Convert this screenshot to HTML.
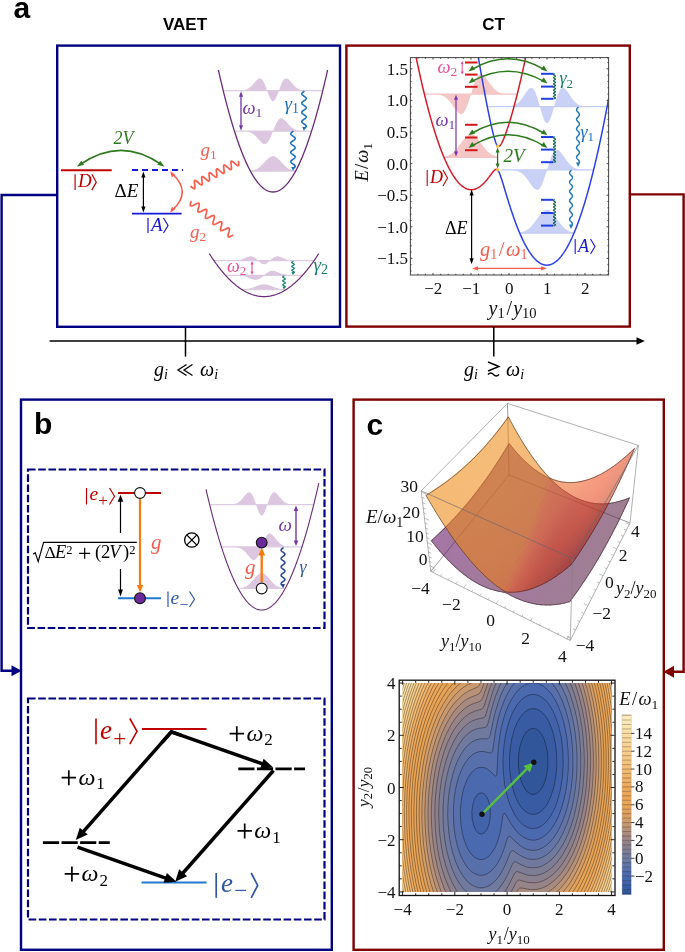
<!DOCTYPE html>
<html><head><meta charset="utf-8"><style>
html,body{margin:0;padding:0;background:#fff;}
svg{display:block;will-change:transform;}
</style></head><body>
<svg width="685" height="952" viewBox="0 0 685 952">
<rect width="685" height="952" fill="#fff"/>
<rect x="57.2" y="45.6" width="282.8" height="281.2" fill="none" stroke="#000080" stroke-width="2.4"/>
<rect x="346.4" y="45.6" width="283.4" height="281" fill="none" stroke="#800000" stroke-width="2.4"/>
<rect x="21" y="399.6" width="310.8" height="550.2" fill="none" stroke="#000080" stroke-width="2.4"/>
<rect x="353.6" y="399.6" width="310.2" height="550.2" fill="none" stroke="#800000" stroke-width="2.4"/>
<path d="M57.2,195 H1.6 V670.7 H14" fill="none" stroke="#000080" stroke-width="2.4"/>
<path d="M21.5,670.7 L11.5,665.2 L11.5,676.2 Z" fill="#000080"/>
<path d="M629.8,194.4 H683.6 V671.8 H671" fill="none" stroke="#800000" stroke-width="2.4"/>
<path d="M663.5,671.8 L674,665.8 L674,677.8 Z" fill="#800000"/>
<line x1="49.6" y1="341" x2="637" y2="341" stroke="#000" stroke-width="1.7"/>
<path d="M644.8,341 L636.5,337.2 L636.5,344.8 Z" fill="#000"/>
<line x1="185.5" y1="327" x2="185.5" y2="356.6" stroke="#000" stroke-width="1.5"/>
<line x1="493.8" y1="327" x2="493.8" y2="356.6" stroke="#000" stroke-width="1.5"/>
<text x="154" y="376" style="font-family:'Liberation Serif',serif;font-size:20px;fill:#000;font-style:italic" text-anchor="start">g<tspan dy="3" font-size="14" font-style="italic">i</tspan></text>
<path d="M186.5,364.5 L178,370 L186.5,375.5" fill="none" stroke="#000" stroke-width="1.3"/>
<path d="M192.5,364.5 L184,370 L192.5,375.5" fill="none" stroke="#000" stroke-width="1.3"/>
<text x="200" y="376" style="font-family:'Liberation Serif',serif;font-size:20px;fill:#000;font-style:italic" text-anchor="start">&#969;<tspan dy="3" font-size="14" font-style="italic">i</tspan></text>
<text x="464" y="376" style="font-family:'Liberation Serif',serif;font-size:20px;fill:#000;font-style:italic" text-anchor="start">g<tspan dy="3" font-size="14" font-style="italic">i</tspan></text>
<path d="M488,362 L499,366.5 L488,371" fill="none" stroke="#000" stroke-width="1.4"/>
<path d="M488,374.5 q2.75,-3 5.5,0 t5.5,0" fill="none" stroke="#000" stroke-width="1.4"/>
<text x="506" y="376" style="font-family:'Liberation Serif',serif;font-size:20px;fill:#000;font-style:italic" text-anchor="start">&#969;<tspan dy="3" font-size="14" font-style="italic">i</tspan></text>
<text x="13.5" y="17.5" style="font-family:'Liberation Sans',sans-serif;font-size:30px;fill:#000;font-weight:bold" text-anchor="start">a</text>
<text x="34" y="434.4" style="font-family:'Liberation Sans',sans-serif;font-size:30px;fill:#000;font-weight:bold" text-anchor="start">b</text>
<text x="366.5" y="434.7" style="font-family:'Liberation Sans',sans-serif;font-size:30px;fill:#000;font-weight:bold" text-anchor="start">c</text>
<text x="185" y="30.2" style="font-family:'Liberation Sans',sans-serif;font-size:17px;fill:#000;font-weight:bold" text-anchor="middle">VAET</text>
<text x="493.5" y="30.2" style="font-family:'Liberation Sans',sans-serif;font-size:17px;fill:#000;font-weight:bold" text-anchor="middle">CT</text>
<line x1="61" y1="170.2" x2="111.7" y2="170.2" stroke="#c00000" stroke-width="1.9"/>
<line x1="75.1" y1="174.2" x2="75.1" y2="190.1" stroke="#c00000" stroke-width="1.2"/>
<text x="78" y="187.3" style="font-family:'Liberation Serif',serif;font-size:19px;fill:#c00000;font-style:italic" text-anchor="start">D</text>
<path d="M91.8,174.2 L96.3,182.15 L91.8,190.1" fill="none" stroke="#c00000" stroke-width="1.2" stroke-linejoin="miter"/>
<path d="M80,164.6 Q121,136 161.5,164.6" fill="none" stroke="#2e7a1e" stroke-width="1.7"/>
<path d="M76.9,166.7 L81.25,160.67 L84.08,164.79 Z" fill="#2e7a1e"/>
<path d="M164.5,166.7 L157.32,164.79 L160.15,160.67 Z" fill="#2e7a1e"/>
<text x="113.5" y="144" style="font-family:'Liberation Serif',serif;font-size:18px;fill:#2e7a1e;font-style:italic" text-anchor="start">2<tspan>V</tspan></text>
<line x1="132" y1="170" x2="183" y2="170" stroke="#1818d8" stroke-width="1.8" stroke-dasharray="6,4"/>
<line x1="132" y1="213.6" x2="181.6" y2="213.6" stroke="#1818d8" stroke-width="1.9"/>
<line x1="148" y1="218" x2="148" y2="233" stroke="#1818d8" stroke-width="1.2"/>
<text x="151" y="230.5" style="font-family:'Liberation Serif',serif;font-size:19px;fill:#1818d8;font-style:italic" text-anchor="start">A</text>
<path d="M163.5,218 L168,225.5 L163.5,233" fill="none" stroke="#1818d8" stroke-width="1.2" stroke-linejoin="miter"/>
<text x="114.5" y="197" style="font-family:'Liberation Serif',serif;font-size:19px;fill:#000" text-anchor="start">&#916;<tspan font-style="italic">E</tspan></text>
<line x1="143.4" y1="175.7" x2="143.4" y2="208.3" stroke="#000" stroke-width="1.2"/>
<path d="M143.4,171.5 L145.5,177.5 L141.3,177.5 Z" fill="#000"/>
<path d="M143.4,212.5 L141.3,206.5 L145.5,206.5 Z" fill="#000"/>
<path d="M172.5,174 Q192,192 172.5,210" fill="none" stroke="#f75c4c" stroke-width="1.6"/>
<path d="M170,171.2 L175.4,174.65 L171.8,177.35 Z" fill="#f75c4c"/>
<path d="M170,212.8 L171.8,206.65 L175.4,209.35 Z" fill="#f75c4c"/>
<path d="M191,186.5 L191.58,187.02 L192.14,187.52 L192.68,187.96 L193.17,188.32 L193.62,188.59 L194,188.75 L194.32,188.78 L194.57,188.68 L194.75,188.45 L194.87,188.09 L194.92,187.61 L194.92,187.03 L194.87,186.37 L194.79,185.64 L194.69,184.87 L194.59,184.1 L194.49,183.34 L194.42,182.63 L194.38,181.98 L194.39,181.42 L194.46,180.97 L194.59,180.64 L194.79,180.44 L195.05,180.37 L195.39,180.43 L195.79,180.62 L196.25,180.91 L196.75,181.29 L197.29,181.75 L197.86,182.25 L198.44,182.78 L199.02,183.29 L199.58,183.78 L200.1,184.2 L200.59,184.55 L201.02,184.79 L201.39,184.92 L201.69,184.92 L201.93,184.79 L202.09,184.53 L202.19,184.14 L202.23,183.64 L202.22,183.04 L202.16,182.36 L202.08,181.62 L201.98,180.85 L201.87,180.08 L201.78,179.33 L201.72,178.63 L201.69,178 L201.71,177.46 L201.79,177.04 L201.94,176.74 L202.15,176.57 L202.43,176.53 L202.78,176.62 L203.2,176.83 L203.67,177.14 L204.18,177.55 L204.73,178.02 L205.3,178.53 L205.88,179.05 L206.46,179.56 L207.01,180.03 L207.53,180.44 L208,180.77 L208.42,180.99 L208.77,181.09 L209.06,181.06 L209.28,180.9 L209.43,180.61 L209.52,180.19 L209.54,179.66 L209.52,179.04 L209.45,178.34 L209.36,177.6 L209.26,176.82 L209.16,176.06 L209.07,175.31 L209.01,174.63 L209,174.02 L209.03,173.51 L209.13,173.11 L209.29,172.84 L209.52,172.7 L209.81,172.69 L210.18,172.81 L210.61,173.05 L211.09,173.38 L211.61,173.8 L212.17,174.28 L212.74,174.8 L213.32,175.32 L213.89,175.83 L214.44,176.29 L214.95,176.68 L215.41,176.98 L215.81,177.17 L216.15,177.24 L216.43,177.19 L216.63,176.99 L216.76,176.67 L216.83,176.23 L216.85,175.68 L216.81,175.04 L216.74,174.33 L216.65,173.57 L216.54,172.8 L216.45,172.03 L216.36,171.3 L216.31,170.63 L216.31,170.05 L216.36,169.56 L216.46,169.19 L216.64,168.95 L216.89,168.84 L217.2,168.86 L217.58,169.01 L218.02,169.27 L218.51,169.63 L219.05,170.06 L219.61,170.56 L220.19,171.07 L220.76,171.6 L221.33,172.09 L221.87,172.54 L222.37,172.91 L222.82,173.19 L223.21,173.36 L223.53,173.4 L223.79,173.31 L223.97,173.09 L224.09,172.74 L224.15,172.27 L224.15,171.69 L224.11,171.03 L224.03,170.31 L223.93,169.55 L223.83,168.78 L223.73,168.02 L223.66,167.3 L223.62,166.64 L223.62,166.08 L223.68,165.62 L223.81,165.28 L224,165.07 L224.26,164.99 L224.59,165.04 L224.99,165.21 L225.44,165.5 L225.94,165.88 L226.48,166.33 L227.05,166.83 L227.63,167.35 L228.2,167.87 L228.76,168.36 L229.29,168.79 L229.78,169.14 L230.22,169.39 L230.59,169.53 L230.9,169.54 L231.14,169.42 L231.32,169.17 L231.42,168.79 L231.46,168.3 L231.45,167.7 L231.4,167.03 L231.32,166.29 L231.22,165.53 L231.11,164.75 L231.02,164 L230.95,163.29 L230.92,162.66 L230.94,162.12 L231.01,161.68 L231.15,161.37 L231.36,161.19 L231.64,161.14 L231.98,161.22 L232.39,161.42 L232.86,161.73 L233.37,162.13 L233.92,162.59 L234.49,163.1 L235.07,163.62 L235.64,164.14 L236.2,164.62 L236.72,165.03 L237.2,165.36 L237.62,165.59 L237.98,165.7 L238.27,165.68 L238.5,165.53 L238.65,165.25 L238.74,164.84 L238.77,164.32 L238.75,163.71 L238.69,163.02 L238.6,162.27 L238.5,161.5" fill="none" stroke="#f75c4c" stroke-width="1.7" stroke-linecap="round" stroke-linejoin="round"/>
<path d="M191,201.5 L190.82,202.15 L190.64,202.78 L190.49,203.39 L190.38,203.96 L190.3,204.47 L190.28,204.92 L190.32,205.29 L190.42,205.6 L190.59,205.81 L190.82,205.95 L191.12,206 L191.49,205.98 L191.92,205.88 L192.4,205.72 L192.92,205.51 L193.48,205.25 L194.06,204.95 L194.66,204.65 L195.26,204.34 L195.86,204.04 L196.43,203.77 L196.96,203.53 L197.46,203.35 L197.91,203.23 L198.3,203.18 L198.62,203.2 L198.88,203.31 L199.07,203.5 L199.2,203.77 L199.26,204.12 L199.26,204.54 L199.2,205.03 L199.1,205.58 L198.96,206.17 L198.8,206.8 L198.61,207.45 L198.43,208.1 L198.25,208.74 L198.09,209.36 L197.96,209.94 L197.87,210.47 L197.83,210.94 L197.84,211.35 L197.92,211.68 L198.06,211.93 L198.27,212.09 L198.55,212.18 L198.9,212.18 L199.3,212.11 L199.76,211.97 L200.27,211.77 L200.82,211.53 L201.4,211.24 L201.99,210.94 L202.59,210.63 L203.19,210.33 L203.77,210.04 L204.32,209.79 L204.83,209.59 L205.3,209.45 L205.71,209.37 L206.06,209.37 L206.34,209.44 L206.56,209.6 L206.71,209.84 L206.79,210.16 L206.81,210.56 L206.77,211.03 L206.69,211.56 L206.56,212.14 L206.4,212.75 L206.23,213.39 L206.04,214.04 L205.86,214.69 L205.69,215.32 L205.55,215.91 L205.44,216.46 L205.38,216.96 L205.38,217.39 L205.43,217.75 L205.55,218.03 L205.73,218.22 L205.99,218.34 L206.31,218.37 L206.69,218.32 L207.13,218.21 L207.63,218.03 L208.16,217.8 L208.73,217.53 L209.32,217.24 L209.92,216.93 L210.52,216.62 L211.1,216.33 L211.67,216.06 L212.19,215.84 L212.68,215.67 L213.11,215.57 L213.48,215.54 L213.79,215.59 L214.03,215.72 L214.21,215.93 L214.31,216.22 L214.35,216.59 L214.34,217.03 L214.27,217.54 L214.16,218.1 L214.01,218.71 L213.84,219.34 L213.65,219.99 L213.47,220.64 L213.29,221.27 L213.14,221.88 L213.02,222.45 L212.94,222.97 L212.92,223.42 L212.95,223.81 L213.04,224.12 L213.2,224.34 L213.43,224.49 L213.73,224.55 L214.09,224.53 L214.51,224.44 L214.99,224.28 L215.51,224.07 L216.06,223.82 L216.65,223.53 L217.25,223.22 L217.85,222.91 L218.44,222.61 L219.01,222.34 L219.55,222.1 L220.05,221.91 L220.5,221.78 L220.9,221.72 L221.23,221.74 L221.5,221.84 L221.7,222.02 L221.83,222.29 L221.89,222.63 L221.9,223.05 L221.85,223.53 L221.75,224.07 L221.61,224.66 L221.45,225.29 L221.27,225.93 L221.08,226.58 L220.9,227.22 L220.74,227.85 L220.61,228.43 L220.51,228.97 L220.47,229.45 L220.48,229.86 L220.55,230.2 L220.68,230.45 L220.89,230.63 L221.16,230.72 L221.5,230.73 L221.9,230.66 L222.35,230.53 L222.86,230.34 L223.4,230.1 L223.98,229.82 L224.57,229.52 L225.17,229.21 L225.77,228.9 L226.35,228.61 L226.91,228.36 L227.42,228.15 L227.89,228 L228.31,227.92 L228.66,227.91 L228.95,227.98 L229.18,228.13 L229.33,228.36 L229.42,228.68 L229.45,229.07 L229.41,229.53 L229.33,230.05 L229.21,230.63 L229.06,231.24 L228.88,231.88 L228.69,232.53 L228.51,233.17 L228.34,233.81 L228.2,234.41 L228.09,234.96 L228.02,235.46 L228.01,235.9 L228.06,236.26 L228.17,236.55 L228.35,236.75 L228.6,236.88 L228.91,236.91 L229.29,236.88 L229.73,236.77 L230.22,236.6 L230.75,236.37 L231.31,236.1 L231.9,235.81 L232.5,235.5" fill="none" stroke="#f75c4c" stroke-width="1.7" stroke-linecap="round" stroke-linejoin="round"/>
<text x="200.5" y="156" style="font-family:'Liberation Serif',serif;font-size:19px;fill:#f75c4c;font-style:italic" text-anchor="start">g<tspan dy="3" font-size="13.5" font-style="normal">1</tspan></text>
<text x="190" y="238" style="font-family:'Liberation Serif',serif;font-size:19px;fill:#f75c4c;font-style:italic" text-anchor="start">g<tspan dy="3" font-size="13" font-style="normal">2</tspan></text>
<path d="M223.81,90.6 L223.81,90.6 L224.64,90.6 L225.47,90.6 L226.29,90.6 L227.12,90.6 L227.95,90.6 L228.77,90.6 L229.6,90.6 L230.43,90.6 L231.25,90.6 L232.08,90.6 L232.91,90.6 L233.73,90.59 L234.56,90.59 L235.39,90.59 L236.21,90.58 L237.04,90.57 L237.87,90.55 L238.69,90.53 L239.52,90.5 L240.35,90.46 L241.17,90.41 L242,90.33 L242.83,90.24 L243.65,90.11 L244.48,89.94 L245.31,89.74 L246.13,89.48 L246.96,89.15 L247.79,88.76 L248.61,88.29 L249.44,87.74 L250.27,87.1 L251.09,86.38 L251.92,85.57 L252.75,84.7 L253.57,83.76 L254.4,82.8 L255.23,81.83 L256.05,80.91 L256.88,80.06 L257.71,79.34 L258.53,78.8 L259.36,78.48 L260.19,78.45 L261.01,78.73 L261.84,79.35 L262.67,80.32 L263.49,81.65 L264.32,83.3 L265.15,85.23 L265.97,87.38 L266.8,89.67 L267.63,91.99 L268.45,94.26 L269.28,96.35 L270.11,98.17 L270.93,99.62 L271.76,100.64 L272.59,101.16 L273.41,101.16 L274.24,100.64 L275.07,99.62 L275.89,98.17 L276.72,96.35 L277.55,94.26 L278.37,91.99 L279.2,89.67 L280.03,87.38 L280.85,85.23 L281.68,83.3 L282.51,81.65 L283.33,80.32 L284.16,79.35 L284.99,78.73 L285.81,78.45 L286.64,78.48 L287.47,78.8 L288.29,79.34 L289.12,80.06 L289.95,80.91 L290.77,81.83 L291.6,82.8 L292.43,83.76 L293.25,84.7 L294.08,85.57 L294.91,86.38 L295.73,87.1 L296.56,87.74 L297.39,88.29 L298.21,88.76 L299.04,89.15 L299.87,89.48 L300.69,89.74 L301.52,89.94 L302.35,90.11 L303.17,90.24 L304,90.33 L304.83,90.41 L305.65,90.46 L306.48,90.5 L307.31,90.53 L308.13,90.55 L308.96,90.57 L309.79,90.58 L310.61,90.59 L311.44,90.59 L312.27,90.59 L313.09,90.6 L313.92,90.6 L314.75,90.6 L315.57,90.6 L316.4,90.6 L317.23,90.6 L318.05,90.6 L318.88,90.6 L319.71,90.6 L320.53,90.6 L321.36,90.6 L322.19,90.6 L322.19,90.6 Z" fill="#dcc6e0" stroke="none"/>
<line x1="223.31" y1="90.6" x2="322.69" y2="90.6" stroke="#dccbe0" stroke-width="1.3"/>
<path d="M235.03,131.2 L235.03,131.2 L235.66,131.2 L236.3,131.21 L236.94,131.21 L237.58,131.21 L238.22,131.21 L238.86,131.22 L239.49,131.22 L240.13,131.23 L240.77,131.24 L241.41,131.26 L242.05,131.28 L242.68,131.3 L243.32,131.33 L243.96,131.36 L244.6,131.41 L245.24,131.46 L245.88,131.53 L246.51,131.62 L247.15,131.72 L247.79,131.84 L248.43,131.99 L249.07,132.16 L249.7,132.36 L250.34,132.6 L250.98,132.87 L251.62,133.18 L252.26,133.54 L252.9,133.94 L253.53,134.38 L254.17,134.88 L254.81,135.42 L255.45,136 L256.09,136.63 L256.73,137.29 L257.36,137.99 L258,138.7 L258.64,139.43 L259.28,140.16 L259.92,140.87 L260.55,141.55 L261.19,142.19 L261.83,142.76 L262.47,143.25 L263.11,143.65 L263.75,143.92 L264.38,144.07 L265.02,144.07 L265.66,143.91 L266.3,143.58 L266.94,143.09 L267.58,142.42 L268.21,141.58 L268.85,140.57 L269.49,139.42 L270.13,138.12 L270.77,136.71 L271.4,135.21 L272.04,133.63 L272.68,132.02 L273.32,130.38 L273.96,128.77 L274.6,127.19 L275.23,125.69 L275.87,124.28 L276.51,122.98 L277.15,121.83 L277.79,120.82 L278.42,119.98 L279.06,119.31 L279.7,118.82 L280.34,118.49 L280.98,118.33 L281.62,118.33 L282.25,118.48 L282.89,118.75 L283.53,119.15 L284.17,119.64 L284.81,120.21 L285.45,120.85 L286.08,121.53 L286.72,122.24 L287.36,122.97 L288,123.7 L288.64,124.41 L289.27,125.11 L289.91,125.77 L290.55,126.4 L291.19,126.98 L291.83,127.52 L292.47,128.02 L293.1,128.46 L293.74,128.86 L294.38,129.22 L295.02,129.53 L295.66,129.8 L296.3,130.04 L296.93,130.24 L297.57,130.41 L298.21,130.56 L298.85,130.68 L299.49,130.78 L300.12,130.87 L300.76,130.94 L301.4,130.99 L302.04,131.04 L302.68,131.07 L303.32,131.1 L303.95,131.12 L304.59,131.14 L305.23,131.16 L305.87,131.17 L306.51,131.18 L307.14,131.18 L307.78,131.19 L308.42,131.19 L309.06,131.19 L309.7,131.19 L310.34,131.2 L310.97,131.2 L310.97,131.2 Z" fill="#dcc6e0" stroke="none"/>
<line x1="234.53" y1="131.2" x2="311.47" y2="131.2" stroke="#dccbe0" stroke-width="1.3"/>
<path d="M251,171.2 L251,170.75 L251.37,170.7 L251.74,170.64 L252.11,170.57 L252.48,170.49 L252.85,170.41 L253.22,170.32 L253.59,170.23 L253.96,170.12 L254.32,170 L254.69,169.88 L255.06,169.75 L255.43,169.6 L255.8,169.44 L256.17,169.28 L256.54,169.1 L256.91,168.9 L257.28,168.7 L257.65,168.48 L258.02,168.25 L258.39,168.01 L258.76,167.75 L259.13,167.48 L259.5,167.2 L259.87,166.9 L260.24,166.59 L260.61,166.27 L260.98,165.93 L261.35,165.59 L261.72,165.23 L262.09,164.87 L262.46,164.49 L262.83,164.11 L263.2,163.72 L263.57,163.32 L263.94,162.92 L264.31,162.52 L264.68,162.11 L265.05,161.71 L265.42,161.3 L265.79,160.9 L266.16,160.5 L266.53,160.12 L266.9,159.73 L267.27,159.36 L267.64,159.01 L268.01,158.66 L268.38,158.34 L268.75,158.03 L269.12,157.73 L269.49,157.46 L269.86,157.22 L270.23,156.99 L270.6,156.79 L270.97,156.62 L271.34,156.48 L271.71,156.36 L272.08,156.27 L272.45,156.21 L272.82,156.18 L273.18,156.18 L273.55,156.21 L273.92,156.27 L274.29,156.36 L274.66,156.48 L275.03,156.62 L275.4,156.79 L275.77,156.99 L276.14,157.22 L276.51,157.46 L276.88,157.73 L277.25,158.03 L277.62,158.34 L277.99,158.66 L278.36,159.01 L278.73,159.36 L279.1,159.73 L279.47,160.12 L279.84,160.5 L280.21,160.9 L280.58,161.3 L280.95,161.71 L281.32,162.11 L281.69,162.52 L282.06,162.92 L282.43,163.32 L282.8,163.72 L283.17,164.11 L283.54,164.49 L283.91,164.87 L284.28,165.23 L284.65,165.59 L285.02,165.93 L285.39,166.27 L285.76,166.59 L286.13,166.9 L286.5,167.2 L286.87,167.48 L287.24,167.75 L287.61,168.01 L287.98,168.25 L288.35,168.48 L288.72,168.7 L289.09,168.9 L289.46,169.1 L289.83,169.28 L290.2,169.44 L290.57,169.6 L290.94,169.75 L291.31,169.88 L291.68,170 L292.04,170.12 L292.41,170.23 L292.78,170.32 L293.15,170.41 L293.52,170.49 L293.89,170.57 L294.26,170.64 L294.63,170.7 L295,170.75 L295,171.2 Z" fill="#dcc6e0" stroke="none"/>
<line x1="250.5" y1="171.2" x2="295.5" y2="171.2" stroke="#dccbe0" stroke-width="1.3"/>
<path d="M218.4,70 L219.09,73.05 L219.77,76.06 L220.46,79.03 L221.15,81.97 L221.83,84.86 L222.52,87.72 L223.21,90.54 L223.89,93.32 L224.58,96.06 L225.27,98.76 L225.95,101.43 L226.64,104.05 L227.33,106.64 L228.02,109.19 L228.7,111.69 L229.39,114.17 L230.08,116.6 L230.76,118.99 L231.45,121.35 L232.14,123.66 L232.82,125.94 L233.51,128.18 L234.2,130.38 L234.88,132.54 L235.57,134.67 L236.26,136.75 L236.94,138.8 L237.63,140.8 L238.32,142.77 L239,144.7 L239.69,146.59 L240.38,148.45 L241.06,150.26 L241.75,152.04 L242.44,153.78 L243.12,155.47 L243.81,157.13 L244.5,158.76 L245.18,160.34 L245.87,161.88 L246.56,163.39 L247.25,164.86 L247.93,166.28 L248.62,167.67 L249.31,169.02 L249.99,170.34 L250.68,171.61 L251.37,172.85 L252.05,174.04 L252.74,175.2 L253.43,176.32 L254.11,177.4 L254.8,178.44 L255.49,179.45 L256.17,180.41 L256.86,181.34 L257.55,182.23 L258.23,183.08 L258.92,183.89 L259.61,184.66 L260.29,185.39 L260.98,186.09 L261.67,186.74 L262.35,187.36 L263.04,187.94 L263.73,188.48 L264.42,188.98 L265.1,189.45 L265.79,189.87 L266.48,190.26 L267.16,190.61 L267.85,190.91 L268.54,191.18 L269.22,191.42 L269.91,191.61 L270.6,191.76 L271.28,191.88 L271.97,191.96 L272.66,192 L273.34,192 L274.03,191.96 L274.72,191.88 L275.4,191.76 L276.09,191.61 L276.78,191.42 L277.46,191.18 L278.15,190.91 L278.84,190.61 L279.52,190.26 L280.21,189.87 L280.9,189.45 L281.58,188.98 L282.27,188.48 L282.96,187.94 L283.65,187.36 L284.33,186.74 L285.02,186.09 L285.71,185.39 L286.39,184.66 L287.08,183.89 L287.77,183.08 L288.45,182.23 L289.14,181.34 L289.83,180.41 L290.51,179.45 L291.2,178.44 L291.89,177.4 L292.57,176.32 L293.26,175.2 L293.95,174.04 L294.63,172.85 L295.32,171.61 L296.01,170.34 L296.69,169.02 L297.38,167.67 L298.07,166.28 L298.75,164.86 L299.44,163.39 L300.13,161.88 L300.82,160.34 L301.5,158.76 L302.19,157.13 L302.88,155.47 L303.56,153.78 L304.25,152.04 L304.94,150.26 L305.62,148.45 L306.31,146.59 L307,144.7 L307.68,142.77 L308.37,140.8 L309.06,138.8 L309.74,136.75 L310.43,134.67 L311.12,132.54 L311.8,130.38 L312.49,128.18 L313.18,125.94 L313.86,123.66 L314.55,121.35 L315.24,118.99 L315.92,116.6 L316.61,114.17 L317.3,111.69 L317.98,109.19 L318.67,106.64 L319.36,104.05 L320.05,101.43 L320.73,98.76 L321.42,96.06 L322.11,93.32 L322.79,90.54 L323.48,87.72 L324.17,84.86 L324.85,81.97 L325.54,79.03 L326.23,76.06 L326.91,73.05 L327.6,70" fill="none" stroke="#6a2a7a" stroke-width="1.3"/>
<line x1="241" y1="95.05" x2="241" y2="126.95" stroke="#7535a8" stroke-width="1.3"/>
<path d="M241,91.2 L243,96.7 L239,96.7 Z" fill="#7535a8"/>
<path d="M241,130.8 L239,125.3 L243,125.3 Z" fill="#7535a8"/>
<text x="242.5" y="114" style="font-family:'Liberation Serif',serif;font-size:18.5px;fill:#7535a8;font-style:italic" text-anchor="start">&#969;<tspan dy="3" font-size="13.5" font-style="normal">1</tspan></text>
<text x="284.5" y="110" style="font-family:'Liberation Serif',serif;font-size:19px;fill:#1a72c4;font-style:italic" text-anchor="start">&#947;<tspan dy="3" font-size="14" font-style="normal">1</tspan></text>
<path d="M304,91.5 L303.72,91.69 L303.45,91.87 L303.19,92.06 L302.94,92.24 L302.71,92.43 L302.49,92.61 L302.3,92.8 L302.14,92.98 L302.01,93.17 L301.91,93.36 L301.84,93.54 L301.8,93.73 L301.8,93.91 L301.84,94.1 L301.91,94.28 L302.01,94.47 L302.14,94.65 L302.3,94.84 L302.49,95.02 L302.71,95.21 L302.94,95.4 L303.19,95.58 L303.45,95.77 L303.72,95.95 L304,96.14 L304.28,96.32 L304.55,96.51 L304.81,96.69 L305.06,96.88 L305.29,97.06 L305.51,97.25 L305.7,97.44 L305.86,97.62 L305.99,97.81 L306.09,97.99 L306.16,98.18 L306.2,98.36 L306.2,98.55 L306.16,98.73 L306.09,98.92 L305.99,99.11 L305.86,99.29 L305.7,99.48 L305.51,99.66 L305.29,99.85 L305.06,100.03 L304.81,100.22 L304.55,100.4 L304.28,100.59 L304,100.78 L303.72,100.96 L303.45,101.15 L303.19,101.33 L302.94,101.52 L302.71,101.7 L302.49,101.89 L302.3,102.07 L302.14,102.26 L302.01,102.44 L301.91,102.63 L301.84,102.82 L301.8,103 L301.8,103.19 L301.84,103.37 L301.91,103.56 L302.01,103.74 L302.14,103.93 L302.3,104.11 L302.49,104.3 L302.71,104.48 L302.94,104.67 L303.19,104.86 L303.45,105.04 L303.72,105.23 L304,105.41 L304.28,105.6 L304.55,105.78 L304.81,105.97 L305.06,106.15 L305.29,106.34 L305.51,106.53 L305.7,106.71 L305.86,106.9 L305.99,107.08 L306.09,107.27 L306.16,107.45 L306.2,107.64 L306.2,107.82 L306.16,108.01 L306.09,108.19 L305.99,108.38 L305.86,108.57 L305.7,108.75 L305.51,108.94 L305.29,109.12 L305.06,109.31 L304.81,109.49 L304.55,109.68 L304.28,109.86 L304,110.05 L303.72,110.24 L303.45,110.42 L303.19,110.61 L302.94,110.79 L302.71,110.98 L302.49,111.16 L302.3,111.35 L302.14,111.53 L302.01,111.72 L301.91,111.91 L301.84,112.09 L301.8,112.28 L301.8,112.46 L301.84,112.65 L301.91,112.83 L302.01,113.02 L302.14,113.2 L302.3,113.39 L302.49,113.57 L302.71,113.76 L302.94,113.95 L303.19,114.13 L303.45,114.32 L303.72,114.5 L304,114.69 L304.28,114.87 L304.55,115.06 L304.81,115.24 L305.06,115.43 L305.29,115.62 L305.51,115.8 L305.7,115.99 L305.86,116.17 L305.99,116.36 L306.09,116.54 L306.16,116.73 L306.2,116.91 L306.2,117.1 L306.16,117.28 L306.09,117.47 L305.99,117.66 L305.86,117.84 L305.7,118.03 L305.51,118.21 L305.29,118.4 L305.06,118.58 L304.81,118.77 L304.55,118.95 L304.28,119.14 L304,119.33 L303.72,119.51 L303.45,119.7 L303.19,119.88 L302.94,120.07 L302.71,120.25 L302.49,120.44 L302.3,120.62 L302.14,120.81 L302.01,120.99 L301.91,121.18 L301.84,121.37 L301.8,121.55 L301.8,121.74 L301.84,121.92 L301.91,122.11 L302.01,122.29 L302.14,122.48 L302.3,122.66 L302.49,122.85 L302.71,123.03 L302.94,123.22 L303.19,123.41 L303.45,123.59 L303.72,123.78 L304,123.96 L304.28,124.15 L304.55,124.33 L304.81,124.52 L305.06,124.7 L305.29,124.89 L305.51,125.08 L305.7,125.26 L305.86,125.45 L305.99,125.63 L306.09,125.82 L306.16,126 L306.2,126.19 L306.2,126.37 L306.16,126.56 L306.09,126.75 L305.99,126.93 L305.86,127.12 L305.7,127.3 L305.51,127.49 L305.29,127.67 L305.06,127.86 L304.81,128.04 L304.55,128.23 L304.28,128.41 L304,128.6" fill="none" stroke="#1a72c4" stroke-width="1.6" stroke-linecap="round" stroke-linejoin="round"/>
<path d="M304,131 L302.25,127 L305.75,127 Z" fill="#1a72c4"/>
<path d="M293,131.5 L292.72,131.69 L292.45,131.87 L292.19,132.06 L291.94,132.24 L291.71,132.43 L291.49,132.61 L291.3,132.8 L291.14,132.98 L291.01,133.17 L290.91,133.35 L290.84,133.54 L290.8,133.73 L290.8,133.91 L290.84,134.1 L290.91,134.28 L291.01,134.47 L291.14,134.65 L291.3,134.84 L291.49,135.02 L291.71,135.21 L291.94,135.4 L292.19,135.58 L292.45,135.77 L292.72,135.95 L293,136.14 L293.28,136.32 L293.55,136.51 L293.81,136.69 L294.06,136.88 L294.29,137.06 L294.51,137.25 L294.7,137.44 L294.86,137.62 L294.99,137.81 L295.09,137.99 L295.16,138.18 L295.2,138.36 L295.2,138.55 L295.16,138.73 L295.09,138.92 L294.99,139.11 L294.86,139.29 L294.7,139.48 L294.51,139.66 L294.29,139.85 L294.06,140.03 L293.81,140.22 L293.55,140.4 L293.28,140.59 L293,140.78 L292.72,140.96 L292.45,141.15 L292.19,141.33 L291.94,141.52 L291.71,141.7 L291.49,141.89 L291.3,142.07 L291.14,142.26 L291.01,142.44 L290.91,142.63 L290.84,142.82 L290.8,143 L290.8,143.19 L290.84,143.37 L290.91,143.56 L291.01,143.74 L291.14,143.93 L291.3,144.11 L291.49,144.3 L291.71,144.49 L291.94,144.67 L292.19,144.86 L292.45,145.04 L292.72,145.23 L293,145.41 L293.28,145.6 L293.55,145.78 L293.81,145.97 L294.06,146.15 L294.29,146.34 L294.51,146.53 L294.7,146.71 L294.86,146.9 L294.99,147.08 L295.09,147.27 L295.16,147.45 L295.2,147.64 L295.2,147.82 L295.16,148.01 L295.09,148.19 L294.99,148.38 L294.86,148.57 L294.7,148.75 L294.51,148.94 L294.29,149.12 L294.06,149.31 L293.81,149.49 L293.55,149.68 L293.28,149.86 L293,150.05 L292.72,150.24 L292.45,150.42 L292.19,150.61 L291.94,150.79 L291.71,150.98 L291.49,151.16 L291.3,151.35 L291.14,151.53 L291.01,151.72 L290.91,151.91 L290.84,152.09 L290.8,152.28 L290.8,152.46 L290.84,152.65 L290.91,152.83 L291.01,153.02 L291.14,153.2 L291.3,153.39 L291.49,153.57 L291.71,153.76 L291.94,153.95 L292.19,154.13 L292.45,154.32 L292.72,154.5 L293,154.69 L293.28,154.87 L293.55,155.06 L293.81,155.24 L294.06,155.43 L294.29,155.62 L294.51,155.8 L294.7,155.99 L294.86,156.17 L294.99,156.36 L295.09,156.54 L295.16,156.73 L295.2,156.91 L295.2,157.1 L295.16,157.28 L295.09,157.47 L294.99,157.66 L294.86,157.84 L294.7,158.03 L294.51,158.21 L294.29,158.4 L294.06,158.58 L293.81,158.77 L293.55,158.95 L293.28,159.14 L293,159.32 L292.72,159.51 L292.45,159.7 L292.19,159.88 L291.94,160.07 L291.71,160.25 L291.49,160.44 L291.3,160.62 L291.14,160.81 L291.01,160.99 L290.91,161.18 L290.84,161.37 L290.8,161.55 L290.8,161.74 L290.84,161.92 L290.91,162.11 L291.01,162.29 L291.14,162.48 L291.3,162.66 L291.49,162.85 L291.71,163.03 L291.94,163.22 L292.19,163.41 L292.45,163.59 L292.72,163.78 L293,163.96 L293.28,164.15 L293.55,164.33 L293.81,164.52 L294.06,164.7 L294.29,164.89 L294.51,165.08 L294.7,165.26 L294.86,165.45 L294.99,165.63 L295.09,165.82 L295.16,166 L295.2,166.19 L295.2,166.37 L295.16,166.56 L295.09,166.75 L294.99,166.93 L294.86,167.12 L294.7,167.3 L294.51,167.49 L294.29,167.67 L294.06,167.86 L293.81,168.04 L293.55,168.23 L293.28,168.41 L293,168.6" fill="none" stroke="#1a72c4" stroke-width="1.6" stroke-linecap="round" stroke-linejoin="round"/>
<path d="M293,171 L291.25,167 L294.75,167 Z" fill="#1a72c4"/>
<path d="M214.45,260.6 L214.45,260.6 L215.28,260.6 L216.12,260.6 L216.95,260.6 L217.78,260.6 L218.61,260.6 L219.45,260.6 L220.28,260.6 L221.11,260.6 L221.94,260.6 L222.78,260.6 L223.61,260.6 L224.44,260.6 L225.28,260.6 L226.11,260.6 L226.94,260.59 L227.77,260.59 L228.61,260.59 L229.44,260.58 L230.27,260.57 L231.11,260.56 L231.94,260.54 L232.77,260.51 L233.6,260.48 L234.44,260.44 L235.27,260.39 L236.1,260.32 L236.93,260.23 L237.77,260.12 L238.6,259.99 L239.43,259.83 L240.27,259.64 L241.1,259.42 L241.93,259.18 L242.76,258.9 L243.6,258.59 L244.43,258.27 L245.26,257.93 L246.1,257.59 L246.93,257.25 L247.76,256.95 L248.59,256.69 L249.43,256.49 L250.26,256.37 L251.09,256.34 L251.92,256.43 L252.76,256.63 L253.59,256.97 L254.42,257.42 L255.26,258 L256.09,258.67 L256.92,259.42 L257.75,260.23 L258.59,261.05 L259.42,261.85 L260.25,262.59 L261.09,263.23 L261.92,263.75 L262.75,264.11 L263.58,264.29 L264.42,264.29 L265.25,264.11 L266.08,263.75 L266.91,263.23 L267.75,262.59 L268.58,261.85 L269.41,261.05 L270.25,260.23 L271.08,259.42 L271.91,258.67 L272.74,258 L273.58,257.42 L274.41,256.97 L275.24,256.63 L276.08,256.43 L276.91,256.34 L277.74,256.37 L278.57,256.49 L279.41,256.69 L280.24,256.95 L281.07,257.25 L281.9,257.59 L282.74,257.93 L283.57,258.27 L284.4,258.59 L285.24,258.9 L286.07,259.18 L286.9,259.42 L287.73,259.64 L288.57,259.83 L289.4,259.99 L290.23,260.12 L291.07,260.23 L291.9,260.32 L292.73,260.39 L293.56,260.44 L294.4,260.48 L295.23,260.51 L296.06,260.54 L296.89,260.56 L297.73,260.57 L298.56,260.58 L299.39,260.59 L300.23,260.59 L301.06,260.59 L301.89,260.6 L302.72,260.6 L303.56,260.6 L304.39,260.6 L305.22,260.6 L306.06,260.6 L306.89,260.6 L307.72,260.6 L308.55,260.6 L309.39,260.6 L310.22,260.6 L311.05,260.6 L311.88,260.6 L312.72,260.6 L313.55,260.6 L313.55,260.6 Z" fill="#dcc6e0" stroke="none"/>
<line x1="213.95" y1="260.6" x2="314.05" y2="260.6" stroke="#dccbe0" stroke-width="1.2"/>
<path d="M226,275.3 L226,275.3 L226.64,275.3 L227.28,275.3 L227.92,275.3 L228.56,275.3 L229.19,275.3 L229.83,275.31 L230.47,275.31 L231.11,275.31 L231.75,275.32 L232.39,275.32 L233.03,275.33 L233.67,275.33 L234.3,275.34 L234.94,275.36 L235.58,275.37 L236.22,275.39 L236.86,275.42 L237.5,275.45 L238.14,275.48 L238.77,275.52 L239.41,275.57 L240.05,275.63 L240.69,275.7 L241.33,275.79 L241.97,275.88 L242.61,275.99 L243.24,276.12 L243.88,276.26 L244.52,276.41 L245.16,276.58 L245.8,276.77 L246.44,276.98 L247.08,277.2 L247.71,277.43 L248.35,277.67 L248.99,277.92 L249.63,278.18 L250.27,278.43 L250.91,278.68 L251.55,278.92 L252.19,279.14 L252.82,279.34 L253.46,279.52 L254.1,279.65 L254.74,279.75 L255.38,279.8 L256.02,279.8 L256.66,279.75 L257.29,279.63 L257.93,279.46 L258.57,279.23 L259.21,278.93 L259.85,278.58 L260.49,278.18 L261.13,277.72 L261.76,277.23 L262.4,276.7 L263.04,276.15 L263.68,275.59 L264.32,275.01 L264.96,274.45 L265.6,273.9 L266.24,273.37 L266.87,272.88 L267.51,272.42 L268.15,272.02 L268.79,271.67 L269.43,271.37 L270.07,271.14 L270.71,270.97 L271.34,270.85 L271.98,270.8 L272.62,270.8 L273.26,270.85 L273.9,270.95 L274.54,271.08 L275.18,271.26 L275.81,271.46 L276.45,271.68 L277.09,271.92 L277.73,272.17 L278.37,272.42 L279.01,272.68 L279.65,272.93 L280.29,273.17 L280.92,273.4 L281.56,273.62 L282.2,273.83 L282.84,274.02 L283.48,274.19 L284.12,274.34 L284.76,274.48 L285.39,274.61 L286.03,274.72 L286.67,274.81 L287.31,274.9 L287.95,274.97 L288.59,275.03 L289.23,275.08 L289.86,275.12 L290.5,275.15 L291.14,275.18 L291.78,275.21 L292.42,275.23 L293.06,275.24 L293.7,275.26 L294.33,275.27 L294.97,275.27 L295.61,275.28 L296.25,275.28 L296.89,275.29 L297.53,275.29 L298.17,275.29 L298.81,275.3 L299.44,275.3 L300.08,275.3 L300.72,275.3 L301.36,275.3 L302,275.3 L302,275.3 Z" fill="#dcc6e0" stroke="none"/>
<line x1="225.5" y1="275.3" x2="302.5" y2="275.3" stroke="#dccbe0" stroke-width="1.2"/>
<path d="M242.43,289.6 L242.43,289.42 L242.79,289.4 L243.16,289.38 L243.52,289.35 L243.88,289.32 L244.24,289.29 L244.61,289.26 L244.97,289.22 L245.33,289.18 L245.69,289.14 L246.06,289.09 L246.42,289.04 L246.78,288.99 L247.14,288.93 L247.51,288.87 L247.87,288.8 L248.23,288.74 L248.59,288.66 L248.96,288.58 L249.32,288.5 L249.68,288.41 L250.04,288.32 L250.41,288.23 L250.77,288.12 L251.13,288.02 L251.49,287.91 L251.86,287.8 L252.22,287.68 L252.58,287.56 L252.94,287.44 L253.31,287.31 L253.67,287.18 L254.03,287.04 L254.39,286.91 L254.76,286.77 L255.12,286.63 L255.48,286.5 L255.84,286.36 L256.21,286.22 L256.57,286.08 L256.93,285.94 L257.29,285.81 L257.66,285.67 L258.02,285.54 L258.38,285.42 L258.74,285.3 L259.11,285.18 L259.47,285.07 L259.83,284.97 L260.19,284.87 L260.56,284.78 L260.92,284.69 L261.28,284.62 L261.64,284.55 L262.01,284.49 L262.37,284.44 L262.73,284.4 L263.09,284.37 L263.46,284.35 L263.82,284.34 L264.18,284.34 L264.54,284.35 L264.91,284.37 L265.27,284.4 L265.63,284.44 L265.99,284.49 L266.36,284.55 L266.72,284.62 L267.08,284.69 L267.44,284.78 L267.81,284.87 L268.17,284.97 L268.53,285.07 L268.89,285.18 L269.26,285.3 L269.62,285.42 L269.98,285.54 L270.34,285.67 L270.71,285.81 L271.07,285.94 L271.43,286.08 L271.79,286.22 L272.16,286.36 L272.52,286.5 L272.88,286.63 L273.24,286.77 L273.61,286.91 L273.97,287.04 L274.33,287.18 L274.69,287.31 L275.06,287.44 L275.42,287.56 L275.78,287.68 L276.14,287.8 L276.51,287.91 L276.87,288.02 L277.23,288.12 L277.59,288.23 L277.96,288.32 L278.32,288.41 L278.68,288.5 L279.04,288.58 L279.41,288.66 L279.77,288.74 L280.13,288.8 L280.49,288.87 L280.86,288.93 L281.22,288.99 L281.58,289.04 L281.94,289.09 L282.31,289.14 L282.67,289.18 L283.03,289.22 L283.39,289.26 L283.76,289.29 L284.12,289.32 L284.48,289.35 L284.84,289.38 L285.21,289.4 L285.57,289.42 L285.57,289.6 Z" fill="#dcc6e0" stroke="none"/>
<line x1="241.93" y1="289.6" x2="286.07" y2="289.6" stroke="#dccbe0" stroke-width="1.2"/>
<path d="M209.3,253.6 L209.99,254.67 L210.68,255.74 L211.36,256.78 L212.05,257.82 L212.74,258.84 L213.43,259.85 L214.12,260.84 L214.8,261.82 L215.49,262.78 L216.18,263.74 L216.87,264.68 L217.56,265.6 L218.24,266.51 L218.93,267.41 L219.62,268.3 L220.31,269.17 L221,270.02 L221.68,270.87 L222.37,271.7 L223.06,272.51 L223.75,273.32 L224.44,274.11 L225.13,274.88 L225.81,275.64 L226.5,276.39 L227.19,277.13 L227.88,277.85 L228.57,278.56 L229.25,279.25 L229.94,279.93 L230.63,280.6 L231.32,281.25 L232.01,281.89 L232.69,282.51 L233.38,283.13 L234.07,283.73 L234.76,284.31 L235.45,284.88 L236.13,285.44 L236.82,285.98 L237.51,286.52 L238.2,287.03 L238.89,287.54 L239.57,288.03 L240.26,288.5 L240.95,288.96 L241.64,289.41 L242.33,289.85 L243.01,290.27 L243.7,290.68 L244.39,291.07 L245.08,291.45 L245.77,291.82 L246.45,292.18 L247.14,292.52 L247.83,292.84 L248.52,293.16 L249.21,293.46 L249.89,293.74 L250.58,294.01 L251.27,294.27 L251.96,294.52 L252.65,294.75 L253.34,294.97 L254.02,295.17 L254.71,295.36 L255.4,295.54 L256.09,295.7 L256.78,295.85 L257.46,295.99 L258.15,296.11 L258.84,296.22 L259.53,296.31 L260.22,296.39 L260.9,296.46 L261.59,296.52 L262.28,296.56 L262.97,296.58 L263.66,296.6 L264.34,296.6 L265.03,296.58 L265.72,296.56 L266.41,296.52 L267.1,296.46 L267.78,296.39 L268.47,296.31 L269.16,296.22 L269.85,296.11 L270.54,295.99 L271.22,295.85 L271.91,295.7 L272.6,295.54 L273.29,295.36 L273.98,295.17 L274.66,294.97 L275.35,294.75 L276.04,294.52 L276.73,294.27 L277.42,294.01 L278.11,293.74 L278.79,293.46 L279.48,293.16 L280.17,292.84 L280.86,292.52 L281.55,292.18 L282.23,291.82 L282.92,291.45 L283.61,291.07 L284.3,290.68 L284.99,290.27 L285.67,289.85 L286.36,289.41 L287.05,288.96 L287.74,288.5 L288.43,288.03 L289.11,287.54 L289.8,287.03 L290.49,286.52 L291.18,285.98 L291.87,285.44 L292.55,284.88 L293.24,284.31 L293.93,283.73 L294.62,283.13 L295.31,282.51 L295.99,281.89 L296.68,281.25 L297.37,280.6 L298.06,279.93 L298.75,279.25 L299.43,278.56 L300.12,277.85 L300.81,277.13 L301.5,276.39 L302.19,275.64 L302.87,274.88 L303.56,274.11 L304.25,273.32 L304.94,272.51 L305.63,271.7 L306.32,270.87 L307,270.02 L307.69,269.17 L308.38,268.3 L309.07,267.41 L309.76,266.51 L310.44,265.6 L311.13,264.68 L311.82,263.74 L312.51,262.78 L313.2,261.82 L313.88,260.84 L314.57,259.85 L315.26,258.84 L315.95,257.82 L316.64,256.78 L317.32,255.74 L318.01,254.67 L318.7,253.6" fill="none" stroke="#6a2a7a" stroke-width="1.2"/>
<line x1="252" y1="263.45" x2="252" y2="272.55" stroke="#e8509a" stroke-width="1.1"/>
<path d="M252,261 L253.5,264.5 L250.5,264.5 Z" fill="#e8509a"/>
<path d="M252,275 L250.5,271.5 L253.5,271.5 Z" fill="#e8509a"/>
<text x="227" y="271.5" style="font-family:'Liberation Serif',serif;font-size:18px;fill:#e8509a;font-style:italic" text-anchor="start">&#969;<tspan dy="3" font-size="13" font-style="normal">2</tspan></text>
<text x="313.5" y="271" style="font-family:'Liberation Serif',serif;font-size:19px;fill:#18806e;font-style:italic" text-anchor="start">&#947;<tspan dy="3" font-size="14" font-style="normal">2</tspan></text>
<path d="M293,261.5 L292.88,261.56 L292.76,261.62 L292.64,261.68 L292.52,261.73 L292.41,261.79 L292.3,261.85 L292.2,261.91 L292.11,261.97 L292.02,262.03 L291.95,262.08 L291.88,262.14 L291.82,262.2 L291.78,262.26 L291.74,262.32 L291.72,262.38 L291.7,262.44 L291.7,262.49 L291.71,262.55 L291.73,262.61 L291.76,262.67 L291.81,262.73 L291.86,262.79 L291.92,262.85 L292,262.9 L292.08,262.96 L292.17,263.02 L292.27,263.08 L292.37,263.14 L292.48,263.2 L292.6,263.25 L292.72,263.31 L292.84,263.37 L292.96,263.43 L293.08,263.49 L293.2,263.55 L293.32,263.61 L293.44,263.66 L293.55,263.72 L293.66,263.78 L293.76,263.84 L293.86,263.9 L293.95,263.96 L294.03,264.02 L294.1,264.07 L294.16,264.13 L294.21,264.19 L294.25,264.25 L294.28,264.31 L294.29,264.37 L294.3,264.43 L294.29,264.48 L294.28,264.54 L294.25,264.6 L294.21,264.66 L294.16,264.72 L294.1,264.78 L294.03,264.83 L293.95,264.89 L293.86,264.95 L293.76,265.01 L293.66,265.07 L293.55,265.13 L293.44,265.19 L293.32,265.24 L293.2,265.3 L293.08,265.36 L292.96,265.42 L292.84,265.48 L292.72,265.54 L292.6,265.6 L292.48,265.65 L292.37,265.71 L292.27,265.77 L292.17,265.83 L292.08,265.89 L292,265.95 L291.92,266 L291.86,266.06 L291.81,266.12 L291.76,266.18 L291.73,266.24 L291.71,266.3 L291.7,266.36 L291.7,266.41 L291.72,266.47 L291.74,266.53 L291.78,266.59 L291.82,266.65 L291.88,266.71 L291.95,266.76 L292.02,266.82 L292.11,266.88 L292.2,266.94 L292.3,267 L292.41,267.06 L292.52,267.12 L292.64,267.17 L292.76,267.23 L292.88,267.29 L293,267.35 L293.12,267.41 L293.24,267.47 L293.36,267.53 L293.48,267.58 L293.59,267.64 L293.7,267.7 L293.8,267.76 L293.89,267.82 L293.98,267.88 L294.05,267.94 L294.12,267.99 L294.18,268.05 L294.22,268.11 L294.26,268.17 L294.28,268.23 L294.3,268.29 L294.3,268.34 L294.29,268.4 L294.27,268.46 L294.24,268.52 L294.19,268.58 L294.14,268.64 L294.08,268.7 L294,268.75 L293.92,268.81 L293.83,268.87 L293.73,268.93 L293.63,268.99 L293.52,269.05 L293.4,269.11 L293.28,269.16 L293.16,269.22 L293.04,269.28 L292.92,269.34 L292.8,269.4 L292.68,269.46 L292.56,269.51 L292.45,269.57 L292.34,269.63 L292.24,269.69 L292.14,269.75 L292.05,269.81 L291.97,269.87 L291.9,269.92 L291.84,269.98 L291.79,270.04 L291.75,270.1 L291.72,270.16 L291.71,270.22 L291.7,270.27 L291.71,270.33 L291.72,270.39 L291.75,270.45 L291.79,270.51 L291.84,270.57 L291.9,270.63 L291.97,270.68 L292.05,270.74 L292.14,270.8 L292.24,270.86 L292.34,270.92 L292.45,270.98 L292.56,271.04 L292.68,271.09 L292.8,271.15 L292.92,271.21 L293.04,271.27 L293.16,271.33 L293.28,271.39 L293.4,271.44 L293.52,271.5 L293.63,271.56 L293.73,271.62 L293.83,271.68 L293.92,271.74 L294,271.8 L294.08,271.85 L294.14,271.91 L294.19,271.97 L294.24,272.03 L294.27,272.09 L294.29,272.15 L294.3,272.21 L294.3,272.26 L294.28,272.32 L294.26,272.38 L294.22,272.44 L294.18,272.5 L294.12,272.56 L294.05,272.62 L293.98,272.67 L293.89,272.73 L293.8,272.79 L293.7,272.85 L293.59,272.91 L293.48,272.97 L293.36,273.02 L293.24,273.08 L293.12,273.14 L293,273.2" fill="none" stroke="#18806e" stroke-width="1.2" stroke-linecap="round" stroke-linejoin="round"/>
<path d="M293,275 L291.5,272 L294.5,272 Z" fill="#18806e"/>
<path d="M284,276 L283.88,276.06 L283.76,276.12 L283.64,276.18 L283.52,276.23 L283.41,276.29 L283.3,276.35 L283.2,276.41 L283.11,276.47 L283.02,276.53 L282.95,276.58 L282.88,276.64 L282.82,276.7 L282.78,276.76 L282.74,276.82 L282.72,276.88 L282.7,276.94 L282.7,276.99 L282.71,277.05 L282.73,277.11 L282.76,277.17 L282.81,277.23 L282.86,277.29 L282.92,277.35 L283,277.4 L283.08,277.46 L283.17,277.52 L283.27,277.58 L283.37,277.64 L283.48,277.7 L283.6,277.75 L283.72,277.81 L283.84,277.87 L283.96,277.93 L284.08,277.99 L284.2,278.05 L284.32,278.11 L284.44,278.16 L284.55,278.22 L284.66,278.28 L284.76,278.34 L284.86,278.4 L284.95,278.46 L285.03,278.52 L285.1,278.57 L285.16,278.63 L285.21,278.69 L285.25,278.75 L285.28,278.81 L285.29,278.87 L285.3,278.93 L285.29,278.98 L285.28,279.04 L285.25,279.1 L285.21,279.16 L285.16,279.22 L285.1,279.28 L285.03,279.33 L284.95,279.39 L284.86,279.45 L284.76,279.51 L284.66,279.57 L284.55,279.63 L284.44,279.69 L284.32,279.74 L284.2,279.8 L284.08,279.86 L283.96,279.92 L283.84,279.98 L283.72,280.04 L283.6,280.1 L283.48,280.15 L283.37,280.21 L283.27,280.27 L283.17,280.33 L283.08,280.39 L283,280.45 L282.92,280.5 L282.86,280.56 L282.81,280.62 L282.76,280.68 L282.73,280.74 L282.71,280.8 L282.7,280.86 L282.7,280.91 L282.72,280.97 L282.74,281.03 L282.78,281.09 L282.82,281.15 L282.88,281.21 L282.95,281.26 L283.02,281.32 L283.11,281.38 L283.2,281.44 L283.3,281.5 L283.41,281.56 L283.52,281.62 L283.64,281.67 L283.76,281.73 L283.88,281.79 L284,281.85 L284.12,281.91 L284.24,281.97 L284.36,282.03 L284.48,282.08 L284.59,282.14 L284.7,282.2 L284.8,282.26 L284.89,282.32 L284.98,282.38 L285.05,282.44 L285.12,282.49 L285.18,282.55 L285.22,282.61 L285.26,282.67 L285.28,282.73 L285.3,282.79 L285.3,282.84 L285.29,282.9 L285.27,282.96 L285.24,283.02 L285.19,283.08 L285.14,283.14 L285.08,283.2 L285,283.25 L284.92,283.31 L284.83,283.37 L284.73,283.43 L284.63,283.49 L284.52,283.55 L284.4,283.61 L284.28,283.66 L284.16,283.72 L284.04,283.78 L283.92,283.84 L283.8,283.9 L283.68,283.96 L283.56,284.01 L283.45,284.07 L283.34,284.13 L283.24,284.19 L283.14,284.25 L283.05,284.31 L282.97,284.37 L282.9,284.42 L282.84,284.48 L282.79,284.54 L282.75,284.6 L282.72,284.66 L282.71,284.72 L282.7,284.77 L282.71,284.83 L282.72,284.89 L282.75,284.95 L282.79,285.01 L282.84,285.07 L282.9,285.13 L282.97,285.18 L283.05,285.24 L283.14,285.3 L283.24,285.36 L283.34,285.42 L283.45,285.48 L283.56,285.54 L283.68,285.59 L283.8,285.65 L283.92,285.71 L284.04,285.77 L284.16,285.83 L284.28,285.89 L284.4,285.94 L284.52,286 L284.63,286.06 L284.73,286.12 L284.83,286.18 L284.92,286.24 L285,286.3 L285.08,286.35 L285.14,286.41 L285.19,286.47 L285.24,286.53 L285.27,286.59 L285.29,286.65 L285.3,286.71 L285.3,286.76 L285.28,286.82 L285.26,286.88 L285.22,286.94 L285.18,287 L285.12,287.06 L285.05,287.12 L284.98,287.17 L284.89,287.23 L284.8,287.29 L284.7,287.35 L284.59,287.41 L284.48,287.47 L284.36,287.52 L284.24,287.58 L284.12,287.64 L284,287.7" fill="none" stroke="#18806e" stroke-width="1.2" stroke-linecap="round" stroke-linejoin="round"/>
<path d="M284,289.5 L282.5,286.5 L285.5,286.5 Z" fill="#18806e"/>
<defs><clipPath id="ctclip"><rect x="410.4" y="57.6" width="198.2" height="217.4"/></clipPath></defs>
<g clip-path="url(#ctclip)">
<path d="M444.13,157.28 L444.13,156.65 L444.58,156.57 L445.03,156.48 L445.48,156.38 L445.94,156.27 L446.39,156.15 L446.84,156.02 L447.29,155.88 L447.74,155.72 L448.19,155.55 L448.65,155.37 L449.1,155.16 L449.55,154.95 L450,154.71 L450.45,154.46 L450.9,154.19 L451.36,153.9 L451.81,153.59 L452.26,153.26 L452.71,152.91 L453.16,152.54 L453.61,152.14 L454.07,151.73 L454.52,151.29 L454.97,150.84 L455.42,150.36 L455.87,149.87 L456.32,149.35 L456.77,148.81 L457.23,148.26 L457.68,147.69 L458.13,147.11 L458.58,146.51 L459.03,145.9 L459.48,145.28 L459.94,144.65 L460.39,144.02 L460.84,143.38 L461.29,142.75 L461.74,142.11 L462.19,141.48 L462.65,140.85 L463.1,140.24 L463.55,139.64 L464,139.05 L464.45,138.49 L464.9,137.94 L465.36,137.42 L465.81,136.93 L466.26,136.47 L466.71,136.04 L467.16,135.65 L467.61,135.29 L468.06,134.98 L468.52,134.7 L468.97,134.47 L469.42,134.28 L469.87,134.14 L470.32,134.05 L470.77,134 L471.23,134 L471.68,134.05 L472.13,134.14 L472.58,134.28 L473.03,134.47 L473.48,134.7 L473.94,134.98 L474.39,135.29 L474.84,135.65 L475.29,136.04 L475.74,136.47 L476.19,136.93 L476.64,137.42 L477.1,137.94 L477.55,138.49 L478,139.05 L478.45,139.64 L478.9,140.24 L479.35,140.85 L479.81,141.48 L480.26,142.11 L480.71,142.75 L481.16,143.38 L481.61,144.02 L482.06,144.65 L482.52,145.28 L482.97,145.9 L483.42,146.51 L483.87,147.11 L484.32,147.69 L484.77,148.26 L485.23,148.81 L485.68,149.35 L486.13,149.87 L486.58,150.36 L487.03,150.84 L487.48,151.29 L487.93,151.73 L488.39,152.14 L488.84,152.54 L489.29,152.91 L489.74,153.26 L490.19,153.59 L490.64,153.9 L491.1,154.19 L491.55,154.46 L492,154.71 L492.45,154.95 L492.9,155.16 L493.35,155.37 L493.81,155.55 L494.26,155.72 L494.71,155.88 L495.16,156.02 L495.61,156.15 L496.06,156.27 L496.52,156.38 L496.97,156.48 L497.42,156.57 L497.87,156.65 L497.87,157.28 Z" fill="#f5c6c6" stroke="none"/>
<path d="M424.46,94.08 L424.46,94.08 L425.24,94.08 L426.02,94.09 L426.81,94.09 L427.59,94.09 L428.37,94.1 L429.15,94.1 L429.94,94.11 L430.72,94.12 L431.5,94.13 L432.28,94.15 L433.06,94.17 L433.85,94.2 L434.63,94.24 L435.41,94.29 L436.19,94.35 L436.97,94.42 L437.76,94.52 L438.54,94.63 L439.32,94.77 L440.1,94.94 L440.89,95.14 L441.67,95.39 L442.45,95.68 L443.23,96.02 L444.01,96.41 L444.8,96.87 L445.58,97.39 L446.36,97.98 L447.14,98.64 L447.93,99.38 L448.71,100.2 L449.49,101.09 L450.27,102.04 L451.05,103.07 L451.84,104.14 L452.62,105.26 L453.4,106.4 L454.18,107.55 L454.97,108.68 L455.75,109.77 L456.53,110.81 L457.31,111.74 L458.09,112.56 L458.88,113.22 L459.66,113.71 L460.44,113.99 L461.22,114.04 L462,113.85 L462.79,113.38 L463.57,112.65 L464.35,111.63 L465.13,110.34 L465.92,108.79 L466.7,106.99 L467.48,104.97 L468.26,102.76 L469.04,100.4 L469.83,97.92 L470.61,95.37 L471.39,92.79 L472.17,90.24 L472.96,87.76 L473.74,85.4 L474.52,83.19 L475.3,81.17 L476.08,79.37 L476.87,77.82 L477.65,76.53 L478.43,75.51 L479.21,74.78 L480,74.31 L480.78,74.12 L481.56,74.17 L482.34,74.45 L483.12,74.94 L483.91,75.6 L484.69,76.42 L485.47,77.35 L486.25,78.39 L487.03,79.48 L487.82,80.61 L488.6,81.76 L489.38,82.9 L490.16,84.02 L490.95,85.09 L491.73,86.12 L492.51,87.07 L493.29,87.96 L494.07,88.78 L494.86,89.52 L495.64,90.18 L496.42,90.77 L497.2,91.29 L497.99,91.75 L498.77,92.14 L499.55,92.48 L500.33,92.77 L501.11,93.02 L501.9,93.22 L502.68,93.39 L503.46,93.53 L504.24,93.64 L505.03,93.74 L505.81,93.81 L506.59,93.87 L507.37,93.92 L508.15,93.96 L508.94,93.99 L509.72,94.01 L510.5,94.03 L511.28,94.04 L512.06,94.05 L512.85,94.06 L513.63,94.06 L514.41,94.07 L515.19,94.07 L515.98,94.07 L516.76,94.08 L517.54,94.08 L517.54,94.08 Z" fill="#f5c6c6" stroke="none"/>
<path d="M520.13,233.12 L520.13,232.49 L520.58,232.41 L521.03,232.32 L521.48,232.22 L521.94,232.11 L522.39,231.99 L522.84,231.86 L523.29,231.72 L523.74,231.56 L524.19,231.39 L524.65,231.21 L525.1,231 L525.55,230.79 L526,230.55 L526.45,230.3 L526.9,230.03 L527.36,229.74 L527.81,229.43 L528.26,229.1 L528.71,228.75 L529.16,228.38 L529.61,227.98 L530.07,227.57 L530.52,227.13 L530.97,226.68 L531.42,226.2 L531.87,225.71 L532.32,225.19 L532.77,224.65 L533.23,224.1 L533.68,223.53 L534.13,222.95 L534.58,222.35 L535.03,221.74 L535.48,221.12 L535.94,220.49 L536.39,219.86 L536.84,219.22 L537.29,218.59 L537.74,217.95 L538.19,217.32 L538.65,216.69 L539.1,216.08 L539.55,215.48 L540,214.89 L540.45,214.33 L540.9,213.78 L541.36,213.26 L541.81,212.77 L542.26,212.31 L542.71,211.88 L543.16,211.49 L543.61,211.13 L544.06,210.82 L544.52,210.54 L544.97,210.31 L545.42,210.12 L545.87,209.98 L546.32,209.89 L546.77,209.84 L547.23,209.84 L547.68,209.89 L548.13,209.98 L548.58,210.12 L549.03,210.31 L549.48,210.54 L549.94,210.82 L550.39,211.13 L550.84,211.49 L551.29,211.88 L551.74,212.31 L552.19,212.77 L552.64,213.26 L553.1,213.78 L553.55,214.33 L554,214.89 L554.45,215.48 L554.9,216.08 L555.35,216.69 L555.81,217.32 L556.26,217.95 L556.71,218.59 L557.16,219.22 L557.61,219.86 L558.06,220.49 L558.52,221.12 L558.97,221.74 L559.42,222.35 L559.87,222.95 L560.32,223.53 L560.77,224.1 L561.23,224.65 L561.68,225.19 L562.13,225.71 L562.58,226.2 L563.03,226.68 L563.48,227.13 L563.93,227.57 L564.39,227.98 L564.84,228.38 L565.29,228.75 L565.74,229.1 L566.19,229.43 L566.64,229.74 L567.1,230.03 L567.55,230.3 L568,230.55 L568.45,230.79 L568.9,231 L569.35,231.21 L569.81,231.39 L570.26,231.56 L570.71,231.72 L571.16,231.86 L571.61,231.99 L572.06,232.11 L572.52,232.22 L572.97,232.32 L573.42,232.41 L573.87,232.49 L573.87,233.12 Z" fill="#c9d1f6" stroke="none"/>
<path d="M500.46,169.92 L500.46,169.92 L501.24,169.92 L502.02,169.93 L502.81,169.93 L503.59,169.93 L504.37,169.94 L505.15,169.94 L505.94,169.95 L506.72,169.96 L507.5,169.97 L508.28,169.99 L509.06,170.01 L509.85,170.04 L510.63,170.08 L511.41,170.13 L512.19,170.19 L512.97,170.26 L513.76,170.36 L514.54,170.47 L515.32,170.61 L516.1,170.78 L516.89,170.98 L517.67,171.23 L518.45,171.52 L519.23,171.86 L520.01,172.25 L520.8,172.71 L521.58,173.23 L522.36,173.82 L523.14,174.48 L523.93,175.22 L524.71,176.04 L525.49,176.93 L526.27,177.88 L527.05,178.91 L527.84,179.98 L528.62,181.1 L529.4,182.24 L530.18,183.39 L530.97,184.52 L531.75,185.61 L532.53,186.65 L533.31,187.58 L534.09,188.4 L534.88,189.06 L535.66,189.55 L536.44,189.83 L537.22,189.88 L538,189.69 L538.79,189.22 L539.57,188.49 L540.35,187.47 L541.13,186.18 L541.92,184.63 L542.7,182.83 L543.48,180.81 L544.26,178.6 L545.04,176.24 L545.83,173.76 L546.61,171.21 L547.39,168.63 L548.17,166.08 L548.96,163.6 L549.74,161.24 L550.52,159.03 L551.3,157.01 L552.08,155.21 L552.87,153.66 L553.65,152.37 L554.43,151.35 L555.21,150.62 L556,150.15 L556.78,149.96 L557.56,150.01 L558.34,150.29 L559.12,150.78 L559.91,151.44 L560.69,152.26 L561.47,153.19 L562.25,154.23 L563.03,155.32 L563.82,156.45 L564.6,157.6 L565.38,158.74 L566.16,159.86 L566.95,160.93 L567.73,161.96 L568.51,162.91 L569.29,163.8 L570.07,164.62 L570.86,165.36 L571.64,166.02 L572.42,166.61 L573.2,167.13 L573.99,167.59 L574.77,167.98 L575.55,168.32 L576.33,168.61 L577.11,168.86 L577.9,169.06 L578.68,169.23 L579.46,169.37 L580.24,169.48 L581.03,169.58 L581.81,169.65 L582.59,169.71 L583.37,169.76 L584.15,169.8 L584.94,169.83 L585.72,169.85 L586.5,169.87 L587.28,169.88 L588.06,169.89 L588.85,169.9 L589.63,169.9 L590.41,169.91 L591.19,169.91 L591.98,169.91 L592.76,169.92 L593.54,169.92 L593.54,169.92 Z" fill="#c9d1f6" stroke="none"/>
<path d="M486.92,106.72 L486.92,106.72 L487.93,106.72 L488.94,106.72 L489.95,106.72 L490.96,106.72 L491.97,106.72 L492.98,106.72 L493.99,106.72 L495,106.72 L496,106.72 L497.01,106.72 L498.02,106.72 L499.03,106.71 L500.04,106.71 L501.05,106.7 L502.06,106.69 L503.07,106.68 L504.08,106.66 L505.09,106.63 L506.1,106.6 L507.11,106.54 L508.12,106.47 L509.13,106.37 L510.14,106.24 L511.15,106.06 L512.16,105.83 L513.17,105.54 L514.18,105.17 L515.19,104.71 L516.2,104.14 L517.21,103.46 L518.22,102.64 L519.23,101.7 L520.24,100.61 L521.25,99.39 L522.26,98.04 L523.27,96.6 L524.28,95.1 L525.29,93.58 L526.3,92.09 L527.31,90.72 L528.32,89.52 L529.33,88.6 L530.34,88.02 L531.35,87.86 L532.36,88.19 L533.37,89.06 L534.38,90.49 L535.39,92.48 L536.4,95 L537.41,97.98 L538.42,101.33 L539.43,104.9 L540.44,108.56 L541.45,112.13 L542.46,115.44 L543.47,118.32 L544.48,120.64 L545.49,122.25 L546.5,123.08 L547.5,123.08 L548.51,122.25 L549.52,120.64 L550.53,118.32 L551.54,115.44 L552.55,112.13 L553.56,108.56 L554.57,104.9 L555.58,101.33 L556.59,97.98 L557.6,95 L558.61,92.48 L559.62,90.49 L560.63,89.06 L561.64,88.19 L562.65,87.86 L563.66,88.02 L564.67,88.6 L565.68,89.52 L566.69,90.72 L567.7,92.09 L568.71,93.58 L569.72,95.1 L570.73,96.6 L571.74,98.04 L572.75,99.39 L573.76,100.61 L574.77,101.7 L575.78,102.64 L576.79,103.46 L577.8,104.14 L578.81,104.71 L579.82,105.17 L580.83,105.54 L581.84,105.83 L582.85,106.06 L583.86,106.24 L584.87,106.37 L585.88,106.47 L586.89,106.54 L587.9,106.6 L588.91,106.63 L589.92,106.66 L590.93,106.68 L591.94,106.69 L592.95,106.7 L593.96,106.71 L594.97,106.71 L595.98,106.72 L596.99,106.72 L598,106.72 L599,106.72 L600.01,106.72 L601.02,106.72 L602.03,106.72 L603.04,106.72 L604.05,106.72 L605.06,106.72 L606.07,106.72 L607.08,106.72 L607.08,106.72 Z" fill="#c9d1f6" stroke="none"/>
<line x1="444.13" y1="157.28" x2="497.87" y2="157.28" stroke="#f3c4c4" stroke-width="1.2"/>
<line x1="424.46" y1="94.08" x2="517.54" y2="94.08" stroke="#f3c4c4" stroke-width="1.2"/>
<line x1="520.13" y1="233.12" x2="573.87" y2="233.12" stroke="#c3ccf4" stroke-width="1.2"/>
<line x1="500.46" y1="169.92" x2="593.54" y2="169.92" stroke="#c3ccf4" stroke-width="1.2"/>
<line x1="486.92" y1="106.72" x2="607.08" y2="106.72" stroke="#c3ccf4" stroke-width="1.2"/>
<path d="M406.4,6.47 L406.74,8.4 L407.09,10.33 L407.43,12.24 L407.77,14.14 L408.11,16.03 L408.46,17.91 L408.8,19.78 L409.14,21.65 L409.48,23.5 L409.83,25.34 L410.17,27.17 L410.51,28.99 L410.85,30.8 L411.2,32.6 L411.54,34.39 L411.88,36.16 L412.22,37.93 L412.57,39.69 L412.91,41.44 L413.25,43.18 L413.59,44.9 L413.94,46.62 L414.28,48.33 L414.62,50.03 L414.96,51.71 L415.31,53.39 L415.65,55.05 L415.99,56.71 L416.33,58.36 L416.68,59.99 L417.02,61.62 L417.36,63.23 L417.7,64.84 L418.05,66.43 L418.39,68.01 L418.73,69.59 L419.08,71.15 L419.42,72.7 L419.76,74.25 L420.1,75.78 L420.45,77.3 L420.79,78.81 L421.13,80.32 L421.47,81.81 L421.82,83.29 L422.16,84.76 L422.5,86.22 L422.84,87.67 L423.19,89.11 L423.53,90.54 L423.87,91.96 L424.21,93.37 L424.56,94.77 L424.9,96.16 L425.24,97.54 L425.58,98.91 L425.93,100.26 L426.27,101.61 L426.61,102.95 L426.95,104.28 L427.3,105.59 L427.64,106.9 L427.98,108.2 L428.32,109.48 L428.67,110.76 L429.01,112.03 L429.35,113.28 L429.69,114.53 L430.04,115.76 L430.38,116.99 L430.72,118.2 L431.07,119.41 L431.41,120.6 L431.75,121.78 L432.09,122.96 L432.44,124.12 L432.78,125.27 L433.12,126.42 L433.46,127.55 L433.81,128.67 L434.15,129.78 L434.49,130.88 L434.83,131.98 L435.18,133.06 L435.52,134.13 L435.86,135.19 L436.2,136.24 L436.55,137.28 L436.89,138.31 L437.23,139.33 L437.57,140.34 L437.92,141.34 L438.26,142.33 L438.6,143.31 L438.94,144.28 L439.29,145.23 L439.63,146.18 L439.97,147.12 L440.31,148.05 L440.66,148.96 L441,149.87 L441.34,150.77 L441.68,151.65 L442.03,152.53 L442.37,153.4 L442.71,154.25 L443.06,155.1 L443.4,155.93 L443.74,156.76 L444.08,157.57 L444.43,158.38 L444.77,159.17 L445.11,159.96 L445.45,160.73 L445.8,161.49 L446.14,162.25 L446.48,162.99 L446.82,163.72 L447.17,164.45 L447.51,165.16 L447.85,165.86 L448.19,166.55 L448.54,167.24 L448.88,167.91 L449.22,168.57 L449.56,169.22 L449.91,169.86 L450.25,170.49 L450.59,171.11 L450.93,171.72 L451.28,172.32 L451.62,172.91 L451.96,173.49 L452.3,174.06 L452.65,174.62 L452.99,175.17 L453.33,175.71 L453.67,176.24 L454.02,176.75 L454.36,177.26 L454.7,177.76 L455.05,178.25 L455.39,178.72 L455.73,179.19 L456.07,179.65 L456.42,180.1 L456.76,180.53 L457.1,180.96 L457.44,181.37 L457.79,181.78 L458.13,182.18 L458.47,182.56 L458.81,182.94 L459.16,183.3 L459.5,183.66 L459.84,184 L460.18,184.34 L460.53,184.66 L460.87,184.98 L461.21,185.28 L461.55,185.57 L461.9,185.86 L462.24,186.13 L462.58,186.4 L462.92,186.65 L463.27,186.89 L463.61,187.13 L463.95,187.35 L464.29,187.56 L464.64,187.76 L464.98,187.96 L465.32,188.14 L465.66,188.31 L466.01,188.47 L466.35,188.62 L466.69,188.77 L467.04,188.9 L467.38,189.02 L467.72,189.13 L468.06,189.23 L468.41,189.32 L468.75,189.41 L469.09,189.48 L469.43,189.54 L469.78,189.59 L470.12,189.63 L470.46,189.66 L470.8,189.68 L471.15,189.69 L471.49,189.7 L471.83,189.69 L472.17,189.67 L472.52,189.64 L472.86,189.6 L473.2,189.55 L473.54,189.49 L473.89,189.42 L474.23,189.35 L474.57,189.26 L474.91,189.16 L475.26,189.05 L475.6,188.93 L475.94,188.8 L476.28,188.67 L476.63,188.52 L476.97,188.36 L477.31,188.2 L477.65,188.02 L478,187.83 L478.34,187.64 L478.68,187.43 L479.03,187.22 L479.37,186.99 L479.71,186.76 L480.05,186.52 L480.4,186.26 L480.74,186 L481.08,185.73 L481.42,185.45 L481.77,185.16 L482.11,184.86 L482.45,184.55 L482.79,184.24 L483.14,183.91 L483.48,183.58 L483.82,183.23 L484.16,182.88 L484.51,182.52 L484.85,182.15 L485.19,181.78 L485.53,181.39 L485.88,181 L486.22,180.6 L486.56,180.19 L486.9,179.78 L487.25,179.36 L487.59,178.93 L487.93,178.5 L488.27,178.06 L488.62,177.62 L488.96,177.17 L489.3,176.72 L489.64,176.26 L489.99,175.8 L490.33,175.34 L490.67,174.88 L491.02,174.42 L491.36,173.96 L491.7,173.51 L492.04,173.06 L492.39,172.61 L492.73,172.18 L493.07,171.76 L493.41,171.36 L493.76,170.97 L494.1,170.61 L494.44,170.28 L494.78,169.98 L495.13,169.73 L495.47,169.53 L495.81,169.39 L496.15,169.31 L496.5,169.31 L496.84,169.4 L497.18,169.58 L497.52,169.85" fill="none" stroke="#d51c2a" stroke-width="1.5"/>
<path d="M497.87,146.13 L498.21,146.33 L498.55,146.4 L498.89,146.37 L499.24,146.24 L499.58,146.02 L499.92,145.72 L500.26,145.34 L500.61,144.89 L500.95,144.38 L501.29,143.82 L501.63,143.22 L501.98,142.57 L502.32,141.88 L502.66,141.16 L503.01,140.41 L503.35,139.63 L503.69,138.82 L504.03,137.98 L504.38,137.13 L504.72,136.25 L505.06,135.35 L505.4,134.44 L505.75,133.5 L506.09,132.55 L506.43,131.58 L506.77,130.59 L507.12,129.59 L507.46,128.57 L507.8,127.54 L508.14,126.5 L508.49,125.44 L508.83,124.37 L509.17,123.28 L509.51,122.18 L509.86,121.07 L510.2,119.94 L510.54,118.8 L510.88,117.65 L511.23,116.49 L511.57,115.32 L511.91,114.13 L512.25,112.93 L512.6,111.72 L512.94,110.5 L513.28,109.27 L513.62,108.02 L513.97,106.77 L514.31,105.5 L514.65,104.22 L514.99,102.93 L515.34,101.63 L515.68,100.32 L516.02,99 L516.37,97.66 L516.71,96.32 L517.05,94.96 L517.39,93.59 L517.74,92.21 L518.08,90.83 L518.42,89.43 L518.76,88.02 L519.11,86.59 L519.45,85.16 L519.79,83.72 L520.13,82.27 L520.48,80.8 L520.82,79.33 L521.16,77.84 L521.5,76.34 L521.85,74.84 L522.19,73.32 L522.53,71.79 L522.87,70.25 L523.22,68.7 L523.56,67.14 L523.9,65.57 L524.24,63.99 L524.59,62.4 L524.93,60.8 L525.27,59.19 L525.61,57.56 L525.96,55.93 L526.3,54.28 L526.64,52.63 L526.98,50.96 L527.33,49.29 L527.67,47.6 L528.01,45.91 L528.36,44.2 L528.7,42.48 L529.04,40.75 L529.38,39.02 L529.73,37.27 L530.07,35.51 L530.41,33.74 L530.75,31.96 L531.1,30.17 L531.44,28.37 L531.78,26.56 L532.12,24.74 L532.47,22.9 L532.81,21.06 L533.15,19.21 L533.49,17.35 L533.84,15.47 L534.18,13.59 L534.52,11.69 L534.86,9.79 L535.21,7.87 L535.55,5.95 L535.89,4.01 L536.23,2.07 L536.58,0.11 L536.92,-1.86 L537.26,-3.83 L537.6,-5.82 L537.95,-7.82 L538.29,-9.83 L538.63,-11.85 L538.97,-13.87 L539.32,-15.91 L539.66,-17.96 L540,-20.02 L540.35,-22.09 L540.69,-24.17 L541.03,-26.26 L541.37,-28.37 L541.72,-30.48 L542.06,-32.6 L542.4,-34.73 L542.74,-36.87 L543.09,-39.03 L543.43,-41.19 L543.77,-43.36 L544.11,-45.55 L544.46,-47.74 L544.8,-49.95 L545.14,-52.16 L545.48,-54.39 L545.83,-56.62 L546.17,-58.87 L546.51,-61.12 L546.85,-63.39 L547.2,-65.67 L547.54,-67.95 L547.88,-70.25 L548.22,-72.56 L548.57,-74.88 L548.91,-77.2 L549.25,-79.54 L549.59,-81.89 L549.94,-84.25 L550.28,-86.62 L550.62,-89 L550.96,-91.39 L551.31,-93.79 L551.65,-96.2 L551.99,-98.62 L552.34,-101.05 L552.68,-103.5 L553.02,-105.95 L553.36,-108.41 L553.71,-110.88 L554.05,-113.37 L554.39,-115.86 L554.73,-118.36 L555.08,-120.88 L555.42,-123.4 L555.76,-125.93 L556.1,-128.48 L556.45,-131.03 L556.79,-133.6 L557.13,-136.18 L557.47,-138.76 L557.82,-141.36 L558.16,-143.96 L558.5,-146.58 L558.84,-149.21 L559.19,-151.84 L559.53,-154.49 L559.87,-157.15 L560.21,-159.82 L560.56,-162.5 L560.9,-165.19 L561.24,-167.89 L561.58,-170.59 L561.93,-173.31 L562.27,-176.04 L562.61,-178.78 L562.95,-181.54 L563.3,-184.3 L563.64,-187.07 L563.98,-189.85 L564.33,-192.64 L564.67,-195.44 L565.01,-198.25 L565.35,-201.08 L565.7,-203.91 L566.04,-206.75 L566.38,-209.61 L566.72,-212.47 L567.07,-215.34 L567.41,-218.23 L567.75,-221.12 L568.09,-224.03 L568.44,-226.94 L568.78,-229.87 L569.12,-232.8 L569.46,-235.75 L569.81,-238.71 L570.15,-241.67 L570.49,-244.65 L570.83,-247.64 L571.18,-250.64 L571.52,-253.64 L571.86,-256.66 L572.2,-259.69 L572.55,-262.73 L572.89,-265.78 L573.23,-268.84 L573.57,-271.91 L573.92,-274.98 L574.26,-278.08 L574.6,-281.18 L574.94,-284.29 L575.29,-287.41 L575.63,-290.54 L575.97,-293.68 L576.32,-296.83 L576.66,-299.99 L577,-303.17 L577.34,-306.35 L577.69,-309.54 L578.03,-312.74 L578.37,-315.96 L578.71,-319.18 L579.06,-322.42 L579.4,-325.66 L579.74,-328.91 L580.08,-332.18 L580.43,-335.45 L580.77,-338.74 L581.11,-342.04 L581.45,-345.34 L581.8,-348.66 L582.14,-351.98 L582.48,-355.32 L582.82,-358.67 L583.17,-362.03 L583.51,-365.39 L583.85,-368.77 L584.19,-372.16 L584.54,-375.56 L584.88,-378.97 L585.22,-382.39 L585.56,-385.81 L585.91,-389.25 L586.25,-392.7 L586.59,-396.16 L586.93,-399.63 L587.28,-403.12 L587.62,-406.61 L587.96,-410.11 L588.31,-413.62 L588.65,-417.14 L588.99,-420.67 L589.33,-424.22 L589.68,-427.77 L590.02,-431.33 L590.36,-434.9 L590.7,-438.49 L591.05,-442.08 L591.39,-445.69 L591.73,-449.3 L592.07,-452.92 L592.42,-456.56 L592.76,-460.2 L593.1,-463.86 L593.44,-467.53 L593.79,-471.2 L594.13,-474.89 L594.47,-478.59 L594.81,-482.29 L595.16,-486.01 L595.5,-489.74 L595.84,-493.47 L596.18,-497.22 L596.53,-500.98 L596.87,-504.75 L597.21,-508.53 L597.55,-512.32 L597.9,-516.12 L598.24,-519.93 L598.58,-523.75 L598.92,-527.58 L599.27,-531.42 L599.61,-535.27 L599.95,-539.13 L600.3,-543 L600.64,-546.88 L600.98,-550.77 L601.32,-554.68 L601.67,-558.59 L602.01,-562.51 L602.35,-566.44 L602.69,-570.39 L603.04,-574.34 L603.38,-578.3 L603.72,-582.28 L604.06,-586.26 L604.41,-590.26 L604.75,-594.26 L605.09,-598.28 L605.43,-602.3 L605.78,-606.34 L606.12,-610.38 L606.46,-614.44 L606.8,-618.51 L607.15,-622.58 L607.49,-626.67 L607.83,-630.77 L608.17,-634.88 L608.52,-638.99 L608.86,-643.12 L609.2,-647.26 L609.54,-651.41 L609.89,-655.57 L610.23,-659.74 L610.57,-663.92 L610.91,-668.11 L611.26,-672.31 L611.6,-676.52" fill="none" stroke="#d51c2a" stroke-width="1.5"/>
<path d="M497.87,170.22 L498.21,170.68 L498.55,171.24 L498.89,171.89 L499.24,172.61 L499.58,173.41 L499.92,174.27 L500.26,175.18 L500.61,176.15 L500.95,177.14 L501.29,178.18 L501.63,179.23 L501.98,180.31 L502.32,181.41 L502.66,182.52 L503.01,183.65 L503.35,184.78 L503.69,185.92 L504.03,187.06 L504.38,188.2 L504.72,189.34 L505.06,190.49 L505.4,191.63 L505.75,192.77 L506.09,193.91 L506.43,195.04 L506.77,196.17 L507.12,197.3 L507.46,198.42 L507.8,199.53 L508.14,200.64 L508.49,201.74 L508.83,202.83 L509.17,203.92 L509.51,205 L509.86,206.07 L510.2,207.13 L510.54,208.19 L510.88,209.23 L511.23,210.27 L511.57,211.3 L511.91,212.33 L512.25,213.34 L512.6,214.34 L512.94,215.34 L513.28,216.33 L513.62,217.3 L513.97,218.27 L514.31,219.23 L514.65,220.18 L514.99,221.12 L515.34,222.05 L515.68,222.97 L516.02,223.89 L516.37,224.79 L516.71,225.68 L517.05,226.57 L517.39,227.44 L517.74,228.31 L518.08,229.16 L518.42,230.01 L518.76,230.84 L519.11,231.67 L519.45,232.48 L519.79,233.29 L520.13,234.08 L520.48,234.87 L520.82,235.65 L521.16,236.41 L521.5,237.17 L521.85,237.92 L522.19,238.65 L522.53,239.38 L522.87,240.1 L523.22,240.81 L523.56,241.5 L523.9,242.19 L524.24,242.87 L524.59,243.53 L524.93,244.19 L525.27,244.84 L525.61,245.47 L525.96,246.1 L526.3,246.72 L526.64,247.32 L526.98,247.92 L527.33,248.51 L527.67,249.08 L528.01,249.65 L528.36,250.21 L528.7,250.75 L529.04,251.29 L529.38,251.82 L529.73,252.33 L530.07,252.84 L530.41,253.33 L530.75,253.82 L531.1,254.29 L531.44,254.76 L531.78,255.22 L532.12,255.66 L532.47,256.09 L532.81,256.52 L533.15,256.93 L533.49,257.34 L533.84,257.73 L534.18,258.12 L534.52,258.49 L534.86,258.85 L535.21,259.21 L535.55,259.55 L535.89,259.88 L536.23,260.21 L536.58,260.52 L536.92,260.82 L537.26,261.12 L537.6,261.4 L537.95,261.67 L538.29,261.93 L538.63,262.18 L538.97,262.42 L539.32,262.66 L539.66,262.88 L540,263.09 L540.35,263.29 L540.69,263.48 L541.03,263.66 L541.37,263.83 L541.72,263.99 L542.06,264.14 L542.4,264.28 L542.74,264.41 L543.09,264.53 L543.43,264.63 L543.77,264.73 L544.11,264.82 L544.46,264.9 L544.8,264.97 L545.14,265.02 L545.48,265.07 L545.83,265.11 L546.17,265.14 L546.51,265.15 L546.85,265.16 L547.2,265.15 L547.54,265.14 L547.88,265.12 L548.22,265.08 L548.57,265.04 L548.91,264.98 L549.25,264.92 L549.59,264.84 L549.94,264.76 L550.28,264.66 L550.62,264.55 L550.96,264.44 L551.31,264.31 L551.65,264.17 L551.99,264.03 L552.34,263.87 L552.68,263.7 L553.02,263.52 L553.36,263.34 L553.71,263.14 L554.05,262.93 L554.39,262.71 L554.73,262.48 L555.08,262.24 L555.42,261.99 L555.76,261.73 L556.1,261.46 L556.45,261.18 L556.79,260.89 L557.13,260.59 L557.47,260.28 L557.82,259.96 L558.16,259.63 L558.5,259.29 L558.84,258.93 L559.19,258.57 L559.53,258.2 L559.87,257.82 L560.21,257.42 L560.56,257.02 L560.9,256.61 L561.24,256.18 L561.58,255.75 L561.93,255.3 L562.27,254.85 L562.61,254.39 L562.95,253.91 L563.3,253.42 L563.64,252.93 L563.98,252.42 L564.33,251.91 L564.67,251.38 L565.01,250.84 L565.35,250.3 L565.7,249.74 L566.04,249.17 L566.38,248.6 L566.72,248.01 L567.07,247.41 L567.41,246.8 L567.75,246.18 L568.09,245.55 L568.44,244.91 L568.78,244.27 L569.12,243.61 L569.46,242.94 L569.81,242.26 L570.15,241.56 L570.49,240.86 L570.83,240.15 L571.18,239.43 L571.52,238.7 L571.86,237.96 L572.2,237.21 L572.55,236.44 L572.89,235.67 L573.23,234.89 L573.57,234.1 L573.92,233.29 L574.26,232.48 L574.6,231.66 L574.94,230.82 L575.29,229.98 L575.63,229.12 L575.97,228.26 L576.32,227.38 L576.66,226.5 L577,225.6 L577.34,224.7 L577.69,223.78 L578.03,222.85 L578.37,221.92 L578.71,220.97 L579.06,220.01 L579.4,219.04 L579.74,218.07 L580.08,217.08 L580.43,216.08 L580.77,215.07 L581.11,214.05 L581.45,213.02 L581.8,211.98 L582.14,210.93 L582.48,209.88 L582.82,208.8 L583.17,207.72 L583.51,206.63 L583.85,205.53 L584.19,204.42 L584.54,203.3 L584.88,202.17 L585.22,201.03 L585.56,199.87 L585.91,198.71 L586.25,197.54 L586.59,196.36 L586.93,195.16 L587.28,193.96 L587.62,192.75 L587.96,191.52 L588.31,190.29 L588.65,189.04 L588.99,187.79 L589.33,186.52 L589.68,185.25 L590.02,183.96 L590.36,182.66 L590.7,181.36 L591.05,180.04 L591.39,178.72 L591.73,177.38 L592.07,176.03 L592.42,174.67 L592.76,173.31 L593.1,171.93 L593.44,170.54 L593.79,169.14 L594.13,167.73 L594.47,166.31 L594.81,164.88 L595.16,163.44 L595.5,161.99 L595.84,160.53 L596.18,159.06 L596.53,157.58 L596.87,156.09 L597.21,154.59 L597.55,153.08 L597.9,151.56 L598.24,150.02 L598.58,148.48 L598.92,146.93 L599.27,145.37 L599.61,143.79 L599.95,142.21 L600.3,140.62 L600.64,139.01 L600.98,137.4 L601.32,135.77 L601.67,134.14 L602.01,132.49 L602.35,130.84 L602.69,129.17 L603.04,127.5 L603.38,125.81 L603.72,124.11 L604.06,122.41 L604.41,120.69 L604.75,118.96 L605.09,117.23 L605.43,115.48 L605.78,113.72 L606.12,111.95 L606.46,110.17 L606.8,108.38 L607.15,106.58 L607.49,104.78 L607.83,102.96 L608.17,101.13 L608.52,99.29 L608.86,97.44 L609.2,95.57 L609.54,93.7 L609.89,91.82 L610.23,89.93 L610.57,88.03 L610.91,86.12 L611.26,84.19 L611.6,82.26" fill="none" stroke="#2a40ea" stroke-width="1.5"/>
<path d="M406.4,-600.73 L406.74,-596.52 L407.09,-592.32 L407.43,-588.13 L407.77,-583.95 L408.11,-579.78 L408.46,-575.62 L408.8,-571.47 L409.14,-567.33 L409.48,-563.2 L409.83,-559.09 L410.17,-554.98 L410.51,-550.88 L410.85,-546.8 L411.2,-542.72 L411.54,-538.65 L411.88,-534.6 L412.22,-530.55 L412.57,-526.52 L412.91,-522.49 L413.25,-518.48 L413.59,-514.47 L413.94,-510.48 L414.28,-506.49 L414.62,-502.52 L414.96,-498.56 L415.31,-494.6 L415.65,-490.66 L415.99,-486.73 L416.33,-482.81 L416.68,-478.89 L417.02,-474.99 L417.36,-471.1 L417.7,-467.22 L418.05,-463.35 L418.39,-459.49 L418.73,-455.64 L419.08,-451.8 L419.42,-447.97 L419.76,-444.15 L420.1,-440.34 L420.45,-436.54 L420.79,-432.75 L421.13,-428.97 L421.47,-425.21 L421.82,-421.45 L422.16,-417.7 L422.5,-413.96 L422.84,-410.24 L423.19,-406.52 L423.53,-402.81 L423.87,-399.12 L424.21,-395.43 L424.56,-391.76 L424.9,-388.09 L425.24,-384.44 L425.58,-380.79 L425.93,-377.16 L426.27,-373.53 L426.61,-369.92 L426.95,-366.32 L427.3,-362.72 L427.64,-359.14 L427.98,-355.57 L428.32,-352.01 L428.67,-348.45 L429.01,-344.91 L429.35,-341.38 L429.69,-337.86 L430.04,-334.35 L430.38,-330.85 L430.72,-327.36 L431.07,-323.88 L431.41,-320.41 L431.75,-316.95 L432.09,-313.5 L432.44,-310.06 L432.78,-306.63 L433.12,-303.21 L433.46,-299.81 L433.81,-296.41 L434.15,-293.02 L434.49,-289.64 L434.83,-286.28 L435.18,-282.92 L435.52,-279.57 L435.86,-276.24 L436.2,-272.91 L436.55,-269.6 L436.89,-266.29 L437.23,-263 L437.57,-259.71 L437.92,-256.44 L438.26,-253.18 L438.6,-249.92 L438.94,-246.68 L439.29,-243.45 L439.63,-240.22 L439.97,-237.01 L440.31,-233.81 L440.66,-230.62 L441,-227.44 L441.34,-224.26 L441.68,-221.1 L442.03,-217.95 L442.37,-214.81 L442.71,-211.68 L443.06,-208.56 L443.4,-205.45 L443.74,-202.35 L444.08,-199.27 L444.43,-196.19 L444.77,-193.12 L445.11,-190.06 L445.45,-187.01 L445.8,-183.98 L446.14,-180.95 L446.48,-177.93 L446.82,-174.93 L447.17,-171.93 L447.51,-168.95 L447.85,-165.97 L448.19,-163 L448.54,-160.05 L448.88,-157.11 L449.22,-154.17 L449.56,-151.25 L449.91,-148.33 L450.25,-145.43 L450.59,-142.54 L450.93,-139.66 L451.28,-136.78 L451.62,-133.92 L451.96,-131.07 L452.3,-128.23 L452.65,-125.4 L452.99,-122.58 L453.33,-119.77 L453.67,-116.97 L454.02,-114.18 L454.36,-111.4 L454.7,-108.63 L455.05,-105.87 L455.39,-103.12 L455.73,-100.39 L456.07,-97.66 L456.42,-94.94 L456.76,-92.23 L457.1,-89.54 L457.44,-86.85 L457.79,-84.18 L458.13,-81.51 L458.47,-78.86 L458.81,-76.21 L459.16,-73.58 L459.5,-70.95 L459.84,-68.34 L460.18,-65.74 L460.53,-63.14 L460.87,-60.56 L461.21,-57.99 L461.55,-55.43 L461.9,-52.87 L462.24,-50.33 L462.58,-47.8 L462.92,-45.28 L463.27,-42.77 L463.61,-40.27 L463.95,-37.78 L464.29,-35.31 L464.64,-32.84 L464.98,-30.38 L465.32,-27.93 L465.66,-25.5 L466.01,-23.07 L466.35,-20.65 L466.69,-18.25 L467.04,-15.85 L467.38,-13.47 L467.72,-11.09 L468.06,-8.73 L468.41,-6.38 L468.75,-4.03 L469.09,-1.7 L469.43,0.62 L469.78,2.93 L470.12,5.23 L470.46,7.52 L470.8,9.8 L471.15,12.07 L471.49,14.33 L471.83,16.58 L472.17,18.82 L472.52,21.05 L472.86,23.26 L473.2,25.47 L473.54,27.66 L473.89,29.85 L474.23,32.02 L474.57,34.19 L474.91,36.34 L475.26,38.48 L475.6,40.61 L475.94,42.73 L476.28,44.84 L476.63,46.94 L476.97,49.03 L477.31,51.11 L477.65,53.18 L478,55.23 L478.34,57.28 L478.68,59.31 L479.03,61.33 L479.37,63.34 L479.71,65.35 L480.05,67.34 L480.4,69.31 L480.74,71.28 L481.08,73.24 L481.42,75.18 L481.77,77.12 L482.11,79.04 L482.45,80.95 L482.79,82.85 L483.14,84.73 L483.48,86.61 L483.82,88.47 L484.16,90.32 L484.51,92.16 L484.85,93.99 L485.19,95.8 L485.53,97.61 L485.88,99.39 L486.22,101.17 L486.56,102.93 L486.9,104.68 L487.25,106.42 L487.59,108.14 L487.93,109.85 L488.27,111.54 L488.62,113.21 L488.96,114.87 L489.3,116.52 L489.64,118.14 L489.99,119.75 L490.33,121.34 L490.67,122.91 L491.02,124.46 L491.36,125.99 L491.7,127.49 L492.04,128.97 L492.39,130.42 L492.73,131.84 L493.07,133.23 L493.41,134.58 L493.76,135.89 L494.1,137.15 L494.44,138.37 L494.78,139.52 L495.13,140.62 L495.47,141.64 L495.81,142.59 L496.15,143.44 L496.5,144.2 L496.84,144.85 L497.18,145.4 L497.52,145.83" fill="none" stroke="#2a40ea" stroke-width="1.5"/>
</g>
<circle cx="497.6" cy="146.2" r="1.6" fill="#f0c040"/>
<circle cx="497.6" cy="169.8" r="1.6" fill="#f0c040"/>
<rect x="410.4" y="57.6" width="198.2" height="217.4" fill="none" stroke="#4a4a4a" stroke-width="1.05"/>
<path d="M417.8,275 v-1.2 M417.8,57.6 v1.2 M425.4,275 v-1.2 M425.4,57.6 v1.2 M433,275 v-2 M433,57.6 v2 M440.6,275 v-1.2 M440.6,57.6 v1.2 M448.2,275 v-1.2 M448.2,57.6 v1.2 M455.8,275 v-1.2 M455.8,57.6 v1.2 M463.4,275 v-1.2 M463.4,57.6 v1.2 M471,275 v-2 M471,57.6 v2 M478.6,275 v-1.2 M478.6,57.6 v1.2 M486.2,275 v-1.2 M486.2,57.6 v1.2 M493.8,275 v-1.2 M493.8,57.6 v1.2 M501.4,275 v-1.2 M501.4,57.6 v1.2 M509,275 v-2 M509,57.6 v2 M516.6,275 v-1.2 M516.6,57.6 v1.2 M524.2,275 v-1.2 M524.2,57.6 v1.2 M531.8,275 v-1.2 M531.8,57.6 v1.2 M539.4,275 v-1.2 M539.4,57.6 v1.2 M547,275 v-2 M547,57.6 v2 M554.6,275 v-1.2 M554.6,57.6 v1.2 M562.2,275 v-1.2 M562.2,57.6 v1.2 M569.8,275 v-1.2 M569.8,57.6 v1.2 M577.4,275 v-1.2 M577.4,57.6 v1.2 M585,275 v-2 M585,57.6 v2 M592.6,275 v-1.2 M592.6,57.6 v1.2 M600.2,275 v-1.2 M600.2,57.6 v1.2 M607.8,275 v-1.2 M607.8,57.6 v1.2 M410.4,271.04 h1.2 M608.6,271.04 h-1.2 M410.4,264.72 h1.2 M608.6,264.72 h-1.2 M410.4,258.4 h2 M608.6,258.4 h-2 M410.4,252.08 h1.2 M608.6,252.08 h-1.2 M410.4,245.76 h1.2 M608.6,245.76 h-1.2 M410.4,239.44 h1.2 M608.6,239.44 h-1.2 M410.4,233.12 h1.2 M608.6,233.12 h-1.2 M410.4,226.8 h2 M608.6,226.8 h-2 M410.4,220.48 h1.2 M608.6,220.48 h-1.2 M410.4,214.16 h1.2 M608.6,214.16 h-1.2 M410.4,207.84 h1.2 M608.6,207.84 h-1.2 M410.4,201.52 h1.2 M608.6,201.52 h-1.2 M410.4,195.2 h2 M608.6,195.2 h-2 M410.4,188.88 h1.2 M608.6,188.88 h-1.2 M410.4,182.56 h1.2 M608.6,182.56 h-1.2 M410.4,176.24 h1.2 M608.6,176.24 h-1.2 M410.4,169.92 h1.2 M608.6,169.92 h-1.2 M410.4,163.6 h2 M608.6,163.6 h-2 M410.4,157.28 h1.2 M608.6,157.28 h-1.2 M410.4,150.96 h1.2 M608.6,150.96 h-1.2 M410.4,144.64 h1.2 M608.6,144.64 h-1.2 M410.4,138.32 h1.2 M608.6,138.32 h-1.2 M410.4,132 h2 M608.6,132 h-2 M410.4,125.68 h1.2 M608.6,125.68 h-1.2 M410.4,119.36 h1.2 M608.6,119.36 h-1.2 M410.4,113.04 h1.2 M608.6,113.04 h-1.2 M410.4,106.72 h1.2 M608.6,106.72 h-1.2 M410.4,100.4 h2 M608.6,100.4 h-2 M410.4,94.08 h1.2 M608.6,94.08 h-1.2 M410.4,87.76 h1.2 M608.6,87.76 h-1.2 M410.4,81.44 h1.2 M608.6,81.44 h-1.2 M410.4,75.12 h1.2 M608.6,75.12 h-1.2 M410.4,68.8 h2 M608.6,68.8 h-2 M410.4,62.48 h1.2 M608.6,62.48 h-1.2" stroke="#333" stroke-width="0.9" fill="none"/>
<text x="408" y="74.7" style="font-family:'Liberation Serif',serif;font-size:17px;fill:#111" text-anchor="end">1.5</text>
<text x="408" y="106.3" style="font-family:'Liberation Serif',serif;font-size:17px;fill:#111" text-anchor="end">1.0</text>
<text x="408" y="137.9" style="font-family:'Liberation Serif',serif;font-size:17px;fill:#111" text-anchor="end">0.5</text>
<text x="408" y="169.5" style="font-family:'Liberation Serif',serif;font-size:17px;fill:#111" text-anchor="end">0.0</text>
<text x="408" y="201.1" style="font-family:'Liberation Serif',serif;font-size:17px;fill:#111" text-anchor="end">&#8722;0.5</text>
<text x="408" y="232.7" style="font-family:'Liberation Serif',serif;font-size:17px;fill:#111" text-anchor="end">&#8722;1.0</text>
<text x="408" y="264.3" style="font-family:'Liberation Serif',serif;font-size:17px;fill:#111" text-anchor="end">&#8722;1.5</text>
<text x="433.3" y="294.2" style="font-family:'Liberation Serif',serif;font-size:17px;fill:#111" text-anchor="middle">&#8722;2</text>
<text x="471.3" y="294.2" style="font-family:'Liberation Serif',serif;font-size:17px;fill:#111" text-anchor="middle">&#8722;1</text>
<text x="509.3" y="294.2" style="font-family:'Liberation Serif',serif;font-size:17px;fill:#111" text-anchor="middle">0</text>
<text x="547.3" y="294.2" style="font-family:'Liberation Serif',serif;font-size:17px;fill:#111" text-anchor="middle">1</text>
<text x="585.3" y="294.2" style="font-family:'Liberation Serif',serif;font-size:17px;fill:#111" text-anchor="middle">2</text>
<text transform="translate(368.3,181.6) rotate(-90)" style="font-family:'Liberation Serif',serif;font-size:18.5px;fill:#111"><tspan font-style="italic">E</tspan><tspan dx="1.2">/</tspan><tspan font-style="italic" dx="1.2">&#969;</tspan><tspan dy="4" font-size="13.5">1</tspan></text>
<text x="488.5" y="315" style="font-family:'Liberation Serif',serif;font-size:20px;fill:#111"><tspan font-style="italic">y</tspan><tspan dy="3.2" font-size="14.5">1</tspan><tspan dy="-3.2" dx="1.8">/</tspan><tspan font-style="italic" dx="1.2">y</tspan><tspan dy="3.2" font-size="14.5">10</tspan></text>
<line x1="465" y1="62.5" x2="477.5" y2="62.5" stroke="#d01818" stroke-width="2"/>
<line x1="465" y1="74.6" x2="477.5" y2="74.6" stroke="#d01818" stroke-width="2"/>
<line x1="465" y1="86.8" x2="477.5" y2="86.8" stroke="#d01818" stroke-width="2"/>
<line x1="465" y1="124.8" x2="477.5" y2="124.8" stroke="#d01818" stroke-width="2"/>
<line x1="465" y1="137.5" x2="477.5" y2="137.5" stroke="#d01818" stroke-width="2"/>
<line x1="465" y1="150.2" x2="477.5" y2="150.2" stroke="#d01818" stroke-width="2"/>
<line x1="541" y1="73.8" x2="553.5" y2="73.8" stroke="#2040e0" stroke-width="2"/>
<line x1="541" y1="86.6" x2="553.5" y2="86.6" stroke="#2040e0" stroke-width="2"/>
<line x1="541" y1="98.8" x2="553.5" y2="98.8" stroke="#2040e0" stroke-width="2"/>
<line x1="541" y1="137" x2="553.5" y2="137" stroke="#2040e0" stroke-width="2"/>
<line x1="541" y1="149.6" x2="553.5" y2="149.6" stroke="#2040e0" stroke-width="2"/>
<line x1="541" y1="162.2" x2="553.5" y2="162.2" stroke="#2040e0" stroke-width="2"/>
<line x1="541" y1="199.8" x2="553.5" y2="199.8" stroke="#2040e0" stroke-width="2"/>
<line x1="541" y1="213" x2="553.5" y2="213" stroke="#2040e0" stroke-width="2"/>
<line x1="541" y1="225.6" x2="553.5" y2="225.6" stroke="#2040e0" stroke-width="2"/>
<path d="M554.5,73.8 L554.19,73.96 L553.91,74.11 L553.69,74.27 L553.55,74.42 L553.5,74.58 L553.55,74.74 L553.69,74.89 L553.91,75.05 L554.19,75.21 L554.5,75.36 L554.81,75.52 L555.09,75.67 L555.31,75.83 L555.45,75.99 L555.5,76.14 L555.45,76.3 L555.31,76.46 L555.09,76.61 L554.81,76.77 L554.5,76.92 L554.19,77.08 L553.91,77.24 L553.69,77.39 L553.55,77.55 L553.5,77.71 L553.55,77.86 L553.69,78.02 L553.91,78.17 L554.19,78.33 L554.5,78.49 L554.81,78.64 L555.09,78.8 L555.31,78.96 L555.45,79.11 L555.5,79.27 L555.45,79.42 L555.31,79.58 L555.09,79.74 L554.81,79.89 L554.5,80.05 L554.19,80.21 L553.91,80.36 L553.69,80.52 L553.55,80.67 L553.5,80.83 L553.55,80.99 L553.69,81.14 L553.91,81.3 L554.19,81.46 L554.5,81.61 L554.81,81.77 L555.09,81.92 L555.31,82.08 L555.45,82.24 L555.5,82.39 L555.45,82.55 L555.31,82.71 L555.09,82.86 L554.81,83.02 L554.5,83.17 L554.19,83.33 L553.91,83.49 L553.69,83.64 L553.55,83.8 L553.5,83.96 L553.55,84.11 L553.69,84.27 L553.91,84.42 L554.19,84.58 L554.5,84.74 L554.81,84.89 L555.09,85.05 L555.31,85.21 L555.45,85.36 L555.5,85.52 L555.45,85.67 L555.31,85.83 L555.09,85.99 L554.81,86.14 L554.5,86.3 L554.19,86.46 L553.91,86.61 L553.69,86.77 L553.55,86.92 L553.5,87.08 L553.55,87.24 L553.69,87.39 L553.91,87.55 L554.19,87.71 L554.5,87.86 L554.81,88.02 L555.09,88.17 L555.31,88.33 L555.45,88.49 L555.5,88.64 L555.45,88.8 L555.31,88.96 L555.09,89.11 L554.81,89.27 L554.5,89.42 L554.19,89.58 L553.91,89.74 L553.69,89.89 L553.55,90.05 L553.5,90.21 L553.55,90.36 L553.69,90.52 L553.91,90.67 L554.19,90.83 L554.5,90.99 L554.81,91.14 L555.09,91.3 L555.31,91.46 L555.45,91.61 L555.5,91.77 L555.45,91.92 L555.31,92.08 L555.09,92.24 L554.81,92.39 L554.5,92.55 L554.19,92.71 L553.91,92.86 L553.69,93.02 L553.55,93.17 L553.5,93.33 L553.55,93.49 L553.69,93.64 L553.91,93.8 L554.19,93.96 L554.5,94.11 L554.81,94.27 L555.09,94.42 L555.31,94.58 L555.45,94.74 L555.5,94.89 L555.45,95.05 L555.31,95.21 L555.09,95.36 L554.81,95.52 L554.5,95.67 L554.19,95.83 L553.91,95.99 L553.69,96.14 L553.55,96.3 L553.5,96.46 L553.55,96.61 L553.69,96.77 L553.91,96.92 L554.19,97.08 L554.5,97.24 L554.81,97.39 L555.09,97.55 L555.31,97.71 L555.45,97.86 L555.5,98.02 L555.45,98.17 L555.31,98.33 L555.09,98.49 L554.81,98.64 L554.5,98.8" fill="none" stroke="#176a55" stroke-width="1.2" stroke-linecap="round" stroke-linejoin="round"/>
<path d="M554.5,137 L554.19,137.16 L553.91,137.31 L553.69,137.47 L553.55,137.63 L553.5,137.79 L553.55,137.94 L553.69,138.1 L553.91,138.26 L554.19,138.42 L554.5,138.57 L554.81,138.73 L555.09,138.89 L555.31,139.05 L555.45,139.21 L555.5,139.36 L555.45,139.52 L555.31,139.68 L555.09,139.84 L554.81,139.99 L554.5,140.15 L554.19,140.31 L553.91,140.47 L553.69,140.62 L553.55,140.78 L553.5,140.94 L553.55,141.09 L553.69,141.25 L553.91,141.41 L554.19,141.57 L554.5,141.72 L554.81,141.88 L555.09,142.04 L555.31,142.2 L555.45,142.35 L555.5,142.51 L555.45,142.67 L555.31,142.83 L555.09,142.98 L554.81,143.14 L554.5,143.3 L554.19,143.46 L553.91,143.62 L553.69,143.77 L553.55,143.93 L553.5,144.09 L553.55,144.25 L553.69,144.4 L553.91,144.56 L554.19,144.72 L554.5,144.88 L554.81,145.03 L555.09,145.19 L555.31,145.35 L555.45,145.5 L555.5,145.66 L555.45,145.82 L555.31,145.98 L555.09,146.13 L554.81,146.29 L554.5,146.45 L554.19,146.61 L553.91,146.76 L553.69,146.92 L553.55,147.08 L553.5,147.24 L553.55,147.39 L553.69,147.55 L553.91,147.71 L554.19,147.87 L554.5,148.03 L554.81,148.18 L555.09,148.34 L555.31,148.5 L555.45,148.66 L555.5,148.81 L555.45,148.97 L555.31,149.13 L555.09,149.28 L554.81,149.44 L554.5,149.6 L554.19,149.76 L553.91,149.91 L553.69,150.07 L553.55,150.23 L553.5,150.39 L553.55,150.54 L553.69,150.7 L553.91,150.86 L554.19,151.02 L554.5,151.17 L554.81,151.33 L555.09,151.49 L555.31,151.65 L555.45,151.81 L555.5,151.96 L555.45,152.12 L555.31,152.28 L555.09,152.44 L554.81,152.59 L554.5,152.75 L554.19,152.91 L553.91,153.06 L553.69,153.22 L553.55,153.38 L553.5,153.54 L553.55,153.69 L553.69,153.85 L553.91,154.01 L554.19,154.17 L554.5,154.32 L554.81,154.48 L555.09,154.64 L555.31,154.8 L555.45,154.95 L555.5,155.11 L555.45,155.27 L555.31,155.43 L555.09,155.58 L554.81,155.74 L554.5,155.9 L554.19,156.06 L553.91,156.21 L553.69,156.37 L553.55,156.53 L553.5,156.69 L553.55,156.84 L553.69,157 L553.91,157.16 L554.19,157.32 L554.5,157.47 L554.81,157.63 L555.09,157.79 L555.31,157.95 L555.45,158.1 L555.5,158.26 L555.45,158.42 L555.31,158.58 L555.09,158.73 L554.81,158.89 L554.5,159.05 L554.19,159.21 L553.91,159.36 L553.69,159.52 L553.55,159.68 L553.5,159.84 L553.55,160 L553.69,160.15 L553.91,160.31 L554.19,160.47 L554.5,160.62 L554.81,160.78 L555.09,160.94 L555.31,161.1 L555.45,161.25 L555.5,161.41 L555.45,161.57 L555.31,161.73 L555.09,161.88 L554.81,162.04 L554.5,162.2" fill="none" stroke="#176a55" stroke-width="1.2" stroke-linecap="round" stroke-linejoin="round"/>
<path d="M554.5,199.8 L554.19,199.96 L553.91,200.12 L553.69,200.28 L553.55,200.45 L553.5,200.61 L553.55,200.77 L553.69,200.93 L553.91,201.09 L554.19,201.25 L554.5,201.41 L554.81,201.57 L555.09,201.74 L555.31,201.9 L555.45,202.06 L555.5,202.22 L555.45,202.38 L555.31,202.54 L555.09,202.7 L554.81,202.86 L554.5,203.03 L554.19,203.19 L553.91,203.35 L553.69,203.51 L553.55,203.67 L553.5,203.83 L553.55,203.99 L553.69,204.15 L553.91,204.31 L554.19,204.48 L554.5,204.64 L554.81,204.8 L555.09,204.96 L555.31,205.12 L555.45,205.28 L555.5,205.44 L555.45,205.61 L555.31,205.77 L555.09,205.93 L554.81,206.09 L554.5,206.25 L554.19,206.41 L553.91,206.57 L553.69,206.73 L553.55,206.9 L553.5,207.06 L553.55,207.22 L553.69,207.38 L553.91,207.54 L554.19,207.7 L554.5,207.86 L554.81,208.02 L555.09,208.19 L555.31,208.35 L555.45,208.51 L555.5,208.67 L555.45,208.83 L555.31,208.99 L555.09,209.15 L554.81,209.31 L554.5,209.47 L554.19,209.64 L553.91,209.8 L553.69,209.96 L553.55,210.12 L553.5,210.28 L553.55,210.44 L553.69,210.6 L553.91,210.77 L554.19,210.93 L554.5,211.09 L554.81,211.25 L555.09,211.41 L555.31,211.57 L555.45,211.73 L555.5,211.89 L555.45,212.06 L555.31,212.22 L555.09,212.38 L554.81,212.54 L554.5,212.7 L554.19,212.86 L553.91,213.02 L553.69,213.18 L553.55,213.34 L553.5,213.51 L553.55,213.67 L553.69,213.83 L553.91,213.99 L554.19,214.15 L554.5,214.31 L554.81,214.47 L555.09,214.63 L555.31,214.8 L555.45,214.96 L555.5,215.12 L555.45,215.28 L555.31,215.44 L555.09,215.6 L554.81,215.76 L554.5,215.93 L554.19,216.09 L553.91,216.25 L553.69,216.41 L553.55,216.57 L553.5,216.73 L553.55,216.89 L553.69,217.05 L553.91,217.22 L554.19,217.38 L554.5,217.54 L554.81,217.7 L555.09,217.86 L555.31,218.02 L555.45,218.18 L555.5,218.34 L555.45,218.5 L555.31,218.67 L555.09,218.83 L554.81,218.99 L554.5,219.15 L554.19,219.31 L553.91,219.47 L553.69,219.63 L553.55,219.79 L553.5,219.96 L553.55,220.12 L553.69,220.28 L553.91,220.44 L554.19,220.6 L554.5,220.76 L554.81,220.92 L555.09,221.09 L555.31,221.25 L555.45,221.41 L555.5,221.57 L555.45,221.73 L555.31,221.89 L555.09,222.05 L554.81,222.21 L554.5,222.38 L554.19,222.54 L553.91,222.7 L553.69,222.86 L553.55,223.02 L553.5,223.18 L553.55,223.34 L553.69,223.5 L553.91,223.66 L554.19,223.83 L554.5,223.99 L554.81,224.15 L555.09,224.31 L555.31,224.47 L555.45,224.63 L555.5,224.79 L555.45,224.95 L555.31,225.12 L555.09,225.28 L554.81,225.44 L554.5,225.6" fill="none" stroke="#176a55" stroke-width="1.2" stroke-linecap="round" stroke-linejoin="round"/>
<path d="M472.5,69.2 Q508,48.5 543.5,69.2" fill="none" stroke="#2e7a1e" stroke-width="1.5"/>
<path d="M468.5,71.5 L472.2,65.6 L475.2,69.6 Z" fill="#2e7a1e"/>
<path d="M547.5,71.5 L540.8,69.6 L543.8,65.6 Z" fill="#2e7a1e"/>
<path d="M472.5,81.2 Q508,61.3 543.5,81.2" fill="none" stroke="#2e7a1e" stroke-width="1.5"/>
<path d="M468.5,83.5 L472.2,77.6 L475.2,81.6 Z" fill="#2e7a1e"/>
<path d="M547.5,83.5 L540.8,81.6 L543.8,77.6 Z" fill="#2e7a1e"/>
<path d="M472.5,133 Q508,111.5 543.5,133" fill="none" stroke="#2e7a1e" stroke-width="1.5"/>
<path d="M468.5,135.3 L472.2,129.4 L475.2,133.4 Z" fill="#2e7a1e"/>
<path d="M547.5,135.3 L540.8,133.4 L543.8,129.4 Z" fill="#2e7a1e"/>
<path d="M472.5,145.7 Q508,123.8 543.5,145.7" fill="none" stroke="#2e7a1e" stroke-width="1.5"/>
<path d="M468.5,148 L472.2,142.1 L475.2,146.1 Z" fill="#2e7a1e"/>
<path d="M547.5,148 L540.8,146.1 L543.8,142.1 Z" fill="#2e7a1e"/>
<line x1="497.6" y1="151" x2="497.6" y2="165" stroke="#2e7a1e" stroke-width="1.3"/>
<path d="M497.6,147.5 L499.6,152.5 L495.6,152.5 Z" fill="#2e7a1e"/>
<path d="M497.6,168.5 L495.6,163.5 L499.6,163.5 Z" fill="#2e7a1e"/>
<text x="503.5" y="162" style="font-family:'Liberation Serif',serif;font-size:19px;fill:#2e7a1e;font-style:italic" text-anchor="start">2V</text>
<text x="437.5" y="72.5" style="font-family:'Liberation Serif',serif;font-size:18.5px;fill:#e8509a;font-style:italic" text-anchor="start">&#969;<tspan dy="3.5" font-size="13.5" font-style="normal">2</tspan></text>
<line x1="462.2" y1="63.1" x2="462.2" y2="72.4" stroke="#e8509a" stroke-width="1.1"/>
<path d="M462.2,61 L463.7,64 L460.7,64 Z" fill="#e8509a"/>
<path d="M462.2,74.5 L460.7,71.5 L463.7,71.5 Z" fill="#e8509a"/>
<line x1="456" y1="98.3" x2="456" y2="153.1" stroke="#7535a8" stroke-width="1.2"/>
<path d="M456,94.8 L458,99.8 L454,99.8 Z" fill="#7535a8"/>
<path d="M456,156.6 L454,151.6 L458,151.6 Z" fill="#7535a8"/>
<text x="435.5" y="125.5" style="font-family:'Liberation Serif',serif;font-size:18.5px;fill:#7535a8;font-style:italic" text-anchor="start">&#969;<tspan dy="3.5" font-size="13.5" font-style="normal">1</tspan></text>
<line x1="427.2" y1="170" x2="427.2" y2="186" stroke="#c00000" stroke-width="1.1"/>
<text x="430" y="183" style="font-family:'Liberation Serif',serif;font-size:18px;fill:#c00000;font-style:italic" text-anchor="start">D</text>
<path d="M443,170 L447.5,178 L443,186" fill="none" stroke="#c00000" stroke-width="1.1" stroke-linejoin="miter"/>
<text x="559.5" y="84" style="font-family:'Liberation Serif',serif;font-size:18px;fill:#18806e;font-style:italic" text-anchor="start">&#947;<tspan dy="3.5" font-size="13" font-style="normal">2</tspan></text>
<text x="580.5" y="137.5" style="font-family:'Liberation Serif',serif;font-size:18px;fill:#1a72c4;font-style:italic" text-anchor="start">&#947;<tspan dy="3.5" font-size="13" font-style="normal">1</tspan></text>
<path d="M578,107.5 L577.74,107.78 L577.48,108.07 L577.25,108.35 L577.04,108.64 L576.87,108.92 L576.73,109.2 L576.64,109.49 L576.6,109.77 L576.61,110.06 L576.67,110.34 L576.77,110.62 L576.92,110.91 L577.11,111.19 L577.33,111.48 L577.57,111.76 L577.82,112.04 L578.09,112.33 L578.35,112.61 L578.6,112.9 L578.82,113.18 L579.02,113.46 L579.18,113.75 L579.3,114.03 L579.38,114.32 L579.4,114.6 L579.38,114.88 L579.3,115.17 L579.18,115.45 L579.02,115.74 L578.82,116.02 L578.6,116.3 L578.35,116.59 L578.09,116.87 L577.82,117.16 L577.57,117.44 L577.33,117.72 L577.11,118.01 L576.92,118.29 L576.77,118.58 L576.67,118.86 L576.61,119.14 L576.6,119.43 L576.64,119.71 L576.73,120 L576.87,120.28 L577.04,120.56 L577.25,120.85 L577.48,121.13 L577.74,121.42 L578,121.7 L578.26,121.98 L578.52,122.27 L578.75,122.55 L578.96,122.84 L579.13,123.12 L579.27,123.4 L579.36,123.69 L579.4,123.97 L579.39,124.26 L579.33,124.54 L579.23,124.82 L579.08,125.11 L578.89,125.39 L578.67,125.68 L578.43,125.96 L578.18,126.24 L577.91,126.53 L577.65,126.81 L577.4,127.1 L577.18,127.38 L576.98,127.66 L576.82,127.95 L576.7,128.23 L576.62,128.52 L576.6,128.8 L576.62,129.08 L576.7,129.37 L576.82,129.65 L576.98,129.94 L577.18,130.22 L577.4,130.5 L577.65,130.79 L577.91,131.07 L578.18,131.36 L578.43,131.64 L578.67,131.92 L578.89,132.21 L579.08,132.49 L579.23,132.78 L579.33,133.06 L579.39,133.34 L579.4,133.63 L579.36,133.91 L579.27,134.2 L579.13,134.48 L578.96,134.76 L578.75,135.05 L578.52,135.33 L578.26,135.62 L578,135.9 L577.74,136.18 L577.48,136.47 L577.25,136.75 L577.04,137.04 L576.87,137.32 L576.73,137.6 L576.64,137.89 L576.6,138.17 L576.61,138.46 L576.67,138.74 L576.77,139.02 L576.92,139.31 L577.11,139.59 L577.33,139.88 L577.57,140.16 L577.82,140.44 L578.09,140.73 L578.35,141.01 L578.6,141.3 L578.82,141.58 L579.02,141.86 L579.18,142.15 L579.3,142.43 L579.38,142.72 L579.4,143 L579.38,143.28 L579.3,143.57 L579.18,143.85 L579.02,144.14 L578.82,144.42 L578.6,144.7 L578.35,144.99 L578.09,145.27 L577.82,145.56 L577.57,145.84 L577.33,146.12 L577.11,146.41 L576.92,146.69 L576.77,146.98 L576.67,147.26 L576.61,147.54 L576.6,147.83 L576.64,148.11 L576.73,148.4 L576.87,148.68 L577.04,148.96 L577.25,149.25 L577.48,149.53 L577.74,149.82 L578,150.1 L578.26,150.38 L578.52,150.67 L578.75,150.95 L578.96,151.24 L579.13,151.52 L579.27,151.8 L579.36,152.09 L579.4,152.37 L579.39,152.66 L579.33,152.94 L579.23,153.22 L579.08,153.51 L578.89,153.79 L578.67,154.08 L578.43,154.36 L578.18,154.64 L577.91,154.93 L577.65,155.21 L577.4,155.5 L577.18,155.78 L576.98,156.06 L576.82,156.35 L576.7,156.63 L576.62,156.92 L576.6,157.2 L576.62,157.48 L576.7,157.77 L576.82,158.05 L576.98,158.34 L577.18,158.62 L577.4,158.9 L577.65,159.19 L577.91,159.47 L578.18,159.76 L578.43,160.04 L578.67,160.32 L578.89,160.61 L579.08,160.89 L579.23,161.18 L579.33,161.46 L579.39,161.74 L579.4,162.03 L579.36,162.31 L579.27,162.6 L579.13,162.88 L578.96,163.16 L578.75,163.45 L578.52,163.73 L578.26,164.02 L578,164.3" fill="none" stroke="#1f78b8" stroke-width="1.5" stroke-linecap="round" stroke-linejoin="round"/>
<path d="M578,167 L576,162.5 L580,162.5 Z" fill="#1f78b8"/>
<path d="M571,170.5 L570.74,170.78 L570.48,171.06 L570.25,171.34 L570.04,171.62 L569.87,171.9 L569.73,172.17 L569.64,172.45 L569.6,172.73 L569.61,173.01 L569.67,173.29 L569.77,173.57 L569.92,173.85 L570.11,174.13 L570.33,174.41 L570.57,174.69 L570.82,174.96 L571.09,175.24 L571.35,175.52 L571.6,175.8 L571.82,176.08 L572.02,176.36 L572.18,176.64 L572.3,176.92 L572.38,177.2 L572.4,177.47 L572.38,177.75 L572.3,178.03 L572.18,178.31 L572.02,178.59 L571.82,178.87 L571.6,179.15 L571.35,179.43 L571.09,179.71 L570.82,179.99 L570.57,180.26 L570.33,180.54 L570.11,180.82 L569.92,181.1 L569.77,181.38 L569.67,181.66 L569.61,181.94 L569.6,182.22 L569.64,182.5 L569.73,182.78 L569.87,183.06 L570.04,183.33 L570.25,183.61 L570.48,183.89 L570.74,184.17 L571,184.45 L571.26,184.73 L571.52,185.01 L571.75,185.29 L571.96,185.57 L572.13,185.84 L572.27,186.12 L572.36,186.4 L572.4,186.68 L572.39,186.96 L572.33,187.24 L572.23,187.52 L572.08,187.8 L571.89,188.08 L571.67,188.36 L571.43,188.63 L571.18,188.91 L570.91,189.19 L570.65,189.47 L570.4,189.75 L570.18,190.03 L569.98,190.31 L569.82,190.59 L569.7,190.87 L569.62,191.15 L569.6,191.43 L569.62,191.7 L569.7,191.98 L569.82,192.26 L569.98,192.54 L570.18,192.82 L570.4,193.1 L570.65,193.38 L570.91,193.66 L571.18,193.94 L571.43,194.22 L571.67,194.49 L571.89,194.77 L572.08,195.05 L572.23,195.33 L572.33,195.61 L572.39,195.89 L572.4,196.17 L572.36,196.45 L572.27,196.73 L572.13,197 L571.96,197.28 L571.75,197.56 L571.52,197.84 L571.26,198.12 L571,198.4 L570.74,198.68 L570.48,198.96 L570.25,199.24 L570.04,199.52 L569.87,199.79 L569.73,200.07 L569.64,200.35 L569.6,200.63 L569.61,200.91 L569.67,201.19 L569.77,201.47 L569.92,201.75 L570.11,202.03 L570.33,202.31 L570.57,202.58 L570.82,202.86 L571.09,203.14 L571.35,203.42 L571.6,203.7 L571.82,203.98 L572.02,204.26 L572.18,204.54 L572.3,204.82 L572.38,205.1 L572.4,205.38 L572.38,205.65 L572.3,205.93 L572.18,206.21 L572.02,206.49 L571.82,206.77 L571.6,207.05 L571.35,207.33 L571.09,207.61 L570.82,207.89 L570.57,208.16 L570.33,208.44 L570.11,208.72 L569.92,209 L569.77,209.28 L569.67,209.56 L569.61,209.84 L569.6,210.12 L569.64,210.4 L569.73,210.68 L569.87,210.95 L570.04,211.23 L570.25,211.51 L570.48,211.79 L570.74,212.07 L571,212.35 L571.26,212.63 L571.52,212.91 L571.75,213.19 L571.96,213.47 L572.13,213.75 L572.27,214.02 L572.36,214.3 L572.4,214.58 L572.39,214.86 L572.33,215.14 L572.23,215.42 L572.08,215.7 L571.89,215.98 L571.67,216.26 L571.43,216.53 L571.18,216.81 L570.91,217.09 L570.65,217.37 L570.4,217.65 L570.18,217.93 L569.98,218.21 L569.82,218.49 L569.7,218.77 L569.62,219.05 L569.6,219.32 L569.62,219.6 L569.7,219.88 L569.82,220.16 L569.98,220.44 L570.18,220.72 L570.4,221 L570.65,221.28 L570.91,221.56 L571.18,221.84 L571.43,222.12 L571.67,222.39 L571.89,222.67 L572.08,222.95 L572.23,223.23 L572.33,223.51 L572.39,223.79 L572.4,224.07 L572.36,224.35 L572.27,224.63 L572.13,224.91 L571.96,225.18 L571.75,225.46 L571.52,225.74 L571.26,226.02 L571,226.3" fill="none" stroke="#1f78b8" stroke-width="1.5" stroke-linecap="round" stroke-linejoin="round"/>
<path d="M571,229 L569,224.5 L573,224.5 Z" fill="#1f78b8"/>
<line x1="575.2" y1="239" x2="575.2" y2="254" stroke="#1818d8" stroke-width="1.1"/>
<text x="578" y="251.5" style="font-family:'Liberation Serif',serif;font-size:18px;fill:#1818d8;font-style:italic" text-anchor="start">A</text>
<path d="M590.5,239 L595,246.5 L590.5,254" fill="none" stroke="#1818d8" stroke-width="1.1" stroke-linejoin="miter"/>
<text x="445" y="233.5" style="font-family:'Liberation Serif',serif;font-size:18px;fill:#000" text-anchor="start">&#916;<tspan font-style="italic">E</tspan></text>
<line x1="471.6" y1="193.7" x2="471.6" y2="260" stroke="#000" stroke-width="1.2"/>
<path d="M471.6,189.5 L473.7,195.5 L469.5,195.5 Z" fill="#000"/>
<path d="M471.6,264.2 L469.5,258.2 L473.7,258.2 Z" fill="#000"/>
<text x="480" y="255.5" style="font-family:'Liberation Serif',serif;font-size:20.5px;fill:#f75c4c" text-anchor="start"><tspan font-style="italic">g</tspan><tspan dy="3.5" font-size="14">1</tspan><tspan dy="-3.5" dx="1.5">/</tspan><tspan font-style="italic" dx="1.5">&#969;</tspan><tspan dy="3.5" font-size="14">1</tspan></text>
<line x1="476.2" y1="268.4" x2="542.8" y2="268.4" stroke="#f75c4c" stroke-width="1.2"/>
<path d="M472,268.4 L478,266.3 L478,270.5 Z" fill="#f75c4c"/>
<path d="M547,268.4 L541,270.5 L541,266.3 Z" fill="#f75c4c"/>
<rect x="28" y="469.5" width="296.5" height="158.5" fill="none" stroke="#000080" stroke-width="2.2" stroke-dasharray="7.6,2.6"/>
<rect x="28" y="698.5" width="296.5" height="221" fill="none" stroke="#000080" stroke-width="2.2" stroke-dasharray="7.6,2.6"/>
<line x1="118" y1="493" x2="161" y2="493" stroke="#c00000" stroke-width="2"/>
<line x1="118" y1="598.2" x2="161" y2="598.2" stroke="#1f7ad0" stroke-width="2"/>
<line x1="140" y1="499" x2="140" y2="586" stroke="#fa7a12" stroke-width="2.2"/>
<path d="M140,592.6 L136.75,585.1 L143.25,585.1 Z" fill="#fa7a12"/>
<circle cx="140" cy="493" r="5.4" fill="#fff" stroke="#111" stroke-width="1.1"/>
<circle cx="140" cy="598.2" r="5.4" fill="#6a2a9a" stroke="#111" stroke-width="1.1"/>
<line x1="120.5" y1="533" x2="120.5" y2="499.7" stroke="#000" stroke-width="1.2"/>
<path d="M120.5,494.8 L123.25,501.8 L117.75,501.8 Z" fill="#000"/>
<line x1="120.5" y1="569" x2="120.5" y2="591.6" stroke="#000" stroke-width="1.2"/>
<path d="M120.5,596.5 L118.1,589.5 L122.9,589.5 Z" fill="#000"/>
<line x1="86.5" y1="488" x2="86.5" y2="504.5" stroke="#c00000" stroke-width="1.2"/>
<text x="89.5" y="500.3" style="font-family:'Liberation Serif',serif;font-size:19.5px;fill:#c00000;font-style:italic" text-anchor="start">e</text>
<text x="98.2" y="506.2" style="font-family:'Liberation Serif',serif;font-size:17px;fill:#c00000" text-anchor="start">+</text>
<path d="M109.5,488 L114.5,496.25 L109.5,504.5" fill="none" stroke="#c00000" stroke-width="1.2" stroke-linejoin="miter"/>
<line x1="168" y1="591.5" x2="168" y2="607" stroke="#2f56a6" stroke-width="1.2"/>
<text x="170.5" y="603.5" style="font-family:'Liberation Serif',serif;font-size:19.5px;fill:#2f56a6;font-style:italic" text-anchor="start">e</text>
<text x="179.5" y="609.5" style="font-family:'Liberation Serif',serif;font-size:16px;fill:#2f56a6" text-anchor="start">&#8722;</text>
<path d="M189.5,591.5 L194.5,599.25 L189.5,607" fill="none" stroke="#2f56a6" stroke-width="1.2" stroke-linejoin="miter"/>
<text x="151" y="548.5" style="font-family:'Liberation Serif',serif;font-size:21px;fill:#f75c4c;font-style:italic" text-anchor="start">g</text>
<path d="M33.2,554.2 L35.2,552.6 L38.2,561.5 L43.6,542.3 L136.8,542.3" fill="none" stroke="#000" stroke-width="1.15" stroke-linejoin="miter"/>
<text x="44.6" y="558.3" style="font-family:'Liberation Serif',serif;font-size:17.5px;fill:#000" text-anchor="start">&#916;</text>
<text x="55" y="558.3" style="font-family:'Liberation Serif',serif;font-size:18.5px;fill:#000;font-style:italic" text-anchor="start">E</text>
<text x="66.3" y="553.8" style="font-family:'Liberation Serif',serif;font-size:12.5px;fill:#000" text-anchor="start">2</text>
<path d="M79.2,553.3 h11 M84.7,547.8 v11" stroke="#000" stroke-width="1.2" fill="none"/>
<text x="95" y="558.3" style="font-family:'Liberation Serif',serif;font-size:18.5px;fill:#000" text-anchor="start">(</text>
<text x="101" y="558.3" style="font-family:'Liberation Serif',serif;font-size:18.5px;fill:#000" text-anchor="start">2</text>
<text x="109.3" y="558.3" style="font-family:'Liberation Serif',serif;font-size:18.5px;fill:#000;font-style:italic" text-anchor="start">V</text>
<text x="123" y="558.3" style="font-family:'Liberation Serif',serif;font-size:18.5px;fill:#000" text-anchor="start">)</text>
<text x="129.3" y="553.8" style="font-family:'Liberation Serif',serif;font-size:12.5px;fill:#000" text-anchor="start">2</text>
<circle cx="191.8" cy="540" r="7.2" fill="none" stroke="#000" stroke-width="1.3"/>
<path d="M186.7,534.9 L196.9,545.1 M196.9,534.9 L186.7,545.1" stroke="#000" stroke-width="1.3"/>
<path d="M210.17,504.7 L210.17,504.7 L211.04,504.7 L211.9,504.7 L212.77,504.7 L213.64,504.7 L214.5,504.7 L215.37,504.7 L216.23,504.7 L217.1,504.7 L217.97,504.7 L218.83,504.7 L219.7,504.7 L220.56,504.7 L221.43,504.7 L222.3,504.7 L223.16,504.7 L224.03,504.69 L224.89,504.69 L225.76,504.69 L226.63,504.68 L227.49,504.67 L228.36,504.65 L229.22,504.62 L230.09,504.59 L230.96,504.54 L231.82,504.46 L232.69,504.37 L233.55,504.23 L234.42,504.06 L235.29,503.83 L236.15,503.54 L237.02,503.17 L237.88,502.71 L238.75,502.16 L239.62,501.5 L240.48,500.73 L241.35,499.86 L242.21,498.89 L243.08,497.85 L243.95,496.77 L244.81,495.68 L245.68,494.64 L246.54,493.7 L247.41,492.94 L248.28,492.43 L249.14,492.22 L250.01,492.39 L250.87,492.97 L251.74,493.98 L252.61,495.44 L253.47,497.3 L254.34,499.51 L255.2,501.97 L256.07,504.57 L256.94,507.18 L257.8,509.65 L258.67,511.84 L259.53,513.61 L260.4,514.86 L261.27,515.51 L262.13,515.51 L263,514.86 L263.87,513.61 L264.73,511.84 L265.6,509.65 L266.46,507.18 L267.33,504.57 L268.2,501.97 L269.06,499.51 L269.93,497.3 L270.79,495.44 L271.66,493.98 L272.53,492.97 L273.39,492.39 L274.26,492.22 L275.12,492.43 L275.99,492.94 L276.86,493.7 L277.72,494.64 L278.59,495.68 L279.45,496.77 L280.32,497.85 L281.19,498.89 L282.05,499.86 L282.92,500.73 L283.78,501.5 L284.65,502.16 L285.52,502.71 L286.38,503.17 L287.25,503.54 L288.11,503.83 L288.98,504.06 L289.85,504.23 L290.71,504.37 L291.58,504.46 L292.44,504.54 L293.31,504.59 L294.18,504.62 L295.04,504.65 L295.91,504.67 L296.77,504.68 L297.64,504.69 L298.51,504.69 L299.37,504.69 L300.24,504.7 L301.1,504.7 L301.97,504.7 L302.84,504.7 L303.7,504.7 L304.57,504.7 L305.43,504.7 L306.3,504.7 L307.17,504.7 L308.03,504.7 L308.9,504.7 L309.76,504.7 L310.63,504.7 L311.5,504.7 L312.36,504.7 L313.23,504.7 L313.23,504.7 Z" fill="#dcc6e0" stroke="none"/>
<line x1="209.67" y1="504.7" x2="313.73" y2="504.7" stroke="#dccbe0" stroke-width="1.2"/>
<path d="M221.89,546.8 L221.89,546.8 L222.56,546.8 L223.23,546.8 L223.9,546.8 L224.57,546.8 L225.24,546.8 L225.91,546.8 L226.58,546.8 L227.24,546.81 L227.91,546.81 L228.58,546.81 L229.25,546.82 L229.92,546.83 L230.59,546.84 L231.26,546.85 L231.93,546.87 L232.6,546.89 L233.27,546.92 L233.94,546.96 L234.6,547.01 L235.27,547.07 L235.94,547.15 L236.61,547.25 L237.28,547.37 L237.95,547.51 L238.62,547.69 L239.29,547.9 L239.96,548.16 L240.63,548.46 L241.29,548.8 L241.96,549.2 L242.63,549.66 L243.3,550.17 L243.97,550.74 L244.64,551.37 L245.31,552.05 L245.98,552.78 L246.65,553.55 L247.32,554.36 L247.98,555.18 L248.65,556 L249.32,556.8 L249.99,557.56 L250.66,558.26 L251.33,558.88 L252,559.38 L252.67,559.75 L253.34,559.96 L254.01,560 L254.68,559.84 L255.34,559.48 L256.01,558.9 L256.68,558.1 L257.35,557.1 L258.02,555.9 L258.69,554.52 L259.36,552.98 L260.03,551.31 L260.7,549.54 L261.37,547.72 L262.03,545.88 L262.7,544.06 L263.37,542.29 L264.04,540.62 L264.71,539.08 L265.38,537.7 L266.05,536.5 L266.72,535.5 L267.39,534.7 L268.06,534.12 L268.72,533.76 L269.39,533.6 L270.06,533.64 L270.73,533.85 L271.4,534.22 L272.07,534.72 L272.74,535.34 L273.41,536.04 L274.08,536.8 L274.75,537.6 L275.42,538.42 L276.08,539.24 L276.75,540.05 L277.42,540.82 L278.09,541.55 L278.76,542.23 L279.43,542.86 L280.1,543.43 L280.77,543.94 L281.44,544.4 L282.11,544.8 L282.77,545.14 L283.44,545.44 L284.11,545.7 L284.78,545.91 L285.45,546.09 L286.12,546.23 L286.79,546.35 L287.46,546.45 L288.13,546.53 L288.8,546.59 L289.46,546.64 L290.13,546.68 L290.8,546.71 L291.47,546.73 L292.14,546.75 L292.81,546.76 L293.48,546.77 L294.15,546.78 L294.82,546.79 L295.49,546.79 L296.16,546.79 L296.82,546.8 L297.49,546.8 L298.16,546.8 L298.83,546.8 L299.5,546.8 L300.17,546.8 L300.84,546.8 L301.51,546.8 L301.51,546.8 Z" fill="#dcc6e0" stroke="none"/>
<line x1="221.39" y1="546.8" x2="302.01" y2="546.8" stroke="#dccbe0" stroke-width="1.2"/>
<path d="M238.69,588.5 L238.69,588.28 L239.08,588.24 L239.46,588.21 L239.85,588.16 L240.24,588.12 L240.62,588.06 L241.01,588 L241.4,587.93 L241.78,587.86 L242.17,587.77 L242.56,587.68 L242.94,587.58 L243.33,587.47 L243.72,587.35 L244.1,587.21 L244.49,587.06 L244.88,586.9 L245.26,586.73 L245.65,586.54 L246.04,586.34 L246.42,586.13 L246.81,585.89 L247.2,585.64 L247.58,585.38 L247.97,585.1 L248.36,584.8 L248.75,584.49 L249.13,584.16 L249.52,583.81 L249.91,583.45 L250.29,583.07 L250.68,582.68 L251.07,582.28 L251.45,581.86 L251.84,581.43 L252.23,581 L252.61,580.55 L253,580.1 L253.39,579.65 L253.77,579.19 L254.16,578.74 L254.55,578.28 L254.93,577.83 L255.32,577.39 L255.71,576.95 L256.09,576.53 L256.48,576.12 L256.87,575.73 L257.25,575.36 L257.64,575.01 L258.03,574.68 L258.41,574.38 L258.8,574.11 L259.19,573.86 L259.57,573.65 L259.96,573.47 L260.35,573.33 L260.73,573.22 L261.12,573.14 L261.51,573.11 L261.89,573.11 L262.28,573.14 L262.67,573.22 L263.05,573.33 L263.44,573.47 L263.83,573.65 L264.21,573.86 L264.6,574.11 L264.99,574.38 L265.37,574.68 L265.76,575.01 L266.15,575.36 L266.53,575.73 L266.92,576.12 L267.31,576.53 L267.69,576.95 L268.08,577.39 L268.47,577.83 L268.85,578.28 L269.24,578.74 L269.63,579.19 L270.01,579.65 L270.4,580.1 L270.79,580.55 L271.17,581 L271.56,581.43 L271.95,581.86 L272.33,582.28 L272.72,582.68 L273.11,583.07 L273.49,583.45 L273.88,583.81 L274.27,584.16 L274.65,584.49 L275.04,584.8 L275.43,585.1 L275.82,585.38 L276.2,585.64 L276.59,585.89 L276.98,586.13 L277.36,586.34 L277.75,586.54 L278.14,586.73 L278.52,586.9 L278.91,587.06 L279.3,587.21 L279.68,587.35 L280.07,587.47 L280.46,587.58 L280.84,587.68 L281.23,587.77 L281.62,587.86 L282,587.93 L282.39,588 L282.78,588.06 L283.16,588.12 L283.55,588.16 L283.94,588.21 L284.32,588.24 L284.71,588.28 L284.71,588.5 Z" fill="#dcc6e0" stroke="none"/>
<line x1="238.19" y1="588.5" x2="285.21" y2="588.5" stroke="#dccbe0" stroke-width="1.2"/>
<path d="M206,489.31 L206.71,492.37 L207.42,495.38 L208.13,498.36 L208.84,501.3 L209.55,504.2 L210.26,507.05 L210.97,509.87 L211.68,512.65 L212.38,515.4 L213.09,518.1 L213.8,520.76 L214.51,523.39 L215.22,525.97 L215.93,528.52 L216.64,531.02 L217.35,533.49 L218.06,535.92 L218.77,538.31 L219.48,540.66 L220.19,542.97 L220.9,545.24 L221.61,547.47 L222.32,549.67 L223.03,551.82 L223.74,553.93 L224.45,556.01 L225.15,558.05 L225.86,560.04 L226.57,562 L227.28,563.92 L227.99,565.8 L228.7,567.64 L229.41,569.44 L230.12,571.21 L230.83,572.93 L231.54,574.61 L232.25,576.26 L232.96,577.87 L233.67,579.43 L234.38,580.96 L235.09,582.45 L235.8,583.9 L236.51,585.31 L237.22,586.68 L237.92,588.01 L238.63,589.3 L239.34,590.56 L240.05,591.77 L240.76,592.95 L241.47,594.08 L242.18,595.18 L242.89,596.24 L243.6,597.26 L244.31,598.24 L245.02,599.18 L245.73,600.08 L246.44,600.94 L247.15,601.76 L247.86,602.55 L248.57,603.29 L249.28,604 L249.98,604.66 L250.69,605.29 L251.4,605.88 L252.11,606.42 L252.82,606.93 L253.53,607.4 L254.24,607.84 L254.95,608.23 L255.66,608.58 L256.37,608.89 L257.08,609.17 L257.79,609.4 L258.5,609.6 L259.21,609.76 L259.92,609.88 L260.63,609.96 L261.34,609.99 L262.05,610 L262.75,609.96 L263.46,609.88 L264.17,609.76 L264.88,609.61 L265.59,609.41 L266.3,609.18 L267.01,608.9 L267.72,608.59 L268.43,608.24 L269.14,607.85 L269.85,607.42 L270.56,606.95 L271.27,606.44 L271.98,605.89 L272.69,605.3 L273.4,604.68 L274.11,604.01 L274.82,603.31 L275.52,602.57 L276.23,601.78 L276.94,600.96 L277.65,600.1 L278.36,599.2 L279.07,598.26 L279.78,597.28 L280.49,596.26 L281.2,595.21 L281.91,594.11 L282.62,592.98 L283.33,591.8 L284.04,590.59 L284.75,589.34 L285.46,588.05 L286.17,586.71 L286.88,585.35 L287.58,583.94 L288.29,582.49 L289,581 L289.71,579.47 L290.42,577.91 L291.13,576.3 L291.84,574.66 L292.55,572.98 L293.26,571.25 L293.97,569.49 L294.68,567.69 L295.39,565.85 L296.1,563.97 L296.81,562.05 L297.52,560.1 L298.23,558.1 L298.94,556.06 L299.65,553.99 L300.35,551.88 L301.06,549.72 L301.77,547.53 L302.48,545.3 L303.19,543.03 L303.9,540.72 L304.61,538.37 L305.32,535.98 L306.03,533.56 L306.74,531.09 L307.45,528.58 L308.16,526.04 L308.87,523.45 L309.58,520.83 L310.29,518.17 L311,515.47 L311.71,512.73 L312.42,509.95 L313.12,507.13 L313.83,504.27 L314.54,501.37 L315.25,498.44 L315.96,495.46 L316.67,492.45 L317.38,489.39 L318.09,486.3 L318.8,483.17" fill="none" stroke="#6a2a7a" stroke-width="1.1"/>
<line x1="296" y1="509.35" x2="296" y2="542.15" stroke="#7535a8" stroke-width="1.4"/>
<path d="M296,505.5 L298.25,511 L293.75,511 Z" fill="#7535a8"/>
<path d="M296,546 L293.75,540.5 L298.25,540.5 Z" fill="#7535a8"/>
<text x="278.5" y="531" style="font-family:'Liberation Serif',serif;font-size:19px;fill:#7535a8;font-style:italic" text-anchor="start">&#969;</text>
<line x1="261.7" y1="582" x2="261.7" y2="554" stroke="#fa7a12" stroke-width="2.4"/>
<path d="M261.7,547.5 L265.2,555.5 L258.2,555.5 Z" fill="#fa7a12"/>
<circle cx="261.7" cy="542.6" r="5.4" fill="#6a2a9a" stroke="#111" stroke-width="1.1"/>
<circle cx="261.7" cy="588.5" r="5.4" fill="#fff" stroke="#111" stroke-width="1.1"/>
<text x="245" y="573.5" style="font-family:'Liberation Serif',serif;font-size:21px;fill:#f75c4c;font-style:italic" text-anchor="start">g</text>
<path d="M283,548 L282.73,548.19 L282.47,548.38 L282.22,548.57 L281.98,548.76 L281.77,548.95 L281.57,549.13 L281.41,549.32 L281.28,549.51 L281.18,549.7 L281.12,549.89 L281.1,550.08 L281.11,550.27 L281.17,550.46 L281.26,550.65 L281.38,550.84 L281.54,551.02 L281.72,551.21 L281.93,551.4 L282.16,551.59 L282.41,551.78 L282.67,551.97 L282.94,552.16 L283.21,552.35 L283.47,552.54 L283.73,552.73 L283.97,552.91 L284.19,553.1 L284.39,553.29 L284.55,553.48 L284.69,553.67 L284.8,553.86 L284.87,554.05 L284.9,554.24 L284.89,554.43 L284.85,554.62 L284.77,554.8 L284.65,554.99 L284.5,555.18 L284.32,555.37 L284.12,555.56 L283.89,555.75 L283.64,555.94 L283.39,556.13 L283.12,556.32 L282.85,556.5 L282.59,556.69 L282.33,556.88 L282.08,557.07 L281.86,557.26 L281.66,557.45 L281.48,557.64 L281.34,557.83 L281.22,558.02 L281.15,558.21 L281.11,558.39 L281.1,558.58 L281.14,558.77 L281.21,558.96 L281.32,559.15 L281.46,559.34 L281.64,559.53 L281.84,559.72 L282.06,559.91 L282.3,560.1 L282.56,560.28 L282.82,560.47 L283.09,560.66 L283.36,560.85 L283.62,561.04 L283.86,561.23 L284.09,561.42 L284.3,561.61 L284.48,561.8 L284.64,561.99 L284.76,562.17 L284.84,562.36 L284.89,562.55 L284.9,562.74 L284.87,562.93 L284.81,563.12 L284.71,563.31 L284.57,563.5 L284.41,563.69 L284.21,563.88 L283.99,564.07 L283.75,564.25 L283.5,564.44 L283.24,564.63 L282.97,564.82 L282.7,565.01 L282.44,565.2 L282.19,565.39 L281.96,565.58 L281.74,565.77 L281.56,565.96 L281.4,566.14 L281.27,566.33 L281.18,566.52 L281.12,566.71 L281.1,566.9 L281.12,567.09 L281.18,567.28 L281.27,567.47 L281.4,567.66 L281.56,567.85 L281.74,568.03 L281.96,568.22 L282.19,568.41 L282.44,568.6 L282.7,568.79 L282.97,568.98 L283.24,569.17 L283.5,569.36 L283.75,569.55 L283.99,569.74 L284.21,569.92 L284.41,570.11 L284.57,570.3 L284.71,570.49 L284.81,570.68 L284.87,570.87 L284.9,571.06 L284.89,571.25 L284.84,571.44 L284.76,571.62 L284.64,571.81 L284.48,572 L284.3,572.19 L284.09,572.38 L283.86,572.57 L283.62,572.76 L283.36,572.95 L283.09,573.14 L282.82,573.33 L282.56,573.51 L282.3,573.7 L282.06,573.89 L281.84,574.08 L281.64,574.27 L281.46,574.46 L281.32,574.65 L281.21,574.84 L281.14,575.03 L281.1,575.22 L281.11,575.4 L281.15,575.59 L281.22,575.78 L281.34,575.97 L281.48,576.16 L281.66,576.35 L281.86,576.54 L282.08,576.73 L282.33,576.92 L282.59,577.11 L282.85,577.29 L283.12,577.48 L283.39,577.67 L283.64,577.86 L283.89,578.05 L284.12,578.24 L284.32,578.43 L284.5,578.62 L284.65,578.81 L284.77,579 L284.85,579.18 L284.89,579.37 L284.9,579.56 L284.87,579.75 L284.8,579.94 L284.69,580.13 L284.55,580.32 L284.39,580.51 L284.19,580.7 L283.97,580.89 L283.73,581.08 L283.47,581.26 L283.21,581.45 L282.94,581.64 L282.67,581.83 L282.41,582.02 L282.16,582.21 L281.93,582.4 L281.72,582.59 L281.54,582.78 L281.38,582.97 L281.26,583.15 L281.17,583.34 L281.11,583.53 L281.1,583.72 L281.12,583.91 L281.18,584.1 L281.28,584.29 L281.41,584.48 L281.57,584.67 L281.77,584.86 L281.98,585.04 L282.22,585.23 L282.47,585.42 L282.73,585.61 L283,585.8" fill="none" stroke="#2a4a9a" stroke-width="1.6" stroke-linecap="round" stroke-linejoin="round"/>
<path d="M283,588.5 L281,584 L285,584 Z" fill="#2a4a9a"/>
<text x="299.5" y="573" style="font-family:'Liberation Serif',serif;font-size:18px;fill:#3a5a9a;font-style:italic" text-anchor="start">&#947;</text>
<line x1="96" y1="718.5" x2="96" y2="744.2" stroke="#c00000" stroke-width="1.6"/>
<text x="100" y="738.5" style="font-family:'Liberation Serif',serif;font-size:27px;fill:#c00000;font-style:italic" text-anchor="start">e</text>
<text x="113.2" y="745.8" style="font-family:'Liberation Serif',serif;font-size:23px;fill:#c00000" text-anchor="start">+</text>
<path d="M129.8,718.5 L137,731.35 L129.8,744.2" fill="none" stroke="#c00000" stroke-width="1.6" stroke-linejoin="miter"/>
<line x1="142" y1="729.1" x2="206.5" y2="729.1" stroke="#c00000" stroke-width="2"/>
<line x1="141.6" y1="882.5" x2="206.5" y2="882.5" stroke="#1f7ad0" stroke-width="2"/>
<line x1="216.2" y1="873" x2="216.2" y2="897.8" stroke="#2f56a6" stroke-width="1.7"/>
<text x="221" y="892" style="font-family:'Liberation Serif',serif;font-size:27px;fill:#2f56a6;font-style:italic" text-anchor="start">e</text>
<text x="234.3" y="898" style="font-family:'Liberation Serif',serif;font-size:23px;fill:#2f56a6" text-anchor="start">&#8722;</text>
<path d="M251.2,873 L257.7,885.4 L251.2,897.8" fill="none" stroke="#2f56a6" stroke-width="1.7" stroke-linejoin="miter"/>
<line x1="42.9" y1="842.7" x2="109.8" y2="842.7" stroke="#000" stroke-width="2.7" stroke-dasharray="16.2,2.4"/>
<line x1="238.3" y1="768.8" x2="305" y2="768.8" stroke="#000" stroke-width="2.7" stroke-dasharray="16.2,2.4"/>
<path d="M162,742.3 L171.3,731.8 L181.5,735.4" fill="none" stroke="#000" stroke-width="3.5" stroke-linejoin="miter"/>
<line x1="171.3" y1="731.8" x2="81.36" y2="833.8" stroke="#000" stroke-width="3.5"/>
<path d="M75.8,840.1 L79.8,827.63 L87.67,834.57 Z" fill="#000"/>
<line x1="171.3" y1="731.8" x2="265.27" y2="764.82" stroke="#000" stroke-width="3.5"/>
<path d="M273.2,767.6 L260.14,768.58 L263.62,758.67 Z" fill="#000"/>
<line x1="273.5" y1="770.5" x2="180.76" y2="875.5" stroke="#000" stroke-width="3.5"/>
<path d="M175.2,881.8 L179.21,869.33 L187.08,876.28 Z" fill="#000"/>
<line x1="77.5" y1="847.2" x2="168.57" y2="879.03" stroke="#000" stroke-width="3.5"/>
<path d="M176.5,881.8 L163.44,882.8 L166.9,872.88 Z" fill="#000"/>
<path d="M61.6,777.7 h14.4 M68.8,770.2 v15" stroke="#000" stroke-width="1.7" fill="none"/>
<text x="78.4" y="784.8" style="font-family:'Liberation Serif',serif;font-size:24px;fill:#000"><tspan font-style="italic">&#969;</tspan><tspan dy="4.6" dx="1" font-size="17">1</tspan></text>
<path d="M229.6,733.7 h14.4 M236.8,726.2 v15" stroke="#000" stroke-width="1.7" fill="none"/>
<text x="246.4" y="740.8" style="font-family:'Liberation Serif',serif;font-size:24px;fill:#000"><tspan font-style="italic">&#969;</tspan><tspan dy="4.6" dx="1" font-size="17">2</tspan></text>
<path d="M237.5,830.9 h14.4 M244.7,823.4 v15" stroke="#000" stroke-width="1.7" fill="none"/>
<text x="254.3" y="838" style="font-family:'Liberation Serif',serif;font-size:24px;fill:#000"><tspan font-style="italic">&#969;</tspan><tspan dy="4.6" dx="1" font-size="17">1</tspan></text>
<path d="M64.7,873.9 h14.4 M71.9,866.4 v15" stroke="#000" stroke-width="1.7" fill="none"/>
<text x="81.5" y="881" style="font-family:'Liberation Serif',serif;font-size:24px;fill:#000"><tspan font-style="italic">&#969;</tspan><tspan dy="4.6" dx="1" font-size="17">2</tspan></text>
<line x1="430.8" y1="571.4" x2="509" y2="475" stroke="#5a5a5a" stroke-width="0.6"/>
<line x1="509" y1="475" x2="630" y2="523" stroke="#5a5a5a" stroke-width="0.6"/>
<line x1="509" y1="475" x2="507.5" y2="403.4" stroke="#5a5a5a" stroke-width="0.6"/>
<g opacity="0.58"><path d="M509.9,451.1l4.3,4.9 2.4-4-4.2-4.9z" fill="#63185f"/><path d="M513.3,455.2l4.3,4.6 2.4-4-4.2-4.6z" fill="#63195e"/><path d="M506.5,446.7l4.2,5.2 2.5-3.9-4.2-5.2z" fill="#631860"/><path d="M516.7,459.1l4.3,4.3 2.4-4.1-4.2-4.3z" fill="#62195d"/><path d="M520.1,462.6l4.3,4.1 2.4-4.2-4.2-4z" fill="#621a5c"/><path d="M523.5,466l4.3,3.7 2.5-4.2-4.3-3.7z" fill="#621a5b"/><path d="M527,469.1l4.3,3.4 2.4-4.2-4.3-3.4z" fill="#611b59"/><path d="M507.9,454.4l4.3,4.9 2.5-3.9-4.3-5z" fill="#63185f"/><path d="M511.4,458.5l4.2,4.7 2.5-4.1-4.2-4.6z" fill="#63195e"/><path d="M504.5,450l4.3,5.2 2.5-3.9-4.3-5.2z" fill="#631860"/><path d="M530.4,471.9l4.3,3.2 2.4-4.3-4.3-3.1z" fill="#611c58"/><path d="M514.8,462.4l4.3,4.3 2.4-4-4.2-4.3z" fill="#62195d"/><path d="M518.2,466l4.3,4 2.5-4.1-4.3-4z" fill="#621a5c"/><path d="M521.6,469.4l4.3,3.7 2.5-4.1-4.3-3.8z" fill="#621a5b"/><path d="M533.8,474.5l4.4,2.9 2.3-4.3-4.3-2.9z" fill="#611c57"/><path d="M525.1,472.5l4.3,3.4 2.4-4.2-4.3-3.4z" fill="#611b5a"/><path d="M537.3,476.9l4.3,2.5 2.3-4.3-4.3-2.6z" fill="#601d56"/><path d="M505.9,457.7l4.3,4.9 2.6-3.9-4.3-4.9z" fill="#63185f"/><path d="M509.4,461.8l4.3,4.7 2.5-4-4.3-4.6z" fill="#63195e"/><path d="M528.5,475.3l4.3,3.2 2.4-4.3-4.3-3.1z" fill="#611b58"/><path d="M502.5,453.3l4.3,5.2 2.5-3.9-4.3-5.2z" fill="#631860"/><path d="M512.8,465.7l4.3,4.4 2.5-4.1-4.3-4.3z" fill="#62195d"/><path d="M516.3,469.3l4.3,4.1 2.5-4.1-4.3-4z" fill="#621a5c"/><path d="M519.7,472.7l4.3,3.8 2.5-4.1-4.3-3.8z" fill="#621a5b"/><path d="M532,477.9l4.3,2.9 2.4-4.3-4.4-2.8z" fill="#611c57"/><path d="M540.7,478.9l4.4,2.4 2.3-4.4-4.4-2.3z" fill="#601d55"/><path d="M523.2,475.8l4.3,3.5 2.4-4.2-4.3-3.4z" fill="#611b5a"/><path d="M535.4,480.3l4.4,2.6 2.3-4.3-4.3-2.6z" fill="#601d56"/><path d="M544.2,480.8l4.4,2.2 2.3-4.2-4.4-2.4z" fill="#601d56"/><path d="M503.9,460.9l4.4,5 2.5-3.9-4.3-5z" fill="#63185f"/><path d="M507.4,465.1l4.3,4.7 2.5-4-4.3-4.6z" fill="#63195e"/><path d="M526.6,478.7l4.3,3.2 2.4-4.2-4.3-3.2z" fill="#611b58"/><path d="M500.5,456.5l4.3,5.3 2.5-3.9-4.3-5.2z" fill="#631860"/><path d="M510.9,469l4.3,4.4 2.5-4-4.3-4.4z" fill="#62195d"/><path d="M514.3,472.6l4.3,4.1 2.5-4-4.3-4.1z" fill="#621a5c"/><path d="M547.7,482.4l4.4,3.6 2.3-3.9-4.4-3.8z" fill="#611b5a"/><path d="M538.9,482.4l4.4,2.3 2.3-4.3-4.4-2.3z" fill="#601d55"/><path d="M530.1,481.3l4.3,2.9 2.4-4.2-4.3-2.9z" fill="#611c57"/><path d="M517.8,476l4.3,3.8 2.5-4.1-4.3-3.7z" fill="#621a5b"/><path d="M551.2,485.3l4.3,3.8 2.3-3.8-4.3-3.9z" fill="#621a5c"/><path d="M521.2,479.2l4.4,3.5 2.4-4.2-4.3-3.4z" fill="#611b5a"/><path d="M533.5,483.7l4.4,2.6 2.4-4.3-4.4-2.6z" fill="#601d56"/><path d="M554.7,488.4l4.4,3.6 2.2-3.9-4.4-3.5z" fill="#621a5b"/><path d="M542.4,484.3l4.4,2.1 2.3-4.3-4.4-2.2z" fill="#601d55"/><path d="M501.9,464.2l4.4,5 2.5-3.9-4.3-5z" fill="#63185f"/><path d="M505.4,468.3l4.3,4.7 2.6-3.9-4.3-4.7z" fill="#63195e"/><path d="M524.7,482.1l4.3,3.2 2.5-4.2-4.4-3.2z" fill="#611b59"/><path d="M498.4,459.7l4.4,5.3 2.5-3.8-4.3-5.3z" fill="#631860"/><path d="M508.9,472.3l4.3,4.4 2.5-4-4.3-4.4z" fill="#62195d"/><path d="M558.2,491.4l4.4,3.3 2.2-4-4.4-3.2z" fill="#611b5a"/><path d="M512.3,475.9l4.4,4.1 2.5-4-4.3-4.1z" fill="#621a5c"/><path d="M537,485.8l4.4,2.4 2.3-4.4-4.3-2.3z" fill="#601d55"/><path d="M528.2,484.7l4.3,2.9 2.4-4.2-4.3-2.9z" fill="#611c57"/><path d="M515.8,479.3l4.4,3.8 2.4-4-4.3-3.8z" fill="#621a5b"/><path d="M545.8,485.8l4.5,3.3 2.3-3.9-4.4-3.5z" fill="#611b59"/><path d="M561.7,494.1l4.4,3 2.3-4-4.5-3z" fill="#611b58"/><path d="M519.3,482.5l4.3,3.5 2.5-4.1-4.3-3.5z" fill="#611b5a"/><path d="M549.3,488.4l4.5,3.8 2.3-3.8-4.4-3.9z" fill="#621a5c"/><path d="M531.6,487.1l4.4,2.6 2.4-4.2-4.4-2.7z" fill="#601c56"/><path d="M540.5,487.7l4.4,2.1 2.3-4.3-4.4-2.1z" fill="#601d54"/><path d="M552.9,491.5l4.4,3.6 2.3-3.8-4.4-3.6z" fill="#621a5b"/><path d="M499.9,467.4l4.3,5 2.6-3.9-4.3-5z" fill="#63185f"/><path d="M522.8,485.4l4.3,3.2 2.5-4.1-4.4-3.2z" fill="#611b59"/><path d="M503.4,471.6l4.3,4.7 2.6-3.9-4.3-4.7z" fill="#63195e"/><path d="M565.2,496.5l4.5,2.8 2.2-4-4.5-2.7z" fill="#611c57"/><path d="M496.4,462.9l4.3,5.3 2.6-3.8-4.3-5.3z" fill="#631860"/><path d="M506.9,475.5l4.3,4.4 2.6-3.9-4.4-4.4z" fill="#63195d"/><path d="M510.4,479.2l4.3,4.1 2.5-4-4.3-4.1z" fill="#621a5c"/><path d="M556.4,494.5l4.4,3.3 2.3-3.9-4.4-3.3z" fill="#611b5a"/><path d="M535.1,489.2l4.4,2.4 2.4-4.3-4.4-2.4z" fill="#601d55"/><path d="M526.2,488.1l4.4,2.9 2.4-4.2-4.3-2.9z" fill="#611c58"/><path d="M513.8,482.6l4.4,3.8 2.5-4-4.3-3.8z" fill="#621a5b"/><path d="M544,489.3l4.4,2.8 2.4-3.8-4.4-3.2z" fill="#611c58"/><path d="M568.8,498.8l4.5,2.4 2.2-4-4.5-2.5z" fill="#601d56"/><path d="M559.9,497.2l4.5,3 2.2-3.9-4.4-3z" fill="#611b59"/><path d="M517.3,485.8l4.4,3.5 2.5-4.1-4.4-3.5z" fill="#621b5a"/><path d="M547.5,491.5l4.4,3.8 2.4-3.8-4.4-3.8z" fill="#621a5c"/><path d="M529.7,490.5l4.4,2.6 2.4-4.2-4.4-2.7z" fill="#601c56"/><path d="M538.6,491.1l4.5,2.2 2.3-4.4-4.4-2.1z" fill="#601d54"/><path d="M520.8,488.7l4.4,3.3 2.4-4.2-4.3-3.2z" fill="#611b59"/><path d="M497.8,470.6l4.4,5 2.6-3.8-4.3-5z" fill="#631860"/><path d="M551,494.6l4.5,3.6 2.3-3.8-4.4-3.6z" fill="#621a5b"/><path d="M501.3,474.8l4.4,4.7 2.6-3.8-4.4-4.8z" fill="#63195f"/><path d="M494.3,466.1l4.4,5.3 2.6-3.7-4.4-5.4z" fill="#631860"/><path d="M563.5,499.7l4.5,2.7 2.2-3.9-4.5-2.8z" fill="#611c57"/><path d="M572.4,500.7l4.5,2.2 2.2-4.1-4.6-2.1z" fill="#601d55"/><path d="M504.8,478.7l4.4,4.5 2.6-3.9-4.4-4.5z" fill="#63195e"/><path d="M508.3,482.4l4.4,4.2 2.5-4-4.3-4.1z" fill="#621a5c"/><path d="M554.6,497.6l4.4,3.3 2.3-3.8-4.4-3.4z" fill="#611b5a"/><path d="M533.2,492.6l4.4,2.4 2.4-4.3-4.4-2.3z" fill="#601d55"/><path d="M524.3,491.4l4.4,2.9 2.4-4.1-4.4-3z" fill="#611c58"/><path d="M511.8,485.9l4.4,3.8 2.5-4-4.3-3.8z" fill="#621a5b"/><path d="M542.2,492.7l4.4,2.6 2.3-4-4.4-2.8z" fill="#611c57"/><path d="M567,501.9l4.6,2.5 2.2-4-4.6-2.5z" fill="#601d56"/><path d="M515.3,489.1l4.4,3.5 2.5-4-4.4-3.6z" fill="#621b5a"/><path d="M558.1,500.3l4.5,3.1 2.3-3.9-4.5-3.1z" fill="#611b59"/><path d="M576,502.5l4.6,1.8 2.1-4.1-4.6-1.8z" fill="#5f1e53"/><path d="M545.7,494.6l4.4,3.7 2.4-3.7-4.5-3.8z" fill="#621a5b"/><path d="M527.8,493.8l4.4,2.7 2.4-4.2-4.4-2.7z" fill="#601c56"/><path d="M536.8,494.5l4.4,2.2 2.3-4.3-4.4-2.2z" fill="#601d54"/><path d="M518.8,492l4.4,3.3 2.5-4.1-4.4-3.3z" fill="#611b59"/><path d="M495.8,473.7l4.3,5.1 2.7-3.8-4.4-5z" fill="#631860"/><path d="M499.3,478l4.4,4.7 2.6-3.8-4.4-4.8z" fill="#63185f"/><path d="M492.2,469.2l4.4,5.4 2.6-3.7-4.3-5.4z" fill="#631861"/><path d="M549.2,497.7l4.5,3.6 2.3-3.8-4.5-3.6z" fill="#621a5b"/><path d="M502.8,481.9l4.4,4.5 2.6-3.9-4.4-4.4z" fill="#63195e"/><path d="M570.7,503.9l4.5,2.2 2.2-4.1-4.6-2.1z" fill="#601d55"/><path d="M561.7,502.8l4.5,2.8 2.2-4-4.5-2.7z" fill="#611c57"/><path d="M506.3,485.7l4.4,4.1 2.6-3.9-4.4-4.2z" fill="#62195d"/><path d="M531.3,496l4.4,2.4 2.4-4.3-4.4-2.4z" fill="#601d55"/><path d="M579.7,503.9l4.6,1.6 2.1-4.1-4.7-1.6z" fill="#5f1e52"/><path d="M522.3,494.7l4.4,3 2.5-4.2-4.4-2.9z" fill="#611c58"/><path d="M552.8,500.6l4.4,3.4 2.3-3.8-4.4-3.4z" fill="#621b5a"/><path d="M509.8,489.1l4.4,3.9 2.5-4-4.3-3.9z" fill="#621a5c"/><path d="M540.3,496.2l4.4,2.2 2.4-4-4.5-2.5z" fill="#601c57"/><path d="M565.3,505.1l4.5,2.5 2.2-4-4.5-2.5z" fill="#601c56"/><path d="M513.3,492.3l4.4,3.6 2.5-4-4.3-3.6z" fill="#621a5a"/><path d="M574.3,505.7l4.6,1.9 2.1-4.1-4.6-1.9z" fill="#601e53"/><path d="M556.3,503.4l4.5,3.1 2.3-3.9-4.5-3.1z" fill="#611b59"/><path d="M525.9,497.1l4.4,2.7 2.4-4.2-4.4-2.6z" fill="#601c57"/><path d="M543.8,497.8l4.5,3.6 2.3-3.8-4.4-3.7z" fill="#621a5b"/><path d="M534.8,497.9l4.5,2.1 2.3-4.2-4.4-2.2z" fill="#601d54"/><path d="M516.8,495.3l4.4,3.3 2.5-4.1-4.3-3.3z" fill="#611b59"/><path d="M493.7,476.9l4.4,5.1 2.6-3.8-4.4-5.1z" fill="#631860"/><path d="M497.2,481.1l4.4,4.8 2.6-3.8-4.4-4.8z" fill="#63185f"/><path d="M490.1,472.4l4.4,5.3 2.7-3.7-4.4-5.3z" fill="#641861"/><path d="M583.3,505.2l4.7,1.3 2.1-4.2-4.7-1.3z" fill="#5f1f51"/><path d="M500.7,485.1l4.4,4.5 2.6-3.9-4.3-4.4z" fill="#63195e"/><path d="M547.4,500.7l4.4,3.7 2.4-3.8-4.5-3.7z" fill="#621a5b"/><path d="M568.9,507.1l4.6,2.2 2.1-4-4.5-2.2z" fill="#601d55"/><path d="M559.9,505.9l4.5,2.8 2.3-3.9-4.5-2.8z" fill="#611c58"/><path d="M504.3,488.8l4.4,4.2 2.5-3.9-4.3-4.1z" fill="#62195d"/><path d="M529.4,499.3l4.4,2.4 2.4-4.2-4.4-2.4z" fill="#601d55"/><path d="M520.4,498l4.4,3 2.4-4.1-4.4-3z" fill="#611c58"/><path d="M578,507.2l4.6,1.6 2.1-4.1-4.7-1.6z" fill="#5f1e52"/><path d="M507.8,492.3l4.4,3.9 2.5-3.9-4.3-3.9z" fill="#621a5c"/><path d="M550.9,503.7l4.5,3.4 2.3-3.8-4.4-3.4z" fill="#621b5a"/><path d="M538.4,499.6l4.5,2 2.3-4.1-4.5-2.2z" fill="#601d55"/><path d="M563.5,508.2l4.6,2.5 2.2-4-4.6-2.5z" fill="#601c56"/><path d="M511.3,495.6l4.4,3.6 2.6-4-4.4-3.6z" fill="#621a5b"/><path d="M572.6,508.8l4.6,2 2.1-4.1-4.6-1.9z" fill="#601e54"/><path d="M554.5,506.5l4.5,3.1 2.3-3.9-4.5-3.1z" fill="#611b59"/><path d="M523.9,500.4l4.4,2.8 2.5-4.2-4.4-2.7z" fill="#611c57"/><path d="M532.9,501.3l4.5,2.1 2.4-4.2-4.5-2.2z" fill="#601d54"/><path d="M587.1,506.2l4.7,1 2-4.2-4.7-1z" fill="#5e204f"/><path d="M541.9,501l4.5,3.4 2.4-3.7-4.5-3.7z" fill="#611b59"/><path d="M514.8,498.5l4.4,3.3 2.6-4-4.4-3.3z" fill="#611b59"/><path d="M491.5,480l4.4,5.1 2.7-3.7-4.4-5.1z" fill="#631860"/><path d="M495.1,484.3l4.4,4.8 2.6-3.8-4.3-4.8z" fill="#63185f"/><path d="M488,475.4l4.4,5.5 2.7-3.7-4.4-5.4z" fill="#641761"/><path d="M581.7,508.4l4.6,1.3 2.1-4.1-4.7-1.3z" fill="#5f1f51"/><path d="M498.6,488.3l4.5,4.5 2.6-3.9-4.4-4.4z" fill="#63195e"/><path d="M567.1,510.2l4.6,2.2 2.2-4-4.6-2.2z" fill="#601d55"/><path d="M545.5,503.7l4.5,3.7 2.3-3.8-4.4-3.6z" fill="#621a5b"/><path d="M558.1,509l4.5,2.8 2.3-3.9-4.5-2.8z" fill="#611c58"/><path d="M502.2,492l4.4,4.2 2.6-3.8-4.4-4.2z" fill="#62195d"/><path d="M527.4,502.6l4.5,2.5 2.4-4.2-4.4-2.4z" fill="#601d55"/><path d="M518.4,501.2l4.4,3.1 2.5-4.1-4.4-3z" fill="#611c58"/><path d="M576.2,510.4l4.7,1.6 2.1-4.1-4.7-1.6z" fill="#5f1e52"/><path d="M505.7,495.5l4.4,3.9 2.6-3.9-4.4-3.9z" fill="#621a5c"/><path d="M536.5,503l4.5,1.9 2.3-4.1-4.5-2.1z" fill="#601d54"/><path d="M549.1,506.7l4.5,3.4 2.3-3.7-4.5-3.4z" fill="#621b5a"/><path d="M509.3,498.8l4.4,3.6 2.5-4-4.4-3.6z" fill="#621a5b"/><path d="M561.7,511.3l4.6,2.5 2.2-3.9-4.5-2.5z" fill="#601c56"/><path d="M590.8,506.9l4.8,.7 2-4.2-4.8-.7z" fill="#5e204e"/><path d="M570.8,512l4.6,1.9 2.2-4-4.6-1.9z" fill="#601e54"/><path d="M521.9,503.7l4.4,2.8 2.5-4.2-4.4-2.7z" fill="#611c57"/><path d="M531,504.6l4.5,2.2 2.3-4.3-4.4-2.1z" fill="#601d54"/><path d="M552.7,509.5l4.5,3.1 2.3-3.8-4.5-3.1z" fill="#611b59"/><path d="M585.4,509.4l4.7,1.1 2-4.2-4.7-1z" fill="#5e2050"/><path d="M540,504.4l4.5,3 2.4-3.7-4.5-3.4z" fill="#611b58"/><path d="M512.8,501.8l4.4,3.3 2.6-4-4.4-3.4z" fill="#611b59"/><path d="M489.4,483.1l4.4,5.1 2.7-3.7-4.4-5.1z" fill="#631860"/><path d="M493,487.4l4.4,4.8 2.7-3.8-4.4-4.8z" fill="#63185f"/><path d="M485.8,478.5l4.4,5.5 2.7-3.7-4.4-5.4z" fill="#641761"/><path d="M579.9,511.6l4.8,1.4 2-4.2-4.7-1.3z" fill="#5f1f51"/><path d="M496.5,491.4l4.5,4.5 2.6-3.8-4.4-4.5z" fill="#63195e"/><path d="M565.4,513.3l4.6,2.3 2.2-4-4.6-2.2z" fill="#601d55"/><path d="M543.6,506.7l4.5,3.7 2.4-3.7-4.5-3.7z" fill="#621a5b"/><path d="M500.1,495.2l4.4,4.2 2.6-3.8-4.4-4.3z" fill="#62195d"/><path d="M556.3,512.1l4.5,2.8 2.3-3.9-4.5-2.8z" fill="#611c58"/><path d="M525.5,505.9l4.4,2.5 2.5-4.2-4.5-2.4z" fill="#601d56"/><path d="M516.3,504.5l4.5,3 2.5-4-4.4-3.1z" fill="#611b58"/><path d="M534.6,506.3l4.5,2 2.3-4.2-4.5-2z" fill="#601e54"/><path d="M574.5,513.5l4.7,1.7 2.1-4.1-4.7-1.6z" fill="#5f1e52"/><path d="M503.6,498.7l4.5,3.9 2.6-3.9-4.4-3.9z" fill="#621a5c"/><path d="M547.2,509.7l4.5,3.5 2.4-3.8-4.5-3.4z" fill="#621a5a"/><path d="M594.7,507.4l4.8,.4 1.9-4.2-4.8-.4z" fill="#5e214d"/><path d="M507.2,501.9l4.4,3.7 2.6-3.9-4.4-3.7z" fill="#621a5b"/><path d="M589.2,510.2l4.8,.7 1.9-4.2-4.8-.7z" fill="#5e204e"/><path d="M559.9,514.4l4.6,2.5 2.3-3.9-4.6-2.5z" fill="#601c57"/><path d="M519.9,507l4.5,2.7 2.4-4.1-4.4-2.7z" fill="#611c57"/><path d="M569,515.1l4.7,2 2.2-4-4.7-2z" fill="#601e54"/><path d="M529,507.9l4.5,2.2 2.4-4.2-4.4-2.2z" fill="#601d54"/><path d="M583.7,512.6l4.8,1.1 2-4.2-4.8-1z" fill="#5e1f50"/><path d="M550.8,512.5l4.6,3.2 2.3-3.8-4.5-3.1z" fill="#611b59"/><path d="M538.1,507.7l4.5,2.7 2.4-3.8-4.5-3z" fill="#611c58"/><path d="M510.8,505l4.4,3.3 2.6-4-4.5-3.3z" fill="#611b5a"/><path d="M487.2,486.1l4.5,5.2 2.7-3.7-4.4-5.1z" fill="#631860"/><path d="M490.8,490.5l4.5,4.8 2.7-3.7-4.5-4.9z" fill="#63185f"/><path d="M483.6,481.6l4.5,5.4 2.7-3.6-4.4-5.4z" fill="#641761"/><path d="M578.2,514.8l4.7,1.4 2.1-4.1-4.7-1.4z" fill="#5f1f51"/><path d="M494.4,494.5l4.4,4.6 2.7-3.8-4.4-4.6z" fill="#63195e"/><path d="M563.6,516.4l4.6,2.3 2.2-3.9-4.6-2.3z" fill="#601d55"/><path d="M523.5,509.2l4.4,2.5 2.5-4.1-4.5-2.5z" fill="#601d56"/><path d="M498,498.3l4.4,4.3 2.7-3.9-4.5-4.2z" fill="#62195d"/><path d="M541.7,509.8l4.5,3.6 2.4-3.7-4.5-3.7z" fill="#621a5b"/><path d="M554.4,515.1l4.6,2.9 2.3-3.9-4.5-2.8z" fill="#611c58"/><path d="M514.3,507.7l4.5,3.1 2.5-4-4.4-3.1z" fill="#611b58"/><path d="M532.6,509.7l4.5,1.9 2.4-4.2-4.5-2z" fill="#601e53"/><path d="M501.5,501.8l4.5,4 2.6-3.9-4.4-3.9z" fill="#621a5c"/><path d="M572.7,516.7l4.7,1.7 2.2-4.1-4.7-1.6z" fill="#5f1e53"/><path d="M598.5,507.6l5,.1 1.8-4.2-4.9-.1z" fill="#5d214c"/><path d="M593,510.7l4.9,.4 1.9-4.2-4.9-.4z" fill="#5e214d"/><path d="M545.3,512.7l4.6,3.5 2.3-3.8-4.5-3.4z" fill="#621a5b"/><path d="M505.1,505.1l4.5,3.7 2.6-3.9-4.5-3.7z" fill="#621a5b"/><path d="M587.5,513.4l4.8,.8 2-4.2-4.8-.8z" fill="#5e204f"/><path d="M558.1,517.4l4.6,2.6 2.3-3.9-4.6-2.5z" fill="#611c57"/><path d="M517.9,510.2l4.4,2.8 2.6-4.1-4.5-2.7z" fill="#611c57"/><path d="M527,511.2l4.5,2.2 2.5-4.2-4.5-2.1z" fill="#601d55"/><path d="M567.3,518.2l4.6,2 2.2-4-4.6-1.9z" fill="#601d54"/><path d="M582,515.9l4.8,1 2-4.1-4.8-1.1z" fill="#5e1f50"/><path d="M548.9,515.6l4.6,3.1 2.4-3.7-4.6-3.2z" fill="#611b59"/><path d="M536.2,511.1l4.5,2.3 2.4-3.8-4.5-2.7z" fill="#611c57"/><path d="M508.7,508.1l4.4,3.4 2.6-3.9-4.4-3.4z" fill="#611b5a"/><path d="M485,489.2l4.5,5.2 2.7-3.7-4.4-5.1z" fill="#631860"/><path d="M488.6,493.5l4.5,4.9 2.7-3.7-4.4-4.9z" fill="#63185f"/><path d="M481.4,484.6l4.5,5.5 2.7-3.6-4.4-5.5z" fill="#641761"/><path d="M576.5,518l4.7,1.4 2.1-4.1-4.7-1.4z" fill="#5f1f51"/><path d="M492.2,497.6l4.5,4.6 2.7-3.8-4.4-4.5z" fill="#63195e"/><path d="M521.5,512.5l4.4,2.5 2.5-4.1-4.4-2.5z" fill="#601d56"/><path d="M495.8,501.4l4.5,4.3 2.7-3.8-4.5-4.3z" fill="#63195d"/><path d="M561.8,519.5l4.6,2.3 2.2-3.9-4.6-2.3z" fill="#601d55"/><path d="M512.3,510.9l4.4,3.1 2.6-4-4.5-3.1z" fill="#611b59"/><path d="M539.8,512.8l4.5,3.6 2.4-3.7-4.5-3.6z" fill="#621a5b"/><path d="M552.6,518.1l4.6,2.9 2.3-3.8-4.6-2.9z" fill="#611c58"/><path d="M530.6,513l4.6,1.9 2.4-4.2-4.5-1.9z" fill="#601e53"/><path d="M499.4,505l4.5,4 2.6-3.9-4.4-4z" fill="#621a5c"/><path d="M571,519.8l4.7,1.7 2.1-4-4.7-1.7z" fill="#5f1e53"/><path d="M596.9,510.9l4.9,.2 1.9-4.3-4.9-.1z" fill="#5d214c"/><path d="M602.4,507.6l5-.2 1.9-4.3-5,.2z" fill="#5d224b"/><path d="M591.3,513.9l4.9,.5 1.9-4.2-4.8-.5z" fill="#5e214d"/><path d="M543.4,515.7l4.6,3.5 2.4-3.7-4.6-3.5z" fill="#621a5b"/><path d="M503,508.3l4.5,3.7 2.6-3.9-4.4-3.7z" fill="#621a5b"/><path d="M585.8,516.6l4.8,.8 2-4.1-4.8-.8z" fill="#5e204f"/><path d="M515.8,513.5l4.5,2.8 2.6-4.1-4.5-2.8z" fill="#611c57"/><path d="M525,514.5l4.6,2.2 2.4-4.1-4.5-2.2z" fill="#601d55"/><path d="M556.3,520.5l4.6,2.6 2.3-3.9-4.6-2.6z" fill="#611c57"/><path d="M565.5,521.3l4.6,2.1 2.2-4-4.6-2z" fill="#601d54"/><path d="M580.3,519l4.8,1.1 2-4.1-4.8-1.1z" fill="#5f1f50"/><path d="M534.2,514.5l4.6,2 2.4-3.9-4.5-2.3z" fill="#601d56"/><path d="M506.6,511.3l4.5,3.4 2.6-3.9-4.5-3.4z" fill="#611b5a"/><path d="M547.1,518.5l4.5,3.2 2.4-3.7-4.6-3.2z" fill="#611b5a"/><path d="M482.8,492.2l4.5,5.2 2.8-3.6-4.5-5.2z" fill="#631860"/><path d="M486.4,496.6l4.5,4.9 2.8-3.7-4.5-4.9z" fill="#631860"/><path d="M479.2,487.6l4.5,5.5 2.7-3.6-4.4-5.5z" fill="#641761"/><path d="M490.1,500.7l4.4,4.6 2.8-3.8-4.5-4.5z" fill="#63195f"/><path d="M574.7,521.1l4.8,1.4 2.1-4-4.8-1.4z" fill="#5f1f51"/><path d="M519.4,515.7l4.5,2.6 2.5-4.1-4.5-2.6z" fill="#601d56"/><path d="M493.7,504.5l4.4,4.3 2.7-3.8-4.4-4.3z" fill="#63195d"/><path d="M559.9,522.6l4.7,2.3 2.2-3.9-4.6-2.3z" fill="#601d56"/><path d="M510.2,514.1l4.5,3.1 2.5-4-4.4-3.1z" fill="#611b59"/><path d="M528.7,516.3l4.5,1.9 2.4-4.2-4.5-1.9z" fill="#601e53"/><path d="M537.9,515.9l4.5,3.4 2.4-3.6-4.5-3.6z" fill="#621b5a"/><path d="M550.7,521.1l4.6,3 2.4-3.8-4.6-2.9z" fill="#611b58"/><path d="M497.3,508.1l4.4,4 2.7-3.8-4.4-4z" fill="#621a5c"/><path d="M600.8,510.9l5-.2 1.8-4.2-5,.2z" fill="#5d224b"/><path d="M595.2,514.2l5,.2 1.9-4.3-5-.1z" fill="#5d214c"/><path d="M569.2,522.9l4.7,1.8 2.2-4-4.7-1.7z" fill="#5f1e53"/><path d="M606.4,507.3l5.1-.5 1.8-4.3-5.1,.5z" fill="#5d224a"/><path d="M589.6,517.2l4.9,.5 2-4.2-4.9-.5z" fill="#5e214d"/><path d="M584.1,519.8l4.8,.8 2-4.1-4.8-.8z" fill="#5e204f"/><path d="M500.9,511.4l4.5,3.7 2.6-3.9-4.5-3.7z" fill="#621a5b"/><path d="M541.5,518.7l4.6,3.4 2.4-3.6-4.6-3.5z" fill="#621a5b"/><path d="M513.8,516.7l4.5,2.8 2.5-4-4.5-2.9z" fill="#611c57"/><path d="M523,517.8l4.5,2.2 2.5-4.1-4.5-2.3z" fill="#601d55"/><path d="M554.4,523.5l4.6,2.6 2.3-3.8-4.6-2.6z" fill="#611c57"/><path d="M563.7,524.4l4.7,2.1 2.2-4-4.7-2z" fill="#601d54"/><path d="M578.5,522.2l4.8,1.1 2.1-4.1-4.8-1.1z" fill="#5f1f50"/><path d="M532.3,517.8l4.5,1.9 2.5-4.1-4.6-2z" fill="#601d55"/><path d="M504.5,514.5l4.5,3.4 2.6-3.9-4.5-3.4z" fill="#621b5a"/><path d="M545.2,521.5l4.6,3.2 2.3-3.7-4.5-3.2z" fill="#611b5a"/><path d="M480.6,495.2l4.5,5.3 2.8-3.6-4.5-5.3z" fill="#631861"/><path d="M484.2,499.6l4.5,4.9 2.8-3.6-4.5-4.9z" fill="#631860"/><path d="M476.9,490.6l4.5,5.5 2.8-3.5-4.5-5.6z" fill="#641761"/><path d="M487.9,503.7l4.4,4.6 2.8-3.7-4.5-4.6z" fill="#63185f"/><path d="M573,524.3l4.7,1.4 2.2-4-4.8-1.4z" fill="#5f1f52"/><path d="M517.4,519l4.5,2.5 2.5-4.1-4.5-2.5z" fill="#601c56"/><path d="M491.5,507.6l4.5,4.3 2.7-3.8-4.5-4.3z" fill="#63195e"/><path d="M526.7,519.5l4.5,2 2.4-4.2-4.5-1.9z" fill="#601e54"/><path d="M508.1,517.3l4.5,3.1 2.6-3.9-4.5-3.2z" fill="#611b59"/><path d="M558.1,525.6l4.7,2.4 2.2-3.9-4.6-2.3z" fill="#601d56"/><path d="M535.9,519.1l4.6,3.2 2.4-3.7-4.5-3.4z" fill="#611b59"/><path d="M548.8,524.1l4.7,3 2.3-3.8-4.6-2.9z" fill="#611b58"/><path d="M599.2,514.2l5-.2 1.8-4.2-5,.2z" fill="#5d224b"/><path d="M593.5,517.4l5,.2 1.9-4.2-4.9-.1z" fill="#5d214c"/><path d="M495.1,511.2l4.5,4 2.7-3.8-4.5-4z" fill="#62195d"/><path d="M604.8,510.6l5.1-.5 1.8-4.2-5.1,.5z" fill="#5d224a"/><path d="M567.4,526l4.7,1.8 2.2-4-4.7-1.7z" fill="#5f1e53"/><path d="M587.9,520.4l5,.5 1.9-4.2-4.9-.5z" fill="#5e204e"/><path d="M610.5,506.7l5.1-.8 1.7-4.3-5.1,.9z" fill="#5c2349"/><path d="M582.4,523l4.8,.8 2-4.1-4.8-.8z" fill="#5e204f"/><path d="M498.7,514.5l4.5,3.8 2.7-3.9-4.5-3.7z" fill="#621a5b"/><path d="M521,521l4.5,2.3 2.5-4.1-4.5-2.3z" fill="#601d55"/><path d="M511.7,519.8l4.5,2.9 2.6-4-4.5-2.9z" fill="#611c58"/><path d="M539.6,521.6l4.5,3.5 2.5-3.7-4.6-3.4z" fill="#621a5b"/><path d="M552.5,526.5l4.7,2.7 2.3-3.9-4.6-2.6z" fill="#611c57"/><path d="M576.8,525.4l4.8,1.1 2.1-4.1-4.8-1.1z" fill="#5f1f50"/><path d="M561.8,527.5l4.7,2 2.3-3.9-4.7-2z" fill="#601d54"/><path d="M530.3,521.1l4.6,1.8 2.4-4.1-4.6-1.9z" fill="#601e54"/><path d="M502.3,517.6l4.5,3.4 2.7-3.9-4.5-3.4z" fill="#621b5a"/><path d="M543.2,524.5l4.6,3.2 2.4-3.7-4.6-3.2z" fill="#611b5a"/><path d="M478.3,498.2l4.5,5.3 2.8-3.6-4.5-5.3z" fill="#641861"/><path d="M482,502.6l4.5,5 2.8-3.7-4.5-4.9z" fill="#631860"/><path d="M474.6,493.5l4.5,5.6 2.9-3.5-4.5-5.6z" fill="#641762"/><path d="M485.6,506.7l4.5,4.7 2.8-3.7-4.5-4.6z" fill="#63185f"/><path d="M571.2,527.4l4.8,1.4 2.1-4-4.8-1.4z" fill="#5f1f52"/><path d="M515.3,522.2l4.5,2.5 2.6-4-4.5-2.6z" fill="#601c56"/><path d="M489.3,510.6l4.5,4.4 2.7-3.8-4.5-4.3z" fill="#63195e"/><path d="M524.6,522.8l4.6,2 2.5-4.2-4.6-1.9z" fill="#601e54"/><path d="M505.9,520.4l4.6,3.2 2.6-4-4.5-3.1z" fill="#611b59"/><path d="M556.2,528.6l4.7,2.4 2.3-3.9-4.7-2.3z" fill="#601d56"/><path d="M597.5,517.5l5-.2 1.9-4.2-5,.2z" fill="#5d224b"/><path d="M591.9,520.7l4.9,.2 2-4.2-5-.2z" fill="#5d214c"/><path d="M533.9,522.3l4.6,2.9 2.5-3.7-4.6-3.2z" fill="#611c58"/><path d="M603.2,513.9l5.1-.4 1.8-4.3-5.1,.5z" fill="#5d224a"/><path d="M492.9,514.2l4.5,4.1 2.7-3.8-4.4-4z" fill="#62195d"/><path d="M546.9,527.1l4.7,3 2.3-3.8-4.6-2.9z" fill="#611b59"/><path d="M586.2,523.6l5,.5 1.9-4.1-4.9-.5z" fill="#5e204e"/><path d="M565.6,529.1l4.7,1.8 2.2-4-4.7-1.7z" fill="#5f1e53"/><path d="M608.9,510.1l5.1-.8 1.8-4.3-5.2,.8z" fill="#5c2349"/><path d="M580.6,526.2l4.9,.8 2-4.1-4.8-.8z" fill="#5e204f"/><path d="M496.5,517.6l4.5,3.8 2.8-3.9-4.5-3.7z" fill="#621a5c"/><path d="M518.9,524.2l4.6,2.3 2.5-4.1-4.5-2.3z" fill="#601d55"/><path d="M509.6,523l4.5,2.9 2.6-4-4.5-2.9z" fill="#611c58"/><path d="M614.6,505.9l5.2-1.1 1.7-4.3-5.3,1.1z" fill="#5c2348"/><path d="M537.6,524.5l4.6,3.5 2.4-3.6-4.5-3.5z" fill="#621a5b"/><path d="M575,528.5l4.8,1.1 2.1-4-4.8-1.1z" fill="#5f1f50"/><path d="M528.3,524.4l4.6,1.7 2.4-4.1-4.6-1.8z" fill="#5f1e53"/><path d="M550.6,529.5l4.7,2.7 2.3-3.8-4.6-2.7z" fill="#611c57"/><path d="M560,530.5l4.7,2.1 2.3-3.9-4.7-2z" fill="#601d55"/><path d="M500.2,520.7l4.5,3.5 2.7-3.9-4.5-3.5z" fill="#621b5a"/><path d="M476,501.2l4.5,5.3 2.9-3.6-4.5-5.3z" fill="#641761"/><path d="M479.7,505.6l4.5,5 2.8-3.6-4.5-5z" fill="#631860"/><path d="M541.3,527.4l4.6,3.2 2.4-3.6-4.6-3.3z" fill="#611b5a"/><path d="M472.3,496.5l4.6,5.6 2.8-3.5-4.5-5.6z" fill="#641762"/><path d="M483.4,509.7l4.5,4.7 2.8-3.6-4.5-4.7z" fill="#63185f"/><path d="M513.2,525.3l4.5,2.6 2.6-4-4.5-2.6z" fill="#601c56"/><path d="M569.4,530.5l4.8,1.4 2.1-3.9-4.7-1.5z" fill="#5f1e52"/><path d="M522.6,526l4.5,2.1 2.5-4.2-4.5-2z" fill="#601e54"/><path d="M487,513.6l4.6,4.4 2.7-3.7-4.5-4.3z" fill="#63195e"/><path d="M503.8,523.5l4.5,3.2 2.7-3.9-4.5-3.1z" fill="#611b59"/><path d="M595.8,520.7l5.1-.1 1.8-4.2-5,.1z" fill="#5d224b"/><path d="M601.5,517.2l5.1-.4 1.8-4.2-5.1,.4z" fill="#5d224a"/><path d="M590.2,523.9l4.9,.2 2-4.1-5-.2z" fill="#5d214d"/><path d="M554.4,531.6l4.7,2.4 2.3-3.8-4.7-2.4z" fill="#601d56"/><path d="M531.9,525.6l4.6,2.5 2.5-3.7-4.6-2.9z" fill="#611c57"/><path d="M490.7,517.3l4.5,4.1 2.8-3.8-4.5-4.1z" fill="#62195d"/><path d="M607.2,513.4l5.2-.8 1.8-4.2-5.2,.8z" fill="#5c2349"/><path d="M584.5,526.8l4.9,.5 2-4.1-4.9-.5z" fill="#5e204e"/><path d="M545,530l4.6,3 2.4-3.7-4.6-3z" fill="#611b59"/><path d="M563.8,532.2l4.7,1.7 2.2-3.9-4.7-1.7z" fill="#5f1e53"/><path d="M613,509.3l5.2-1.2 1.7-4.2-5.2,1.1z" fill="#5c2348"/><path d="M578.9,529.3l4.8,.9 2.1-4.1-4.9-.8z" fill="#5e204f"/><path d="M516.8,527.4l4.6,2.3 2.6-4-4.6-2.3z" fill="#601d55"/><path d="M494.3,520.7l4.6,3.8 2.7-3.8-4.5-3.8z" fill="#621a5c"/><path d="M507.4,526.2l4.6,2.9 2.6-4-4.5-2.9z" fill="#611c58"/><path d="M535.6,527.5l4.6,3.5 2.5-3.7-4.6-3.5z" fill="#621a5b"/><path d="M526.2,527.6l4.6,1.8 2.5-4.2-4.6-1.7z" fill="#5f1e53"/><path d="M618.7,504.8l5.4-1.5 1.6-4.3-5.3,1.5z" fill="#5c2447"/><path d="M573.2,531.6l4.9,1.2 2.1-4-4.9-1.2z" fill="#5f1f51"/><path d="M548.7,532.5l4.7,2.7 2.4-3.8-4.7-2.7z" fill="#611c57"/><path d="M558.1,533.5l4.8,2.1 2.2-3.8-4.7-2.1z" fill="#601d55"/><path d="M498,523.8l4.5,3.5 2.7-3.9-4.5-3.4z" fill="#621a5a"/><path d="M473.7,504.1l4.5,5.3 2.9-3.5-4.5-5.3z" fill="#641761"/><path d="M477.4,508.5l4.5,5.1 2.9-3.6-4.5-5z" fill="#631860"/><path d="M470,499.4l4.5,5.6 2.9-3.5-4.5-5.6z" fill="#641762"/><path d="M511.1,528.5l4.5,2.6 2.6-4-4.5-2.6z" fill="#601c57"/><path d="M539.3,530.3l4.7,3.3 2.4-3.7-4.6-3.2z" fill="#621b5a"/><path d="M481.1,512.7l4.5,4.7 2.9-3.6-4.6-4.7z" fill="#63185f"/><path d="M567.6,533.5l4.8,1.5 2.2-3.9-4.8-1.5z" fill="#5f1e52"/><path d="M520.5,529.3l4.6,2 2.5-4.1-4.6-2z" fill="#601e54"/><path d="M484.8,516.6l4.5,4.5 2.8-3.7-4.5-4.4z" fill="#63195e"/><path d="M501.6,526.7l4.6,3.2 2.7-3.9-4.6-3.2z" fill="#611b59"/><path d="M594.1,523.9l5.1,0 1.9-4.2-5.1,.1z" fill="#5d214b"/><path d="M599.8,520.5l5.2-.4 1.8-4.2-5.1,.4z" fill="#5d224a"/><path d="M588.4,527.1l5,.2 2-4.1-5-.2z" fill="#5e214d"/><path d="M552.5,534.6l4.7,2.4 2.3-3.8-4.7-2.4z" fill="#601c56"/><path d="M605.6,516.7l5.2-.8 1.7-4.2-5.2,.8z" fill="#5c2349"/><path d="M529.9,528.9l4.6,2.2 2.5-3.8-4.6-2.5z" fill="#601c56"/><path d="M488.4,520.3l4.6,4.1 2.8-3.7-4.6-4.1z" fill="#62195d"/><path d="M582.8,529.9l4.9,.6 2-4.1-4.9-.5z" fill="#5e204e"/><path d="M543,533l4.7,3 2.4-3.7-4.6-3z" fill="#611b59"/><path d="M561.9,535.2l4.8,1.8 2.2-3.9-4.7-1.8z" fill="#601e53"/><path d="M611.3,512.6l5.3-1.1 1.7-4.3-5.2,1.2z" fill="#5c2348"/><path d="M577.1,532.5l4.9,.8 2.1-4-4.9-.9z" fill="#5e204f"/><path d="M514.7,530.6l4.6,2.3 2.6-4-4.6-2.3z" fill="#601d55"/><path d="M492.1,523.7l4.5,3.8 2.8-3.7-4.5-3.9z" fill="#621a5c"/><path d="M505.3,529.3l4.5,2.9 2.7-3.9-4.5-2.9z" fill="#611c58"/><path d="M617.2,508.2l5.3-1.5 1.7-4.3-5.4,1.5z" fill="#5c2347"/><path d="M524.2,530.9l4.6,1.7 2.5-4.1-4.6-1.8z" fill="#5f1e53"/><path d="M533.6,530.4l4.6,3.5 2.5-3.7-4.6-3.4z" fill="#621a5a"/><path d="M571.4,534.7l4.9,1.2 2.1-4-4.8-1.2z" fill="#5f1f51"/><path d="M495.8,526.8l4.5,3.6 2.8-3.8-4.6-3.6z" fill="#621a5b"/><path d="M556.2,536.5l4.8,2.2 2.3-3.9-4.8-2.1z" fill="#601d55"/><path d="M546.8,535.4l4.7,2.7 2.4-3.7-4.7-2.7z" fill="#611c58"/><path d="M623,503.4l5.5-1.8 1.5-4.3-5.4,1.9z" fill="#5c2446"/><path d="M471.3,507l4.6,5.4 2.9-3.5-4.5-5.4z" fill="#641761"/><path d="M475.1,511.5l4.5,5 2.9-3.5-4.5-5.1z" fill="#631860"/><path d="M508.9,531.7l4.6,2.6 2.6-4-4.5-2.6z" fill="#611c57"/><path d="M467.6,502.3l4.6,5.6 2.9-3.4-4.6-5.7z" fill="#641762"/><path d="M478.8,515.7l4.5,4.7 2.9-3.6-4.5-4.7z" fill="#63185f"/><path d="M565.7,536.6l4.9,1.5 2.2-3.9-4.9-1.5z" fill="#5f1e52"/><path d="M537.3,533.2l4.7,3.3 2.5-3.6-4.7-3.3z" fill="#621b5a"/><path d="M518.4,532.5l4.6,2 2.6-4.1-4.6-2z" fill="#601d54"/><path d="M592.4,527.2l5.1-.1 1.9-4.2-5.1,.1z" fill="#5d214c"/><path d="M482.5,519.6l4.5,4.5 2.9-3.7-4.6-4.4z" fill="#63195e"/><path d="M598.2,523.7l5.1-.4 1.9-4.2-5.2,.5z" fill="#5d224a"/><path d="M499.4,529.7l4.6,3.3 2.7-3.9-4.5-3.2z" fill="#611b59"/><path d="M586.7,530.3l5,.2 2-4.1-5-.2z" fill="#5e214d"/><path d="M603.9,520l5.3-.8 1.7-4.2-5.2,.8z" fill="#5c2249"/><path d="M527.9,532.2l4.6,1.9 2.5-3.9-4.6-2.1z" fill="#601d55"/><path d="M550.5,537.6l4.8,2.4 2.3-3.8-4.7-2.4z" fill="#601c56"/><path d="M581,533.1l5,.6 2-4.1-5-.6z" fill="#5e204e"/><path d="M486.2,523.3l4.5,4.2 2.8-3.8-4.5-4.1z" fill="#62195d"/><path d="M609.7,515.9l5.3-1.1 1.7-4.2-5.3,1.1z" fill="#5c2348"/><path d="M560,538.2l4.8,1.9 2.3-3.9-4.8-1.8z" fill="#601e54"/><path d="M541.1,535.9l4.6,3 2.5-3.7-4.7-3z" fill="#611b59"/><path d="M512.6,533.8l4.6,2.3 2.6-4-4.6-2.3z" fill="#601d55"/><path d="M575.3,535.6l4.9,.9 2.1-4-4.9-.9z" fill="#5e204f"/><path d="M503.1,532.4l4.6,2.9 2.7-3.9-4.6-2.9z" fill="#611c58"/><path d="M489.8,526.7l4.6,3.9 2.8-3.8-4.5-3.8z" fill="#621a5c"/><path d="M615.5,511.5l5.4-1.4 1.7-4.3-5.4,1.5z" fill="#5c2347"/><path d="M522.1,534.1l4.6,1.8 2.5-4.2-4.6-1.7z" fill="#5f1e53"/><path d="M569.6,537.8l4.9,1.2 2.1-4-4.8-1.2z" fill="#5f1f51"/><path d="M531.6,533.4l4.6,3.3 2.5-3.6-4.6-3.4z" fill="#611b5a"/><path d="M493.5,529.9l4.6,3.6 2.8-3.8-4.6-3.6z" fill="#621a5b"/><path d="M621.4,506.8l5.5-1.8 1.6-4.3-5.5,1.9z" fill="#5c2446"/><path d="M554.3,539.5l4.8,2.2 2.3-3.8-4.7-2.2z" fill="#601d55"/><path d="M544.8,538.3l4.7,2.8 2.4-3.7-4.7-2.8z" fill="#611c58"/><path d="M469,509.9l4.5,5.4 3-3.5-4.6-5.3z" fill="#641761"/><path d="M472.7,514.4l4.6,5.1 2.9-3.6-4.6-5z" fill="#631860"/><path d="M506.8,534.8l4.6,2.6 2.6-3.9-4.6-2.7z" fill="#611c57"/><path d="M465.2,505.1l4.6,5.7 2.9-3.4-4.5-5.7z" fill="#641762"/><path d="M516.3,535.7l4.6,2 2.6-4-4.6-2.1z" fill="#601d54"/><path d="M476.4,518.6l4.6,4.8 2.9-3.6-4.6-4.7z" fill="#63185f"/><path d="M563.9,539.6l4.8,1.6 2.2-3.9-4.8-1.6z" fill="#5f1e52"/><path d="M535.3,536.1l4.7,3.3 2.5-3.6-4.7-3.3z" fill="#621b5a"/><path d="M596.5,527l5.1-.4 1.9-4.2-5.2,.4z" fill="#5d224b"/><path d="M590.7,530.4l5.1-.1 1.9-4.1-5.1,0z" fill="#5d214c"/><path d="M497.2,532.8l4.6,3.3 2.7-3.9-4.5-3.2z" fill="#611b5a"/><path d="M480.1,522.6l4.6,4.5 2.9-3.7-4.6-4.4z" fill="#63195e"/><path d="M602.3,523.2l5.2-.7 1.8-4.2-5.2,.8z" fill="#5d2249"/><path d="M585,533.4l5,.3 2-4.1-5-.2z" fill="#5e214d"/><path d="M525.8,535.4l4.7,1.7 2.5-3.9-4.7-1.9z" fill="#601d54"/><path d="M608.1,519.2l5.3-1.1 1.7-4.2-5.3,1.1z" fill="#5c2348"/><path d="M579.2,536.2l5,.6 2.1-4-5-.6z" fill="#5e204e"/><path d="M483.9,526.3l4.5,4.2 2.9-3.7-4.6-4.2z" fill="#62195d"/><path d="M548.6,540.5l4.8,2.5 2.3-3.8-4.7-2.4z" fill="#601c56"/><path d="M558.1,541.2l4.9,1.9 2.2-3.9-4.8-1.8z" fill="#601e54"/><path d="M539.1,538.8l4.7,3 2.4-3.6-4.7-3.1z" fill="#611b59"/><path d="M510.5,536.9l4.6,2.4 2.6-4-4.6-2.4z" fill="#601d56"/><path d="M613.9,514.8l5.4-1.4 1.7-4.2-5.4,1.5z" fill="#5c2347"/><path d="M573.5,538.7l4.9,.9 2.1-4-4.9-.9z" fill="#5e2050"/><path d="M500.9,535.5l4.6,3 2.7-3.9-4.6-3z" fill="#611b58"/><path d="M487.6,529.7l4.5,3.9 2.9-3.7-4.6-3.9z" fill="#621a5c"/><path d="M520,537.3l4.6,1.8 2.6-4.1-4.6-1.8z" fill="#5f1e53"/><path d="M619.8,510.2l5.5-1.8 1.6-4.3-5.5,1.9z" fill="#5c2446"/><path d="M567.7,540.8l4.9,1.3 2.2-4-4.9-1.2z" fill="#5f1f51"/><path d="M529.5,536.5l4.7,3.1 2.5-3.6-4.6-3.3z" fill="#611b58"/><path d="M491.3,532.9l4.5,3.6 2.8-3.8-4.5-3.5z" fill="#621a5b"/><path d="M552.4,542.5l4.8,2.2 2.3-3.8-4.7-2.2z" fill="#601d55"/><path d="M542.8,541.2l4.8,2.8 2.4-3.7-4.7-2.7z" fill="#611c58"/><path d="M504.6,537.9l4.6,2.7 2.7-4-4.6-2.6z" fill="#611c57"/><path d="M466.5,512.8l4.7,5.4 2.9-3.5-4.6-5.4z" fill="#641761"/><path d="M470.3,517.3l4.6,5.1 3-3.5-4.6-5.1z" fill="#631860"/><path d="M514.2,538.8l4.6,2.1 2.6-4-4.6-2.1z" fill="#601d54"/><path d="M462.7,508l4.7,5.7 3-3.4-4.7-5.7z" fill="#641762"/><path d="M474.1,521.5l4.6,4.8 2.9-3.5-4.6-4.8z" fill="#63185f"/><path d="M594.8,530.2l5.1-.4 1.9-4.1-5.1,.4z" fill="#5d224b"/><path d="M562,542.7l4.9,1.5 2.2-3.9-4.8-1.5z" fill="#5f1e52"/><path d="M589,533.5l5.1,0 1.9-4.1-5.1,0z" fill="#5d214c"/><path d="M600.6,526.5l5.2-.7 1.8-4.2-5.2,.7z" fill="#5d224a"/><path d="M533.3,538.9l4.7,3.4 2.5-3.6-4.7-3.3z" fill="#621b5a"/><path d="M583.2,536.6l5,.3 2.1-4.1-5.1-.3z" fill="#5e214d"/><path d="M495,535.9l4.5,3.3 2.8-3.9-4.6-3.2z" fill="#611b5a"/><path d="M477.8,525.5l4.6,4.5 2.9-3.6-4.6-4.4z" fill="#63195e"/><path d="M606.4,522.5l5.4-1.1 1.7-4.1-5.3,1z" fill="#5c2348"/><path d="M523.7,538.7l4.7,1.6 2.5-4-4.6-1.7z" fill="#5f1e53"/><path d="M577.4,539.3l5,.6 2.1-4-5-.6z" fill="#5e204e"/><path d="M481.5,529.3l4.6,4.2 2.9-3.7-4.6-4.2z" fill="#63195d"/><path d="M546.6,543.5l4.8,2.5 2.4-3.8-4.8-2.4z" fill="#601c57"/><path d="M612.3,518.2l5.4-1.5 1.7-4.2-5.4,1.5z" fill="#5c2347"/><path d="M556.2,544.2l4.9,1.9 2.3-3.8-4.8-1.9z" fill="#601e54"/><path d="M508.3,540.1l4.6,2.4 2.7-4-4.6-2.4z" fill="#601d56"/><path d="M571.7,541.7l4.9,1 2.1-4-4.9-.9z" fill="#5e1f50"/><path d="M537,541.6l4.8,3.1 2.5-3.6-4.8-3.1z" fill="#611b59"/><path d="M498.7,538.6l4.6,3 2.7-3.9-4.6-3z" fill="#611b58"/><path d="M485.2,532.7l4.6,3.9 2.9-3.7-4.6-3.9z" fill="#621a5c"/><path d="M517.9,540.5l4.6,1.8 2.6-4.1-4.6-1.8z" fill="#5f1e53"/><path d="M618.2,513.5l5.5-1.8 1.6-4.2-5.5,1.8z" fill="#5c2446"/><path d="M565.9,543.9l4.9,1.2 2.2-3.9-4.9-1.2z" fill="#5f1f51"/><path d="M527.4,539.7l4.7,2.7 2.6-3.6-4.7-3z" fill="#611c57"/><path d="M489,535.9l4.6,3.7 2.8-3.8-4.6-3.6z" fill="#621a5b"/><path d="M550.5,545.4l4.8,2.2 2.3-3.7-4.8-2.2z" fill="#601d55"/><path d="M540.8,544.1l4.8,2.8 2.4-3.6-4.7-2.8z" fill="#611c58"/><path d="M502.4,541l4.6,2.7 2.7-3.9-4.6-2.7z" fill="#611c57"/><path d="M464.1,515.6l4.6,5.5 3-3.5-4.6-5.4z" fill="#641761"/><path d="M512,542l4.6,2.1 2.7-4-4.7-2.1z" fill="#601d54"/><path d="M467.9,520.2l4.6,5.1 3-3.5-4.6-5.1z" fill="#631861"/><path d="M593,533.4l5.2-.4 1.9-4.1-5.2,.4z" fill="#5d224b"/><path d="M460.3,510.8l4.6,5.8 3-3.4-4.6-5.7z" fill="#641762"/><path d="M587.2,536.7l5.2,0 1.9-4.1-5.1,0z" fill="#5d214c"/><path d="M471.7,524.4l4.6,4.9 2.9-3.6-4.6-4.8z" fill="#631860"/><path d="M598.9,529.7l5.3-.7 1.8-4.1-5.3,.7z" fill="#5d224a"/><path d="M560.1,545.7l4.9,1.6 2.2-3.9-4.8-1.6z" fill="#5f1e53"/><path d="M581.4,539.7l5.1,.3 2-4-5-.3z" fill="#5e214d"/><path d="M492.7,538.9l4.6,3.3 2.8-3.8-4.6-3.3z" fill="#611b5a"/><path d="M604.8,525.7l5.3-1 1.8-4.2-5.4,1.1z" fill="#5c2349"/><path d="M475.4,528.5l4.6,4.5 3-3.6-4.6-4.5z" fill="#63195f"/><path d="M531.2,541.8l4.7,3.3 2.6-3.5-4.7-3.4z" fill="#621b5a"/><path d="M521.6,541.9l4.7,1.6 2.5-4.1-4.6-1.6z" fill="#5f1e53"/><path d="M575.6,542.4l5,.7 2.1-4.1-5-.6z" fill="#5e204f"/><path d="M479.2,532.2l4.6,4.2 2.9-3.6-4.6-4.2z" fill="#63195d"/><path d="M610.7,521.5l5.4-1.4 1.7-4.2-5.4,1.4z" fill="#5c2348"/><path d="M544.6,546.4l4.8,2.5 2.5-3.7-4.8-2.5z" fill="#611c57"/><path d="M506.1,543.2l4.6,2.4 2.7-4-4.6-2.4z" fill="#601d56"/><path d="M554.3,547.2l4.9,1.9 2.3-3.8-4.9-1.9z" fill="#601d54"/><path d="M569.8,544.8l5,1 2.1-4-4.9-.9z" fill="#5e1f50"/><path d="M496.4,541.6l4.6,3 2.8-3.8-4.6-3z" fill="#611b59"/><path d="M535,544.5l4.7,3.1 2.6-3.6-4.8-3.1z" fill="#611b59"/><path d="M482.9,535.7l4.6,3.9 2.9-3.6-4.6-4z" fill="#621a5c"/><path d="M616.6,516.8l5.5-1.7 1.6-4.2-5.5,1.8z" fill="#5c2447"/><path d="M515.7,543.6l4.7,1.9 2.6-4.1-4.7-1.8z" fill="#5f1e53"/><path d="M564,546.9l4.9,1.3 2.3-3.9-5-1.3z" fill="#5f1f51"/><path d="M525.3,543l4.8,2.3 2.5-3.6-4.7-2.7z" fill="#601c56"/><path d="M486.6,538.9l4.6,3.7 2.9-3.8-4.6-3.6z" fill="#621a5b"/><path d="M548.5,548.4l4.8,2.2 2.4-3.8-4.8-2.2z" fill="#601d55"/><path d="M500.1,544.1l4.6,2.7 2.8-3.9-4.6-2.7z" fill="#611c57"/><path d="M538.8,547l4.8,2.8 2.5-3.6-4.8-2.8z" fill="#611c58"/><path d="M509.8,545.1l4.7,2.1 2.6-4-4.6-2.1z" fill="#601d55"/><path d="M591.3,536.5l5.2-.3 1.9-4.1-5.2,.4z" fill="#5d224b"/><path d="M461.6,518.5l4.7,5.4 3-3.4-4.6-5.4z" fill="#641762"/><path d="M465.4,523l4.7,5.2 3-3.5-4.6-5.1z" fill="#641861"/><path d="M597.2,532.9l5.3-.7 1.8-4.1-5.3,.7z" fill="#5d224a"/><path d="M585.5,539.8l5.1,0 2-4-5.2,0z" fill="#5d214c"/><path d="M457.8,513.6l4.7,5.8 3-3.4-4.7-5.7z" fill="#641762"/><path d="M469.2,527.3l4.7,4.9 2.9-3.5-4.6-4.9z" fill="#631860"/><path d="M558.2,548.7l4.9,1.6 2.3-3.9-4.9-1.6z" fill="#5f1e53"/><path d="M603.1,529l5.3-1 1.8-4.2-5.3,1.1z" fill="#5c2349"/><path d="M579.6,542.8l5.1,.3 2-4-5-.3z" fill="#5e214d"/><path d="M490.4,541.9l4.6,3.4 2.8-3.8-4.6-3.3z" fill="#611b5a"/><path d="M473,531.4l4.6,4.5 3-3.5-4.6-4.6z" fill="#63185f"/><path d="M519.5,545l4.7,1.6 2.5-4-4.6-1.6z" fill="#5f1e52"/><path d="M529.1,544.7l4.8,3.3 2.5-3.6-4.7-3.3z" fill="#621b5a"/><path d="M609,524.7l5.5-1.4 1.6-4.1-5.4,1.4z" fill="#5c2348"/><path d="M573.8,545.5l5,.6 2.1-3.9-5-.7z" fill="#5e204f"/><path d="M476.8,535.1l4.6,4.3 2.9-3.6-4.6-4.2z" fill="#63195e"/><path d="M503.8,546.3l4.7,2.4 2.7-3.9-4.6-2.5z" fill="#601d56"/><path d="M542.6,549.3l4.8,2.5 2.5-3.7-4.8-2.5z" fill="#611c57"/><path d="M615,520.1l5.5-1.7 1.6-4.2-5.5,1.8z" fill="#5c2447"/><path d="M567.9,547.8l5,1 2.2-3.9-5-1z" fill="#5f1f50"/><path d="M552.4,550.1l4.8,2 2.4-3.8-4.9-1.9z" fill="#601d54"/><path d="M494.1,544.6l4.6,3.1 2.8-3.8-4.6-3.1z" fill="#611b59"/><path d="M513.5,546.8l4.7,1.8 2.7-4-4.7-1.8z" fill="#5f1e53"/><path d="M480.5,538.7l4.7,3.9 2.9-3.6-4.6-4z" fill="#621a5c"/><path d="M532.9,547.3l4.8,3.2 2.5-3.6-4.7-3.1z" fill="#611b59"/><path d="M562.1,549.9l5,1.3 2.2-3.9-4.9-1.3z" fill="#5f1f51"/><path d="M523.2,546.2l4.8,2 2.5-3.7-4.7-2.4z" fill="#601d56"/><path d="M484.3,541.9l4.6,3.7 2.9-3.7-4.6-3.7z" fill="#621a5b"/><path d="M497.8,547.1l4.7,2.8 2.8-3.9-4.7-2.7z" fill="#611c57"/><path d="M546.5,551.3l4.8,2.2 2.5-3.7-4.9-2.2z" fill="#601d56"/><path d="M589.6,539.7l5.2-.3 1.9-4.1-5.2,.3z" fill="#5d224b"/><path d="M507.6,548.2l4.7,2.2 2.6-4-4.6-2.1z" fill="#601d55"/><path d="M595.5,536.1l5.3-.6 1.8-4.1-5.3,.6z" fill="#5d224a"/><path d="M583.7,543l5.1,0 2-4.1-5.1,0z" fill="#5d214c"/><path d="M536.8,549.9l4.8,2.8 2.5-3.6-4.8-2.8z" fill="#611b58"/><path d="M459.1,521.3l4.7,5.5 3-3.4-4.6-5.5z" fill="#641762"/><path d="M462.9,525.9l4.7,5.2 3-3.5-4.6-5.1z" fill="#641761"/><path d="M601.4,532.2l5.4-1 1.7-4.1-5.3,1z" fill="#5c2349"/><path d="M455.2,516.4l4.7,5.8 3.1-3.3-4.7-5.8z" fill="#641763"/><path d="M466.8,530.2l4.6,4.9 3-3.5-4.6-4.9z" fill="#631860"/><path d="M577.8,545.9l5.1,.4 2.1-4-5.1-.4z" fill="#5e204e"/><path d="M556.3,551.6l4.9,1.7 2.3-3.9-4.9-1.6z" fill="#5f1e53"/><path d="M488,544.9l4.7,3.4 2.8-3.8-4.6-3.3z" fill="#621b5a"/><path d="M517.3,548.2l4.7,1.6 2.6-4-4.7-1.6z" fill="#5f1e52"/><path d="M470.6,534.3l4.6,4.5 3-3.5-4.6-4.6z" fill="#63185f"/><path d="M607.3,528l5.5-1.4 1.7-4.1-5.4,1.4z" fill="#5c2348"/><path d="M527,547.5l4.8,3.3 2.6-3.5-4.8-3.3z" fill="#611b5a"/><path d="M571.9,548.5l5.1,.7 2.1-3.9-5-.7z" fill="#5e204f"/><path d="M474.3,538.1l4.7,4.2 3-3.6-4.7-4.2z" fill="#63195e"/><path d="M613.3,523.4l5.6-1.7 1.6-4.1-5.5,1.7z" fill="#5c2447"/><path d="M501.6,549.3l4.6,2.5 2.8-3.9-4.7-2.5z" fill="#601c56"/><path d="M540.6,552.1l4.8,2.6 2.5-3.7-4.8-2.5z" fill="#611c57"/><path d="M566.1,550.9l5,1 2.2-3.9-5-1z" fill="#5f1f50"/><path d="M550.4,553.1l4.9,1.9 2.3-3.8-4.8-1.9z" fill="#601d54"/><path d="M491.8,547.7l4.6,3.1 2.9-3.9-4.7-3z" fill="#611b59"/><path d="M511.3,549.9l4.7,1.9 2.7-4-4.7-1.9z" fill="#601e53"/><path d="M478.1,541.6l4.7,4 2.9-3.7-4.6-3.9z" fill="#62195d"/><path d="M530.8,550.2l4.8,3.1 2.6-3.6-4.8-3.1z" fill="#611b5a"/><path d="M560.2,552.9l5,1.3 2.2-3.9-4.9-1.3z" fill="#5f1f52"/><path d="M521.1,549.4l4.7,1.7 2.6-3.8-4.7-2z" fill="#601d55"/><path d="M481.9,544.9l4.6,3.7 3-3.7-4.7-3.7z" fill="#621a5b"/><path d="M587.8,542.8l5.2-.3 2-4-5.3,.3z" fill="#5d224b"/><path d="M593.7,539.3l5.3-.7 1.9-4-5.3,.6z" fill="#5d224a"/><path d="M495.5,550.2l4.7,2.8 2.8-3.9-4.6-2.8z" fill="#611c58"/><path d="M505.3,551.3l4.7,2.2 2.7-4-4.6-2.1z" fill="#601d55"/><path d="M581.9,546.1l5.2,0 2-4-5.2,0z" fill="#5d214c"/><path d="M544.5,554.2l4.8,2.3 2.5-3.8-4.9-2.2z" fill="#601d56"/><path d="M599.7,535.4l5.4-1 1.8-4.1-5.4,1z" fill="#5c2349"/><path d="M456.6,524.1l4.7,5.5 3.1-3.4-4.7-5.5z" fill="#641762"/><path d="M460.4,528.7l4.7,5.2 3.1-3.4-4.7-5.2z" fill="#641761"/><path d="M534.7,552.7l4.8,2.9 2.5-3.6-4.8-2.9z" fill="#611b58"/><path d="M452.7,519.2l4.7,5.8 3.1-3.3-4.7-5.8z" fill="#641763"/><path d="M576,549l5.1,.4 2.1-4-5.1-.4z" fill="#5e204e"/><path d="M464.3,533l4.6,5 3.1-3.5-4.7-4.9z" fill="#631860"/><path d="M554.3,554.6l4.9,1.6 2.4-3.8-5-1.6z" fill="#5f1e53"/><path d="M605.7,531.2l5.4-1.3 1.8-4.1-5.5,1.3z" fill="#5c2348"/><path d="M515.1,551.4l4.7,1.6 2.7-4.1-4.7-1.6z" fill="#5f1e52"/><path d="M485.7,547.9l4.6,3.4 2.9-3.7-4.6-3.4z" fill="#621b5a"/><path d="M468.1,537.1l4.7,4.6 3-3.5-4.7-4.6z" fill="#63185f"/><path d="M570.1,551.6l5,.7 2.2-4-5.1-.6z" fill="#5e204f"/><path d="M524.9,550.5l4.8,3.1 2.6-3.5-4.8-3.3z" fill="#611b59"/><path d="M611.7,526.7l5.5-1.7 1.7-4.1-5.6,1.7z" fill="#5c2447"/><path d="M471.9,540.9l4.7,4.4 3-3.6-4.7-4.3z" fill="#63195e"/><path d="M499.3,552.4l4.7,2.5 2.8-3.9-4.7-2.5z" fill="#601c56"/><path d="M564.2,553.9l5,1 2.2-3.9-5-1z" fill="#5f1f50"/><path d="M538.6,555l4.8,2.6 2.5-3.7-4.8-2.5z" fill="#611c57"/><path d="M509.1,553l4.7,1.9 2.7-4-4.7-1.8z" fill="#601e54"/><path d="M489.4,550.7l4.7,3.1 2.9-3.8-4.7-3.1z" fill="#611b59"/><path d="M548.4,556l4.9,2 2.4-3.8-4.9-2z" fill="#601d54"/><path d="M475.7,544.5l4.6,4 3-3.6-4.6-4z" fill="#62195d"/><path d="M528.7,553l4.8,3.1 2.6-3.5-4.8-3.2z" fill="#611b5a"/><path d="M558.2,555.8l5,1.4 2.3-3.8-4.9-1.4z" fill="#5f1f52"/><path d="M518.9,552.6l4.8,1.5 2.6-3.9-4.8-1.7z" fill="#601e54"/><path d="M479.5,547.8l4.6,3.7 3-3.6-4.6-3.7z" fill="#621a5c"/><path d="M592,542.4l5.3-.6 1.9-4-5.3,.6z" fill="#5d224a"/><path d="M586,546l5.3-.3 1.9-4-5.2,.2z" fill="#5d224b"/><path d="M503.1,554.4l4.7,2.2 2.7-3.9-4.7-2.2z" fill="#601d55"/><path d="M493.2,553.2l4.7,2.8 2.8-3.8-4.6-2.8z" fill="#611c58"/><path d="M598,538.6l5.4-1 1.8-4-5.4,.9z" fill="#5c2349"/><path d="M580.1,549.1l5.2,.1 2-4-5.2,0z" fill="#5d214d"/><path d="M542.4,557.1l4.9,2.3 2.5-3.7-4.9-2.3z" fill="#601d56"/><path d="M454,526.8l4.7,5.6 3.1-3.4-4.7-5.5z" fill="#641762"/><path d="M457.9,531.5l4.7,5.2 3.1-3.4-4.7-5.2z" fill="#641761"/><path d="M604,534.4l5.5-1.3 1.7-4.1-5.5,1.4z" fill="#5c2348"/><path d="M574.1,552l5.2,.4 2.1-3.9-5.2-.4z" fill="#5e204e"/><path d="M532.6,555.5l4.8,2.9 2.6-3.6-4.8-2.8z" fill="#611b59"/><path d="M450.1,521.9l4.7,5.9 3.2-3.3-4.8-5.9z" fill="#641763"/><path d="M461.7,535.9l4.7,4.9 3.1-3.4-4.7-5z" fill="#631860"/><path d="M512.9,554.5l4.7,1.6 2.7-4-4.7-1.6z" fill="#5f1e52"/><path d="M552.3,557.5l5,1.7 2.3-3.8-4.9-1.7z" fill="#5f1e53"/><path d="M483.3,550.9l4.6,3.4 3-3.7-4.7-3.4z" fill="#621a5a"/><path d="M465.6,540l4.7,4.6 3-3.5-4.6-4.6z" fill="#63185f"/><path d="M610,529.9l5.6-1.7 1.7-4.1-5.6,1.8z" fill="#5c2447"/><path d="M568.2,554.6l5.1,.7 2.1-3.9-5-.7z" fill="#5e204f"/><path d="M522.7,553.5l4.8,2.9 2.7-3.5-4.8-3.1z" fill="#611c58"/><path d="M469.4,543.8l4.7,4.4 3-3.6-4.6-4.3z" fill="#63195e"/><path d="M497,555.5l4.7,2.5 2.8-3.9-4.7-2.5z" fill="#601c56"/><path d="M506.9,556.1l4.7,2 2.7-4-4.7-1.9z" fill="#601e54"/><path d="M562.2,556.9l5.1,1 2.2-3.9-5-1z" fill="#5f1f50"/><path d="M487,553.7l4.7,3.1 2.9-3.8-4.6-3.1z" fill="#611b59"/><path d="M536.5,557.9l4.8,2.6 2.6-3.7-4.9-2.6z" fill="#611c57"/><path d="M546.4,558.9l4.9,2 2.4-3.8-4.9-1.9z" fill="#601d55"/><path d="M473.2,547.4l4.7,4.1 3-3.6-4.6-4.1z" fill="#62195d"/><path d="M526.6,555.8l4.8,3.1 2.6-3.5-4.8-3.1z" fill="#611b5a"/><path d="M516.7,555.7l4.8,1.5 2.6-4-4.7-1.5z" fill="#5f1e52"/><path d="M556.3,558.8l5,1.4 2.3-3.8-5-1.4z" fill="#5f1e52"/><path d="M590.2,545.6l5.3-.6 1.9-4.1-5.3,.7z" fill="#5d224a"/><path d="M477,550.7l4.7,3.8 3-3.7-4.7-3.7z" fill="#621a5c"/><path d="M584.2,549.1l5.3-.3 2-4-5.3,.3z" fill="#5d214b"/><path d="M596.2,541.8l5.4-1 1.9-4-5.4,.9z" fill="#5c2349"/><path d="M500.8,557.5l4.7,2.2 2.8-3.9-4.7-2.2z" fill="#601d55"/><path d="M578.2,552.2l5.2,.1 2.1-4-5.2,0z" fill="#5e214d"/><path d="M490.8,556.2l4.7,2.8 2.9-3.8-4.7-2.8z" fill="#611c58"/><path d="M602.3,537.6l5.5-1.3 1.7-4-5.5,1.3z" fill="#5c2348"/><path d="M540.4,559.9l4.9,2.4 2.5-3.7-4.9-2.3z" fill="#601d56"/><path d="M572.2,555.1l5.2,.4 2.1-3.9-5.1-.5z" fill="#5e204e"/><path d="M451.4,529.6l4.7,5.6 3.2-3.3-4.8-5.6z" fill="#641762"/><path d="M455.3,534.3l4.7,5.2 3.1-3.3-4.7-5.3z" fill="#641761"/><path d="M447.4,524.6l4.8,5.9 3.2-3.2-4.8-5.9z" fill="#641663"/><path d="M510.7,557.6l4.7,1.7 2.7-4-4.7-1.7z" fill="#5f1e53"/><path d="M530.5,558.3l4.8,3 2.6-3.6-4.8-2.9z" fill="#611b59"/><path d="M459.1,538.7l4.8,4.9 3.1-3.4-4.7-4.9z" fill="#631860"/><path d="M550.3,560.4l5,1.7 2.4-3.7-5-1.7z" fill="#5f1e53"/><path d="M480.8,553.8l4.7,3.5 3-3.7-4.7-3.5z" fill="#621a5b"/><path d="M608.3,533.2l5.6-1.7 1.7-4.1-5.6,1.7z" fill="#5c2347"/><path d="M463,542.8l4.7,4.7 3.1-3.5-4.7-4.6z" fill="#63185f"/><path d="M566.3,557.6l5.1,.8 2.2-3.9-5.1-.8z" fill="#5e204f"/><path d="M520.5,556.6l4.8,2.6 2.7-3.5-4.8-2.9z" fill="#601c57"/><path d="M494.6,558.5l4.7,2.5 2.9-3.8-4.7-2.5z" fill="#601c57"/><path d="M466.9,546.7l4.7,4.4 3.1-3.6-4.7-4.3z" fill="#63195e"/><path d="M504.6,559.2l4.7,2 2.8-4-4.8-1.9z" fill="#601e54"/><path d="M560.3,559.8l5,1.1 2.3-3.8-5-1.1z" fill="#5f1f51"/><path d="M484.6,556.6l4.7,3.2 3-3.7-4.7-3.2z" fill="#611b59"/><path d="M534.4,560.7l4.8,2.6 2.6-3.6-4.9-2.6z" fill="#611c57"/><path d="M544.3,561.8l5,2 2.4-3.7-4.9-2z" fill="#601d55"/><path d="M470.7,550.3l4.7,4.1 3.1-3.6-4.7-4.1z" fill="#62195d"/><path d="M524.4,558.6l4.8,3.1 2.7-3.5-4.8-3.1z" fill="#611b5a"/><path d="M514.5,558.9l4.8,1.4 2.6-4-4.7-1.5z" fill="#5f1e52"/><path d="M588.4,548.7l5.4-.6 1.9-4-5.4,.6z" fill="#5d224a"/><path d="M554.3,561.7l5,1.4 2.4-3.8-5-1.3z" fill="#5f1e52"/><path d="M582.4,552.1l5.3-.2 2-4-5.3,.3z" fill="#5d214c"/><path d="M594.5,544.9l5.4-.9 1.8-4-5.4,.9z" fill="#5c2249"/><path d="M474.5,553.6l4.7,3.8 3.1-3.6-4.7-3.8z" fill="#621a5c"/><path d="M498.4,560.5l4.8,2.3 2.8-3.9-4.7-2.3z" fill="#601d55"/><path d="M576.4,555.3l5.2,.1 2.1-4-5.2-.1z" fill="#5e214d"/><path d="M488.4,559.2l4.7,2.9 3-3.8-4.7-2.9z" fill="#611c58"/><path d="M600.5,540.8l5.6-1.3 1.7-4-5.5,1.3z" fill="#5c2348"/><path d="M570.3,558.1l5.2,.4 2.2-3.9-5.2-.4z" fill="#5e204e"/><path d="M538.3,562.8l4.9,2.3 2.5-3.6-4.9-2.3z" fill="#601c56"/><path d="M448.7,532.3l4.8,5.6 3.2-3.3-4.8-5.6z" fill="#641762"/><path d="M508.4,560.7l4.8,1.7 2.7-4-4.8-1.6z" fill="#5f1e53"/><path d="M452.6,537l4.8,5.3 3.2-3.3-4.8-5.3z" fill="#641761"/><path d="M606.6,536.4l5.6-1.7 1.8-4-5.7,1.7z" fill="#5c2347"/><path d="M444.7,527.3l4.8,6 3.3-3.3-4.8-5.9z" fill="#641663"/><path d="M456.5,541.4l4.8,5.1 3.2-3.4-4.8-5z" fill="#631860"/><path d="M528.3,561.1l4.9,3 2.6-3.6-4.9-2.9z" fill="#611b59"/><path d="M478.4,556.7l4.7,3.5 3-3.6-4.7-3.5z" fill="#621a5b"/><path d="M548.3,563.3l5,1.8 2.4-3.8-5-1.7z" fill="#601e53"/><path d="M564.3,560.6l5.2,.8 2.2-3.9-5.1-.8z" fill="#5e204f"/><path d="M460.4,545.6l4.8,4.7 3.1-3.4-4.7-4.7z" fill="#63185f"/><path d="M518.3,559.8l4.9,2.2 2.6-3.6-4.8-2.5z" fill="#601d56"/><path d="M492.2,561.5l4.8,2.6 2.9-3.9-4.8-2.5z" fill="#611c57"/><path d="M464.3,549.5l4.7,4.4 3.2-3.5-4.8-4.4z" fill="#63195e"/><path d="M502.2,562.3l4.8,2 2.8-4-4.8-1.9z" fill="#601d54"/><path d="M558.3,562.8l5.1,1.1 2.3-3.8-5.1-1.1z" fill="#5f1f51"/><path d="M482.2,559.6l4.7,3.2 3-3.7-4.7-3.2z" fill="#611b59"/><path d="M532.2,563.5l4.9,2.7 2.6-3.6-4.9-2.7z" fill="#611c58"/><path d="M542.2,564.6l5,2.1 2.5-3.7-5-2z" fill="#601d55"/><path d="M468.2,553.2l4.7,4.1 3.1-3.6-4.7-4.1z" fill="#62195d"/><path d="M512.2,562l4.8,1.4 2.7-4-4.8-1.4z" fill="#5f1f52"/><path d="M586.6,551.8l5.4-.6 1.9-3.9-5.3,.5z" fill="#5d224b"/><path d="M522.2,561.4l4.9,3.1 2.6-3.5-4.8-3.1z" fill="#611b5a"/><path d="M592.7,548.1l5.4-1 1.9-4-5.4,1z" fill="#5d2249"/><path d="M580.5,555.2l5.3-.2 2.1-4-5.3,.3z" fill="#5d214c"/><path d="M552.3,564.7l5,1.4 2.4-3.8-5-1.4z" fill="#5f1e52"/><path d="M472,556.5l4.7,3.9 3.1-3.7-4.7-3.7z" fill="#621a5c"/><path d="M598.8,544l5.5-1.3 1.8-4-5.5,1.3z" fill="#5c2348"/><path d="M574.5,558.3l5.2,.2 2.1-4-5.2-.1z" fill="#5e214d"/><path d="M496.1,563.6l4.7,2.3 2.9-3.9-4.8-2.3z" fill="#601d55"/><path d="M486,562.2l4.7,2.9 3-3.8-4.7-2.9z" fill="#611c58"/><path d="M604.9,539.6l5.6-1.7 1.8-4-5.6,1.7z" fill="#5c2347"/><path d="M568.4,561.1l5.2,.5 2.2-3.9-5.2-.5z" fill="#5e204e"/><path d="M506.1,563.8l4.8,1.7 2.7-4-4.7-1.6z" fill="#5f1e53"/><path d="M536.2,565.6l4.9,2.4 2.6-3.6-5-2.4z" fill="#601c56"/><path d="M446,535l4.8,5.7 3.2-3.3-4.7-5.6z" fill="#641762"/><path d="M450,539.7l4.7,5.4 3.3-3.3-4.8-5.3z" fill="#641761"/><path d="M442,530l4.8,6 3.3-3.3-4.8-5.9z" fill="#641663"/><path d="M453.9,544.2l4.8,5.1 3.2-3.4-4.8-5z" fill="#631860"/><path d="M475.9,559.7l4.7,3.5 3-3.7-4.7-3.5z" fill="#621a5b"/><path d="M526.1,563.9l4.9,3 2.7-3.6-4.9-2.9z" fill="#611b59"/><path d="M546.2,566.2l5,1.8 2.5-3.7-5-1.8z" fill="#601e54"/><path d="M562.4,563.6l5.1,.8 2.3-3.9-5.1-.8z" fill="#5e2050"/><path d="M457.8,548.4l4.8,4.7 3.1-3.4-4.7-4.7z" fill="#63185f"/><path d="M516.1,563l4.8,1.8 2.7-3.6-4.8-2.2z" fill="#601d55"/><path d="M489.8,564.5l4.8,2.6 2.9-3.8-4.7-2.6z" fill="#611c57"/><path d="M461.7,552.3l4.7,4.5 3.2-3.5-4.7-4.4z" fill="#63195e"/><path d="M499.9,565.4l4.8,2 2.8-4-4.8-1.9z" fill="#601d54"/><path d="M556.3,565.7l5.1,1.2 2.3-3.9-5-1.1z" fill="#5f1f51"/><path d="M479.7,562.5l4.7,3.2 3-3.7-4.7-3.2z" fill="#611b5a"/><path d="M465.6,556l4.7,4.1 3.2-3.5-4.8-4.1z" fill="#62195d"/><path d="M540.1,567.5l5,2.1 2.5-3.7-4.9-2.1z" fill="#601d55"/><path d="M530.1,566.3l4.9,2.7 2.6-3.6-4.9-2.7z" fill="#611c58"/><path d="M509.9,565.1l4.9,1.4 2.7-4-4.8-1.4z" fill="#5f1f52"/><path d="M584.8,554.9l5.4-.5 1.9-4-5.3,.5z" fill="#5d224b"/><path d="M590.9,551.2l5.5-.9 1.9-4-5.5,.9z" fill="#5d224a"/><path d="M578.7,558.3l5.3-.2 2-4-5.3,.3z" fill="#5d214c"/><path d="M520,564.2l4.8,3.1 2.8-3.5-4.9-3.2z" fill="#611b59"/><path d="M597,547.1l5.6-1.2 1.8-4-5.5,1.3z" fill="#5c2349"/><path d="M550.2,567.6l5.1,1.4 2.4-3.7-5-1.5z" fill="#5f1e52"/><path d="M572.6,561.3l5.3,.2 2.1-3.9-5.3-.2z" fill="#5e214d"/><path d="M469.4,559.4l4.8,3.9 3.1-3.6-4.7-3.9z" fill="#621a5c"/><path d="M493.7,566.6l4.7,2.3 2.9-3.9-4.7-2.3z" fill="#601d56"/><path d="M483.5,565.1l4.8,3 3-3.8-4.8-2.9z" fill="#611b58"/><path d="M603.2,542.8l5.6-1.7 1.8-4-5.7,1.7z" fill="#5c2348"/><path d="M566.5,564.1l5.2,.5 2.2-3.9-5.2-.5z" fill="#5e204e"/><path d="M503.8,566.9l4.7,1.7 2.8-3.9-4.7-1.7z" fill="#5f1e53"/><path d="M443.3,537.7l4.8,5.7 3.3-3.3-4.8-5.6z" fill="#641762"/><path d="M447.2,542.5l4.8,5.4 3.3-3.4-4.8-5.3z" fill="#641762"/><path d="M534,568.4l5,2.4 2.6-3.6-5-2.4z" fill="#601c56"/><path d="M439.2,532.7l4.9,6 3.3-3.2-4.8-6z" fill="#641663"/><path d="M451.2,547l4.8,5 3.2-3.3-4.7-5.1z" fill="#631861"/><path d="M473.3,562.6l4.8,3.5 3-3.6-4.7-3.6z" fill="#621a5b"/><path d="M544.1,569.1l5.1,1.8 2.4-3.7-5-1.8z" fill="#601e54"/><path d="M523.9,566.7l4.9,3 2.7-3.6-4.9-2.9z" fill="#611b59"/><path d="M560.4,566.5l5.2,.9 2.2-3.9-5.1-.8z" fill="#5e1f50"/><path d="M455.1,551.2l4.8,4.8 3.2-3.5-4.7-4.7z" fill="#631860"/><path d="M513.8,566.1l4.9,1.5 2.7-3.6-4.9-1.9z" fill="#601d54"/><path d="M487.4,567.5l4.7,2.6 3-3.8-4.7-2.6z" fill="#611c57"/><path d="M497.5,568.4l4.8,2 2.9-3.9-4.8-2z" fill="#601d54"/><path d="M459.1,555.1l4.7,4.5 3.2-3.4-4.7-4.5z" fill="#63195f"/><path d="M554.3,568.6l5.1,1.2 2.4-3.8-5.1-1.1z" fill="#5f1f51"/><path d="M477.2,565.4l4.7,3.3 3.1-3.7-4.7-3.2z" fill="#611b5a"/><path d="M463,558.8l4.7,4.2 3.2-3.5-4.7-4.2z" fill="#63195d"/><path d="M538,570.3l5,2.1 2.6-3.6-5-2.1z" fill="#601d55"/><path d="M527.9,569.1l4.9,2.7 2.7-3.6-5-2.7z" fill="#611c58"/><path d="M507.6,568.2l4.9,1.4 2.7-3.9-4.8-1.5z" fill="#5f1f52"/><path d="M582.9,558l5.4-.6 2-3.9-5.4,.5z" fill="#5d224b"/><path d="M589.1,554.3l5.5-.9 1.9-4-5.5,.9z" fill="#5d224a"/><path d="M576.8,561.3l5.3-.1 2.1-4-5.3,.2z" fill="#5d214c"/><path d="M595.2,550.3l5.6-1.3 1.9-3.9-5.6,1.2z" fill="#5c2349"/><path d="M548.2,570.5l5.1,1.4 2.4-3.7-5.1-1.5z" fill="#5f1e52"/><path d="M570.7,564.4l5.2,.1 2.2-3.9-5.3-.1z" fill="#5e214d"/><path d="M517.7,567.1l4.9,2.9 2.7-3.4-4.8-3.1z" fill="#611b58"/><path d="M491.2,569.6l4.8,2.3 2.9-3.8-4.7-2.3z" fill="#601d56"/><path d="M466.9,562.3l4.7,3.8 3.2-3.5-4.8-3.9z" fill="#621a5c"/><path d="M601.4,545.9l5.7-1.6 1.8-4-5.7,1.7z" fill="#5c2348"/><path d="M481,568.1l4.8,2.9 3-3.7-4.7-2.9z" fill="#611b58"/><path d="M564.5,567.1l5.3,.5 2.2-3.9-5.2-.5z" fill="#5e204f"/><path d="M501.4,570l4.8,1.7 2.8-3.9-4.8-1.8z" fill="#5f1e53"/><path d="M440.5,540.4l4.8,5.7 3.4-3.2-4.9-5.7z" fill="#641763"/><path d="M444.5,545.2l4.8,5.4 3.3-3.3-4.8-5.4z" fill="#641762"/><path d="M531.9,571.2l4.9,2.4 2.6-3.5-4.9-2.4z" fill="#601c57"/><path d="M436.4,535.3l4.9,6 3.4-3.1-4.9-6z" fill="#641663"/><path d="M470.7,565.4l4.8,3.6 3.1-3.6-4.7-3.6z" fill="#621a5b"/><path d="M448.5,549.7l4.8,5.1 3.3-3.3-4.8-5.1z" fill="#641861"/><path d="M542,572l5.1,1.8 2.5-3.7-5-1.8z" fill="#601e54"/><path d="M558.4,569.5l5.2,.8 2.3-3.8-5.2-.8z" fill="#5e1f50"/><path d="M521.7,569.4l4.9,3 2.7-3.5-4.9-3z" fill="#611b59"/><path d="M452.4,553.9l4.8,4.8 3.3-3.3-4.8-4.8z" fill="#631860"/><path d="M511.5,569.2l4.9,1.4 2.7-3.8-4.8-1.5z" fill="#5f1e53"/><path d="M484.9,570.5l4.8,2.6 3-3.8-4.8-2.6z" fill="#611c57"/><path d="M495.1,571.4l4.8,2.1 2.9-3.9-4.8-2z" fill="#601d54"/><path d="M456.4,557.9l4.8,4.5 3.2-3.4-4.8-4.5z" fill="#63185f"/><path d="M552.3,571.6l5.1,1.1 2.4-3.7-5.1-1.2z" fill="#5f1f51"/><path d="M474.6,568.4l4.8,3.2 3.1-3.6-4.8-3.3z" fill="#611b5a"/><path d="M460.3,561.6l4.8,4.3 3.2-3.5-4.8-4.2z" fill="#63195e"/><path d="M505.3,571.3l4.8,1.4 2.8-3.9-4.8-1.5z" fill="#5f1e52"/><path d="M587.2,557.4l5.6-.9 1.9-3.9-5.5,.8z" fill="#5d224a"/><path d="M581.1,561l5.4-.5 2-3.9-5.4,.5z" fill="#5d224b"/><path d="M535.9,573.1l5,2.2 2.6-3.7-5-2.1z" fill="#601d55"/><path d="M525.6,571.8l5,2.8 2.7-3.6-5-2.7z" fill="#611c58"/><path d="M593.4,553.4l5.6-1.2 1.9-4-5.6,1.3z" fill="#5c2349"/><path d="M574.9,564.3l5.4-.1 2-3.9-5.3,.2z" fill="#5d214c"/><path d="M599.7,549.1l5.7-1.6 1.7-4-5.6,1.6z" fill="#5c2348"/><path d="M568.7,567.4l5.3,.1 2.2-3.8-5.3-.2z" fill="#5e214d"/><path d="M546.1,573.3l5.1,1.5 2.5-3.7-5.1-1.5z" fill="#5f1e53"/><path d="M488.8,572.6l4.8,2.4 2.9-3.9-4.7-2.3z" fill="#601d56"/><path d="M515.4,570l4.9,2.8 2.8-3.5-4.9-3z" fill="#611c57"/><path d="M464.2,565.1l4.8,3.9 3.2-3.5-4.8-3.9z" fill="#621a5c"/><path d="M478.5,571l4.8,3 3-3.7-4.7-3z" fill="#611b59"/><path d="M499,573l4.8,1.8 2.9-3.9-4.8-1.8z" fill="#5f1e53"/><path d="M562.6,570l5.2,.6 2.3-3.9-5.3-.5z" fill="#5e204f"/><path d="M437.6,543l4.9,5.8 3.4-3.2-4.8-5.8z" fill="#641763"/><path d="M441.7,547.8l4.8,5.5 3.4-3.3-4.8-5.4z" fill="#641762"/><path d="M529.7,574l5,2.5 2.6-3.6-5-2.4z" fill="#611c57"/><path d="M433.6,537.9l4.9,6.1 3.4-3.2-4.9-6z" fill="#641664"/><path d="M468.1,568.3l4.8,3.6 3.2-3.6-4.8-3.6z" fill="#621a5b"/><path d="M445.7,552.4l4.8,5.1 3.4-3.3-4.8-5.1z" fill="#641761"/><path d="M556.4,572.4l5.2,.9 2.3-3.8-5.2-.9z" fill="#5e1f50"/><path d="M539.9,574.8l5.1,1.8 2.5-3.6-5-1.9z" fill="#601d54"/><path d="M519.4,572.1l4.9,3.1 2.8-3.5-4.9-3z" fill="#611b59"/><path d="M449.7,556.7l4.8,4.8 3.3-3.3-4.8-4.9z" fill="#631860"/><path d="M509.2,572.3l4.9,1.3 2.7-3.9-4.8-1.3z" fill="#5f1e52"/><path d="M482.4,573.4l4.8,2.7 3-3.8-4.8-2.6z" fill="#611c57"/><path d="M492.7,574.4l4.8,2.1 2.9-3.8-4.8-2.1z" fill="#601d55"/><path d="M453.7,560.7l4.8,4.5 3.3-3.4-4.8-4.5z" fill="#63185f"/><path d="M550.2,574.5l5.1,1.2 2.5-3.8-5.2-1.2z" fill="#5f1f51"/><path d="M472,571.2l4.8,3.4 3.2-3.7-4.8-3.3z" fill="#611b5a"/><path d="M585.4,560.4l5.5-.8 2-3.9-5.5,.8z" fill="#5d224a"/><path d="M502.9,574.4l4.9,1.4 2.8-3.9-4.9-1.5z" fill="#5f1e52"/><path d="M579.2,564.1l5.4-.5 2.1-3.9-5.5,.5z" fill="#5d224b"/><path d="M457.6,564.4l4.8,4.3 3.3-3.5-4.8-4.2z" fill="#63195e"/><path d="M591.6,556.5l5.6-1.2 1.9-4-5.6,1.3z" fill="#5c2349"/><path d="M573,567.4l5.3-.2 2.2-3.9-5.4,.2z" fill="#5d214c"/><path d="M533.7,575.9l5,2.2 2.6-3.6-5-2.1z" fill="#601d55"/><path d="M523.4,574.6l5,2.7 2.7-3.5-5-2.7z" fill="#611c58"/><path d="M597.9,552.2l5.7-1.6 1.8-3.9-5.7,1.6z" fill="#5c2348"/><path d="M566.8,570.3l5.3,.2 2.2-3.8-5.3-.2z" fill="#5e204e"/><path d="M486.3,575.6l4.8,2.4 3-3.8-4.8-2.4z" fill="#601d56"/><path d="M544,576.2l5.1,1.5 2.5-3.7-5.1-1.5z" fill="#5f1e53"/><path d="M513.1,573.1l4.9,2.4 2.8-3.5-4.9-2.7z" fill="#601d56"/><path d="M461.5,567.9l4.8,4 3.3-3.6-4.8-3.9z" fill="#62195d"/><path d="M475.9,573.9l4.8,3 3.1-3.6-4.7-3z" fill="#611b59"/><path d="M496.6,576.1l4.8,1.7 2.9-3.9-4.8-1.7z" fill="#5f1e53"/><path d="M560.5,573l5.3,.5 2.3-3.8-5.3-.5z" fill="#5e204f"/><path d="M434.8,545.6l4.9,5.8 3.4-3.1-4.9-5.8z" fill="#641763"/><path d="M438.8,550.5l4.9,5.5 3.4-3.2-4.8-5.5z" fill="#641762"/><path d="M465.5,571.2l4.8,3.6 3.2-3.6-4.8-3.6z" fill="#621a5b"/><path d="M430.7,540.5l4.9,6.1 3.5-3.1-4.9-6.1z" fill="#641664"/><path d="M527.4,576.8l5,2.5 2.7-3.6-5-2.5z" fill="#611c57"/><path d="M442.9,555.1l4.9,5.2 3.3-3.3-4.8-5.2z" fill="#641761"/><path d="M554.3,575.3l5.2,.9 2.4-3.8-5.2-.8z" fill="#5f1f50"/><path d="M537.7,577.6l5.1,1.9 2.6-3.7-5.1-1.8z" fill="#601d54"/><path d="M506.8,575.4l4.9,1.3 2.8-4-4.9-1.2z" fill="#5f1f51"/><path d="M446.9,559.4l4.9,4.9 3.3-3.4-4.8-4.8z" fill="#631860"/><path d="M517.1,574.9l5,3 2.7-3.4-4.9-3.1z" fill="#611b59"/><path d="M479.8,576.4l4.8,2.7 3.1-3.8-4.8-2.7z" fill="#611c57"/><path d="M490.2,577.4l4.8,2.2 3-3.9-4.8-2.1z" fill="#601d55"/><path d="M450.9,563.4l4.8,4.6 3.4-3.4-4.9-4.5z" fill="#63185f"/><path d="M548.1,577.3l5.2,1.3 2.4-3.8-5.1-1.2z" fill="#5f1f51"/><path d="M469.4,574.1l4.8,3.4 3.2-3.7-4.8-3.3z" fill="#621b5a"/><path d="M583.5,563.5l5.6-.8 2-3.9-5.6,.8z" fill="#5d224a"/><path d="M577.3,567.1l5.4-.5 2.1-3.9-5.5,.5z" fill="#5d224b"/><path d="M500.5,577.4l4.9,1.5 2.8-3.9-4.8-1.5z" fill="#5f1e52"/><path d="M589.8,559.6l5.6-1.2 1.9-3.9-5.6,1.2z" fill="#5c2349"/><path d="M571,570.4l5.4-.2 2.2-3.8-5.4,.1z" fill="#5d214c"/><path d="M454.9,567.2l4.8,4.3 3.3-3.5-4.8-4.2z" fill="#63195e"/><path d="M596.1,555.3l5.7-1.5 1.8-4-5.7,1.6z" fill="#5c2348"/><path d="M531.5,578.7l5,2.2 2.7-3.6-5.1-2.1z" fill="#601d56"/><path d="M521.1,577.3l5,2.8 2.8-3.5-5-2.8z" fill="#611b58"/><path d="M564.8,573.3l5.3,.2 2.2-3.8-5.3-.2z" fill="#5e204e"/><path d="M483.7,578.5l4.9,2.5 3-3.8-4.8-2.4z" fill="#601c56"/><path d="M541.8,579l5.2,1.6 2.5-3.7-5.1-1.5z" fill="#5f1e53"/><path d="M510.7,576.2l5,2 2.8-3.5-4.9-2.4z" fill="#601d55"/><path d="M458.8,570.7l4.9,4 3.2-3.5-4.8-3.9z" fill="#62195d"/><path d="M473.3,576.8l4.8,3.1 3.2-3.7-4.8-3z" fill="#611b59"/><path d="M494.1,579.1l4.9,1.8 2.9-3.9-4.9-1.8z" fill="#601e53"/><path d="M558.5,575.9l5.3,.6 2.3-3.8-5.3-.6z" fill="#5e204f"/><path d="M462.8,574l4.8,3.7 3.3-3.6-4.8-3.6z" fill="#621a5b"/><path d="M525.2,579.5l5,2.5 2.7-3.5-5-2.5z" fill="#611c57"/><path d="M552.3,578.2l5.2,.9 2.4-3.7-5.2-.9z" fill="#5f1f50"/><path d="M504.4,578.5l4.9,1.3 2.9-4-4.9-1.2z" fill="#5f1f51"/><path d="M535.6,580.4l5.1,1.9 2.6-3.6-5.1-1.9z" fill="#601d54"/><path d="M477.2,579.3l4.9,2.7 3.1-3.7-4.8-2.7z" fill="#611c58"/><path d="M514.7,577.6l5,3 2.9-3.4-5-3z" fill="#611b59"/><path d="M487.7,580.4l4.8,2.2 3-3.9-4.8-2.1z" fill="#601d55"/><path d="M581.6,566.6l5.6-.9 2-3.9-5.6,.9z" fill="#5d224a"/><path d="M546,580.2l5.2,1.3 2.4-3.8-5.1-1.2z" fill="#5f1f52"/><path d="M466.7,577l4.8,3.4 3.3-3.6-4.8-3.4z" fill="#621b5a"/><path d="M587.9,562.7l5.7-1.2 1.9-3.9-5.6,1.2z" fill="#5c2349"/><path d="M575.3,570.1l5.5-.4 2.1-3.9-5.5,.4z" fill="#5d214b"/><path d="M498,580.5l4.9,1.5 2.9-3.9-4.9-1.6z" fill="#5f1e52"/><path d="M594.3,558.4l5.7-1.5 1.9-3.9-5.8,1.6z" fill="#5c2348"/><path d="M569,573.3l5.5,0 2.1-3.9-5.4,.1z" fill="#5d214d"/><path d="M529.2,581.5l5.1,2.2 2.7-3.6-5.1-2.1z" fill="#601d56"/><path d="M562.7,576.2l5.4,.3 2.3-3.8-5.4-.3z" fill="#5e204e"/><path d="M518.8,580l5,2.8 2.8-3.4-5-2.8z" fill="#611b58"/><path d="M481.2,581.5l4.8,2.4 3.1-3.7-4.8-2.5z" fill="#601c56"/><path d="M508.4,579.3l4.9,1.7 2.9-3.6-5-2z" fill="#601d55"/><path d="M539.7,581.9l5.1,1.6 2.6-3.7-5.2-1.6z" fill="#5f1e53"/><path d="M470.7,579.7l4.8,3.1 3.2-3.7-4.8-3z" fill="#611b59"/><path d="M491.6,582.1l4.9,1.8 2.9-3.8-4.8-1.9z" fill="#601e54"/><path d="M556.5,578.8l5.3,.6 2.3-3.7-5.3-.6z" fill="#5e204f"/><path d="M502,581.6l4.9,1.2 2.9-3.9-4.9-1.3z" fill="#5f1f51"/><path d="M550.1,581.1l5.3,1 2.4-3.8-5.2-.9z" fill="#5f1f50"/><path d="M522.9,582.3l5,2.5 2.8-3.5-5.1-2.5z" fill="#611c57"/><path d="M533.3,583.2l5.2,1.9 2.6-3.6-5.1-1.9z" fill="#601d54"/><path d="M474.6,582.2l4.8,2.8 3.2-3.7-4.8-2.8z" fill="#611c58"/><path d="M485.1,583.4l4.9,2.2 3-3.8-4.8-2.2z" fill="#601d55"/><path d="M512.4,580.4l5,2.9 2.8-3.4-5-3z" fill="#611b59"/><path d="M579.7,569.6l5.6-.8 2-3.9-5.5,.8z" fill="#5d224a"/><path d="M586.1,565.7l5.6-1.1 2-3.9-5.7,1.2z" fill="#5c2249"/><path d="M573.4,573.1l5.5-.4 2.1-3.9-5.5,.5z" fill="#5d214c"/><path d="M543.8,583.1l5.2,1.2 2.5-3.7-5.2-1.2z" fill="#5f1f52"/><path d="M495.5,583.5l4.9,1.5 3-3.9-4.9-1.5z" fill="#5f1e52"/><path d="M592.4,561.5l5.8-1.5 1.9-3.9-5.8,1.6z" fill="#5c2348"/><path d="M567,576.3l5.5-.1 2.2-3.8-5.4,.1z" fill="#5e214d"/><path d="M526.9,584.3l5.2,2.2 2.7-3.5-5.1-2.3z" fill="#601d56"/><path d="M560.7,579.2l5.4,.3 2.3-3.8-5.4-.3z" fill="#5e204e"/><path d="M516.4,582.7l5.1,2.9 2.8-3.5-5-2.8z" fill="#611b58"/><path d="M478.5,584.4l4.9,2.5 3.1-3.8-4.8-2.4z" fill="#601c56"/><path d="M506,582.4l4.9,1.4 2.9-3.7-5-1.6z" fill="#601e54"/><path d="M537.5,584.7l5.1,1.6 2.6-3.6-5.1-1.6z" fill="#5f1e53"/><path d="M489.1,585.1l4.8,1.9 3.1-3.9-4.9-1.9z" fill="#601e54"/><path d="M554.4,581.7l5.3,.7 2.4-3.8-5.3-.6z" fill="#5e204f"/><path d="M499.5,584.6l5,1.3 2.9-3.9-5-1.3z" fill="#5f1f51"/><path d="M548,584l5.3,.9 2.4-3.7-5.2-.9z" fill="#5f1f51"/><path d="M520.5,585l5.1,2.6 2.8-3.5-5.1-2.6z" fill="#611c57"/><path d="M531.1,586l5.1,2 2.7-3.6-5.1-2z" fill="#601d55"/><path d="M482.5,586.4l4.9,2.2 3.1-3.8-4.9-2.2z" fill="#601d55"/><path d="M509.9,583.2l5.1,2.8 2.9-3.4-5-2.9z" fill="#611c58"/><path d="M577.8,572.6l5.6-.8 2-3.8-5.6,.8z" fill="#5d224b"/><path d="M584.2,568.8l5.7-1.2 1.9-3.8-5.6,1.1z" fill="#5d2249"/><path d="M571.4,576.1l5.5-.4 2.2-3.9-5.5,.5z" fill="#5d214c"/><path d="M590.6,564.6l5.8-1.5 1.9-3.9-5.8,1.5z" fill="#5c2348"/><path d="M493,586.5l4.9,1.6 3-3.9-4.9-1.6z" fill="#5f1e52"/><path d="M541.6,585.9l5.3,1.3 2.5-3.7-5.2-1.3z" fill="#5f1e52"/><path d="M565,579.3l5.5-.1 2.2-3.8-5.4,.1z" fill="#5e214d"/><path d="M558.6,582.1l5.4,.3 2.4-3.8-5.4-.3z" fill="#5e204e"/><path d="M524.6,587l5.2,2.3 2.7-3.6-5.1-2.2z" fill="#601d56"/><path d="M514,585.4l5.1,2.9 2.9-3.4-5.1-2.9z" fill="#611b59"/><path d="M503.5,585.5l5,1.2 2.9-3.8-5-1.3z" fill="#5f1e52"/><path d="M486.5,588.1l4.9,1.9 3-3.9-4.8-1.9z" fill="#601e54"/><path d="M535.2,587.5l5.2,1.6 2.6-3.6-5.1-1.6z" fill="#5f1e53"/><path d="M552.3,584.6l5.3,.7 2.4-3.8-5.3-.6z" fill="#5e204f"/><path d="M497,587.7l5,1.3 2.9-4-4.9-1.2z" fill="#5f1f51"/><path d="M545.8,586.8l5.3,1 2.5-3.7-5.2-1z" fill="#5f1f51"/><path d="M518.2,587.7l5.1,2.6 2.8-3.5-5.1-2.5z" fill="#611c57"/><path d="M528.8,588.8l5.2,1.9 2.7-3.5-5.2-2z" fill="#601d55"/><path d="M582.2,571.8l5.8-1.1 2-3.9-5.7,1.2z" fill="#5d224a"/><path d="M575.8,575.6l5.6-.8 2.1-3.8-5.6,.8z" fill="#5d224b"/><path d="M507.5,586.1l5.1,2.6 2.9-3.4-5-2.8z" fill="#601c57"/><path d="M588.7,567.7l5.8-1.6 1.9-3.8-5.8,1.5z" fill="#5c2349"/><path d="M569.4,579.1l5.5-.4 2.2-3.8-5.5,.4z" fill="#5d214c"/><path d="M490.5,589.5l4.9,1.6 3-3.9-4.9-1.6z" fill="#5f1e53"/><path d="M539.4,588.7l5.3,1.4 2.5-3.7-5.2-1.3z" fill="#5f1e52"/><path d="M563,582.2l5.5,0 2.2-3.8-5.5,0z" fill="#5e214d"/><path d="M556.5,585l5.5,.4 2.3-3.8-5.4-.3z" fill="#5e204e"/><path d="M522.3,589.7l5.1,2.3 2.8-3.5-5.1-2.2z" fill="#601c56"/><path d="M501,588.6l5,1.1 2.9-3.9-4.9-1.2z" fill="#5f1f51"/><path d="M511.6,588.1l5.1,2.9 2.9-3.4-5.1-2.9z" fill="#611b59"/><path d="M533,590.3l5.2,1.7 2.6-3.7-5.2-1.6z" fill="#601e53"/><path d="M550.1,587.5l5.4,.7 2.4-3.7-5.3-.7z" fill="#5e204f"/><path d="M494.5,590.7l4.9,1.3 3-3.9-4.9-1.3z" fill="#5f1f51"/><path d="M543.7,589.7l5.3,1 2.5-3.7-5.3-1z" fill="#5f1f51"/><path d="M515.7,590.4l5.2,2.6 2.8-3.4-5.1-2.6z" fill="#611c57"/><path d="M526.5,591.5l5.1,2 2.8-3.5-5.2-2z" fill="#601d55"/><path d="M580.3,574.8l5.7-1.1 2.1-3.8-5.8,1.1z" fill="#5d224a"/><path d="M573.8,578.6l5.7-.7 2.1-3.9-5.6,.8z" fill="#5d224b"/><path d="M586.8,570.7l5.8-1.5 2-3.8-5.8,1.5z" fill="#5c2349"/><path d="M567.4,582l5.5-.3 2.2-3.9-5.5,.4z" fill="#5d214c"/><path d="M505,589.2l5.1,2.2 3-3.4-5.1-2.6z" fill="#601d55"/><path d="M560.9,585.1l5.5,0 2.3-3.8-5.5,.1z" fill="#5e214d"/><path d="M537.2,591.5l5.2,1.4 2.7-3.7-5.3-1.3z" fill="#5f1e52"/><path d="M554.4,587.9l5.5,.4 2.3-3.8-5.4-.3z" fill="#5e204e"/><path d="M498.5,591.6l5,1.1 3-3.9-5-1.1z" fill="#5f1f51"/><path d="M519.9,592.5l5.2,2.3 2.8-3.5-5.1-2.3z" fill="#601c56"/><path d="M509.1,590.8l5.2,2.9 2.9-3.4-5.1-2.9z" fill="#611b59"/><path d="M530.7,593.1l5.2,1.7 2.7-3.6-5.2-1.7z" fill="#601e54"/><path d="M547.9,590.4l5.4,.7 2.5-3.7-5.4-.7z" fill="#5e2050"/><path d="M541.4,592.5l5.4,1.1 2.5-3.7-5.3-1z" fill="#5f1f51"/><path d="M578.3,577.8l5.8-1.1 2-3.8-5.7,1.1z" fill="#5d224a"/><path d="M571.8,581.6l5.7-.8 2.1-3.8-5.6,.8z" fill="#5d224b"/><path d="M584.9,573.7l5.8-1.5 2-3.8-5.8,1.5z" fill="#5c2349"/><path d="M513.3,593.1l5.2,2.6 2.9-3.4-5.2-2.6z" fill="#611c58"/><path d="M524.1,594.3l5.2,2 2.8-3.5-5.2-2z" fill="#601d55"/><path d="M565.3,585l5.6-.4 2.2-3.8-5.6,.4z" fill="#5d214c"/><path d="M502.5,592.2l5.1,1.9 3-3.5-5.1-2.2z" fill="#601d55"/><path d="M558.8,588l5.5,.1 2.3-3.8-5.5,0z" fill="#5e214d"/><path d="M534.9,594.3l5.3,1.4 2.6-3.6-5.2-1.4z" fill="#5f1e52"/><path d="M552.3,590.8l5.4,.4 2.4-3.8-5.4-.3z" fill="#5e204e"/><path d="M517.5,595.2l5.2,2.3 2.8-3.5-5.1-2.3z" fill="#601c56"/><path d="M506.6,593.5l5.2,2.9 3-3.4-5.2-2.9z" fill="#611b58"/><path d="M545.7,593.2l5.4,.8 2.5-3.7-5.3-.8z" fill="#5e1f50"/><path d="M528.3,595.8l5.3,1.8 2.7-3.6-5.2-1.7z" fill="#601e54"/><path d="M539.2,595.3l5.3,1.1 2.6-3.7-5.3-1z" fill="#5f1f51"/><path d="M576.3,580.8l5.8-1.1 2.1-3.8-5.8,1.1z" fill="#5d224a"/><path d="M582.9,576.7l5.9-1.4 2-3.8-5.9,1.5z" fill="#5c2349"/><path d="M569.8,584.5l5.7-.7 2.1-3.8-5.6,.7z" fill="#5d224b"/><path d="M563.2,587.9l5.6-.3 2.3-3.8-5.6,.3z" fill="#5d214c"/><path d="M521.7,597l5.2,2.1 2.9-3.6-5.3-2z" fill="#601d55"/><path d="M510.8,595.8l5.2,2.6 2.9-3.4-5.1-2.6z" fill="#611c58"/><path d="M556.6,591l5.6,0 2.3-3.8-5.5,0z" fill="#5e214d"/><path d="M532.6,597.1l5.3,1.4 2.7-3.6-5.3-1.4z" fill="#5f1e52"/><path d="M550.1,593.7l5.5,.4 2.4-3.8-5.5-.3z" fill="#5e204f"/><path d="M515,597.9l5.2,2.3 3-3.4-5.2-2.4z" fill="#601c57"/><path d="M543.5,596.1l5.4,.7 2.6-3.7-5.5-.7z" fill="#5e1f50"/><path d="M525.9,598.6l5.3,1.7 2.8-3.5-5.3-1.8z" fill="#601e54"/><path d="M574.3,583.8l5.8-1.1 2.1-3.8-5.8,1.1z" fill="#5d224a"/><path d="M536.9,598.1l5.3,1.1 2.7-3.6-5.4-1.1z" fill="#5f1f51"/><path d="M580.9,579.8l5.9-1.5 2.1-3.8-5.9,1.5z" fill="#5c2349"/><path d="M567.7,587.5l5.7-.7 2.2-3.8-5.7,.7z" fill="#5d224b"/><path d="M561.1,590.8l5.6-.3 2.3-3.7-5.6,.3z" fill="#5d214c"/><path d="M519.3,599.7l5.2,2.1 2.9-3.5-5.2-2.1z" fill="#601d55"/><path d="M554.5,593.8l5.5,.1 2.4-3.7-5.5-.1z" fill="#5e204e"/><path d="M530.2,599.9l5.4,1.4 2.7-3.6-5.3-1.4z" fill="#5f1e53"/><path d="M547.9,596.5l5.5,.5 2.4-3.8-5.4-.4z" fill="#5e204f"/><path d="M541.2,598.9l5.5,.8 2.5-3.7-5.4-.8z" fill="#5f1f50"/><path d="M523.5,601.3l5.3,1.8 2.9-3.5-5.3-1.8z" fill="#601d54"/><path d="M572.3,586.7l5.8-1 2.1-3.8-5.8,1.1z" fill="#5d224a"/><path d="M578.9,582.7l6-1.4 2-3.8-5.9,1.5z" fill="#5c2249"/><path d="M565.6,590.4l5.7-.7 2.3-3.7-5.7,.7z" fill="#5d224b"/><path d="M534.5,600.9l5.4,1.2 2.7-3.7-5.4-1.1z" fill="#5f1f51"/><path d="M558.9,593.7l5.7-.3 2.3-3.7-5.6,.3z" fill="#5d214c"/><path d="M552.3,596.7l5.6,.1 2.4-3.7-5.6-.1z" fill="#5e204e"/><path d="M527.8,602.7l5.4,1.4 2.8-3.6-5.4-1.4z" fill="#5f1e53"/><path d="M545.6,599.4l5.5,.4 2.6-3.7-5.6-.4z" fill="#5e204f"/><path d="M538.9,601.7l5.5,.8 2.6-3.6-5.5-.8z" fill="#5f1f50"/><path d="M576.9,585.7l5.9-1.4 2.1-3.7-5.9,1.4z" fill="#5d2249"/><path d="M570.2,589.7l5.8-1 2.2-3.8-5.8,1.1z" fill="#5d224a"/><path d="M563.5,593.3l5.7-.6 2.3-3.8-5.7,.7z" fill="#5d214b"/><path d="M532.2,603.7l5.4,1.2 2.7-3.6-5.4-1.2z" fill="#5f1f52"/><path d="M556.8,596.6l5.7-.2 2.3-3.8-5.6,.3z" fill="#5d214d"/><path d="M550.1,599.6l5.6,.1 2.4-3.7-5.6-.1z" fill="#5e204e"/><path d="M543.3,602.2l5.6,.5 2.5-3.7-5.5-.4z" fill="#5e204f"/><path d="M536.6,604.5l5.5,.9 2.6-3.7-5.5-.8z" fill="#5f1f50"/><path d="M574.9,588.7l5.9-1.4 2.1-3.8-5.9,1.5z" fill="#5d2249"/><path d="M568.1,592.6l5.9-1 2.2-3.7-5.9,1z" fill="#5d224b"/><path d="M561.3,596.2l5.8-.6 2.3-3.7-5.8,.6z" fill="#5d214c"/><path d="M554.6,599.5l5.7-.2 2.4-3.7-5.7,.2z" fill="#5e214d"/><path d="M547.8,602.4l5.6,.2 2.5-3.7-5.6-.1z" fill="#5e204e"/><path d="M541,605l5.6,.5 2.6-3.6-5.6-.5z" fill="#5e204f"/><path d="M572.8,591.6l6-1.3 2.1-3.8-6,1.4z" fill="#5d224a"/><path d="M566,595.6l5.8-1 2.3-3.7-5.9,1z" fill="#5d224b"/><path d="M559.1,599.1l5.8-.6 2.4-3.7-5.8,.6z" fill="#5d214c"/><path d="M552.3,602.4l5.7-.2 2.5-3.7-5.7,.2z" fill="#5e214d"/><path d="M545.5,605.3l5.6,.1 2.6-3.6-5.7-.2z" fill="#5e204e"/><path d="M570.7,594.6l6-1.4 2.1-3.7-5.9,1.4z" fill="#5d224a"/><path d="M563.8,598.5l5.9-1 2.3-3.7-5.9,1z" fill="#5d224b"/><path d="M556.9,602l5.8-.5 2.4-3.7-5.8,.5z" fill="#5d214c"/><path d="M550,605.2l5.8-.1 2.5-3.7-5.8,.2z" fill="#5e214d"/><path d="M568.5,597.5l6-1.3 2.2-3.7-6,1.3z" fill="#5d224a"/><path d="M561.6,601.4l5.9-1 2.3-3.7-5.9,1z" fill="#5d224b"/><path d="M554.7,604.9l5.8-.5 2.4-3.7-5.8,.5z" fill="#5d214c"/><path d="M566.3,600.4l6.1-1.3 2.2-3.7-6,1.4z" fill="#5d224a"/><path d="M559.3,604.3l6-.9 2.4-3.7-6,.9z" fill="#5d224b"/><path d="M564.1,603.3l6.1-1.3 2.3-3.6-6.1,1.3z" fill="#5d224a"/></g>
<path d="M431.38,540.75 L433.68,543.65 L435.97,546.46 L438.25,549.18 L440.52,551.81 L442.79,554.35 L445.04,556.81 L447.29,559.19 L449.52,561.48 L451.76,563.69 L453.98,565.81 L456.2,567.85 L458.42,569.81 L460.63,571.68 L462.84,573.48 L465.05,575.19 L467.25,576.82 L469.45,578.37 L471.66,579.84 L473.86,581.23 L476.06,582.54 L478.27,583.77 L480.48,584.91 L482.69,585.98 L484.9,586.97 L487.12,587.87 L489.34,588.7 L491.57,589.44 L493.81,590.1 L496.05,590.68 L498.3,591.19 L500.56,591.62 L502.83,591.99 L505.12,592.46 L507.44,593.47 L509.78,594.74 L512.12,595.99 L514.47,597.16 L516.83,598.26 L519.2,599.28 L521.57,600.22 L523.96,601.07 L526.36,601.85 L528.77,602.54 L531.19,603.14 L533.62,603.67 L536.07,604.1 L538.53,604.46 L541.01,604.72 L543.5,604.9 L546.02,604.99 L548.55,604.99 L551.1,604.91 L553.68,604.73 L556.27,604.46 L558.89,604.09 L561.54,603.64 L564.21,603.08 L566.91,602.43 L569.63,601.68 L569.63,601.68 L570.86,600.05 L572.08,598.41 L573.28,596.76 L574.48,595.12 L575.67,593.47 L576.84,591.82 L578.01,590.16 L579.17,588.5 L580.32,586.84 L581.46,585.17 L582.59,583.5 L583.71,581.83 L584.83,580.15 L585.93,578.47 L587.03,576.78 L588.12,575.09 L589.2,573.4 L590.28,571.7 L591.35,570 L592.41,568.29 L593.46,566.58 L594.51,564.86 L595.54,563.14 L596.58,561.42 L597.6,559.69 L598.62,557.96 L599.64,556.22 L600.64,554.47 L601.65,552.73 L602.64,550.97 L603.63,549.22 L604.62,547.45 L605.6,545.69 L606.57,543.91 L607.54,542.14 L608.5,540.35 L609.46,538.56 L610.41,536.77 L611.36,534.97 L612.3,533.17 L613.24,531.36 L614.18,529.54 L615.11,527.72 L616.03,525.9 L616.95,524.06 L617.87,522.23 L618.78,520.38 L619.69,518.53 L620.6,516.68 L621.5,514.82 L622.4,512.95 L623.29,511.08 L624.18,509.2 L625.07,507.32 L625.95,505.42 L626.83,503.53 L627.71,501.62 L628.59,499.71 L629.46,497.8 L629.46,497.8 L627.03,498.79 L624.64,499.69 L622.26,500.5 L619.92,501.22 L617.59,501.86 L615.29,502.41 L613.01,502.87 L610.75,503.25 L608.51,503.54 L606.29,503.75 L604.09,503.88 L601.91,503.93 L599.74,503.9 L597.59,503.78 L595.46,503.59 L593.34,503.32 L591.23,502.97 L589.14,502.54 L587.07,502.03 L585,501.44 L582.95,500.78 L580.91,500.04 L578.87,499.22 L576.85,498.33 L574.84,497.36 L572.84,496.32 L570.85,495.19 L568.86,493.99 L566.88,492.72 L564.91,491.37 L562.94,489.94 L560.98,488.44 L559.03,486.86 L557.08,485.2 L555.13,483.48 L553.19,481.69 L551.25,479.9 L549.31,478.44 L547.36,477.42 L545.42,476.44 L543.49,475.39 L541.56,474.28 L539.63,473.1 L537.71,471.84 L535.8,470.5 L533.88,469.08 L531.97,467.59 L530.07,466.02 L528.16,464.37 L526.26,462.65 L524.36,460.84 L522.45,458.96 L520.55,457 L518.65,454.95 L516.75,452.83 L514.84,450.63 L512.94,448.34 L511.03,445.97 L509.12,443.52 L509.12,443.52 L508.02,445.38 L506.93,447.24 L505.82,449.08 L504.71,450.92 L503.59,452.75 L502.47,454.57 L501.35,456.38 L500.21,458.19 L499.07,459.99 L497.93,461.78 L496.77,463.56 L495.61,465.33 L494.45,467.1 L493.28,468.86 L492.1,470.61 L490.91,472.36 L489.72,474.1 L488.52,475.83 L487.31,477.55 L486.1,479.26 L484.88,480.97 L483.65,482.67 L482.41,484.37 L481.16,486.05 L479.91,487.73 L478.65,489.41 L477.38,491.07 L476.1,492.73 L474.81,494.38 L473.52,496.02 L472.21,497.66 L470.9,499.29 L469.58,500.91 L468.25,502.53 L466.9,504.14 L465.55,505.74 L464.19,507.34 L462.82,508.93 L461.44,510.51 L460.05,512.08 L458.65,513.65 L457.23,515.21 L455.81,516.77 L454.38,518.32 L452.93,519.86 L451.47,521.39 L450,522.92 L448.52,524.44 L447.03,525.96 L445.52,527.47 L444,528.97 L442.47,530.46 L440.93,531.95 L439.37,533.44 L437.8,534.91 L436.22,536.38 L434.62,537.84 L433.01,539.3 L431.38,540.75Z" fill="none" stroke="#2a1a1a" stroke-opacity="0.75" stroke-width="0.7"/>
<g opacity="0.58"><path d="M537.3,469.7l4.3,5.1 2.4-3.6-4.3-5.1z" fill="#ee8721"/><path d="M540.7,474l4.4,4.7 2.3-3.7-4.3-4.7z" fill="#ee8521"/><path d="M533.8,465.3l4.3,5.3 2.4-3.6-4.3-5.3z" fill="#ee8820"/><path d="M544.2,477.9l4.4,4.3 2.3-4-4.3-4z" fill="#ee8124"/><path d="M530.4,460.5l4.3,5.7 2.4-3.6-4.3-5.6z" fill="#ee891f"/><path d="M526.9,455.5l4.3,6 2.4-3.5-4.3-6z" fill="#ee8a1f"/><path d="M547.7,481.7l4.4,2.3 2.3-4.4-4.4-2.1z" fill="#ee7827"/><path d="M523.4,450.2l4.3,6.3 2.4-3.5-4.2-6.3z" fill="#ee8a1e"/><path d="M519.9,444.6l4.3,6.6 2.5-3.4-4.3-6.6z" fill="#ee8b1d"/><path d="M538.9,477l4.3,4.8 2.4-3.7-4.3-4.7z" fill="#ee8521"/><path d="M535.4,472.7l4.4,5.1 2.3-3.6-4.3-5z" fill="#ee8720"/><path d="M551.2,483.6l4.5,1.5 2.2-4.5-4.4-1.5z" fill="#ee7028"/><path d="M531.9,468.2l4.4,5.4 2.4-3.5-4.3-5.4z" fill="#ee8820"/><path d="M542.4,481l4.3,4.3 2.4-3.8-4.4-4.2z" fill="#ee8323"/><path d="M528.5,463.5l4.3,5.7 2.4-3.5-4.3-5.7z" fill="#ee891f"/><path d="M516.4,438.7l4.3,7 2.5-3.4-4.3-6.9z" fill="#ee8c1d"/><path d="M525,458.4l4.3,6 2.4-3.4-4.3-6z" fill="#ee8a1e"/><path d="M545.9,484.8l4.4,2.7 2.3-4.4-4.4-2.3z" fill="#ee7a26"/><path d="M521.5,453.1l4.3,6.3 2.4-3.4-4.3-6.3z" fill="#ee8a1e"/><path d="M512.9,432.6l4.3,7.2 2.4-3.3-4.2-7.2z" fill="#ee8c1c"/><path d="M554.8,484.7l4.5,1.2 2.1-4.5-4.4-1.2z" fill="#ee6d28"/><path d="M518,447.5l4.3,6.6 2.4-3.3-4.3-6.7z" fill="#ee8b1d"/><path d="M549.4,487.1l4.5,1.5 2.2-4.5-4.4-1.5z" fill="#ee7028"/><path d="M537,480l4.4,4.8 2.4-3.6-4.4-4.8z" fill="#ee8521"/><path d="M533.5,475.7l4.4,5.1 2.4-3.5-4.4-5.1z" fill="#ee8720"/><path d="M530,471.2l4.4,5.4 2.4-3.5-4.3-5.4z" fill="#ee881f"/><path d="M540.5,484l4.4,4.4 2.4-3.7-4.4-4.4z" fill="#ee8322"/><path d="M509.3,426.1l4.3,7.6 2.5-3.3-4.3-7.5z" fill="#ee8d1b"/><path d="M526.5,466.4l4.4,5.7 2.4-3.4-4.3-5.8z" fill="#ee891f"/><path d="M514.4,441.6l4.3,7 2.5-3.4-4.3-6.9z" fill="#ee8c1c"/><path d="M544,487.8l4.4,3.1 2.4-4.3-4.4-2.7z" fill="#ee7b25"/><path d="M523,461.3l4.4,6.1 2.4-3.5-4.3-6z" fill="#ee8a1e"/><path d="M558.4,485.6l4.5,.8 2.1-4.5-4.5-.8z" fill="#ee6c29"/><path d="M519.5,456l4.3,6.4 2.5-3.4-4.3-6.4z" fill="#ee8a1d"/><path d="M553,488.2l4.5,1.2 2.2-4.5-4.5-1.1z" fill="#ee6d28"/><path d="M510.9,435.4l4.3,7.3 2.5-3.3-4.3-7.2z" fill="#ee8c1c"/><path d="M505.8,419.3l4.3,8 2.5-3.3-4.3-7.9z" fill="#ee8d1b"/><path d="M547.6,490.5l4.4,1.6 2.3-4.5-4.5-1.5z" fill="#ee7028"/><path d="M516,450.4l4.3,6.6 2.5-3.3-4.3-6.6z" fill="#ee8b1d"/><path d="M535.1,483l4.4,4.8 2.4-3.6-4.4-4.8z" fill="#ee8520"/><path d="M531.6,478.7l4.4,5.1 2.4-3.5-4.3-5.1z" fill="#ee8720"/><path d="M538.6,487l4.4,4.5 2.4-3.7-4.4-4.4z" fill="#ee8421"/><path d="M528.1,474.1l4.4,5.5 2.4-3.5-4.3-5.4z" fill="#ee881f"/><path d="M507.3,428.9l4.3,7.7 2.5-3.3-4.3-7.6z" fill="#ee8d1b"/><path d="M524.6,469.3l4.3,5.8 2.5-3.5-4.3-5.7z" fill="#ee891e"/><path d="M512.4,444.5l4.4,7 2.4-3.3-4.3-7z" fill="#ee8c1c"/><path d="M542.2,490.8l4.4,3.5 2.3-4.2-4.4-3.1z" fill="#ee7c25"/><path d="M562,486.2l4.6,.5 2.1-4.5-4.6-.6z" fill="#ee6b2a"/><path d="M521.1,464.2l4.3,6.1 2.5-3.4-4.4-6z" fill="#ee8a1e"/><path d="M556.6,489.1l4.5,.9 2.2-4.5-4.6-.9z" fill="#ee6b29"/><path d="M551.2,491.7l4.5,1.2 2.2-4.4-4.5-1.2z" fill="#ee6d28"/><path d="M517.5,458.9l4.4,6.4 2.4-3.4-4.3-6.4z" fill="#ee8a1d"/><path d="M508.9,438.3l4.3,7.3 2.5-3.3-4.3-7.3z" fill="#ee8c1b"/><path d="M503.7,422.1l4.4,8 2.5-3.2-4.3-7.9z" fill="#ee8d1a"/><path d="M545.7,493.9l4.5,1.6 2.3-4.4-4.5-1.5z" fill="#ee7127"/><path d="M514,453.2l4.3,6.7 2.5-3.3-4.3-6.7z" fill="#ee8b1c"/><path d="M533.2,485.9l4.4,4.9 2.4-3.6-4.3-4.8z" fill="#ee8520"/><path d="M529.7,481.6l4.4,5.2 2.4-3.5-4.4-5.2z" fill="#ee871f"/><path d="M536.7,490l4.5,4.5 2.4-3.7-4.4-4.4z" fill="#ee8421"/><path d="M526.2,477.1l4.3,5.4 2.5-3.4-4.4-5.5z" fill="#ee881f"/><path d="M505.3,431.7l4.3,7.7 2.5-3.2-4.3-7.6z" fill="#ee8d1b"/><path d="M522.6,472.2l4.4,5.8 2.5-3.4-4.4-5.8z" fill="#ee891e"/><path d="M560.2,489.7l4.6,.6 2.1-4.6-4.6-.5z" fill="#ee6a29"/><path d="M540.3,493.8l4.4,3.8 2.4-4-4.4-3.5z" fill="#ee7e24"/><path d="M565.7,486.5l4.6,.3 2-4.6-4.6-.3z" fill="#ee692a"/><path d="M510.4,447.3l4.4,7 2.5-3.3-4.4-7z" fill="#ee8c1c"/><path d="M554.8,492.6l4.5,.9 2.2-4.5-4.6-.9z" fill="#ee6b28"/><path d="M519.1,467.1l4.3,6.1 2.5-3.4-4.3-6z" fill="#ee891d"/><path d="M549.3,495.2l4.5,1.2 2.2-4.4-4.5-1.2z" fill="#ee6d27"/><path d="M515.5,461.7l4.4,6.4 2.5-3.3-4.4-6.4z" fill="#ee8a1d"/><path d="M506.8,441.1l4.4,7.3 2.5-3.2-4.3-7.3z" fill="#ee8c1b"/><path d="M501.7,424.9l4.3,8 2.5-3.1-4.3-8z" fill="#ee8d1a"/><path d="M543.9,497.1l4.4,1.9 2.3-4.4-4.4-1.7z" fill="#ee7327"/><path d="M511.9,456.1l4.4,6.7 2.5-3.3-4.3-6.7z" fill="#ee8b1c"/><path d="M531.3,488.9l4.4,4.8 2.4-3.5-4.4-4.9z" fill="#ee8520"/><path d="M527.7,484.5l4.4,5.2 2.5-3.5-4.4-5.1z" fill="#ee861f"/><path d="M534.8,492.9l4.5,4.6 2.4-3.6-4.4-4.6z" fill="#ee8421"/><path d="M524.2,479.9l4.4,5.5 2.5-3.4-4.4-5.5z" fill="#ee881e"/><path d="M563.9,490.1l4.6,.3 2.1-4.6-4.7-.3z" fill="#ee6829"/><path d="M558.4,493.3l4.6,.6 2.1-4.6-4.6-.6z" fill="#ee6929"/><path d="M503.2,434.5l4.4,7.7 2.5-3.2-4.3-7.6z" fill="#ee8d1b"/><path d="M569.3,486.6l4.7-.1 2-4.6-4.6,.1z" fill="#ee672a"/><path d="M552.9,496.1l4.6,.9 2.2-4.4-4.6-.9z" fill="#ee6a28"/><path d="M520.6,475.1l4.4,5.8 2.5-3.4-4.4-5.8z" fill="#ee891e"/><path d="M538.4,496.7l4.4,4.1 2.4-3.9-4.4-3.8z" fill="#ee7f23"/><path d="M508.4,450.1l4.3,7 2.6-3.2-4.4-7z" fill="#ee8c1c"/><path d="M547.5,498.6l4.5,1.3 2.2-4.4-4.5-1.3z" fill="#ee6d27"/><path d="M517.1,470l4.4,6.1 2.5-3.4-4.4-6.1z" fill="#ee891d"/><path d="M542,500.3l4.5,2.1 2.3-4.3-4.5-1.9z" fill="#ee7526"/><path d="M513.5,464.5l4.4,6.5 2.5-3.3-4.4-6.4z" fill="#ee8a1d"/><path d="M499.6,427.7l4.3,8 2.6-3.1-4.4-8z" fill="#ee8d1a"/><path d="M504.7,443.8l4.4,7.4 2.6-3.2-4.4-7.3z" fill="#ee8c1b"/><path d="M509.9,458.9l4.4,6.7 2.5-3.3-4.3-6.7z" fill="#ee8b1c"/><path d="M562.1,493.6l4.6,.3 2.1-4.5-4.6-.3z" fill="#ee6729"/><path d="M556.6,496.8l4.6,.6 2.1-4.5-4.6-.6z" fill="#ee6928"/><path d="M529.3,491.8l4.5,4.9 2.4-3.5-4.4-4.9z" fill="#ee8520"/><path d="M525.8,487.4l4.4,5.2 2.5-3.4-4.4-5.2z" fill="#ee861f"/><path d="M567.6,490.2l4.6-.1 2.1-4.6-4.7,.1z" fill="#ee6629"/><path d="M532.9,495.8l4.4,4.6 2.5-3.5-4.4-4.6z" fill="#ee8420"/><path d="M551.1,499.6l4.5,.9 2.2-4.4-4.5-1z" fill="#ee6a27"/><path d="M522.2,482.8l4.4,5.5 2.5-3.4-4.4-5.5z" fill="#ee881e"/><path d="M501.1,437.3l4.4,7.7 2.6-3.2-4.4-7.6z" fill="#ee8d1a"/><path d="M573.1,486.4l4.7-.4 2-4.6-4.7,.4z" fill="#ee652a"/><path d="M518.6,477.9l4.4,5.9 2.5-3.4-4.3-5.8z" fill="#ee891e"/><path d="M536.5,499.7l4.4,4.2 2.5-3.8-4.5-4z" fill="#ee8122"/><path d="M506.3,452.9l4.4,7 2.5-3.2-4.3-7z" fill="#ee8b1b"/><path d="M545.6,502.1l4.5,1.2 2.3-4.4-4.6-1.2z" fill="#ee6d27"/><path d="M515,472.8l4.5,6.1 2.5-3.3-4.4-6.1z" fill="#ee891d"/><path d="M540.1,503.3l4.5,2.5 2.3-4.2-4.5-2.2z" fill="#ee7725"/><path d="M511.4,467.3l4.5,6.5 2.5-3.3-4.4-6.4z" fill="#ee8a1c"/><path d="M497.4,430.4l4.5,8.1 2.5-3.1-4.4-8.1z" fill="#ee8d1a"/><path d="M502.7,446.6l4.4,7.4 2.5-3.2-4.4-7.4z" fill="#ee8c1b"/><path d="M560.2,497.1l4.7,.4 2.1-4.6-4.6-.3z" fill="#ee6628"/><path d="M554.7,500.2l4.6,.7 2.2-4.5-4.6-.6z" fill="#ee6827"/><path d="M565.8,493.7l4.7,0 2-4.6-4.7,.1z" fill="#ee6428"/><path d="M507.8,461.6l4.4,6.8 2.6-3.2-4.4-6.8z" fill="#ee8b1c"/><path d="M549.2,503l4.6,1 2.2-4.4-4.6-1z" fill="#ee6a27"/><path d="M571.3,490l4.7-.3 2-4.7-4.7,.4z" fill="#ee6329"/><path d="M527.4,494.7l4.4,4.9 2.5-3.5-4.4-4.9z" fill="#ee851f"/><path d="M523.8,490.3l4.4,5.2 2.5-3.4-4.4-5.2z" fill="#ee861f"/><path d="M530.9,498.8l4.5,4.6 2.5-3.6-4.5-4.6z" fill="#ee8420"/><path d="M499,440l4.4,7.7 2.6-3.1-4.4-7.7z" fill="#ee8c1a"/><path d="M520.2,485.7l4.4,5.5 2.5-3.4-4.4-5.5z" fill="#ee871e"/><path d="M543.7,505.4l4.5,1.4 2.3-4.4-4.5-1.3z" fill="#ee6d26"/><path d="M576.9,485.9l4.8-.6 1.9-4.7-4.8,.7z" fill="#ee6229"/><path d="M534.5,502.6l4.5,4.3 2.5-3.7-4.5-4.2z" fill="#ee8121"/><path d="M516.6,480.7l4.4,5.9 2.6-3.3-4.4-5.9z" fill="#ee881d"/><path d="M504.2,455.6l4.4,7.1 2.6-3.2-4.4-7z" fill="#ee8b1b"/><path d="M513,475.6l4.4,6.1 2.6-3.3-4.4-6.1z" fill="#ee891d"/><path d="M538.1,506.3l4.5,2.9 2.4-4.2-4.5-2.5z" fill="#ee7824"/><path d="M495.3,433.1l4.4,8.1 2.6-3.1-4.4-8z" fill="#ee8d19"/><path d="M509.4,470.1l4.4,6.5 2.6-3.2-4.4-6.5z" fill="#ee8a1c"/><path d="M500.5,449.3l4.5,7.4 2.6-3.1-4.5-7.4z" fill="#ee8c1a"/><path d="M558.4,500.6l4.7,.4 2.1-4.5-4.7-.3z" fill="#ee6527"/><path d="M564,497.3l4.7,0 2-4.6-4.7,0z" fill="#ee6327"/><path d="M552.9,503.7l4.6,.7 2.2-4.5-4.6-.6z" fill="#ee6727"/><path d="M569.5,493.6l4.8-.3 2-4.6-4.8,.3z" fill="#ee6128"/><path d="M547.3,506.4l4.6,1 2.2-4.4-4.5-.9z" fill="#ee6a26"/><path d="M505.7,464.4l4.5,6.8 2.5-3.2-4.4-6.8z" fill="#ee8b1b"/><path d="M575.1,489.6l4.8-.7 2-4.6-4.8,.6z" fill="#ee6028"/><path d="M525.4,497.5l4.4,5 2.5-3.5-4.4-4.9z" fill="#ee851f"/><path d="M521.8,493.1l4.4,5.3 2.6-3.4-4.5-5.3z" fill="#ee861e"/><path d="M541.8,508.8l4.5,1.4 2.3-4.4-4.5-1.3z" fill="#ee6d26"/><path d="M496.9,442.7l4.4,7.8 2.6-3.1-4.4-7.8z" fill="#ee8c1a"/><path d="M529,501.6l4.5,4.7 2.4-3.5-4.4-4.6z" fill="#ee8420"/><path d="M518.2,488.5l4.4,5.5 2.6-3.3-4.5-5.6z" fill="#ee871e"/><path d="M532.6,505.5l4.5,4.3 2.4-3.6-4.4-4.2z" fill="#ee8220"/><path d="M514.5,483.5l4.5,5.9 2.6-3.3-4.5-5.8z" fill="#ee881d"/><path d="M502.1,458.3l4.4,7.2 2.6-3.2-4.4-7.1z" fill="#ee8b1b"/><path d="M580.7,485.2l4.9-1 1.9-4.6-4.9,1z" fill="#ee5f28"/><path d="M510.9,478.3l4.5,6.2 2.5-3.2-4.4-6.2z" fill="#ee891c"/><path d="M536.2,509.2l4.5,3.3 2.4-4.1-4.5-2.9z" fill="#ee7a23"/><path d="M493.1,435.8l4.5,8.1 2.6-3.1-4.4-8z" fill="#ee8d19"/><path d="M556.6,504.1l4.6,.4 2.2-4.5-4.7-.3z" fill="#ee6426"/><path d="M507.3,472.9l4.4,6.5 2.6-3.2-4.4-6.5z" fill="#ee8a1c"/><path d="M562.1,500.8l4.7,0 2.1-4.5-4.7,0z" fill="#ee6227"/><path d="M498.4,452l4.5,7.5 2.6-3.1-4.5-7.5z" fill="#ee8c1a"/><path d="M551,507.1l4.6,.7 2.2-4.4-4.6-.7z" fill="#ee6726"/><path d="M567.7,497.1l4.8-.3 2-4.5-4.7,.3z" fill="#ee6027"/><path d="M545.4,509.8l4.6,1.1 2.3-4.4-4.6-1z" fill="#ee6a26"/><path d="M573.3,493.1l4.8-.6 2-4.6-4.8,.7z" fill="#ee5e27"/><path d="M503.6,467.1l4.5,6.8 2.6-3.1-4.5-6.9z" fill="#ee8b1b"/><path d="M539.8,512.1l4.6,1.5 2.3-4.3-4.5-1.4z" fill="#ee6e26"/><path d="M523.4,500.4l4.5,5 2.5-3.5-4.5-5z" fill="#ee851f"/><path d="M519.7,495.9l4.5,5.3 2.6-3.3-4.5-5.3z" fill="#ee861e"/><path d="M578.9,488.8l4.9-.9 1.9-4.7-4.9,1z" fill="#ee5d27"/><path d="M494.7,445.4l4.5,7.8 2.6-3.1-4.5-7.8z" fill="#ee8c1a"/><path d="M527,504.5l4.5,4.7 2.5-3.5-4.5-4.7z" fill="#ee841f"/><path d="M516.1,491.3l4.5,5.6 2.5-3.4-4.4-5.5z" fill="#ee871d"/><path d="M530.6,508.4l4.5,4.3 2.5-3.5-4.5-4.3z" fill="#ee8220"/><path d="M512.5,486.3l4.4,5.9 2.6-3.3-4.4-5.8z" fill="#ee881d"/><path d="M499.9,461l4.5,7.2 2.6-3.1-4.4-7.2z" fill="#ee8b1a"/><path d="M584.6,484.2l4.9-1.3 1.9-4.7-5,1.3z" fill="#ee5c28"/><path d="M508.8,481.1l4.5,6.2 2.6-3.2-4.5-6.2z" fill="#ee891c"/><path d="M534.2,512l4.6,3.7 2.4-4-4.5-3.3z" fill="#ee7b23"/><path d="M554.7,507.6l4.7,.4 2.1-4.5-4.6-.4z" fill="#ee6426"/><path d="M560.3,504.3l4.7,0 2.1-4.5-4.7,0z" fill="#ee6126"/><path d="M549.1,510.6l4.6,.7 2.3-4.4-4.7-.7z" fill="#ee6726"/><path d="M565.9,500.7l4.8-.3 2-4.6-4.7,.3z" fill="#ee5f26"/><path d="M491,438.4l4.4,8.2 2.7-3.1-4.5-8.1z" fill="#ee8d19"/><path d="M496.2,454.7l4.5,7.5 2.6-3.1-4.4-7.5z" fill="#ee8c1a"/><path d="M505.2,475.6l4.4,6.5 2.6-3.2-4.4-6.5z" fill="#ee8a1b"/><path d="M543.5,513.2l4.6,1.1 2.3-4.4-4.6-1z" fill="#ee6a26"/><path d="M571.5,496.7l4.8-.6 2-4.6-4.8,.6z" fill="#ee5d26"/><path d="M501.5,469.8l4.5,6.9 2.6-3.2-4.5-6.8z" fill="#ee8b1b"/><path d="M577.2,492.4l4.9-.9 1.9-4.6-4.9,.9z" fill="#ee5b26"/><path d="M537.9,515.3l4.6,1.6 2.3-4.2-4.5-1.5z" fill="#ee7025"/><path d="M492.5,448l4.5,7.8 2.6-3-4.4-7.8z" fill="#ee8c19"/><path d="M521.3,503.2l4.5,5 2.6-3.4-4.5-5z" fill="#ee851e"/><path d="M517.7,498.7l4.5,5.4 2.5-3.4-4.4-5.3z" fill="#ee861e"/><path d="M525,507.3l4.5,4.8 2.5-3.5-4.5-4.7z" fill="#ee831f"/><path d="M514,494l4.5,5.7 2.6-3.3-4.5-5.6z" fill="#ee871d"/><path d="M582.8,487.8l5-1.2 1.9-4.7-5,1.3z" fill="#ee5a27"/><path d="M528.6,511.3l4.5,4.3 2.5-3.5-4.5-4.3z" fill="#ee8220"/><path d="M497.8,463.7l4.5,7.2 2.6-3.1-4.5-7.2z" fill="#ee8b1a"/><path d="M510.4,489.1l4.5,5.9 2.6-3.3-4.5-5.9z" fill="#ee881c"/><path d="M558.4,507.8l4.8,0 2.1-4.4-4.7-.1z" fill="#ed6025"/><path d="M552.8,511l4.7,.4 2.2-4.4-4.7-.4z" fill="#ed6325"/><path d="M506.7,483.8l4.5,6.3 2.6-3.2-4.5-6.3z" fill="#ee891c"/><path d="M532.2,514.9l4.6,3.9 2.5-3.8-4.6-3.7z" fill="#ee7d21"/><path d="M564.1,504.2l4.7-.3 2.1-4.5-4.8,.3z" fill="#ed5d25"/><path d="M547.2,514l4.6,.7 2.3-4.4-4.6-.7z" fill="#ee6625"/><path d="M588.5,482.9l5.1-1.6 1.8-4.7-5.1,1.7z" fill="#ee5927"/><path d="M569.7,500.3l4.9-.6 2-4.6-4.9,.6z" fill="#ed5b25"/><path d="M488.7,441l4.5,8.2 2.7-3-4.5-8.1z" fill="#ee8d19"/><path d="M541.6,516.6l4.6,1.1 2.3-4.4-4.6-1z" fill="#ee6a25"/><path d="M494,457.3l4.6,7.5 2.6-3-4.5-7.5z" fill="#ee8c1a"/><path d="M503,478.3l4.5,6.6 2.7-3.2-4.5-6.6z" fill="#ee8a1b"/><path d="M575.4,496l4.9-.9 1.9-4.6-4.9,1z" fill="#ee5a25"/><path d="M535.9,518.3l4.6,2 2.4-4.3-4.6-1.6z" fill="#ee7224"/><path d="M499.3,472.5l4.5,6.9 2.7-3.2-4.5-6.8z" fill="#ee8b1b"/><path d="M581.1,491.5l4.9-1.3 1.9-4.6-5,1.3z" fill="#ee5826"/><path d="M490.3,450.6l4.5,7.9 2.7-3-4.5-7.9z" fill="#ee8c19"/><path d="M519.3,506l4.5,5 2.6-3.4-4.5-5z" fill="#ee851e"/><path d="M515.6,501.5l4.5,5.4 2.6-3.4-4.5-5.3z" fill="#ee861d"/><path d="M522.9,510.2l4.6,4.7 2.5-3.4-4.5-4.7z" fill="#ee831f"/><path d="M511.9,496.8l4.6,5.6 2.6-3.2-4.5-5.7z" fill="#ee871d"/><path d="M495.6,466.3l4.5,7.3 2.7-3.1-4.5-7.2z" fill="#ee8b1a"/><path d="M526.6,514.1l4.5,4.4 2.6-3.5-4.6-4.4z" fill="#ee821f"/><path d="M556.6,511.2l4.7,.1 2.2-4.4-4.8-.1z" fill="#ec5f24"/><path d="M508.3,491.8l4.5,6 2.6-3.3-4.5-5.9z" fill="#ee881c"/><path d="M550.9,514.4l4.7,.5 2.2-4.4-4.7-.5z" fill="#ed6225"/><path d="M562.2,507.7l4.8-.3 2.1-4.5-4.8,.3z" fill="#ec5c24"/><path d="M586.8,486.6l5-1.7 1.9-4.6-5.1,1.7z" fill="#ee5826"/><path d="M545.3,517.4l4.6,.7 2.3-4.4-4.7-.7z" fill="#ee6625"/><path d="M567.9,503.8l4.8-.6 2.1-4.5-4.9,.6z" fill="#ec5924"/><path d="M530.2,517.8l4.6,4 2.5-3.7-4.5-3.9z" fill="#ee7f20"/><path d="M504.6,486.5l4.5,6.3 2.6-3.2-4.5-6.3z" fill="#ee891b"/><path d="M539.6,519.9l4.6,1.1 2.4-4.3-4.6-1.1z" fill="#ee6a25"/><path d="M486.5,443.6l4.5,8.2 2.7-2.9-4.5-8.2z" fill="#ee8d18"/><path d="M573.6,499.6l4.9-.9 1.9-4.6-4.9,.9z" fill="#ed5824"/><path d="M491.8,459.9l4.6,7.6 2.6-3-4.5-7.6z" fill="#ee8c19"/><path d="M500.9,480.9l4.5,6.7 2.6-3.2-4.5-6.6z" fill="#ee8a1b"/><path d="M592.5,481.3l5.2-2 1.7-4.6-5.1,2z" fill="#ee5727"/><path d="M533.9,521.2l4.6,2.4 2.5-4.2-4.6-2z" fill="#ee7423"/><path d="M579.3,495.1l5-1.3 1.9-4.6-5,1.3z" fill="#ee5725"/><path d="M497.1,475.1l4.6,6.9 2.6-3.1-4.5-6.9z" fill="#ee8b1a"/><path d="M488,453.2l4.6,7.9 2.7-3-4.5-7.8z" fill="#ee8c19"/><path d="M517.2,508.7l4.5,5.1 2.6-3.3-4.5-5.1z" fill="#ee851e"/><path d="M513.5,504.3l4.5,5.3 2.7-3.3-4.6-5.3z" fill="#ee861d"/><path d="M585,490.2l5.1-1.6 1.8-4.6-5,1.6z" fill="#ee5625"/><path d="M554.7,514.6l4.7,.2 2.2-4.5-4.7-.1z" fill="#ec5e24"/><path d="M520.9,513l4.5,4.7 2.6-3.4-4.5-4.7z" fill="#ee831e"/><path d="M509.8,499.5l4.6,5.7 2.6-3.3-4.5-5.6z" fill="#ee871c"/><path d="M549,517.8l4.7,.5 2.2-4.4-4.7-.4z" fill="#ec6224"/><path d="M560.4,511.1l4.8-.2 2.1-4.5-4.8,.3z" fill="#eb5b23"/><path d="M493.4,469l4.5,7.2 2.7-3-4.5-7.3z" fill="#ee8b1a"/><path d="M524.5,516.9l4.6,4.5 2.6-3.5-4.6-4.4z" fill="#ee821f"/><path d="M543.3,520.7l4.7,.8 2.3-4.3-4.7-.8z" fill="#ee6625"/><path d="M506.1,494.5l4.6,6 2.6-3.2-4.5-6z" fill="#ee881c"/><path d="M566.1,507.3l4.8-.5 2-4.6-4.8,.6z" fill="#eb5823"/><path d="M537.6,523.2l4.7,1.2 2.3-4.3-4.6-1.1z" fill="#ee6a25"/><path d="M528.2,520.6l4.6,4.1 2.5-3.6-4.5-4z" fill="#ee7f20"/><path d="M502.4,489.2l4.5,6.3 2.7-3.2-4.5-6.2z" fill="#ee891b"/><path d="M571.8,503.1l4.9-.8 2-4.6-5,.9z" fill="#eb5623"/><path d="M590.8,485l5.2-2 1.7-4.6-5.1,2z" fill="#ee5526"/><path d="M484.2,446.2l4.6,8.2 2.7-2.9-4.5-8.2z" fill="#ee8d18"/><path d="M489.6,462.5l4.5,7.6 2.8-3-4.6-7.5z" fill="#ee8c19"/><path d="M498.7,483.6l4.5,6.6 2.7-3.1-4.5-6.6z" fill="#ee8a1b"/><path d="M577.5,498.7l5-1.3 1.9-4.6-5,1.3z" fill="#ec5523"/><path d="M531.9,524.1l4.6,2.8 2.5-4.1-4.6-2.4z" fill="#ee7623"/><path d="M494.9,477.7l4.6,7 2.7-3.1-4.6-6.9z" fill="#ee8a1a"/><path d="M596.6,479.5l5.3-2.4 1.7-4.6-5.3,2.4z" fill="#ee5526"/><path d="M583.3,493.8l5-1.6 1.9-4.6-5.1,1.7z" fill="#ee5424"/><path d="M552.8,518.1l4.7,.1 2.2-4.4-4.7-.1z" fill="#eb5d23"/><path d="M485.8,455.8l4.6,7.9 2.7-3-4.6-7.9z" fill="#ee8c18"/><path d="M558.5,514.6l4.8-.2 2.1-4.5-4.8,.3z" fill="#ea5922"/><path d="M547.1,521.2l4.7,.5 2.2-4.4-4.7-.4z" fill="#ec6124"/><path d="M515.1,511.5l4.6,5.1 2.6-3.3-4.6-5.1z" fill="#ee851d"/><path d="M511.4,507l4.5,5.4 2.7-3.3-4.6-5.4z" fill="#ee861d"/><path d="M564.2,510.8l4.9-.5 2-4.5-4.8,.5z" fill="#ea5622"/><path d="M518.8,515.7l4.6,4.8 2.6-3.3-4.6-4.8z" fill="#ee831e"/><path d="M541.4,524.1l4.7,.8 2.3-4.4-4.7-.7z" fill="#ed6624"/><path d="M507.7,502.2l4.5,5.7 2.7-3.2-4.6-5.7z" fill="#ee871c"/><path d="M491.1,471.5l4.6,7.3 2.7-3-4.5-7.2z" fill="#ee8b19"/><path d="M522.5,519.7l4.6,4.5 2.5-3.4-4.5-4.5z" fill="#ee821e"/><path d="M503.9,497.2l4.6,6 2.7-3.2-4.6-6z" fill="#ee881b"/><path d="M569.9,506.7l5-.9 2-4.5-5,.9z" fill="#ea5522"/><path d="M589.1,488.7l5.1-2 1.8-4.6-5.2,2z" fill="#ee5425"/><path d="M535.7,526.5l4.6,1.2 2.4-4.3-4.7-1.1z" fill="#ee6a24"/><path d="M526.2,523.4l4.6,4.2 2.5-3.5-4.6-4.1z" fill="#ee801f"/><path d="M500.2,491.8l4.6,6.4 2.7-3.2-4.6-6.3z" fill="#ee891b"/><path d="M575.7,502.2l5-1.2 1.9-4.5-5,1.2z" fill="#eb5422"/><path d="M481.9,448.7l4.6,8.3 2.8-2.9-4.6-8.3z" fill="#ee8d18"/><path d="M487.3,465.1l4.6,7.6 2.7-3-4.5-7.6z" fill="#ee8c19"/><path d="M496.4,486.2l4.6,6.7 2.7-3.1-4.5-6.6z" fill="#ee8a1a"/><path d="M529.9,526.9l4.6,3.2 2.5-4-4.6-2.8z" fill="#ee7722"/><path d="M594.9,483.2l5.2-2.4 1.8-4.6-5.3,2.4z" fill="#ee5425"/><path d="M581.5,497.4l5.1-1.5 1.8-4.6-5.1,1.6z" fill="#ec5323"/><path d="M550.9,521.5l4.7,.1 2.2-4.4-4.7-.1z" fill="#ea5c22"/><path d="M556.6,518l4.8-.1 2.1-4.5-4.8,.2z" fill="#e95821"/><path d="M492.7,480.3l4.5,7 2.8-3-4.6-7z" fill="#ee8a1a"/><path d="M545.1,524.6l4.8,.5 2.2-4.4-4.7-.4z" fill="#ec6123"/><path d="M562.3,514.3l4.9-.5 2.1-4.5-4.9,.5z" fill="#e95521"/><path d="M483.5,458.3l4.6,8 2.7-3-4.5-7.9z" fill="#ee8c18"/><path d="M539.4,527.4l4.7,.8 2.3-4.3-4.7-.8z" fill="#ee6624"/><path d="M587.3,492.3l5.2-1.9 1.7-4.6-5.1,1.9z" fill="#ee5224"/><path d="M513,514.2l4.5,5.2 2.7-3.3-4.6-5.2z" fill="#ee851d"/><path d="M509.2,509.7l4.6,5.4 2.7-3.2-4.6-5.4z" fill="#ee861c"/><path d="M568.1,510.2l4.9-.9 2-4.5-4.9,.9z" fill="#e95321"/><path d="M516.7,518.5l4.6,4.8 2.6-3.3-4.6-4.8z" fill="#ee831e"/><path d="M505.5,504.9l4.6,5.7 2.7-3.2-4.6-5.7z" fill="#ee871c"/><path d="M600.8,477.3l5.3-2.8 1.7-4.6-5.4,2.8z" fill="#ee5426"/><path d="M488.9,474.1l4.6,7.3 2.7-3-4.6-7.2z" fill="#ee8b19"/><path d="M533.6,529.7l4.7,1.3 2.4-4.2-4.6-1.2z" fill="#ee6b24"/><path d="M520.4,522.5l4.6,4.5 2.6-3.4-4.6-4.5z" fill="#ee821e"/><path d="M501.7,499.8l4.6,6.1 2.7-3.2-4.5-6z" fill="#ee881b"/><path d="M573.9,505.8l5-1.2 1.9-4.6-5,1.3z" fill="#ea5221"/><path d="M524.1,526.2l4.6,4.2 2.6-3.5-4.6-4.1z" fill="#ee801f"/><path d="M498,494.5l4.6,6.3 2.7-3.1-4.6-6.3z" fill="#ee891b"/><path d="M479.6,451.2l4.6,8.3 2.8-2.9-4.6-8.2z" fill="#ee8c18"/><path d="M593.1,486.8l5.3-2.3 1.7-4.6-5.2,2.4z" fill="#ee5224"/><path d="M579.7,501l5.1-1.5 1.8-4.6-5,1.6z" fill="#eb5122"/><path d="M485,467.6l4.6,7.7 2.8-3-4.6-7.6z" fill="#ee8c19"/><path d="M494.2,488.8l4.6,6.7 2.7-3-4.5-6.7z" fill="#ee8a1a"/><path d="M527.8,529.7l4.7,3.5 2.5-3.8-4.6-3.2z" fill="#ee7921"/><path d="M548.9,524.8l4.8,.2 2.2-4.3-4.7-.2z" fill="#ea5c22"/><path d="M554.7,521.4l4.8-.1 2.2-4.4-4.9,.1z" fill="#e85721"/><path d="M543.2,527.9l4.7,.5 2.3-4.3-4.7-.5z" fill="#ec6123"/><path d="M560.4,517.7l4.9-.5 2.1-4.4-4.9,.5z" fill="#e85420"/><path d="M490.4,482.9l4.6,7 2.8-3-4.6-7z" fill="#ee8a19"/><path d="M585.5,495.9l5.2-1.9 1.8-4.6-5.2,2z" fill="#ed5123"/><path d="M537.4,530.7l4.7,.8 2.3-4.2-4.6-.9z" fill="#ee6624"/><path d="M599.1,481l5.3-2.7 1.7-4.6-5.4,2.7z" fill="#ee5225"/><path d="M566.2,513.7l5-.9 2-4.4-4.9,.8z" fill="#e85120"/><path d="M481.2,460.8l4.6,8 2.8-2.9-4.6-8z" fill="#ee8c18"/><path d="M510.8,516.9l4.6,5.2 2.7-3.3-4.6-5.1z" fill="#ee841d"/><path d="M507,512.4l4.7,5.5 2.6-3.3-4.5-5.4z" fill="#ee861c"/><path d="M572,509.3l5.1-1.2 1.9-4.5-5,1.2z" fill="#e95020"/><path d="M514.5,521.2l4.7,4.9 2.6-3.3-4.6-4.9z" fill="#ee831d"/><path d="M531.6,532.8l4.7,1.5 2.4-4.2-4.7-1.3z" fill="#ee6d23"/><path d="M503.3,507.5l4.6,5.8 2.7-3.2-4.6-5.7z" fill="#ee871b"/><path d="M486.6,476.6l4.6,7.4 2.8-3-4.6-7.3z" fill="#ee8b19"/><path d="M518.3,525.3l4.6,4.5 2.6-3.4-4.6-4.5z" fill="#ee821e"/><path d="M499.5,502.4l4.6,6.1 2.8-3.1-4.6-6.1z" fill="#ee881b"/><path d="M591.4,490.5l5.3-2.3 1.7-4.6-5.3,2.3z" fill="#ee5123"/><path d="M577.9,504.6l5.1-1.6 1.9-4.5-5.1,1.6z" fill="#ea5021"/><path d="M522,529l4.7,4.3 2.6-3.5-4.7-4.2z" fill="#ee801e"/><path d="M495.7,497.1l4.6,6.4 2.8-3.1-4.6-6.4z" fill="#ee891a"/><path d="M477.3,453.7l4.6,8.3 2.8-2.8-4.6-8.4z" fill="#ee8c17"/><path d="M605,474.8l5.5-3.2 1.6-4.5-5.5,3.2z" fill="#ee5226"/><path d="M482.7,470.1l4.6,7.7 2.8-2.9-4.6-7.7z" fill="#ee8b18"/><path d="M491.9,491.4l4.6,6.7 2.8-3-4.6-6.7z" fill="#ee8a1a"/><path d="M525.8,532.5l4.6,3.8 2.6-3.8-4.7-3.5z" fill="#ee7b20"/><path d="M552.7,524.8l4.9-.1 2.2-4.4-4.9,.2z" fill="#e85620"/><path d="M547,528.2l4.7,.2 2.3-4.3-4.8-.2z" fill="#ea5b21"/><path d="M558.5,521.1l4.9-.4 2.2-4.4-4.9,.4z" fill="#e7521f"/><path d="M583.7,499.5l5.2-1.9 1.8-4.5-5.2,1.9z" fill="#eb4f22"/><path d="M541.2,531.3l4.7,.5 2.3-4.3-4.7-.5z" fill="#ec6022"/><path d="M597.3,484.7l5.4-2.7 1.7-4.6-5.4,2.8z" fill="#ee5124"/><path d="M564.4,517.1l4.9-.8 2.1-4.4-5,.8z" fill="#e6501f"/><path d="M535.4,534l4.7,.9 2.4-4.3-4.7-.9z" fill="#ee6624"/><path d="M488.1,485.4l4.6,7.1 2.8-3-4.6-7z" fill="#ee8a19"/><path d="M478.8,463.3l4.7,8 2.8-2.9-4.7-8z" fill="#ee8c18"/><path d="M570.2,512.8l5-1.2 2-4.5-5,1.2z" fill="#e84f1f"/><path d="M589.6,494.1l5.3-2.3 1.8-4.5-5.3,2.3z" fill="#ed4f22"/><path d="M529.5,535.8l4.7,1.8 2.5-4.2-4.7-1.5z" fill="#ee6f23"/><path d="M508.6,519.6l4.6,5.2 2.7-3.2-4.6-5.2z" fill="#ee841c"/><path d="M504.8,515l4.7,5.5 2.7-3.2-4.6-5.4z" fill="#ee861c"/><path d="M512.4,523.9l4.6,4.9 2.7-3.3-4.6-4.8z" fill="#ee831d"/><path d="M501.1,510.2l4.6,5.8 2.7-3.2-4.6-5.7z" fill="#ee871b"/><path d="M484.2,479.2l4.7,7.3 2.8-2.9-4.6-7.3z" fill="#ee8b19"/><path d="M576,508.1l5.1-1.5 2-4.5-5.2,1.5z" fill="#e94e20"/><path d="M603.3,478.5l5.5-3.1 1.6-4.5-5.5,3.1z" fill="#ee5125"/><path d="M516.1,528l4.7,4.6 2.6-3.4-4.6-4.5z" fill="#ee811d"/><path d="M497.3,505l4.6,6.2 2.7-3.1-4.6-6.1z" fill="#ee881b"/><path d="M519.9,531.8l4.7,4.3 2.6-3.5-4.7-4.2z" fill="#ee801e"/><path d="M493.5,499.6l4.6,6.5 2.8-3.1-4.6-6.4z" fill="#ee891a"/><path d="M474.9,456.1l4.7,8.4 2.8-2.8-4.7-8.4z" fill="#ee8c17"/><path d="M595.6,488.4l5.3-2.7 1.7-4.6-5.3,2.8z" fill="#ee4f23"/><path d="M550.8,528.2l4.8-.1 2.3-4.4-4.9,.2z" fill="#e7561f"/><path d="M581.9,503.1l5.2-1.9 1.9-4.5-5.2,1.9z" fill="#ea4e21"/><path d="M545,531.6l4.8,.2 2.3-4.3-4.8-.3z" fill="#e95b20"/><path d="M556.6,524.6l4.9-.5 2.2-4.4-4.9,.5z" fill="#e6511e"/><path d="M480.3,472.6l4.7,7.7 2.8-2.9-4.6-7.7z" fill="#ee8b18"/><path d="M539.1,534.6l4.8,.5 2.4-4.3-4.8-.5z" fill="#ec6022"/><path d="M523.7,535.3l4.6,3.9 2.6-3.6-4.6-3.7z" fill="#ee7c1f"/><path d="M489.6,493.9l4.7,6.8 2.8-3-4.7-6.7z" fill="#ee8919"/><path d="M562.5,520.6l4.9-.8 2.1-4.4-5,.8z" fill="#e54e1e"/><path d="M533.3,537.2l4.7,.9 2.5-4.2-4.8-.9z" fill="#ee6623"/><path d="M609.3,472l5.6-3.6 1.6-4.5-5.6,3.6z" fill="#ee5125"/><path d="M568.3,516.3l5.1-1.2 2-4.4-5.1,1.1z" fill="#e64d1e"/><path d="M587.8,497.7l5.3-2.3 1.8-4.5-5.3,2.3z" fill="#ec4e21"/><path d="M485.8,487.9l4.6,7.1 2.8-2.9-4.6-7.1z" fill="#ee8a19"/><path d="M476.4,465.7l4.7,8.1 2.8-2.9-4.6-8z" fill="#ee8c17"/><path d="M601.6,482.2l5.4-3.1 1.7-4.5-5.5,3.2z" fill="#ee4f24"/><path d="M527.4,538.6l4.8,2.2 2.5-4.1-4.7-1.8z" fill="#ee7122"/><path d="M574.2,511.6l5.1-1.5 1.9-4.5-5.1,1.6z" fill="#e84d1f"/><path d="M506.4,522.3l4.7,5.2 2.7-3.2-4.7-5.2z" fill="#ee841c"/><path d="M502.6,517.7l4.7,5.5 2.7-3.2-4.6-5.5z" fill="#ee861b"/><path d="M510.2,526.6l4.6,5 2.7-3.3-4.6-4.9z" fill="#ee831c"/><path d="M498.8,512.8l4.7,5.8 2.7-3.1-4.6-5.8z" fill="#ee871b"/><path d="M481.9,481.6l4.6,7.5 2.9-2.9-4.7-7.4z" fill="#ee8b18"/><path d="M514,530.7l4.6,4.6 2.7-3.3-4.6-4.6z" fill="#ee811d"/><path d="M495,507.6l4.6,6.2 2.8-3.1-4.6-6.1z" fill="#ee881a"/><path d="M593.8,492l5.4-2.7 1.7-4.5-5.4,2.7z" fill="#ee4e22"/><path d="M580.1,506.6l5.2-1.8 1.9-4.5-5.2,1.9z" fill="#e94c20"/><path d="M548.8,531.6l4.9-.1 2.2-4.3-4.8,.1z" fill="#e7551f"/><path d="M517.7,534.5l4.7,4.3 2.7-3.4-4.7-4.2z" fill="#ee801e"/><path d="M543,534.9l4.8,.2 2.3-4.3-4.8-.2z" fill="#e95a20"/><path d="M472.5,458.5l4.7,8.4 2.8-2.8-4.6-8.3z" fill="#ee8c17"/><path d="M554.7,528l4.9-.5 2.2-4.3-5,.4z" fill="#e5501d"/><path d="M491.1,502.2l4.7,6.5 2.8-3.1-4.6-6.4z" fill="#ee891a"/><path d="M537.1,537.9l4.8,.5 2.4-4.2-4.8-.6z" fill="#ec6022"/><path d="M560.5,524l5-.8 2.1-4.4-5,.8z" fill="#e44d1d"/><path d="M607.6,475.8l5.6-3.6 1.6-4.5-5.6,3.6z" fill="#ee5024"/><path d="M478,475l4.6,7.8 2.9-2.9-4.7-7.7z" fill="#ee8b18"/><path d="M521.5,538.1l4.7,3.9 2.7-3.5-4.7-3.8z" fill="#ee7d1e"/><path d="M487.3,496.5l4.7,6.8 2.8-3-4.7-6.8z" fill="#ee8919"/><path d="M531.2,540.5l4.8,.9 2.4-4.2-4.7-.9z" fill="#ee6723"/><path d="M566.4,519.7l5.1-1.1 2-4.4-5,1.1z" fill="#e54c1d"/><path d="M586,501.3l5.3-2.3 1.8-4.4-5.3,2.2z" fill="#eb4c20"/><path d="M599.8,485.9l5.5-3.1 1.6-4.5-5.4,3.2z" fill="#ee4e23"/><path d="M483.4,490.4l4.7,7.2 2.8-3-4.6-7.1z" fill="#ee8a19"/><path d="M572.3,515.1l5.2-1.5 1.9-4.4-5.1,1.5z" fill="#e74b1e"/><path d="M474,468.1l4.7,8.1 2.9-2.8-4.7-8z" fill="#ee8c17"/><path d="M525.3,541.4l4.8,2.6 2.5-4-4.7-2.2z" fill="#ee7321"/><path d="M592,495.6l5.4-2.6 1.7-4.5-5.3,2.7z" fill="#ec4c21"/><path d="M504.2,524.9l4.6,5.3 2.8-3.2-4.7-5.2z" fill="#ee841c"/><path d="M500.3,520.3l4.7,5.6 2.8-3.2-4.7-5.5z" fill="#ee851b"/><path d="M613.7,468.9l5.7-4 1.5-4.5-5.6,4z" fill="#ea5025"/><path d="M508,529.3l4.6,5 2.8-3.3-4.7-4.9z" fill="#ee831c"/><path d="M578.3,510.2l5.2-1.9 1.9-4.4-5.3,1.8z" fill="#e84b1f"/><path d="M496.5,515.4l4.7,5.9 2.8-3.1-4.7-5.9z" fill="#ee871a"/><path d="M479.5,484.1l4.7,7.5 2.8-2.9-4.6-7.4z" fill="#ee8b18"/><path d="M511.8,533.4l4.7,4.7 2.7-3.4-4.7-4.6z" fill="#ee811d"/><path d="M546.8,534.9l4.9,0 2.3-4.4-4.9,.1z" fill="#e6541e"/><path d="M492.7,510.2l4.6,6.2 2.9-3.1-4.7-6.1z" fill="#ee881a"/><path d="M552.7,531.3l5-.4 2.1-4.3-4.9,.4z" fill="#e44f1d"/><path d="M605.9,479.5l5.6-3.6 1.6-4.4-5.6,3.5z" fill="#ed4e24"/><path d="M540.9,538.2l4.9,.3 2.3-4.3-4.8-.3z" fill="#e95a1f"/><path d="M558.6,527.4l5-.7 2.1-4.4-5,.7z" fill="#e34b1c"/><path d="M515.6,537.2l4.7,4.4 2.7-3.4-4.7-4.3z" fill="#ee7f1d"/><path d="M470,460.9l4.7,8.4 2.9-2.7-4.7-8.4z" fill="#ee8c17"/><path d="M535.1,541.1l4.8,.6 2.3-4.2-4.7-.6z" fill="#ec6021"/><path d="M488.8,504.7l4.7,6.5 2.8-3-4.6-6.5z" fill="#ee8819"/><path d="M584.2,504.9l5.3-2.3 1.8-4.4-5.3,2.2z" fill="#ea4b1f"/><path d="M564.5,523.2l5.1-1.1 2-4.4-5,1.1z" fill="#e44a1c"/><path d="M475.5,477.5l4.8,7.8 2.8-2.9-4.6-7.7z" fill="#ee8b17"/><path d="M598.1,489.6l5.5-3.1 1.6-4.5-5.5,3.1z" fill="#ee4d22"/><path d="M529.2,543.6l4.7,1.1 2.5-4.2-4.8-1z" fill="#ee6723"/><path d="M519.4,540.8l4.7,4 2.7-3.4-4.7-4z" fill="#ee7d1e"/><path d="M484.9,499l4.7,6.8 2.9-3-4.7-6.8z" fill="#ee8919"/><path d="M570.5,518.6l5.1-1.5 2-4.4-5.2,1.5z" fill="#e54a1d"/><path d="M481,492.9l4.7,7.2 2.9-2.9-4.7-7.2z" fill="#ee8a18"/><path d="M590.2,499.2l5.4-2.6 1.8-4.5-5.4,2.7z" fill="#eb4b20"/><path d="M612,472.6l5.7-4 1.6-4.4-5.7,4z" fill="#e94f24"/><path d="M523.2,544.2l4.7,3 2.6-4-4.7-2.6z" fill="#ee7421"/><path d="M471.5,470.5l4.8,8.2 2.9-2.8-4.7-8.1z" fill="#ee8c17"/><path d="M576.4,513.7l5.2-1.8 1.9-4.5-5.2,1.9z" fill="#e7491e"/><path d="M604.2,483.2l5.5-3.6 1.7-4.4-5.6,3.6z" fill="#ec4d23"/><path d="M501.9,527.6l4.7,5.2 2.8-3.1-4.7-5.3z" fill="#ee841b"/><path d="M498,522.9l4.7,5.6 2.8-3.1-4.6-5.6z" fill="#ee851b"/><path d="M544.8,538.3l4.9-.1 2.3-4.3-4.9,.1z" fill="#e6541d"/><path d="M505.7,532l4.7,4.9 2.8-3.2-4.7-5z" fill="#ee831c"/><path d="M550.7,534.7l5-.4 2.2-4.3-4.9,.4z" fill="#e44e1c"/><path d="M494.2,517.9l4.7,6 2.8-3.1-4.7-5.9z" fill="#ee861a"/><path d="M477.1,486.5l4.7,7.5 2.9-2.8-4.7-7.5z" fill="#ee8b18"/><path d="M538.9,541.5l4.8,.3 2.4-4.3-4.8-.3z" fill="#e95a1f"/><path d="M556.7,530.8l5-.7 2.1-4.4-5,.8z" fill="#e24a1b"/><path d="M509.5,536.1l4.8,4.7 2.7-3.3-4.7-4.7z" fill="#ee811c"/><path d="M490.3,512.7l4.7,6.2 2.9-3-4.7-6.2z" fill="#ee871a"/><path d="M582.4,508.4l5.3-2.2 1.8-4.4-5.3,2.2z" fill="#e9491e"/><path d="M533,544.4l4.8,.6 2.4-4.2-4.8-.6z" fill="#ec6021"/><path d="M596.3,493.2l5.5-3 1.7-4.5-5.5,3.1z" fill="#ed4b21"/><path d="M562.6,526.6l5.1-1.1 2-4.4-5,1.1z" fill="#e3491b"/><path d="M467.5,463.2l4.8,8.5 2.9-2.7-4.7-8.4z" fill="#ee8c16"/><path d="M513.4,540l4.7,4.3 2.7-3.3-4.7-4.4z" fill="#ee7f1d"/><path d="M486.4,507.2l4.7,6.6 2.9-3-4.7-6.5z" fill="#ee8819"/><path d="M527,546.8l4.8,1.1 2.5-4.1-4.7-1.1z" fill="#ee6822"/><path d="M473.1,479.9l4.7,7.8 3-2.8-4.8-7.8z" fill="#ee8b17"/><path d="M618.2,465.4l5.8-4.4 1.5-4.5-5.7,4.5z" fill="#e55025"/><path d="M568.6,522.1l5.1-1.5 2-4.4-5.1,1.5z" fill="#e4481c"/><path d="M517.2,543.6l4.7,4 2.7-3.4-4.7-4z" fill="#ee7d1d"/><path d="M482.5,501.4l4.7,6.9 2.9-2.9-4.7-6.9z" fill="#ee8918"/><path d="M610.3,476.4l5.7-4 1.6-4.4-5.7,4z" fill="#e84e23"/><path d="M588.4,502.8l5.4-2.6 1.8-4.4-5.4,2.6z" fill="#ea491f"/><path d="M574.5,517.2l5.3-1.8 1.9-4.4-5.2,1.8z" fill="#e6481d"/><path d="M602.4,486.9l5.6-3.6 1.6-4.4-5.6,3.6z" fill="#eb4c22"/><path d="M478.6,495.3l4.7,7.2 2.9-2.8-4.7-7.2z" fill="#ee8a18"/><path d="M521,546.9l4.8,3.4 2.6-3.9-4.7-3z" fill="#ee7620"/><path d="M469.1,472.9l4.7,8.2 3-2.8-4.8-8.1z" fill="#ee8c17"/><path d="M542.8,541.6l4.9-.1 2.3-4.2-4.9,0z" fill="#e5531d"/><path d="M548.7,538l5-.3 2.2-4.3-4.9,.3z" fill="#e34d1b"/><path d="M536.8,544.8l4.9,.3 2.4-4.3-4.9-.3z" fill="#e8591f"/><path d="M554.7,534.2l5-.7 2.2-4.4-5,.8z" fill="#e1491a"/><path d="M594.5,496.9l5.5-3.1 1.7-4.4-5.5,3.1z" fill="#ec4a20"/><path d="M580.6,512l5.3-2.2 1.8-4.5-5.3,2.3z" fill="#e7481d"/><path d="M499.6,530.2l4.7,5.3 2.8-3.2-4.7-5.3z" fill="#ee841b"/><path d="M495.7,525.5l4.7,5.6 2.9-3.1-4.7-5.6z" fill="#ee851a"/><path d="M503.4,534.6l4.8,5 2.8-3.2-4.7-5z" fill="#ee831b"/><path d="M474.6,488.9l4.8,7.6 2.9-2.9-4.7-7.4z" fill="#ee8a17"/><path d="M491.8,520.5l4.8,5.9 2.8-3-4.7-5.9z" fill="#ee861a"/><path d="M530.9,547.6l4.8,.7 2.4-4.2-4.8-.7z" fill="#ec6121"/><path d="M560.7,530l5.1-1 2-4.4-5,1.1z" fill="#e2471a"/><path d="M507.3,538.7l4.7,4.8 2.8-3.3-4.7-4.7z" fill="#ee811c"/><path d="M616.5,469.2l5.8-4.5 1.6-4.4-5.8,4.5z" fill="#e44e24"/><path d="M487.9,515.2l4.8,6.3 2.9-3-4.7-6.2z" fill="#ee8719"/><path d="M465,465.5l4.8,8.6 3-2.7-4.8-8.5z" fill="#ee8c16"/><path d="M608.6,480.1l5.7-4 1.6-4.4-5.7,4z" fill="#e74c23"/><path d="M511.1,542.6l4.8,4.4 2.7-3.3-4.7-4.4z" fill="#ee7f1c"/><path d="M566.6,525.5l5.2-1.4 2-4.4-5.1,1.4z" fill="#e3471b"/><path d="M524.9,549.8l4.8,1.3 2.5-4.1-4.8-1.1z" fill="#ee6a22"/><path d="M484,509.7l4.8,6.6 2.9-3-4.7-6.5z" fill="#ee8819"/><path d="M586.6,506.4l5.4-2.6 1.8-4.4-5.4,2.6z" fill="#e9481e"/><path d="M470.6,482.2l4.8,7.9 2.9-2.8-4.7-7.8z" fill="#ee8b17"/><path d="M515,546.3l4.7,4 2.8-3.3-4.8-4.1z" fill="#ee7d1d"/><path d="M600.6,490.5l5.7-3.5 1.6-4.4-5.6,3.5z" fill="#ea4a21"/><path d="M480.1,503.9l4.7,6.9 3-2.9-4.8-6.9z" fill="#ee8918"/><path d="M572.7,520.7l5.2-1.8 1.9-4.4-5.2,1.8z" fill="#e5461c"/><path d="M518.8,549.6l4.8,3.6 2.7-3.6-4.8-3.4z" fill="#ee781f"/><path d="M476.1,497.7l4.8,7.3 2.9-2.9-4.7-7.2z" fill="#ee8a18"/><path d="M592.7,500.5l5.5-3.1 1.7-4.4-5.5,3.1z" fill="#ea481f"/><path d="M466.5,475.2l4.9,8.2 2.9-2.7-4.7-8.2z" fill="#ee8b16"/><path d="M546.7,541.4l5-.4 2.2-4.3-4.9,.4z" fill="#e24d1a"/><path d="M540.7,544.9l5,0 2.3-4.3-4.9,0z" fill="#e5531c"/><path d="M578.7,515.5l5.3-2.2 1.9-4.4-5.3,2.2z" fill="#e6461c"/><path d="M622.8,461.6l5.9-4.9 1.5-4.4-5.8,4.9z" fill="#e04f25"/><path d="M552.7,537.6l5-.7 2.2-4.4-5,.7z" fill="#e04819"/><path d="M534.8,548l4.8,.4 2.4-4.3-4.8-.3z" fill="#e8591e"/><path d="M614.8,472.9l5.8-4.4 1.6-4.4-5.8,4.5z" fill="#e34d23"/><path d="M558.7,533.4l5.1-1 2.1-4.4-5.1,1.1z" fill="#e14619"/><path d="M528.8,550.8l4.8,.7 2.5-4.1-4.9-.7z" fill="#ec6121"/><path d="M497.3,532.7l4.7,5.4 2.8-3.1-4.7-5.4z" fill="#ee841b"/><path d="M493.4,528l4.7,5.7 2.9-3.1-4.7-5.6z" fill="#ee851a"/><path d="M606.8,483.8l5.7-4 1.6-4.3-5.6,3.9z" fill="#e64b22"/><path d="M472.1,491.3l4.8,7.6 3-2.8-4.8-7.5z" fill="#ee8a17"/><path d="M501.1,537.2l4.8,5 2.8-3.1-4.7-5.1z" fill="#ee821b"/><path d="M489.5,523l4.7,6 2.9-3-4.7-6z" fill="#ee861a"/><path d="M564.7,528.9l5.2-1.4 2-4.3-5.1,1.4z" fill="#e2451a"/><path d="M505,541.4l4.8,4.7 2.8-3.2-4.8-4.7z" fill="#ee811c"/><path d="M485.5,517.7l4.8,6.3 2.9-3-4.7-6.2z" fill="#ee8719"/><path d="M584.8,509.9l5.4-2.6 1.8-4.4-5.4,2.7z" fill="#e8461d"/><path d="M522.7,552.7l4.8,1.7 2.6-4.1-4.8-1.4z" fill="#ee6c21"/><path d="M462.4,467.8l4.9,8.6 3-2.6-4.8-8.6z" fill="#ee8c16"/><path d="M598.9,494.1l5.6-3.4 1.6-4.4-5.6,3.5z" fill="#e84920"/><path d="M508.9,545.3l4.7,4.4 2.8-3.3-4.7-4.4z" fill="#ee7f1c"/><path d="M481.6,512.2l4.8,6.6 2.9-3-4.7-6.5z" fill="#ee8818"/><path d="M570.8,524.1l5.2-1.8 2-4.3-5.3,1.8z" fill="#e4451b"/><path d="M468.1,484.6l4.8,7.9 3-2.8-4.8-7.8z" fill="#ee8b17"/><path d="M512.7,549l4.8,4.1 2.8-3.4-4.8-4.1z" fill="#ee7d1d"/><path d="M477.6,506.3l4.8,6.9 3-2.8-4.8-6.9z" fill="#ee8918"/><path d="M621.2,465.4l5.8-4.9 1.6-4.4-5.9,4.9z" fill="#df4e24"/><path d="M590.9,504l5.5-3 1.8-4.4-5.6,3.1z" fill="#e8471e"/><path d="M613.1,476.7l5.8-4.4 1.6-4.4-5.8,4.4z" fill="#e24c23"/><path d="M576.8,519l5.4-2.2 1.9-4.4-5.4,2.2z" fill="#e5451b"/><path d="M544.7,544.7l5-.3 2.2-4.3-4.9,.3z" fill="#e24c1a"/><path d="M538.7,548.1l4.9,.1 2.3-4.3-4.9,0z" fill="#e5521c"/><path d="M550.7,540.9l5-.7 2.2-4.3-5,.7z" fill="#e04718"/><path d="M516.6,552.4l4.8,3.7 2.7-3.6-4.7-3.5z" fill="#ee791e"/><path d="M473.6,500.1l4.8,7.3 3-2.8-4.8-7.2z" fill="#ee8a17"/><path d="M532.6,551.3l4.9,.3 2.4-4.2-4.8-.3z" fill="#e8591e"/><path d="M464,477.5l4.8,8.3 3-2.7-4.8-8.2z" fill="#ee8b16"/><path d="M605.1,487.5l5.7-4 1.6-4.3-5.7,3.9z" fill="#e54a21"/><path d="M556.7,536.8l5.1-1 2.2-4.4-5.1,1.1z" fill="#df4418"/><path d="M526.6,554l4.8,.8 2.6-4.2-4.9-.7z" fill="#ed6221"/><path d="M562.8,532.4l5.2-1.4 2-4.4-5.2,1.4z" fill="#e14419"/><path d="M582.9,513.5l5.5-2.6 1.8-4.4-5.5,2.6z" fill="#e7451c"/><path d="M494.9,535.3l4.8,5.4 2.8-3.1-4.7-5.4z" fill="#ee841a"/><path d="M491,530.5l4.7,5.7 2.9-3-4.7-5.7z" fill="#ee851a"/><path d="M597.1,497.8l5.6-3.5 1.7-4.4-5.6,3.5z" fill="#e6471f"/><path d="M469.6,493.7l4.8,7.6 3-2.8-4.8-7.6z" fill="#ee8a17"/><path d="M498.8,539.8l4.8,5.1 2.8-3.2-4.7-5.1z" fill="#ee821b"/><path d="M487,525.5l4.8,6 2.9-3-4.7-6z" fill="#ee8619"/><path d="M502.7,544l4.8,4.8 2.8-3.2-4.8-4.8z" fill="#ee811b"/><path d="M520.5,555.5l4.8,2 2.7-4-4.8-1.6z" fill="#ee6e20"/><path d="M483.1,520.2l4.8,6.3 2.9-2.9-4.7-6.3z" fill="#ee8719"/><path d="M568.8,527.6l5.3-1.8 2-4.3-5.3,1.7z" fill="#e2431a"/><path d="M459.9,470.1l4.8,8.6 3.1-2.6-4.9-8.6z" fill="#ee8c16"/><path d="M627.6,457.4l5.9-5.4 1.6-4.3-6,5.4z" fill="#db4f25"/><path d="M506.6,547.9l4.8,4.5 2.8-3.3-4.8-4.4z" fill="#ee7f1c"/><path d="M619.5,469.2l5.8-4.9 1.6-4.4-5.9,4.9z" fill="#de4d23"/><path d="M479.1,514.6l4.8,6.6 3-2.9-4.8-6.6z" fill="#ee8818"/><path d="M589.1,507.6l5.5-3 1.8-4.4-5.6,3.1z" fill="#e6461d"/><path d="M465.5,486.9l4.9,7.9 3-2.7-4.8-7.9z" fill="#ee8b16"/><path d="M611.4,480.4l5.8-4.4 1.6-4.3-5.8,4.4z" fill="#e14a22"/><path d="M574.9,522.5l5.4-2.2 1.9-4.4-5.4,2.2z" fill="#e4431a"/><path d="M510.5,551.6l4.8,4.2 2.8-3.3-4.8-4.2z" fill="#ee7d1c"/><path d="M475.1,508.7l4.8,7 3-2.9-4.8-6.9z" fill="#ee8918"/><path d="M542.6,548l5-.3 2.3-4.3-5,.3z" fill="#e14b19"/><path d="M603.3,491.1l5.7-3.9 1.7-4.3-5.7,3.9z" fill="#e34820"/><path d="M536.6,551.4l4.9,0 2.4-4.2-4.9,0z" fill="#e5521b"/><path d="M548.7,544.2l5-.6 2.2-4.3-5,.7z" fill="#df4618"/><path d="M530.5,554.5l4.9,.4 2.5-4.2-4.9-.4z" fill="#e9591e"/><path d="M554.7,540.2l5.1-1 2.2-4.4-5.1,1.1z" fill="#de4317"/><path d="M514.4,555l4.8,3.8 2.7-3.4-4.8-3.7z" fill="#ee7a1d"/><path d="M471.1,502.5l4.8,7.3 3-2.8-4.8-7.3z" fill="#ee8a17"/><path d="M461.4,479.8l4.9,8.3 3-2.7-4.8-8.2z" fill="#ee8b16"/><path d="M581.1,517l5.4-2.6 1.8-4.3-5.4,2.6z" fill="#e6441b"/><path d="M524.4,557.2l4.9,.8 2.5-4.2-4.8-.7z" fill="#ee6321"/><path d="M595.3,501.4l5.6-3.5 1.7-4.3-5.6,3.5z" fill="#e3461e"/><path d="M560.8,535.7l5.2-1.3 2.1-4.4-5.2,1.4z" fill="#e04218"/><path d="M625.9,461.2l6-5.3 1.5-4.4-6,5.4z" fill="#da4e24"/><path d="M492.5,537.8l4.8,5.5 2.9-3.1-4.8-5.4z" fill="#ee841a"/><path d="M488.5,533l4.8,5.8 3-3.1-4.8-5.7z" fill="#ee8519"/><path d="M617.7,472.9l5.9-4.9 1.6-4.3-5.9,4.9z" fill="#dd4b23"/><path d="M566.9,531l5.3-1.7 2-4.4-5.3,1.8z" fill="#e14219"/><path d="M467,496l4.9,7.6 3-2.7-4.8-7.6z" fill="#ee8a17"/><path d="M496.4,542.4l4.8,5.1 2.9-3.2-4.8-5.1z" fill="#ee821a"/><path d="M484.6,528l4.8,6 3-2.9-4.8-6.1z" fill="#ee8619"/><path d="M518.3,558.3l4.8,2.4 2.7-4-4.8-2z" fill="#ee701f"/><path d="M609.6,484.1l5.8-4.4 1.6-4.3-5.8,4.4z" fill="#e04921"/><path d="M500.3,546.6l4.8,4.8 2.9-3.2-4.8-4.8z" fill="#ee811b"/><path d="M480.6,522.6l4.8,6.4 3-2.9-4.8-6.4z" fill="#ee8718"/><path d="M587.2,511.1l5.6-3 1.7-4.3-5.5,3z" fill="#e3441c"/><path d="M457.2,472.3l4.9,8.7 3.1-2.6-4.9-8.6z" fill="#ee8c15"/><path d="M504.3,550.6l4.8,4.5 2.8-3.3-4.8-4.4z" fill="#ee7f1b"/><path d="M573,525.9l5.4-2.1 1.9-4.4-5.4,2.2z" fill="#e3421a"/><path d="M476.6,517l4.8,6.7 3-2.9-4.8-6.6z" fill="#ee8818"/><path d="M601.5,494.7l5.8-3.9 1.6-4.3-5.7,4z" fill="#e1471f"/><path d="M462.9,489.2l4.9,8 3.1-2.7-4.9-8z" fill="#ee8b16"/><path d="M540.5,551.3l5-.3 2.4-4.3-5,.3z" fill="#e14b19"/><path d="M546.6,547.5l5.1-.6 2.2-4.3-5,.7z" fill="#de4517"/><path d="M508.2,554.3l4.8,4.2 2.8-3.3-4.8-4.2z" fill="#ee7d1c"/><path d="M534.4,554.6l5,.1 2.4-4.2-4.9,0z" fill="#e5521b"/><path d="M472.6,511.1l4.8,7 3-2.8-4.8-7z" fill="#ee8917"/><path d="M552.7,543.5l5.1-1 2.2-4.3-5.1,1z" fill="#dd4116"/><path d="M528.3,557.7l4.9,.4 2.5-4.2-4.9-.4z" fill="#e95a1e"/><path d="M579.2,520.5l5.4-2.6 1.9-4.3-5.5,2.6z" fill="#e4421a"/><path d="M593.5,504.9l5.6-3.4 1.7-4.3-5.6,3.5z" fill="#e1451d"/><path d="M558.8,539.1l5.2-1.3 2.1-4.3-5.2,1.3z" fill="#df4117"/><path d="M512.1,557.7l4.8,3.9 2.8-3.4-4.8-3.8z" fill="#ee7b1c"/><path d="M624.2,465l6-5.3 1.5-4.3-6,5.3z" fill="#d94c23"/><path d="M522.2,560.3l4.9,.9 2.6-4.1-4.9-.8z" fill="#ee6421"/><path d="M468.5,504.8l4.9,7.4 3-2.8-4.8-7.3z" fill="#ee8917"/><path d="M458.8,482l4.9,8.4 3.1-2.7-4.9-8.3z" fill="#ee8b16"/><path d="M616,476.6l5.9-4.8 1.6-4.3-5.9,4.9z" fill="#dc4a22"/><path d="M564.9,534.4l5.3-1.7 2-4.3-5.2,1.7z" fill="#e04018"/><path d="M607.9,487.7l5.8-4.3 1.6-4.3-5.8,4.4z" fill="#df4820"/><path d="M585.4,514.7l5.5-3 1.8-4.3-5.5,3z" fill="#e1431b"/><path d="M490.1,540.4l4.8,5.4 2.9-3.1-4.8-5.4z" fill="#ee831a"/><path d="M486.1,535.5l4.8,5.8 3-3-4.8-5.7z" fill="#ee8519"/><path d="M464.4,498.3l4.9,7.7 3.1-2.7-4.9-7.7z" fill="#ee8a16"/><path d="M494,544.9l4.8,5.1 3-3.1-4.8-5.1z" fill="#ee821a"/><path d="M516,561l4.9,2.8 2.7-3.9-4.8-2.4z" fill="#ee711f"/><path d="M482.1,530.4l4.8,6.1 3-2.9-4.8-6.1z" fill="#ee8619"/><path d="M599.7,498.4l5.8-3.9 1.6-4.3-5.7,3.9z" fill="#df461e"/><path d="M571.1,529.4l5.4-2.2 1.9-4.3-5.4,2.2z" fill="#e24119"/><path d="M498,549.2l4.8,4.8 2.9-3.2-4.8-4.8z" fill="#ee801b"/><path d="M478.1,525.1l4.8,6.4 3.1-2.9-4.9-6.4z" fill="#ee8718"/><path d="M454.6,474.5l4.9,8.8 3.1-2.6-4.9-8.7z" fill="#ee8c15"/><path d="M501.9,553.2l4.8,4.5 2.9-3.2-4.8-4.5z" fill="#ee7f1b"/><path d="M474.1,519.4l4.8,6.7 3.1-2.8-4.9-6.7z" fill="#ee8818"/><path d="M538.4,554.5l5-.2 2.4-4.3-5,.3z" fill="#e14a18"/><path d="M544.5,550.8l5.1-.6 2.3-4.2-5.1,.6z" fill="#de4416"/><path d="M460.3,491.4l4.9,8.1 3.1-2.7-4.9-8z" fill="#ee8b16"/><path d="M532.3,557.9l4.9,.1 2.5-4.2-5-.1z" fill="#e5521b"/><path d="M591.6,508.5l5.7-3.4 1.7-4.3-5.6,3.4z" fill="#df431c"/><path d="M550.7,546.8l5.1-.9 2.2-4.3-5.1,1z" fill="#dc4015"/><path d="M577.3,523.9l5.5-2.5 1.8-4.3-5.5,2.6z" fill="#e14119"/><path d="M622.5,468.8l6-5.4 1.5-4.2-6,5.3z" fill="#d84b23"/><path d="M505.8,556.9l4.9,4.2 2.8-3.2-4.8-4.2z" fill="#ee7d1b"/><path d="M526.1,560.9l5,.4 2.5-4.1-4.9-.4z" fill="#e95a1d"/><path d="M614.3,480.3l5.9-4.8 1.6-4.3-5.9,4.9z" fill="#db4921"/><path d="M470,513.4l4.9,7.1 3-2.8-4.8-7z" fill="#ee8917"/><path d="M556.8,542.5l5.2-1.3 2.1-4.3-5.2,1.3z" fill="#de3f16"/><path d="M520,563.4l4.9,1 2.6-4.1-4.9-.9z" fill="#ee6520"/><path d="M606.1,491.4l5.8-4.4 1.7-4.2-5.9,4.3z" fill="#dd461f"/><path d="M509.8,560.4l4.8,3.9 2.9-3.4-4.9-3.8z" fill="#ee7b1c"/><path d="M563,537.8l5.3-1.7 2-4.3-5.3,1.7z" fill="#df3f17"/><path d="M456.1,484.2l4.9,8.4 3.2-2.6-4.9-8.3z" fill="#ee8b15"/><path d="M465.9,507.1l4.9,7.4 3.1-2.7-4.9-7.4z" fill="#ee8916"/><path d="M583.5,518.2l5.6-3 1.8-4.3-5.6,3z" fill="#df411a"/><path d="M597.9,501.9l5.8-3.8 1.7-4.3-5.8,3.9z" fill="#dd441d"/><path d="M569.1,532.8l5.4-2.1 2-4.3-5.4,2.1z" fill="#e13f18"/><path d="M487.6,542.9l4.8,5.4 3-3-4.8-5.5z" fill="#ee8319"/><path d="M483.6,538l4.8,5.8 3.1-3-4.9-5.8z" fill="#ee8519"/><path d="M461.8,500.6l4.9,7.7 3.1-2.7-4.9-7.7z" fill="#ee8a16"/><path d="M513.7,563.6l4.9,3.2 2.8-3.7-4.9-2.9z" fill="#ee731e"/><path d="M491.6,547.4l4.8,5.2 3-3.1-4.8-5.1z" fill="#ee821a"/><path d="M479.6,532.9l4.8,6.1 3.1-2.9-4.9-6.1z" fill="#ee8618"/><path d="M495.5,551.7l4.9,4.9 2.9-3.1-4.8-4.9z" fill="#ee801a"/><path d="M451.8,476.7l5,8.8 3.2-2.6-5-8.7z" fill="#ee8c15"/><path d="M620.8,472.5l6-5.3 1.5-4.3-6,5.4z" fill="#d74a22"/><path d="M475.5,527.5l4.9,6.4 3.1-2.9-4.9-6.4z" fill="#ee8718"/><path d="M589.8,512l5.6-3.4 1.8-4.2-5.7,3.4z" fill="#dd421b"/><path d="M536.3,557.8l5-.3 2.4-4.2-5,.3z" fill="#e14b18"/><path d="M542.4,554.1l5.1-.6 2.3-4.2-5.1,.6z" fill="#dd4416"/><path d="M575.4,527.4l5.4-2.5 1.9-4.3-5.5,2.5z" fill="#df3f19"/><path d="M612.5,484l5.9-4.8 1.6-4.2-5.9,4.8z" fill="#da4720"/><path d="M530.1,561.1l5,.1 2.5-4.2-5-.1z" fill="#e5531b"/><path d="M548.6,550.1l5.1-.9 2.3-4.3-5.2,1z" fill="#db3e14"/><path d="M499.5,555.8l4.9,4.5 2.9-3.2-4.9-4.5z" fill="#ee7f1b"/><path d="M471.5,521.7l4.9,6.8 3-2.8-4.8-6.7z" fill="#ee8817"/><path d="M457.6,493.7l4.9,8 3.2-2.6-4.9-8z" fill="#ee8a15"/><path d="M523.9,564.1l5,.4 2.5-4.1-4.9-.4z" fill="#ea5b1d"/><path d="M554.8,545.8l5.2-1.3 2.1-4.3-5.2,1.4z" fill="#dd3e15"/><path d="M604.3,495l5.9-4.3 1.6-4.3-5.8,4.4z" fill="#db451e"/><path d="M503.5,559.5l4.8,4.3 2.9-3.3-4.8-4.2z" fill="#ee7d1b"/><path d="M467.4,515.7l4.9,7.1 3.1-2.7-4.9-7.1z" fill="#ee8817"/><path d="M561,541.2l5.3-1.7 2-4.3-5.3,1.7z" fill="#de3e16"/><path d="M517.7,566.4l4.9,1.1 2.7-4-4.9-1z" fill="#ee6620"/><path d="M581.6,521.7l5.6-3 1.8-4.3-5.6,3z" fill="#dd401a"/><path d="M596.1,505.5l5.8-3.8 1.7-4.3-5.8,3.9z" fill="#db431c"/><path d="M507.4,563l4.9,4 2.9-3.4-4.9-3.9z" fill="#ee7b1c"/><path d="M453.4,486.4l4.9,8.5 3.2-2.6-4.9-8.4z" fill="#ee8b15"/><path d="M463.2,509.4l5,7.5 3.1-2.7-4.9-7.4z" fill="#ee8916"/><path d="M567.2,536.2l5.4-2.1 2-4.3-5.4,2.1z" fill="#df3e17"/><path d="M619,476.2l6-5.3 1.6-4.2-6,5.3z" fill="#d64821"/><path d="M587.9,515.6l5.7-3.4 1.8-4.3-5.7,3.4z" fill="#db411b"/><path d="M610.8,487.7l5.9-4.9 1.6-4.1-5.9,4.8z" fill="#d9461f"/><path d="M511.4,566.3l4.9,3.4 2.8-3.6-4.9-3.2z" fill="#ee751d"/><path d="M459.1,502.8l4.9,7.8 3.2-2.7-4.9-7.7z" fill="#ee8a16"/><path d="M485.1,545.3l4.9,5.6 3-3.1-4.9-5.5z" fill="#ee8319"/><path d="M481.1,540.4l4.8,5.9 3.1-3-4.9-5.8z" fill="#ee8418"/><path d="M489.1,549.9l4.9,5.3 3-3.1-4.9-5.2z" fill="#ee8219"/><path d="M573.4,530.8l5.5-2.5 1.9-4.2-5.5,2.5z" fill="#dd3e18"/><path d="M477,535.3l4.9,6.1 3.1-2.9-4.9-6.1z" fill="#ee8618"/><path d="M540.3,557.4l5.1-.6 2.3-4.2-5,.6z" fill="#de4416"/><path d="M534.1,561l5-.2 2.5-4.2-5.1,.2z" fill="#e24b18"/><path d="M449.1,478.9l5,8.8 3.2-2.5-5-8.8z" fill="#ee8b15"/><path d="M546.5,553.4l5.2-.9 2.2-4.2-5.1,.9z" fill="#da3d13"/><path d="M493.1,554.3l4.9,4.9 2.9-3.1-4.8-4.9z" fill="#ee801a"/><path d="M527.9,564.3l5,.1 2.5-4.1-5-.1z" fill="#e6531b"/><path d="M472.9,529.8l4.9,6.5 3.1-2.8-4.8-6.5z" fill="#ee8717"/><path d="M602.5,498.6l5.9-4.3 1.6-4.2-5.8,4.3z" fill="#d9441d"/><path d="M552.7,549.2l5.3-1.3 2.1-4.3-5.2,1.3z" fill="#db3c14"/><path d="M521.7,567.2l4.9,.5 2.6-4.1-4.9-.5z" fill="#eb5c1e"/><path d="M497.1,558.3l4.9,4.6 2.9-3.1-4.8-4.6z" fill="#ee7f1a"/><path d="M468.8,524.1l5,6.8 3.1-2.8-4.9-6.8z" fill="#ee8817"/><path d="M454.9,495.9l4.9,8.1 3.2-2.6-4.9-8.1z" fill="#ee8a15"/><path d="M579.7,525.1l5.6-2.9 1.8-4.2-5.6,2.9z" fill="#db3f19"/><path d="M558.9,544.5l5.4-1.6 2-4.3-5.3,1.7z" fill="#dd3c15"/><path d="M594.3,509.1l5.7-3.9 1.8-4.2-5.8,3.9z" fill="#d9421c"/><path d="M501.1,562.1l4.9,4.3 2.9-3.2-4.9-4.3z" fill="#ee7d1b"/><path d="M515.4,569.2l4.9,1.5 2.7-4-4.9-1.2z" fill="#ee691f"/><path d="M464.7,518l4.9,7.2 3.2-2.8-4.9-7.1z" fill="#ee8816"/><path d="M565.2,539.6l5.4-2.1 2-4.3-5.4,2.1z" fill="#dd3c16"/><path d="M617.3,479.9l6-5.3 1.6-4.2-6,5.3z" fill="#d54620"/><path d="M505.1,565.7l4.9,3.9 2.9-3.3-4.9-3.9z" fill="#ee7b1b"/><path d="M450.6,488.6l5,8.5 3.2-2.6-4.9-8.4z" fill="#ee8b15"/><path d="M460.6,511.7l4.9,7.5 3.2-2.7-4.9-7.5z" fill="#ee8916"/><path d="M609,491.3l5.9-4.8 1.7-4.2-6,4.8z" fill="#d8451e"/><path d="M586,519.1l5.7-3.4 1.8-4.2-5.7,3.4z" fill="#d93f1a"/><path d="M571.5,534.3l5.5-2.5 1.9-4.3-5.5,2.5z" fill="#db3d17"/><path d="M600.7,502.2l5.9-4.3 1.6-4.2-5.8,4.3z" fill="#d7431d"/><path d="M538.1,560.6l5.2-.5 2.3-4.2-5.1,.6z" fill="#de4516"/><path d="M509.1,568.9l4.9,3.6 2.8-3.5-4.9-3.4z" fill="#ee771c"/><path d="M531.9,564.2l5.1-.2 2.4-4.1-5,.2z" fill="#e24c18"/><path d="M456.3,505l5,7.8 3.2-2.6-4.9-7.8z" fill="#ee8a15"/><path d="M544.4,556.7l5.2-.9 2.3-4.2-5.2,.9z" fill="#db3e13"/><path d="M482.5,547.8l4.9,5.5 3.1-2.9-4.9-5.6z" fill="#ee8319"/><path d="M478.5,542.9l4.9,5.8 3.1-2.9-4.9-5.8z" fill="#ee8418"/><path d="M525.7,567.5l5,.1 2.5-4.1-5-.1z" fill="#e6541b"/><path d="M486.6,552.4l4.9,5.3 3-3.1-4.9-5.2z" fill="#ee8219"/><path d="M474.4,537.7l4.9,6.2 3.1-2.9-4.8-6.2z" fill="#ee8518"/><path d="M550.6,552.5l5.3-1.3 2.2-4.2-5.3,1.3z" fill="#da3b13"/><path d="M446.3,481l5.1,8.8 3.2-2.5-5-8.8z" fill="#ee8b14"/><path d="M490.6,556.8l4.9,4.9 3-3.1-4.9-4.9z" fill="#ee8019"/><path d="M470.3,532.2l4.9,6.5 3.2-2.8-4.9-6.5z" fill="#ee8617"/><path d="M519.4,570.4l5,.5 2.6-4.1-5-.5z" fill="#eb5d1e"/><path d="M577.8,528.6l5.6-2.9 1.8-4.3-5.6,3z" fill="#d93d18"/><path d="M592.4,512.6l5.8-3.8 1.7-4.2-5.7,3.8z" fill="#d7401b"/><path d="M556.9,547.9l5.3-1.7 2.1-4.2-5.3,1.7z" fill="#dc3b14"/><path d="M494.6,560.9l4.9,4.6 3-3.1-4.9-4.6z" fill="#ee7e1a"/><path d="M466.2,526.4l4.9,6.8 3.2-2.7-4.9-6.8z" fill="#ee8717"/><path d="M452.1,498l5,8.2 3.3-2.6-5-8.1z" fill="#ee8a15"/><path d="M615.5,483.6l6.1-5.3 1.6-4.2-6.1,5.3z" fill="#d4451f"/><path d="M513.1,572l4.9,1.8 2.8-4-5-1.4z" fill="#ee6b1e"/><path d="M498.6,564.7l5,4.3 2.9-3.2-4.9-4.3z" fill="#ee7d1a"/><path d="M563.2,542.9l5.4-2 2-4.2-5.4,2z" fill="#db3b15"/><path d="M462,520.3l5,7.2 3.2-2.7-5-7.2z" fill="#ee8816"/><path d="M607.2,494.9l5.9-4.8 1.7-4.1-6,4.8z" fill="#d6441e"/><path d="M584.1,522.5l5.7-3.3 1.8-4.2-5.7,3.4z" fill="#d73e19"/><path d="M502.6,568.3l5,4 2.9-3.3-4.9-4z" fill="#ee7a1b"/><path d="M447.8,490.7l5.1,8.5 3.2-2.5-5-8.4z" fill="#ee8b14"/><path d="M569.5,537.7l5.5-2.5 2-4.2-5.6,2.5z" fill="#d93b16"/><path d="M598.9,505.8l5.8-4.3 1.7-4.2-5.8,4.3z" fill="#d5411c"/><path d="M457.8,513.9l5,7.5 3.2-2.6-4.9-7.5z" fill="#ee8916"/><path d="M536,563.9l5.1-.5 2.4-4.2-5.1,.5z" fill="#df4516"/><path d="M529.7,567.4l5.1-.1 2.4-4.2-5,.2z" fill="#e34c18"/><path d="M542.2,560l5.2-.9 2.4-4.2-5.2,.9z" fill="#db3e13"/><path d="M523.4,570.6l5,.2 2.6-4.1-5-.2z" fill="#e7541b"/><path d="M506.7,571.6l4.9,3.6 2.9-3.4-4.9-3.5z" fill="#ee771b"/><path d="M548.5,555.8l5.3-1.3 2.2-4.2-5.2,1.3z" fill="#da3a12"/><path d="M453.6,507.2l5,7.9 3.3-2.6-5-7.8z" fill="#ee8a15"/><path d="M590.5,516.1l5.8-3.8 1.8-4.2-5.8,3.9z" fill="#d53f1a"/><path d="M479.9,550.2l5,5.6 3.1-3-4.9-5.5z" fill="#ee8318"/><path d="M475.9,545.3l4.9,5.9 3.1-2.9-4.9-5.9z" fill="#ee8418"/><path d="M575.8,532l5.6-2.9 1.9-4.2-5.6,2.9z" fill="#d73c17"/><path d="M484,554.9l4.9,5.3 3.1-3-4.9-5.3z" fill="#ee8119"/><path d="M471.8,540l4.9,6.3 3.2-2.9-5-6.2z" fill="#ee8517"/><path d="M517.1,573.5l5,.6 2.6-4.1-4.9-.6z" fill="#ec5e1e"/><path d="M443.5,483l5.1,9 3.2-2.5-5-8.8z" fill="#ee8b14"/><path d="M554.8,551.2l5.4-1.6 2.1-4.2-5.3,1.6z" fill="#db3a13"/><path d="M613.8,487.2l6-5.2 1.6-4.2-6,5.3z" fill="#d3431f"/><path d="M488.1,559.3l4.9,5 3.1-3.1-4.9-5z" fill="#ee8019"/><path d="M467.6,534.5l5,6.6 3.2-2.8-5-6.6z" fill="#ee8617"/><path d="M605.4,498.5l5.9-4.8 1.7-4.1-5.9,4.8z" fill="#d4421d"/><path d="M492.1,563.4l5,4.7 3-3.2-4.9-4.6z" fill="#ee7e1a"/><path d="M561.1,546.3l5.5-2 2-4.2-5.4,2z" fill="#d93a14"/><path d="M463.5,528.7l4.9,6.9 3.3-2.8-5-6.8z" fill="#ee8716"/><path d="M449.3,500.2l5,8.2 3.3-2.5-5-8.2z" fill="#ee8a15"/><path d="M510.7,574.6l5,2.3 2.8-3.9-5-1.8z" fill="#ee6c1e"/><path d="M582.2,526l5.7-3.3 1.8-4.2-5.7,3.4z" fill="#d53d18"/><path d="M496.2,567.3l4.9,4.3 3-3.2-4.9-4.3z" fill="#ee7c1a"/><path d="M459.3,522.6l5,7.2 3.2-2.7-5-7.2z" fill="#ee8816"/><path d="M597,509.3l5.9-4.3 1.7-4.1-5.9,4.3z" fill="#d3401b"/><path d="M567.5,541.1l5.5-2.5 2-4.2-5.5,2.5z" fill="#d73a15"/><path d="M500.2,570.9l5,4 2.9-3.2-4.9-4.1z" fill="#ee7a1a"/><path d="M445,492.8l5.1,8.6 3.3-2.5-5.1-8.5z" fill="#ee8b14"/><path d="M455,516.1l5.1,7.6 3.2-2.6-5-7.6z" fill="#ee8915"/><path d="M533.8,567.1l5.1-.5 2.4-4.2-5.1,.5z" fill="#df4515"/><path d="M540.1,563.2l5.2-.8 2.3-4.2-5.2,.9z" fill="#dc3e13"/><path d="M527.4,570.6l5.1-.1 2.5-4.2-5,.2z" fill="#e34d18"/><path d="M588.6,519.6l5.9-3.8 1.7-4.1-5.8,3.8z" fill="#d33e19"/><path d="M546.4,559.1l5.3-1.3 2.2-4.2-5.2,1.3z" fill="#da3a12"/><path d="M573.8,535.4l5.7-2.8 1.9-4.2-5.6,2.9z" fill="#d43b16"/><path d="M521.1,573.8l5,.2 2.6-4.1-5-.2z" fill="#e7551b"/><path d="M612,490.9l6-5.3 1.7-4.1-6.1,5.3z" fill="#d2411e"/><path d="M504.2,574.2l5,3.7 2.9-3.4-4.9-3.6z" fill="#ee781b"/><path d="M552.7,554.5l5.4-1.6 2.2-4.2-5.4,1.6z" fill="#d93812"/><path d="M450.8,509.4l5,7.9 3.3-2.6-5-7.9z" fill="#ee8915"/><path d="M514.8,576.6l4.9,.6 2.7-4-4.9-.6z" fill="#ed601e"/><path d="M477.3,552.6l5,5.7 3.1-3-4.9-5.6z" fill="#ee8318"/><path d="M473.2,547.6l5,6 3.1-2.9-4.9-5.9z" fill="#ee8417"/><path d="M603.6,502.1l5.9-4.8 1.7-4.1-6,4.8z" fill="#d2401c"/><path d="M481.4,557.3l5,5.4 3.1-3-4.9-5.3z" fill="#ee8118"/><path d="M469.1,542.4l4.9,6.2 3.2-2.8-4.9-6.2z" fill="#ee8517"/><path d="M440.6,485.1l5.1,9 3.3-2.5-5.1-8.9z" fill="#ee8b14"/><path d="M485.5,561.8l5,5 3.1-3.1-5-5z" fill="#ee8019"/><path d="M559.1,549.7l5.4-2.1 2.1-4.2-5.4,2.1z" fill="#d63813"/><path d="M464.9,536.8l5,6.6 3.2-2.8-4.9-6.5z" fill="#ee8616"/><path d="M580.3,529.5l5.7-3.4 1.8-4.1-5.7,3.3z" fill="#d33c17"/><path d="M489.6,565.9l4.9,4.7 3.1-3.1-4.9-4.7z" fill="#ee7e19"/><path d="M595.1,512.8l5.9-4.2 1.8-4.1-5.9,4.2z" fill="#d13f1a"/><path d="M460.7,530.9l5,7 3.3-2.7-5-6.9z" fill="#ee8716"/><path d="M446.4,502.3l5.1,8.3 3.4-2.5-5.1-8.3z" fill="#ee8a14"/><path d="M508.3,577.3l5,2.7 2.8-3.9-4.9-2.2z" fill="#ee6e1d"/><path d="M565.4,544.4l5.6-2.4 2-4.2-5.5,2.5z" fill="#d43914"/><path d="M493.6,569.8l5,4.4 3-3.2-4.9-4.3z" fill="#ee7c1a"/><path d="M456.5,524.8l5,7.2 3.3-2.6-5-7.2z" fill="#ee8815"/><path d="M586.7,523.1l5.9-3.8 1.7-4.1-5.8,3.8z" fill="#d13c18"/><path d="M610.2,494.5l6-5.3 1.7-4.1-6.1,5.3z" fill="#d13f1d"/><path d="M531.5,570.3l5.2-.5 2.4-4.1-5.1,.5z" fill="#e04615"/><path d="M537.9,566.5l5.2-.8 2.4-4.2-5.2,.8z" fill="#dc3f13"/><path d="M442.1,494.9l5.1,8.6 3.4-2.4-5.1-8.6z" fill="#ee8b14"/><path d="M525.2,573.8l5-.1 2.6-4.1-5.1,.1z" fill="#e44d18"/><path d="M571.9,538.8l5.6-2.8 1.9-4.2-5.6,2.9z" fill="#d23915"/><path d="M497.7,573.4l5,4.1 3-3.2-5-4.1z" fill="#ee7a1a"/><path d="M544.2,562.3l5.3-1.2 2.3-4.2-5.3,1.3z" fill="#da3a12"/><path d="M452.2,518.3l5.1,7.6 3.3-2.6-5-7.6z" fill="#ee8915"/><path d="M518.8,576.9l5,.3 2.7-4.1-5.1-.2z" fill="#e8551b"/><path d="M601.7,505.6l6-4.7 1.7-4.1-6,4.8z" fill="#d03e1b"/><path d="M550.6,557.8l5.4-1.6 2.2-4.2-5.4,1.7z" fill="#d83812"/><path d="M512.4,579.6l5,.8 2.7-4.1-5-.6z" fill="#ee611e"/><path d="M501.8,576.8l5,3.7 2.9-3.3-4.9-3.7z" fill="#ee781a"/><path d="M447.9,511.5l5.1,8 3.3-2.6-5-7.9z" fill="#ee8915"/><path d="M557,553l5.5-2 2.1-4.2-5.5,2z" fill="#d43712"/><path d="M578.3,532.9l5.7-3.3 1.9-4.2-5.7,3.4z" fill="#d13a16"/><path d="M474.7,555l4.9,5.7 3.2-2.9-4.9-5.7z" fill="#ee8318"/><path d="M470.5,550l5,6 3.2-2.9-4.9-5.9z" fill="#ee8417"/><path d="M478.8,559.8l5,5.3 3.1-3-4.9-5.3z" fill="#ee8118"/><path d="M593.3,516.3l5.9-4.2 1.7-4.1-5.9,4.3z" fill="#cf3d19"/><path d="M437.6,487.1l5.2,9 3.4-2.4-5.1-8.9z" fill="#ee8b13"/><path d="M466.3,544.7l5,6.3 3.3-2.8-5-6.3z" fill="#ee8517"/><path d="M482.9,564.2l5,5.1 3.1-3.1-4.9-5z" fill="#ee8018"/><path d="M462.1,539.1l5.1,6.6 3.2-2.7-4.9-6.6z" fill="#ee8616"/><path d="M563.4,547.8l5.6-2.4 2-4.2-5.6,2.4z" fill="#d23713"/><path d="M487,568.4l5,4.8 3.1-3.1-5-4.7z" fill="#ee7e19"/><path d="M505.9,579.9l5,3 2.9-3.7-5-2.7z" fill="#ee701c"/><path d="M443.5,504.4l5.2,8.3 3.3-2.5-5.1-8.2z" fill="#ee8a14"/><path d="M457.9,533.2l5.1,7 3.3-2.7-5.1-7z" fill="#ee8716"/><path d="M608.4,498.1l6-5.3 1.7-4-6.1,5.2z" fill="#cf3e1c"/><path d="M584.8,526.6l5.8-3.8 1.9-4.1-5.9,3.8z" fill="#cf3b17"/><path d="M491.1,572.3l5,4.5 3.1-3.2-5-4.4z" fill="#ee7c19"/><path d="M453.6,527l5.1,7.3 3.3-2.6-5-7.3z" fill="#ee8815"/><path d="M569.8,542.2l5.7-2.8 2-4.2-5.7,2.9z" fill="#d03814"/><path d="M529.2,573.5l5.2-.4 2.5-4.2-5.1,.5z" fill="#e04615"/><path d="M535.6,569.7l5.3-.8 2.4-4.2-5.2,.9z" fill="#dc3f13"/><path d="M522.8,577l5.2-.1 2.5-4.1-5,.1z" fill="#e44e18"/><path d="M599.9,509.2l6-4.7 1.7-4.1-6,4.8z" fill="#ce3c1a"/><path d="M542,565.6l5.4-1.2 2.3-4.2-5.3,1.2z" fill="#da3a11"/><path d="M439.1,496.9l5.2,8.7 3.4-2.4-5.1-8.6z" fill="#ee8a14"/><path d="M495.2,576l5,4.1 3-3.2-4.9-4.1z" fill="#ee7a1a"/><path d="M516.4,580.1l5.1,.3 2.7-4.1-5.1-.3z" fill="#e8561b"/><path d="M548.5,561.1l5.4-1.6 2.2-4.1-5.4,1.6z" fill="#d63811"/><path d="M449.3,520.4l5.1,7.7 3.4-2.6-5.1-7.6z" fill="#ee8915"/><path d="M576.3,536.3l5.8-3.3 1.9-4.1-5.8,3.3z" fill="#ce3915"/><path d="M554.9,556.3l5.5-2 2.1-4.2-5.5,2z" fill="#d23611"/><path d="M510,582.5l5,1 2.8-4-5-.8z" fill="#ee631e"/><path d="M591.4,519.8l5.9-4.2 1.8-4.1-6,4.3z" fill="#cd3b18"/><path d="M499.3,579.4l5,3.8 3-3.3-5-3.8z" fill="#ee781a"/><path d="M445,513.6l5.1,8 3.4-2.5-5.1-8z" fill="#ee8914"/><path d="M471.9,557.4l5.1,5.7 3.2-2.9-5-5.7z" fill="#ee8217"/><path d="M467.8,552.3l5,6.1 3.3-2.9-5-6z" fill="#ee8417"/><path d="M434.6,489.1l5.3,9.1 3.4-2.4-5.2-9z" fill="#ee8b13"/><path d="M561.3,551.1l5.6-2.4 2.1-4.1-5.6,2.4z" fill="#d03612"/><path d="M476.1,562.2l5,5.4 3.2-3-5-5.4z" fill="#ee8118"/><path d="M463.6,547l5,6.3 3.3-2.7-5-6.4z" fill="#ee8516"/><path d="M606.5,501.6l6.1-5.2 1.7-4-6.1,5.2z" fill="#cd3c1b"/><path d="M480.2,566.7l5.1,5.1 3.1-3.1-4.9-5z" fill="#ee7f18"/><path d="M459.3,541.3l5.1,6.7 3.3-2.7-5-6.6z" fill="#ee8616"/><path d="M582.9,530l5.8-3.8 1.8-4-5.8,3.7z" fill="#cd3a16"/><path d="M503.4,582.5l5,3.3 3-3.6-5-3z" fill="#ee721b"/><path d="M484.4,570.9l5,4.8 3.1-3.1-4.9-4.7z" fill="#ee7e18"/><path d="M440.6,506.4l5.2,8.4 3.4-2.4-5.2-8.4z" fill="#ee8a14"/><path d="M455.1,535.4l5,7 3.4-2.6-5-7z" fill="#ee8715"/><path d="M567.8,545.6l5.7-2.8 2-4.2-5.7,2.9z" fill="#ce3713"/><path d="M598,512.7l6-4.7 1.7-4-6,4.7z" fill="#cc3b19"/><path d="M533.4,572.9l5.2-.8 2.5-4.1-5.2,.8z" fill="#dd4013"/><path d="M527,576.7l5.1-.4 2.6-4.2-5.2,.5z" fill="#e14715"/><path d="M539.8,568.8l5.4-1.1 2.3-4.2-5.3,1.2z" fill="#d93a11"/><path d="M488.5,574.8l5,4.5 3.1-3.1-5-4.5z" fill="#ee7c19"/><path d="M520.5,580.1l5.1,0 2.7-4.1-5.2,0z" fill="#e54e18"/><path d="M450.8,529.1l5.1,7.4 3.3-2.6-5-7.3z" fill="#ee8815"/><path d="M546.3,564.4l5.4-1.6 2.3-4.1-5.4,1.5z" fill="#d53811"/><path d="M514,583.2l5.1,.3 2.7-4.1-5-.2z" fill="#e9571b"/><path d="M436.1,498.9l5.2,8.8 3.5-2.4-5.2-8.7z" fill="#ee8a13"/><path d="M589.4,523.3l6-4.2 1.8-4.1-6,4.3z" fill="#cb3a17"/><path d="M574.3,539.7l5.8-3.3 1.9-4.1-5.8,3.3z" fill="#cc3814"/><path d="M492.6,578.5l5,4.2 3.1-3.2-5-4.1z" fill="#ee7a19"/><path d="M552.7,559.6l5.5-2 2.2-4.1-5.5,2z" fill="#d13611"/><path d="M446.4,522.6l5.1,7.7 3.5-2.6-5.1-7.6z" fill="#ee8814"/><path d="M507.5,585.3l5,1.3 2.9-4-5-1z" fill="#ee661d"/><path d="M604.7,505.2l6.1-5.2 1.7-4-6.1,5.2z" fill="#cb3a1b"/><path d="M559.2,554.5l5.6-2.4 2.1-4.2-5.6,2.4z" fill="#ce3511"/><path d="M496.7,581.9l5.1,3.9 3-3.3-5-3.8z" fill="#ee781a"/><path d="M442,515.7l5.2,8 3.4-2.4-5.1-8z" fill="#ee8914"/><path d="M580.9,533.4l5.8-3.7 1.9-4.1-5.8,3.8z" fill="#cb3916"/><path d="M469.2,559.7l5,5.8 3.3-2.9-5-5.7z" fill="#ee8217"/><path d="M465,554.6l5,6.1 3.3-2.8-5-6z" fill="#ee8416"/><path d="M431.6,491.1l5.3,9.1 3.5-2.3-5.3-9.1z" fill="#ee8b13"/><path d="M473.4,564.6l5,5.4 3.3-2.9-5-5.4z" fill="#ee8117"/><path d="M460.7,549.3l5.1,6.4 3.4-2.8-5.1-6.4z" fill="#ee8516"/><path d="M596.1,516.2l6-4.7 1.8-4-6,4.7z" fill="#ca3919"/><path d="M477.5,569.1l5.1,5.1 3.2-3-5-5.1z" fill="#ee7f18"/><path d="M565.7,549l5.7-2.9 2-4.1-5.6,2.9z" fill="#cc3612"/><path d="M456.5,543.6l5.1,6.7 3.3-2.7-5-6.7z" fill="#ee8615"/><path d="M500.9,585.1l5,3.4 3-3.4-5-3.3z" fill="#ee731a"/><path d="M481.7,573.4l5,4.8 3.2-3.1-5-4.8z" fill="#ee7e18"/><path d="M437.6,508.5l5.2,8.4 3.5-2.4-5.2-8.4z" fill="#ee8a14"/><path d="M531.1,576.1l5.3-.7 2.5-4.2-5.3,.8z" fill="#dd4013"/><path d="M524.6,579.9l5.2-.4 2.6-4.1-5.2,.4z" fill="#e14715"/><path d="M452.2,537.6l5.1,7.1 3.4-2.7-5.1-7z" fill="#ee8715"/><path d="M537.6,572.1l5.3-1.2 2.4-4.1-5.3,1.1z" fill="#d83a11"/><path d="M518.1,583.3l5.2-.1 2.6-4.1-5.1,.1z" fill="#e54f18"/><path d="M544.1,567.6l5.4-1.5 2.3-4.1-5.4,1.5z" fill="#d43811"/><path d="M587.5,526.8l5.9-4.3 1.9-4-6,4.3z" fill="#c93817"/><path d="M485.9,577.3l5,4.6 3.2-3.2-5.1-4.4z" fill="#ee7c18"/><path d="M572.3,543.1l5.8-3.3 1.9-4.1-5.8,3.3z" fill="#ca3714"/><path d="M447.8,531.3l5.2,7.4 3.4-2.6-5.1-7.3z" fill="#ee8815"/><path d="M511.6,586.3l5.1,.3 2.8-4-5.1-.3z" fill="#ea581b"/><path d="M550.6,562.9l5.5-2 2.2-4.1-5.5,2z" fill="#d03611"/><path d="M433.1,500.9l5.2,8.8 3.5-2.4-5.2-8.7z" fill="#ee8a13"/><path d="M490,581l5.1,4.3 3.1-3.2-5-4.2z" fill="#ee7a19"/><path d="M602.8,508.7l6.1-5.2 1.8-4-6.1,5.2z" fill="#c9381a"/><path d="M443.4,524.7l5.2,7.7 3.5-2.5-5.2-7.7z" fill="#ee8814"/><path d="M505,588l5.1,1.7 2.9-4-5.1-1.2z" fill="#ee681c"/><path d="M557.1,557.8l5.6-2.4 2.1-4.1-5.6,2.4z" fill="#cc3410"/><path d="M578.9,536.8l5.9-3.7 1.8-4-5.8,3.7z" fill="#c93715"/><path d="M594.2,519.7l6-4.7 1.8-4-6,4.7z" fill="#c83718"/><path d="M494.1,584.5l5.1,3.9 3.1-3.2-5-3.9z" fill="#ee7819"/><path d="M439,517.7l5.2,8.1 3.5-2.4-5.2-8.1z" fill="#ee8914"/><path d="M563.7,552.3l5.7-2.8 2-4.1-5.7,2.8z" fill="#ca3411"/><path d="M428.5,493l5.3,9.2 3.6-2.3-5.3-9.1z" fill="#ee8b13"/><path d="M528.8,579.3l5.3-.7 2.5-4.1-5.3,.7z" fill="#de4113"/><path d="M522.3,583l5.2-.4 2.6-4.1-5.2,.4z" fill="#e14815"/><path d="M535.3,575.3l5.4-1.1 2.4-4.2-5.3,1.2z" fill="#d73a11"/><path d="M498.3,587.7l5.1,3.5 3.1-3.4-5.1-3.4z" fill="#ee741a"/><path d="M585.5,530.2l6-4.2 1.8-4-5.9,4.2z" fill="#c73616"/><path d="M515.7,586.4l5.2,0 2.7-4.1-5.2,0z" fill="#e64f18"/><path d="M434.5,510.5l5.3,8.4 3.5-2.3-5.2-8.5z" fill="#ee8a13"/><path d="M541.9,570.9l5.4-1.5 2.3-4.2-5.4,1.6z" fill="#d23810"/><path d="M570.2,546.5l5.8-3.3 2-4.1-5.8,3.3z" fill="#c83513"/><path d="M509.1,589.3l5.1,.5 2.9-4.1-5.1-.3z" fill="#eb591b"/><path d="M548.4,566.2l5.5-2 2.3-4.1-5.6,2z" fill="#ce3610"/><path d="M600.9,512.2l6.2-5.2 1.7-3.9-6.1,5.2z" fill="#c73719"/><path d="M555,561.1l5.6-2.4 2.1-4.1-5.6,2.4z" fill="#cb3410"/><path d="M430,502.8l5.3,8.9 3.5-2.3-5.2-8.8z" fill="#ee8a13"/><path d="M576.9,540.2l5.9-3.7 1.9-4-5.9,3.7z" fill="#c73514"/><path d="M502.5,590.6l5.1,2.1 2.9-3.8-5-1.7z" fill="#ee691c"/><path d="M592.3,523.2l6-4.7 1.8-4-6,4.7z" fill="#c63517"/><path d="M561.5,555.6l5.8-2.8 2-4-5.7,2.8z" fill="#c83311"/><path d="M425.4,494.9l5.3,9.2 3.6-2.2-5.3-9.2z" fill="#ee8b12"/><path d="M583.6,533.6l5.9-4.2 1.9-3.9-6,4.2z" fill="#c53415"/><path d="M526.4,582.5l5.3-.7 2.6-4.1-5.3,.7z" fill="#dd4113"/><path d="M533,578.5l5.4-1.1 2.4-4.1-5.3,1.1z" fill="#d63b11"/><path d="M519.9,586.2l5.2-.4 2.6-4.1-5.2,.4z" fill="#e24815"/><path d="M568.2,549.8l5.8-3.2 2-4.1-5.8,3.3z" fill="#c63412"/><path d="M539.6,574.1l5.4-1.5 2.4-4.1-5.4,1.5z" fill="#d13810"/><path d="M513.3,589.5l5.1,0 2.8-4-5.2,0z" fill="#e65018"/><path d="M599,515.7l6.2-5.2 1.8-3.9-6.2,5.2z" fill="#c53518"/><path d="M546.2,569.4l5.5-1.9 2.3-4.1-5.5,1.9z" fill="#cd3610"/><path d="M506.6,592.4l5.2,.5 2.8-4-5.1-.5z" fill="#ec5b1b"/><path d="M552.8,564.4l5.6-2.4 2.2-4.1-5.6,2.4z" fill="#c93410"/><path d="M574.8,543.6l5.9-3.7 2-4-5.9,3.7z" fill="#c53313"/><path d="M590.3,526.6l6.1-4.7 1.8-3.9-6.1,4.7z" fill="#c43416"/><path d="M559.4,558.9l5.7-2.7 2.1-4.1-5.7,2.8z" fill="#c63210"/><path d="M581.6,537l5.9-4.1 1.9-4-5.9,4.2z" fill="#c33314"/><path d="M524.1,585.7l5.3-.7 2.6-4.1-5.3,.7z" fill="#dd4213"/><path d="M566.1,553.2l5.8-3.3 2-4-5.8,3.3z" fill="#c43211"/><path d="M530.7,581.7l5.4-1.1 2.5-4.1-5.4,1.1z" fill="#d53b10"/><path d="M597.1,519.2l6.2-5.2 1.8-3.9-6.2,5.2z" fill="#c33317"/><path d="M517.4,589.3l5.3-.3 2.7-4.1-5.3,.4z" fill="#e24915"/><path d="M537.3,577.4l5.5-1.5 2.4-4.1-5.5,1.5z" fill="#d03810"/><path d="M510.8,592.6l5.2,.1 2.8-4.1-5.2,0z" fill="#e75118"/><path d="M543.9,572.7l5.6-1.9 2.3-4.1-5.6,1.9z" fill="#cc3510"/><path d="M572.8,547l5.9-3.7 1.9-4-5.9,3.7z" fill="#c33112"/><path d="M588.3,530.1l6.1-4.7 1.9-3.9-6.1,4.6z" fill="#c23215"/><path d="M550.6,567.6l5.6-2.3 2.2-4-5.6,2.3z" fill="#c8340f"/><path d="M557.2,562.2l5.8-2.7 2.1-4.1-5.7,2.8z" fill="#c4320f"/><path d="M579.5,540.4l6-4.1 1.9-4-5.9,4.2z" fill="#c23113"/><path d="M595.2,522.7l6.1-5.2 1.9-3.9-6.2,5.2z" fill="#c13217"/><path d="M563.9,556.5l5.9-3.2 2-4-5.8,3.2z" fill="#c23010"/><path d="M521.6,588.8l5.4-.7 2.6-4-5.3,.7z" fill="#dc4213"/><path d="M528.3,584.9l5.4-1.1 2.5-4.1-5.3,1.1z" fill="#d43c10"/><path d="M515,592.4l5.2-.3 2.8-4-5.3,.3z" fill="#e34915"/><path d="M535,580.6l5.5-1.5 2.4-4.1-5.5,1.5z" fill="#cf370f"/><path d="M541.7,575.9l5.5-1.9 2.4-4-5.6,1.8z" fill="#cb350f"/><path d="M586.3,533.5l6.1-4.7 1.9-3.9-6.1,4.7z" fill="#c03015"/><path d="M570.7,550.3l5.9-3.6 2-4-5.9,3.7z" fill="#c13011"/><path d="M548.3,570.9l5.7-2.3 2.2-4.1-5.6,2.4z" fill="#c7330f"/><path d="M555.1,565.5l5.7-2.7 2.2-4-5.8,2.7z" fill="#c3320f"/><path d="M577.5,543.8l6-4.2 1.9-3.9-6,4.2z" fill="#c02f13"/><path d="M593.2,526.1l6.2-5.1 1.8-3.9-6.1,5.1z" fill="#bf3016"/><path d="M561.8,559.8l5.8-3.2 2.1-4-5.8,3.2z" fill="#c02f0f"/><path d="M525.9,588l5.4-1 2.6-4.1-5.4,1.1z" fill="#d33c10"/><path d="M519.2,592l5.3-.7 2.7-4.1-5.3,.7z" fill="#db4313"/><path d="M532.6,583.8l5.5-1.5 2.5-4.1-5.5,1.5z" fill="#cd370f"/><path d="M539.3,579.1l5.6-1.8 2.4-4.1-5.6,1.9z" fill="#c9350f"/><path d="M584.3,536.9l6.1-4.7 1.9-3.9-6.1,4.7z" fill="#bf2f14"/><path d="M568.6,553.7l5.9-3.7 2-3.9-5.9,3.7z" fill="#bf2e10"/><path d="M546.1,574.2l5.7-2.3 2.2-4.1-5.6,2.3z" fill="#c6330f"/><path d="M552.8,568.8l5.8-2.7 2.2-4-5.8,2.7z" fill="#c2310f"/><path d="M575.4,547.2l6-4.2 2-3.9-6,4.2z" fill="#be2d12"/><path d="M591.2,529.5l6.2-5.1 1.9-3.9-6.2,5.2z" fill="#be2e15"/><path d="M559.6,563.1l5.9-3.2 2.1-4-5.9,3.2z" fill="#be2d0f"/><path d="M523.5,591.2l5.4-1 2.6-4.1-5.4,1z" fill="#d23d10"/><path d="M530.2,586.9l5.5-1.4 2.6-4-5.5,1.4z" fill="#cc370f"/><path d="M582.3,540.3l6.1-4.7 1.9-3.8-6.1,4.6z" fill="#bd2d13"/><path d="M537,582.3l5.6-1.8 2.4-4-5.6,1.8z" fill="#c8350f"/><path d="M566.4,557l6-3.7 2-3.9-5.9,3.7z" fill="#bd2c10"/><path d="M543.8,577.4l5.7-2.3 2.3-4-5.7,2.3z" fill="#c4330f"/><path d="M550.6,572.1l5.8-2.7 2.2-4-5.8,2.7z" fill="#c1300e"/><path d="M573.3,550.5l6-4.1 2-3.9-6,4.2z" fill="#bc2c11"/><path d="M589.2,532.9l6.2-5.1 1.9-3.8-6.2,5.1z" fill="#bc2d14"/><path d="M557.4,566.4l5.9-3.2 2.1-3.9-5.8,3.1z" fill="#bd2d0e"/><path d="M580.2,543.6l6.2-4.6 1.9-3.8-6.1,4.6z" fill="#bb2b12"/><path d="M527.8,590.1l5.5-1.4 2.6-4-5.5,1.4z" fill="#cb370e"/><path d="M564.3,560.3l5.9-3.6 2.1-3.9-5.9,3.6z" fill="#bb2a0f"/><path d="M534.6,585.6l5.6-1.9 2.5-4-5.6,1.8z" fill="#c7350e"/><path d="M541.5,580.6l5.7-2.2 2.3-4-5.7,2.2z" fill="#c3330e"/><path d="M548.3,575.3l5.8-2.7 2.3-4-5.8,2.8z" fill="#c0300e"/><path d="M571.2,553.9l6-4.2 2.1-3.8-6.1,4.1z" fill="#ba2a10"/><path d="M587.2,536.3l6.2-5.1 2-3.8-6.3,5.1z" fill="#ba2b13"/><path d="M555.2,569.7l5.9-3.2 2.1-3.9-5.8,3.1z" fill="#bc2c0e"/><path d="M578.1,547l6.2-4.6 2-3.8-6.2,4.6z" fill="#b92a11"/><path d="M562.1,563.6l6-3.6 2.1-3.9-6,3.6z" fill="#b9290e"/><path d="M532.2,588.7l5.6-1.7 2.5-4.1-5.6,1.8z" fill="#c6350e"/><path d="M539.1,583.8l5.7-2.2 2.4-4-5.7,2.2z" fill="#c2330e"/><path d="M585.2,539.7l6.2-5.1 1.9-3.8-6.2,5.1z" fill="#b82913"/><path d="M569,557.2l6.1-4.1 2.1-3.9-6.1,4.1z" fill="#b8280f"/><path d="M546,578.6l5.8-2.7 2.3-4-5.8,2.7z" fill="#be2f0e"/><path d="M552.9,572.9l5.9-3.1 2.2-3.9-5.9,3.1z" fill="#bb2b0e"/><path d="M576,550.3l6.2-4.6 2-3.8-6.2,4.7z" fill="#b72811"/><path d="M559.8,566.9l6-3.6 2.2-3.9-6,3.6z" fill="#b7280e"/><path d="M536.7,587l5.7-2.2 2.5-4-5.8,2.3z" fill="#c1320e"/><path d="M583.1,543.1l6.2-5.1 2-3.8-6.2,5.1z" fill="#b62812"/><path d="M566.8,560.5l6.1-4.1 2.1-3.9-6.1,4.2z" fill="#b6270f"/><path d="M543.6,581.8l5.9-2.7 2.3-3.9-5.8,2.7z" fill="#bd2e0e"/><path d="M550.6,576.2l5.9-3.2 2.3-3.9-5.9,3.2z" fill="#ba2b0d"/><path d="M573.9,553.7l6.2-4.6 2-3.8-6.2,4.6z" fill="#b52610"/><path d="M557.6,570.2l6-3.6 2.2-3.9-6,3.6z" fill="#b6270d"/><path d="M581,546.4l6.3-5.1 2-3.7-6.3,5.1z" fill="#b42611"/><path d="M564.6,563.8l6.1-4.1 2.1-3.8-6,4.1z" fill="#b4250e"/><path d="M541.2,585l5.9-2.6 2.4-4-5.9,2.7z" fill="#bc2d0d"/><path d="M548.3,579.4l5.9-3.1 2.3-3.9-5.9,3.1z" fill="#b82a0d"/><path d="M571.7,557l6.2-4.6 2.1-3.8-6.2,4.6z" fill="#b3250f"/><path d="M555.3,573.4l6-3.6 2.2-3.8-6,3.6z" fill="#b5260d"/><path d="M578.9,549.8l6.2-5.1 2.1-3.8-6.3,5.2z" fill="#b22510"/><path d="M562.4,567.1l6.1-4.1 2.2-3.8-6.2,4.1z" fill="#b2230d"/><path d="M545.9,582.7l5.9-3.2 2.4-3.8-6,3.1z" fill="#b7290d"/><path d="M569.5,560.3l6.2-4.6 2.1-3.7-6.2,4.6z" fill="#b1230e"/><path d="M553,576.7l6-3.6 2.3-3.8-6.1,3.6z" fill="#b4260d"/><path d="M576.7,553.1l6.3-5.1 2.1-3.7-6.3,5.1z" fill="#b12310"/><path d="M560.1,570.3l6.1-4 2.2-3.8-6.1,4.1z" fill="#b1220d"/><path d="M567.3,563.6l6.2-4.6 2.1-3.7-6.2,4.6z" fill="#af210e"/><path d="M550.6,579.9l6.1-3.5 2.3-3.9-6.1,3.6z" fill="#b3250c"/><path d="M574.5,556.4l6.3-5.1 2.1-3.7-6.3,5.1z" fill="#af210f"/><path d="M557.8,573.6l6.1-4.1 2.3-3.7-6.2,4.1z" fill="#b0220c"/><path d="M565,566.9l6.3-4.6 2.1-3.7-6.2,4.6z" fill="#ad200d"/><path d="M572.3,559.7l6.3-5.1 2.2-3.6-6.3,5z" fill="#ad200e"/><path d="M555.5,576.9l6.1-4.1 2.3-3.8-6.2,4.1z" fill="#af210c"/><path d="M562.7,570.1l6.3-4.5 2.2-3.7-6.2,4.5z" fill="#ac1e0c"/><path d="M570.1,563l6.3-5.1 2.2-3.6-6.4,5.1z" fill="#ab1e0d"/><path d="M560.4,573.4l6.3-4.6 2.2-3.7-6.2,4.6z" fill="#aa1d0c"/><path d="M567.8,566.3l6.3-5.1 2.2-3.6-6.3,5z" fill="#a91d0d"/><path d="M565.5,569.5l6.3-5 2.3-3.7-6.4,5.1z" fill="#a71b0c"/></g>
<path d="M425.98,495.36 L428.57,499.85 L431.14,504.23 L433.7,508.5 L436.23,512.66 L438.74,516.71 L441.24,520.66 L443.72,524.5 L446.18,528.24 L448.64,531.88 L451.07,535.42 L453.5,538.86 L455.91,542.21 L458.31,545.46 L460.7,548.62 L463.08,551.68 L465.45,554.65 L467.82,557.53 L470.17,560.32 L472.52,563.02 L474.86,565.64 L477.2,568.16 L479.53,570.6 L481.86,572.95 L484.19,575.22 L486.51,577.4 L488.83,579.49 L491.15,581.5 L493.47,583.43 L495.79,585.27 L498.12,587.02 L500.44,588.68 L502.77,590.23 L505.09,591.53 L507.39,592.1 L509.7,592.25 L512.02,592.26 L514.35,592.16 L516.69,591.98 L519.05,591.7 L521.43,591.32 L523.82,590.85 L526.23,590.29 L528.67,589.64 L531.12,588.88 L533.59,588.03 L536.09,587.08 L538.61,586.02 L541.16,584.87 L543.73,583.6 L546.33,582.24 L548.96,580.76 L551.62,579.17 L554.31,577.46 L557.03,575.64 L559.79,573.7 L562.59,571.64 L565.42,569.45 L568.29,567.13 L571.21,564.68 L571.21,564.68 L572.5,562.86 L573.78,561.03 L575.04,559.19 L576.3,557.35 L577.55,555.51 L578.79,553.67 L580.01,551.82 L581.23,549.96 L582.44,548.1 L583.64,546.24 L584.83,544.37 L586.02,542.5 L587.19,540.63 L588.36,538.75 L589.51,536.86 L590.66,534.97 L591.8,533.08 L592.94,531.18 L594.07,529.28 L595.19,527.37 L596.3,525.46 L597.4,523.54 L598.5,521.61 L599.59,519.68 L600.68,517.75 L601.76,515.81 L602.83,513.86 L603.9,511.91 L604.96,509.96 L606.01,507.99 L607.06,506.03 L608.11,504.05 L609.14,502.07 L610.18,500.09 L611.2,498.1 L612.23,496.1 L613.24,494.09 L614.26,492.09 L615.26,490.07 L616.27,488.05 L617.26,486.02 L618.26,483.98 L619.25,481.94 L620.23,479.89 L621.21,477.84 L622.19,475.78 L623.16,473.71 L624.13,471.63 L625.1,469.55 L626.06,467.46 L627.02,465.37 L627.97,463.27 L628.92,461.16 L629.87,459.04 L630.81,456.91 L631.76,454.78 L632.69,452.64 L633.63,450.5 L634.56,448.34 L634.56,448.34 L631.85,450.96 L629.17,453.45 L626.53,455.83 L623.93,458.09 L621.36,460.24 L618.83,462.28 L616.32,464.21 L613.85,466.04 L611.4,467.76 L608.99,469.38 L606.6,470.89 L604.23,472.31 L601.89,473.63 L599.58,474.85 L597.29,475.98 L595.02,477.02 L592.78,477.96 L590.55,478.81 L588.35,479.58 L586.16,480.25 L583.99,480.84 L581.85,481.34 L579.71,481.75 L577.6,482.08 L575.5,482.33 L573.41,482.49 L571.34,482.57 L569.28,482.57 L567.24,482.49 L565.2,482.32 L563.18,482.08 L561.17,481.75 L559.17,481.35 L557.18,480.86 L555.2,480.28 L553.23,479.62 L551.27,478.8 L549.32,477.49 L547.39,475.58 L545.45,473.49 L543.52,471.29 L541.59,469.01 L539.66,466.64 L537.73,464.18 L535.8,461.65 L533.87,459.02 L531.94,456.32 L530,453.53 L528.06,450.65 L526.12,447.68 L524.17,444.63 L522.22,441.49 L520.27,438.26 L518.31,434.93 L516.34,431.52 L514.37,428.01 L512.39,424.41 L510.4,420.71 L508.41,416.91 L508.41,416.91 L507.27,418.51 L506.14,420.09 L504.99,421.67 L503.84,423.24 L502.68,424.79 L501.51,426.34 L500.34,427.88 L499.16,429.41 L497.98,430.94 L496.78,432.45 L495.58,433.95 L494.37,435.45 L493.15,436.93 L491.93,438.41 L490.7,439.88 L489.46,441.34 L488.21,442.79 L486.95,444.23 L485.68,445.66 L484.41,447.08 L483.13,448.5 L481.84,449.9 L480.53,451.3 L479.22,452.68 L477.9,454.06 L476.57,455.43 L475.23,456.79 L473.88,458.14 L472.53,459.48 L471.16,460.81 L469.78,462.14 L468.38,463.45 L466.98,464.75 L465.57,466.05 L464.14,467.34 L462.71,468.61 L461.26,469.88 L459.8,471.14 L458.33,472.39 L456.85,473.63 L455.35,474.86 L453.84,476.08 L452.32,477.29 L450.78,478.49 L449.24,479.69 L447.67,480.87 L446.1,482.04 L444.51,483.21 L442.9,484.36 L441.28,485.51 L439.64,486.64 L437.99,487.77 L436.33,488.88 L434.65,489.99 L432.95,491.08 L431.23,492.17 L429.5,493.24 L427.75,494.31 L425.98,495.36Z" fill="none" stroke="#2a1a1a" stroke-opacity="0.75" stroke-width="0.7"/>
<line x1="421.2" y1="490.8" x2="507.5" y2="403.4" stroke="#7c7c7c" stroke-width="0.6"/>
<line x1="507.5" y1="403.4" x2="638.4" y2="445.4" stroke="#7c7c7c" stroke-width="0.6"/>
<line x1="421.2" y1="490.8" x2="430.8" y2="571.4" stroke="#7c7c7c" stroke-width="0.6"/>
<line x1="638.4" y1="445.4" x2="630" y2="523" stroke="#7c7c7c" stroke-width="0.6"/>
<line x1="572.7" y1="558.7" x2="570.2" y2="640.4" stroke="#7c7c7c" stroke-width="0.6"/>
<line x1="430.8" y1="571.4" x2="570.2" y2="640.4" stroke="#7c7c7c" stroke-width="0.6"/>
<line x1="570.2" y1="640.4" x2="630" y2="523" stroke="#7c7c7c" stroke-width="0.6"/>
<line x1="638.4" y1="445.4" x2="572.7" y2="558.7" stroke="#5c6474" stroke-width="0.6"/>
<line x1="572.7" y1="558.7" x2="421.2" y2="490.8" stroke="#5c6474" stroke-width="0.6"/>
<path d="M430.9,570.4L433.4,571.7M430.3,565.9L434.8,568.2M429.8,561.4L432.3,562.6M429.2,556.8L431.7,558.0M428.6,552.1L431.2,553.4M428.0,547.4L430.6,548.7M427.4,542.6L432.0,544.9M426.8,537.8L429.5,539.1M426.2,533.0L428.9,534.2M425.6,528.0L428.3,529.3M425.0,523.1L427.7,524.3M424.4,518.0L429.1,520.2M423.8,512.9L426.4,514.2M423.1,507.8L425.8,509.0M422.5,502.6L425.2,503.8M421.8,497.3L424.6,498.5M421.2,492.0L426.0,494.1M433.2,572.1L435.6,569.0M570.9,638.4L566.8,636.3M440.7,575.8L442.1,574.0M575.3,629.8L572.9,628.6M448.2,579.7L449.7,577.8M579.6,621.5L577.2,620.3M456.0,583.6L457.4,581.7M583.7,613.3L581.4,612.2M463.8,587.5L466.1,584.3M587.8,605.4L583.8,603.6M471.7,591.5L473.1,589.6M591.7,597.7L589.4,596.6M479.7,595.6L481.1,593.6M595.6,590.2L593.3,589.1M487.9,599.7L489.2,597.7M599.3,582.8L597.0,581.8M496.1,603.9L498.4,600.5M603.0,575.7L599.2,574.0M504.5,608.1L505.8,606.1M606.5,568.7L604.3,567.7M513.0,612.4L514.3,610.4M610.0,561.9L607.8,561.0M521.6,616.8L522.9,614.7M613.4,555.3L611.2,554.3M530.4,621.2L532.5,617.6M616.7,548.8L613.1,547.2M539.3,625.7L540.5,623.6M620.0,542.4L617.8,541.5M548.3,630.3L549.5,628.1M623.1,536.2L621.0,535.4M557.5,634.9L558.7,632.7M626.2,530.2L624.1,529.3M566.8,639.6L568.7,635.8M629.2,524.3L625.7,522.9" stroke="#8a8a8a" stroke-width="0.55" fill="none"/>
<text x="418" y="492" style="font-family:'Liberation Serif',serif;font-size:17.5px;fill:#111" text-anchor="end">30</text>
<text x="419.9" y="518" style="font-family:'Liberation Serif',serif;font-size:17.5px;fill:#111" text-anchor="end">20</text>
<text x="423.7" y="542.2" style="font-family:'Liberation Serif',serif;font-size:17.5px;fill:#111" text-anchor="end">10</text>
<text x="427.4" y="565" style="font-family:'Liberation Serif',serif;font-size:17.5px;fill:#111" text-anchor="end">0</text>
<text x="420.5" y="594.1" style="font-family:'Liberation Serif',serif;font-size:17.5px;fill:#111" text-anchor="middle">&#8722;4</text>
<text x="451.4" y="610.1" style="font-family:'Liberation Serif',serif;font-size:17.5px;fill:#111" text-anchor="middle">&#8722;2</text>
<text x="490.5" y="625.8" style="font-family:'Liberation Serif',serif;font-size:17.5px;fill:#111" text-anchor="middle">0</text>
<text x="525.5" y="643.8" style="font-family:'Liberation Serif',serif;font-size:17.5px;fill:#111" text-anchor="middle">2</text>
<text x="562.3" y="661.8" style="font-family:'Liberation Serif',serif;font-size:17.5px;fill:#111" text-anchor="middle">4</text>
<text x="635.4" y="536.7" style="font-family:'Liberation Serif',serif;font-size:17.5px;fill:#111" text-anchor="middle">4</text>
<text x="623.1" y="560.8" style="font-family:'Liberation Serif',serif;font-size:17.5px;fill:#111" text-anchor="middle">2</text>
<text x="609.4" y="587.8" style="font-family:'Liberation Serif',serif;font-size:17.5px;fill:#111" text-anchor="middle">0</text>
<text x="601.7" y="618.6" style="font-family:'Liberation Serif',serif;font-size:17.5px;fill:#111" text-anchor="middle">&#8722;2</text>
<text x="585" y="650.8" style="font-family:'Liberation Serif',serif;font-size:17.5px;fill:#111" text-anchor="middle">&#8722;4</text>
<text x="441" y="647" style="font-family:'Liberation Serif',serif;font-size:18px;fill:#111"><tspan font-style="italic">y</tspan><tspan dy="3.5" font-size="13">1</tspan><tspan dy="-3.5">/</tspan><tspan font-style="italic">y</tspan><tspan dy="3.5" font-size="13">10</tspan></text>
<text x="616" y="594" style="font-family:'Liberation Serif',serif;font-size:18px;fill:#111"><tspan font-style="italic">y</tspan><tspan dy="3.5" font-size="13">2</tspan><tspan dy="-3.5">/</tspan><tspan font-style="italic">y</tspan><tspan dy="3.5" font-size="13">20</tspan></text>
<text x="366" y="522.5" style="font-family:'Liberation Serif',serif;font-size:19px;fill:#111"><tspan font-style="italic">E</tspan>/<tspan font-style="italic">&#969;</tspan><tspan dy="4" font-size="14">1</tspan></text>
<defs><clipPath id="ccclip"><rect x="402.6" y="683.1" width="209" height="208.8"/></clipPath></defs>
<g clip-path="url(#ccclip)">
<rect x="402.6" y="683.1" width="209" height="208.8" fill="#fdeec0"/>
<path d="M397.4,897.1l219.4,0 0-219.2-219.3,0-.1,219.2z" fill="#fdeec0" stroke="#000" stroke-opacity="0.5" stroke-width="0.7"/>
<path d="M397.4,897.1l219.4,0 0-219.2-217.2,0-2.2,6.8 0,212.4z" fill="#fdeec0" stroke="#000" stroke-opacity="0.5" stroke-width="0.7"/>
<path d="M397.4,897.1l219.4,0 0-219.2-215.1,0-4.3,13.6 0,205.6z" fill="#fdeec0" stroke="#000" stroke-opacity="0.5" stroke-width="0.7"/>
<path d="M397.4,897.1l218.1,0 1.3-4.2 0-215-212.9,0-3.4,10.1-3.1,10.7 0,198.4z" fill="#fdedbe" stroke="#000" stroke-opacity="0.5" stroke-width="0.7"/>
<path d="M397.4,897.1l216,0 3.4-10.9 0-208.3-210.7,0-4.5,13.6-4.2,14.9 0,190.7z" fill="#fce7b4" stroke="#000" stroke-opacity="0.5" stroke-width="0.7"/>
<path d="M397.4,897.1l213.8,0 5.6-17.9 0-201.3-208.4,0-5.8,17.3-5.2,19.4 0,182.5z" fill="#fce2ab" stroke="#000" stroke-opacity="0.5" stroke-width="0.7"/>
<path d="M397.4,897.1l211.6,0 4.2-12.5 3.6-12.8 0-193.9-206,0-4,11.2-3.4,10.7-3.1,11.5-2.9,12.3 0,173.5z" fill="#fbdda2" stroke="#000" stroke-opacity="0.5" stroke-width="0.7"/>
<path d="M398.1,897.1l208.6,0 5.3-15.6 4.8-17.7 0-185.9-203.5,0-4.6,12.5-4.3,13.6-3.8,14.6-3.2,15.1 0,159.8 .7,3.6z" fill="#fad89a" stroke="#000" stroke-opacity="0.5" stroke-width="0.7"/>
<path d="M400.2,897.1l204.1,0 3.4-9.4 3.3-10.4 3-10.5 2.8-11.7 0-177.2-200.9,0-5.9,15.6-4.8,15.7-4.4,17.7-3.4,18.2 0,137 2.8,15z" fill="#f9d392" stroke="#000" stroke-opacity="0.5" stroke-width="0.7"/>
<path d="M402.3,897.1l199.6,0 4.5-12.2 4-12.8 3.3-12.6 3.1-14 0-167.6-198.3,0-3.4,8.3-3.4,9.4-3,9.4-3,10.6-4.7,20.7-3.6,22.7 0,109.2 2.1,14.3 2.8,14.6z" fill="#f8ce8b" stroke="#000" stroke-opacity="0.5" stroke-width="0.7"/>
<path d="M404.5,897.1l194.9,0 5.4-14.6 4.7-15.2 4-16.1 3.3-16.5 0-146.6-1.9-10.2-193.6,0-4.1,9.7-4.2,11.4-3.8,12.3-3.3,12.5-2.7,12.5-2.4,13.6-1.9,13.6-1.5,14.3 0,71.6 1.2,12.2 1.7,12.6 1.9,11.4 2.3,11.5z" fill="#f6c883" stroke="#000" stroke-opacity="0.5" stroke-width="0.7"/>
<path d="M406.8,897.1l189.9,0 6.4-16.7 5.4-17.7 4.7-19.9 3.6-20.9 0-121-1.8-11.5-2.2-11.5-188.5,0-5,11.2-4.2,11.2-4.1,13.1-3.2,12.1-2.8,12.9-2.4,13.6-2,14.6-1.4,14.6-.9,14.7-.4,14.6 .2,15.6 .7,14.6 1.2,14.7 1.7,13.5 2.3,14.6 2.8,13.6z" fill="#f4c17b" stroke="#000" stroke-opacity="0.5" stroke-width="0.7"/>
<path d="M408.9,896.1l.2,1 184.9,0 4-9.6 4.1-11.3 3.2-10.4 3.1-11.5 2.6-11.5 2.4-12.5 2-12.5 1.4-12.1 0-88.6-2.7-20.4-3.5-18.8-183.2,0-4.9,10.4-4.2,10.7-4.2,12.3-3.5,12.5-3.1,13.6-2.5,13.6-2.1,14.6-1.5,14.6-1,14.6-.4,14.6 .1,15.7 .7,14.6 1.2,14.6 1.7,13.6 2.4,14.6 2.8,13.6z" fill="#f3bb73" stroke="#000" stroke-opacity="0.5" stroke-width="0.7"/>
<path d="M411.5,897.1l179.6,0 4.8-11.1 4.2-11.4 4-13 3.3-12.5 2.9-13.6 2.3-13.5 2-14.7 1.3-13.5 .9-16.3 0-32.2-.6-11-1.2-14.7-1.8-14.6-2.1-13.5-2.8-13.6-177.7,0-5,10.2-4.5,10.7-4,11.4-4.1,13.8-3.1,13.1-2.7,13.9-2.1,14.6-1.6,14.6-1,14.6-.4,14.6 .2,15.7 .7,14.6 1.2,14.6 1.9,14.6 2.5,14.6 2.9,13.6z" fill="#f1b46b" stroke="#000" stroke-opacity="0.5" stroke-width="0.7"/>
<path d="M414,897.1l174.1,0 4.7-10.3 4.2-10.7 4.1-12.4 3.4-12.5 2.9-12.6 2.7-14.6 2.1-14.6 1.5-14.6 .9-14.6 .5-14.6-.2-15.7-.7-14.6-1.2-14.6-1.8-14.6-2.4-14.6-2.8-13.6-171.8,0-5.5,10.3-4.6,10.6-4.3,11.4-3.8,12.6-3.5,13.5-2.7,13.6-2.3,14.6-1.6,14.6-1.1,15.7-.5,14.6 .2,15.7 .7,14.6 1.3,14.6 1.9,14.6 2.6,14.6 3,13.6z" fill="#efae63" stroke="#000" stroke-opacity="0.5" stroke-width="0.7"/>
<path d="M416.6,897.1l168.3,0 5-10.4 4.7-11.5 3.9-11.5 3.7-12.9 3.1-13.2 2.6-13.6 2.1-14.6 1.5-14.6 1-14.6 .4-14.6-.1-15.7-.7-14.6-1.2-14.6-1.9-14.6-2.4-14.6-2.9-13.6-165.7,0-5.1,8.7-5.2,10.9-4.7,11.7-4.1,12.5-3.6,13.6-2.9,13.6-2.4,14.6-1.7,14.6-1.2,14.6-.5,15.7 .1,15.6 .8,15.7 1.4,15.1 2.1,15.2 2.5,13.5 3.1,13.6z" fill="#eda85c" stroke="#000" stroke-opacity="0.5" stroke-width="0.7"/>
<path d="M419,896.1l.3,1 162.2,0 5-9.8 4.8-11.1 4.2-11.4 3.8-12.6 3.4-13.5 2.7-13.6 2.2-14.6 1.6-14.6 1.1-14.7 .5-15.6-.2-15.7-.7-14.6-1.3-14.6-1.9-14.6-2.4-14.2-3.1-14-159.1,0-5.9,9.4-4.8,9.4-4.8,11-4.2,11.9-3.9,13.6-3.1,13.6-2.6,14.6-1.9,14.6-1.3,14.6-.7,15.7 .1,15.7 .7,15.6 1.3,14.6 2.1,15.7 2.7,14.6 3.2,13.6z" fill="#eba759" stroke="#000" stroke-opacity="0.5" stroke-width="0.7"/>
<path d="M422.2,897.1l155.6,0 5.6-10.1 4.9-10.8 4.5-11.7 3.9-12.3 3.4-13.3 2.9-13.8 2.3-14.6 1.7-14.6 1-14.7 .5-15.6-.1-14.6-.7-15.7-1.4-14.6-2-15.2-2.6-14-3.1-13.6-151.8,0-5.9,8.3-5.9,10.4-5.2,11.4-4.2,11.1-4,13.1-3.4,13.5-2.7,14.7-2.2,15.6-1.3,15.7-.7,15.6 .1,15.7 .8,15.7 1.5,15.6 2.1,14.6 2.9,14.6 3.5,13.6z" fill="#eaa557" stroke="#000" stroke-opacity="0.5" stroke-width="0.7"/>
<path d="M425.1,897.1l148.7,0 5.4-8.9 5.2-10.4 4.6-11 4.3-12.5 3.7-13.2 3.1-13.9 2.5-14.6 1.8-14.7 1.2-14.6 .6-15.6-.1-15.7-.7-15.7-1.4-15.6-2.1-14.6-2.7-14.6-3.2-13.6-143.8,0-4.7,5.4-6.2,9.1-5.2,9.5-4.7,10.4-4.3,11.5-3.7,12.5-3.3,13.6-2.6,14.6-1.9,14.6-1.2,14.7-.6,15.6 .2,15.7 .9,15.6 1.5,14.7 2.3,14.6 2.8,13.5 3.6,13.6z" fill="#e8a455" stroke="#000" stroke-opacity="0.5" stroke-width="0.7"/>
<path d="M428.3,897.1l141,0 5.7-8.4 5.2-9.4 5.3-11.6 4.5-12.3 3.8-12.8 3.2-13.3 2.7-14.7 2.2-15.6 1.3-15.7 .6-15.6 0-15.7-.8-15.7-1.5-15.6-2.1-14.6-2.8-14.6-3.4-13.6-134.4,0-5.5,5.2-5.3,6.3-5.7,8.5-5,9.2-4.4,10-4.3,11.9-3.6,12.6-3.1,13.5-2.3,13.6-1.8,14.6-1.1,14.6-.3,14.7 .3,15.6 1,14.6 1.6,14 2.4,14.2 2.8,12.9 3.8,13.2z" fill="#e0a15d" stroke="#000" stroke-opacity="0.5" stroke-width="0.7"/>
<path d="M431.6,897.1l132.7,0 4.5-5.6 5.2-8 5.6-10.4 4.8-11 4.2-11.8 3.7-12.7 3.1-13.6 2.6-14.6 1.8-14.6 1.1-14.6 .5-15.7-.2-15.6-.9-14.6-1.5-14.7-2.2-14.6-2.8-13.5-3.5-13.6-121.9,0-5.2,3-5.2,4.2-5.2,5.3-4.2,5.3-5.2,8-5.3,10-4.2,10.1-4,11.5-3.3,12-2.8,13.1-2.1,13.5-1.5,13.6-.9,14.6-.2,14.6 .5,14.6 1.1,13.6 1.8,13.9 2.4,13.3 2.9,12.5 3.8,12.5z" fill="#d69e66" stroke="#000" stroke-opacity="0.5" stroke-width="0.7"/>
<path d="M434.8,896.1l.4,1 123,0 5.3-5.5 5.3-6.8 5.2-8.4 5.2-10.3 4.2-10 4.2-12.4 3.3-12.4 2.9-13.5 2.2-13.6 1.7-14.6 .9-14.6 .3-14.6-.4-14.7-1-14.6-1.6-13.5-2.3-13.6-2.9-13.5-3.5-12.6-108.7,0-1.4,2.1-1.3,1-8.4,3.9-3.1,1.9-3.5,2.6-6,5.7-5.4,6.8-5,8-4.5,8.7-4.3,10.4-3.7,11.2-3.2,11.7-2.6,12.6-2,13.6-1.4,13.6-.7,13.5-.1,14.7 .7,13.5 1.2,13.6 1.8,12.6 2.6,13.5 3,11.5 3.6,11.5z" fill="#c99a70" stroke="#000" stroke-opacity="0.5" stroke-width="0.7"/>
<path d="M439.1,897.1l110.9,0 5.2-3.7 4.2-3.9 5.2-6 4.2-5.8 5.1-8.8 4.3-8.8 4.1-10.5 3.9-12 3.2-12.5 2.5-12.5 2-13.6 1.4-13.6 .8-13.6 .1-14.6-.5-14.6-1.2-13.6-1.7-13.5-2.3-12.6-2.9-12.7-3.7-12.3-101.7,0-2.3,6-1,1.9-1.1,1.1-9.4,4.2-6.2,4.2-6.3,6-3.1,3.8-3.2,4.4-4.7,8.1-4.5,9.3-4,10.5-3.2,10.4-2.8,11.5-2.4,12.5-1.6,12.6-1.1,13.5-.5,13.6 .3,13.6 .9,13.6 1.4,12.5 2.1,12.5 2.6,11.5 3.3,11.5 3.7,10.4z" fill="#b89278" stroke="#000" stroke-opacity="0.5" stroke-width="0.7"/>
<path d="M442.9,896.1l.5,1 76,0 1.3-1.4 1-.5 1.1-.1 8.3,1 4.2,0 3.1-.5 4.2-1.2 4.2-1.8 4.2-2.6 3.1-2.3 4.2-3.9 3.1-3.5 6.3-8.5 5.2-9.1 4.2-9.1 4.1-10.8 3.2-10.5 3.1-12.4 2.2-11.5 1.9-13.6 1.2-13.6 .6-13.5 0-13.6-.7-13.6-1.2-13.6-1.8-12.6-2.7-13.5-2.9-11.4-3.6-11.5-94.7,0-4,11.5-1.9,3.5-2.1,1.5-8.3,3.4-3.2,1.8-3.1,2.3-3.1,2.8-3.2,3.3-3.1,3.8-3.2,4.7-4.2,7.3-4.4,9.4-3.8,10.5-3.1,10.4-2.6,11.5-1.9,11.5-1.5,12.5-.9,12.5-.2,12.5 .3,12.6 1,12.5 1.6,12.5 2.3,12.6 2.8,11.4 3.2,10.2 3.7,9.7z" fill="#a88b80" stroke="#000" stroke-opacity="0.5" stroke-width="0.7"/>
<path d="M448.3,897.1l65.7,0 3.6-6.6 1-1.5 1-.8 2.1-.2 8.4,1.6 6.3-.2 3.1-.6 3.1-1 3.2-1.3 3.1-1.8 5.2-4 4.6-4.5 4.8-6 4.2-6.5 4.5-8.3 4.1-9.4 3.9-11.3 3-10.7 2.6-11.4 2.1-12.6 1.5-12.5 .8-12.5 .4-13.6-.3-12.5-.9-13.6-1.5-12.5-2.1-12.6-2.4-10.8-3.2-11.3-3.5-10.2-87.1,0-6.5,19-1.1,2.4-1,1.3-2.1,1.2-5.2,1.7-3.2,1.3-3.1,1.8-3.1,2.3-3.8,3.4-3.6,4.1-3.1,4.2-3.1,5-4.2,8-3.7,9-3.5,10.4-2.7,10.5-2.2,11.5-1.6,11.5-1,11.4-.5,12.6 .2,12.5 .7,11.5 1.3,11.5 1.8,11.4 2.6,11.5 3.1,10.5 3.4,9.3 3.9,8.4z" fill="#978488" stroke="#000" stroke-opacity="0.5" stroke-width="0.7"/>
<path d="M453.3,896.1l.7,1 54.2,0 3.1-5.3 4.2-8.3 2.1-2.9 1-.5 1,0 8.4,2.3 5.2,.4 3.2-.2 3.1-.6 5.2-2 3.2-1.8 3.1-2.2 3.1-2.6 3.2-3.2 5.2-6.6 5.2-8.5 4.2-8.6 3.5-8.9 3.4-10.4 2.7-10.5 2.3-11.5 1.7-11.4 1.3-12.6 .6-12.5 .1-12.5-.6-12.5-1.1-12.6-1.6-11.5-2.2-11.4-2.8-11.2-3.1-10-3.5-9.1-78.8,0-4.4,11.5-4.9,15.6-1.4,2.9-1.1,1-1,.5-5.2,1.4-4.2,1.7-3.2,1.7-3.1,2.3-4.2,4-3.1,3.7-3.2,4.4-3.1,5.3-4.2,8.7-3.1,8.2-2.9,9.6-2.3,9.6-2,11.2-1.3,10.5-.9,12.5-.1,11.5 .4,11.5 .9,11.5 1.6,11.4 2.1,10.5 2.5,9.4 3.1,9.4 3.9,9.4 3.9,7.3z" fill="#8b808e" stroke="#000" stroke-opacity="0.5" stroke-width="0.7"/>
<path d="M460.4,896.1l.9,1 39.5,0 3.2-4 3.1-4.9 7.1-14 1.3-1.9 1-.7 1.1,0 8.3,3 3.1,.7 3.2,.3 3.1-.1 3.1-.6 3.2-.9 3.1-1.4 3.2-1.9 3.1-2.4 3.1-2.8 3.2-3.5 5.2-7.1 5.2-9.4 3.9-8.9 3.3-9.4 2.7-9.4 2.3-10.5 2-11.4 1.3-11.5 .8-11.5 .3-11.5-.3-11.5-.8-11.5-1.3-11.5-1.8-10.4-2.3-10.4-2.8-10.1-3.1-9-3.9-9.1-69.6,0-2.8,6.2-3.1,8.3-6.3,21-1,2.6-1.1,1.3-1,.6-6.3,1.3-4.2,1.6-3.1,1.7-3.2,2.4-4.1,4-3.2,3.9-3.1,4.7-3.1,5.7-3.5,7.8-3.2,9.4-2.7,10.1-2,9.7-1.4,10.4-1,11.5-.3,11.5 .3,10.4 .9,11.5 1.4,10.4 2,10.5 2.5,9.4 2.8,8.4 3.5,8.3 3.8,7.1 4.5,6.5z" fill="#7e7d96" stroke="#000" stroke-opacity="0.5" stroke-width="0.7"/>
<path d="M471.9,896.1l2.1,1 14,0 2.4-1.1 3.1-2.1 5.2-5 4.2-5.7 4.2-7.4 5.2-11.4 1.1-1.7 1-.8 1.1,0 1,.4 5.2,2.7 4.2,1.7 3.1,.8 3.2,.3 4.2-.2 3.1-.7 3.1-1.2 3.6-2 2.7-1.9 3.1-2.7 3.2-3.3 2.8-3.6 5.3-8.3 4.5-9.4 3.2-8.4 2.9-9.4 2.2-9.4 2-10.4 1.4-10.4 .9-10.5 .4-11.5-.1-10.4-.6-10.4-1.1-11.5-1.6-10.5-2.2-10.4-2.3-8.4-3.1-9.5-3.1-7.6-4.1-7.9-58.9,0-4.2,8.3-3.9,9.8-3.5,11.1-3.8,15.4-1.3,3.4-.8,1-1,.6-6.3,.8-4.2,1.2-4.2,2.2-3.1,2.4-4.2,4.3-3.8,5.3-3.5,6-3,6.5-3.3,9.3-2.2,8.4-2,9.4-1.5,11.5-.8,10.4-.1,11.5 .4,10.5 1.1,10.4 1.7,10.5 2.4,9.9 3.1,9.8 3.1,7.5 4.2,7.7 4.2,5.7 4.2,4.2 4.5,3.2z" fill="#707a9f" stroke="#000" stroke-opacity="0.5" stroke-width="0.7"/>
<path d="M478.8,887.7l4.4,0 3-.7 2.1-.9 4.2-2.7 4-4 3.3-4.3 3.1-5.3 3.2-6.7 4.1-10.4 1.1-1.6 1-.6 1.1,.3 6.2,4.3 3.2,1.8 4.2,1.7 4.1,.8 4.2,0 4.2-.9 4.2-1.9 3.1-2 3.1-2.6 3.2-3.2 5.2-7 4.6-8.4 4-9.4 2.8-8.3 2.3-8.4 2-9.8 1.5-10 1-10.4 .5-10.5 0-10.4-.5-10.5-1-10.4-1.5-10-2.1-9.8-2.2-8.4-3-9.1-3.2-7.4-3.3-6.5-4.1-6.2-45.8,0-3.2,4.7-3.1,5.7-2.9,6.3-2.4,6.2-4.1,13.6-4.2,19.6-1.1,3.2-1,1.3-1.1,.4-6.2-.1-4.2,.8-4.2,1.9-3.1,2.3-4.2,4.2-3.6,5-3.7,6.9-2.8,6.7-2.6,8.4-2.2,9.4-1.5,9.4-.9,10.4-.3,10.4 .4,9.4 1,10.5 1.5,9.4 2.2,8.9 2.8,8.8 3.2,7.3 3.4,5.9 4.1,5.5 4.2,3.8 4.2,2.4 4.1,1.2z" fill="#6375a6" stroke="#000" stroke-opacity="0.5" stroke-width="0.7"/>
<path d="M478.9,875.2l4.2,0 4.1-1.4 4.2-2.9 3.7-4.1 2.8-4.1 2.9-5.6 2.8-7 3.5-10.9 1-2.3 .6-.3 .5-.3 1,.3 8.9,8.3 3.7,2.6 3.1,1.5 4.1,1.1 3.2,.3 3.2-.3 3.1-.9 4.2-2 3.1-2.2 3.4-3.2 3.5-4.2 2.8-4.2 2.9-5.2 2.9-6.2 2.4-6.3 2.6-8.4 2.2-9.4 1.6-9.4 1.2-10.4 .6-10.4 0-10.5-.5-10.4-1-10.5-1.6-9.8-2.1-9.3-2.3-8-3.1-8.4-3.4-7.3-3.7-6.2-4.2-5.4-4.2-4-27.2,0-4.1,4-4.2,5.3-3.2,5.3-3.6,7.3-3.2,8.4-2.5,8.3-1.8,7.3-1.8,9.4-2.1,14.6-.6,3-.6,1.2-.5,.7-1,.4-6.3-1.5-4.2-.1-4.1,1.2-3.2,1.9-4,3.7-3.3,4.4-3.1,5.6-3.2,7.7-2.1,7.1-1.6,7.5-1.1,7.3-.7,8.4-.1,8.3 .3,8.4 .8,8.3 1.4,8.2 1.8,7.5 2.4,7 2.4,5.5 2.8,4.9 3.1,4.2 3.2,3.1 3.1,2 4.2,1.5z" fill="#576fab" stroke="#000" stroke-opacity="0.5" stroke-width="0.7"/>
<path d="M480,859.5l2,0 2.1-.4 3.2-1.7 2-1.7 2.1-2.3 3.2-4.9 2.5-5.7 2.3-7.3 1.6-7.3 1.9-12.7 1.1-2.4 1,.6 1.1,1.5 4.5,7.8 3.5,5.2 2.5,3.1 3,3.1 3.2,2.4 4.2,2.2 3.1,.9 4.2,.3 4.1-.9 3.7-1.7 3.7-2.6 3.6-3.7 3.7-4.9 3.1-5.4 3-6.4 2.2-6.1 2.5-8.5 2-9.4 1.4-9.4 .9-10.4 .2-10.4-.3-9.4-.9-10.5-1.5-9.4-2.1-9.4-2.2-7.4-3.1-8.1-3.2-6.4-4.1-6.3-3.6-4.1-4.8-3.8-4.2-2-4.1-.9-4.2,.3-4.2,1.4-4.2,2.6-3.7,3.4-3.6,4.4-3.1,4.9-3.2,6.3-2.5,6.3-2.3,7.3-1.9,7.3-1.6,8.4-1.7,14.6-1,20.9-.5,4.4-1,.9-1-.6-5.3-5-2.1-1.5-2-1-2.1-.6-2.1-.1-3.2,.6-2,1-2.1,1.6-3.2,3.4-3.2,5.2-2.9,7.4-1.5,5.2-1.1,5.2-.8,6.3-.5,6.2-.1,6.3 .4,6.3 .5,5.2 1.1,6.2 1.4,5.3 1.5,4.6 2.1,4.8 2.1,3.6 2.1,2.8 3.1,2.9 3.1,1.6 2.2,.5z" fill="#4b69ae" stroke="#000" stroke-opacity="0.5" stroke-width="0.7"/>
<path d="M478.9,833.4l2.1,.6 2.1-.5 1.6-1.1 1.5-1.8 1.8-3.4 1-3.2 .9-4.1 .4-4.2 .1-4.2-.4-4.2-.7-3.7-1.1-3.6-1.5-3.1-1.5-2.1-2.1-1.5-2.1-.4-2.1,.6-1.1,.8-2,2.5-1.1,1.9-1,2.7-1,3.8-.8,6.3 .3,7.3 1.5,6.8 2.1,4.6 1,1.5 2.1,1.7zM530.2,828.2l3,.3 3.2-.4 3.1-1.1 3.1-1.9 3.2-2.8 2.1-2.4 2.9-4.2 2.3-4.1 2.1-4.5 2.1-5.6 3.1-11.7 2-12.7 .8-12.6-.4-13.5-1.4-12.6-2.8-12.5-3.6-10.4-1.9-4.3-3-5.1-2.2-3.2-3.2-3.4-2.2-1.8-3-1.8-3.1-1.1-3.2-.4-3.1,.3-3.1,1.2-3.1,1.8-2.2,1.8-3.1,3.3-2.1,2.9-4.2,7.5-3.7,9.6-2.9,11.5-1.9,12.5-.8,12.5 .3,12.5 1.3,12.6 2.5,11.5 3.1,9.6 4.2,8.7 2.3,3.6 2.9,3.7 2.6,2.5 2.7,2 3.1,1.6 2.2,.6z" fill="#4262aa" stroke="#000" stroke-opacity="0.5" stroke-width="0.7"/>
<path d="M529.2,813.6l3,.7 2.1,0 2.7-.7 2.5-1.2 2.1-1.6 2.1-2 2.1-2.6 2.1-3.3 3.2-7 3-9.9 1.8-10 .9-10.4-.1-10.5-1.1-10.4-2.1-10.4-2.8-8.4-1.8-4-2.1-3.7-2.1-2.9-2.1-2.3-2.1-1.8-2.1-1.3-2-.8-3.2-.5-2.1,.2-2.1,.6-2,1.1-2.1,1.5-2.1,2-2.1,2.6-3.6,6.2-3,7.3-2.2,8.3-1.6,9.4-.8,9.4 0,9.4 .8,9.4 1.7,9.4 2.4,8.6 3,7.1 3.3,5.4 2.1,2.5 2.1,2 2.1,1.5 2.2,1.1z" fill="#385ba3" stroke="#000" stroke-opacity="0.5" stroke-width="0.7"/>
<path d="M530.1,793.8l3.1,.7 3.2-.8 3.1-2.4 2.1-2.7 2.2-4.2 2-5.6 1.2-5.9 .9-7.5 0-7.1-.6-6.3-1.4-7.3-1.7-5.2-2-4.2-2.7-3.7-3.1-2.4-3.2-.8-2.8,.6-2.4,1.5-2.5,2.7-2.4,4.2-1.7,4.2-1.5,5.2-.9,5.2-.6,6.3 0,6.2 .4,5.3 .8,5.2 1.7,6.2 1.5,3.8 2.1,3.8 2.3,2.9 2.9,2.1z" fill="#31569a" stroke="#000" stroke-opacity="0.5" stroke-width="0.7"/>
</g>
<line x1="482.3" y1="813.9" x2="528.5" y2="767.2" stroke="#58c040" stroke-width="2.4"/>
<path d="M533.4,762.4 L529.86,772.3 L523.5,765.94 Z" fill="#58c040"/>
<circle cx="482" cy="814.2" r="2.7" fill="#111"/>
<circle cx="533.8" cy="762.2" r="2.7" fill="#111"/>
<rect x="399.2" y="680.2" width="215.8" height="215.3" fill="none" stroke="#111" stroke-width="1.3"/>
<path d="M402.6,895.5 v-4 M402.6,680.6 v4 M399.6,891.9 h4 M614.6,891.9 h-4 M415.66,895.5 v-2.2 M415.66,680.6 v2.2 M399.6,878.85 h2.2 M614.6,878.85 h-2.2 M428.73,895.5 v-2.2 M428.73,680.6 v2.2 M399.6,865.8 h2.2 M614.6,865.8 h-2.2 M441.79,895.5 v-2.2 M441.79,680.6 v2.2 M399.6,852.75 h2.2 M614.6,852.75 h-2.2 M454.85,895.5 v-4 M454.85,680.6 v4 M399.6,839.7 h4 M614.6,839.7 h-4 M467.91,895.5 v-2.2 M467.91,680.6 v2.2 M399.6,826.65 h2.2 M614.6,826.65 h-2.2 M480.98,895.5 v-2.2 M480.98,680.6 v2.2 M399.6,813.6 h2.2 M614.6,813.6 h-2.2 M494.04,895.5 v-2.2 M494.04,680.6 v2.2 M399.6,800.55 h2.2 M614.6,800.55 h-2.2 M507.1,895.5 v-4 M507.1,680.6 v4 M399.6,787.5 h4 M614.6,787.5 h-4 M520.16,895.5 v-2.2 M520.16,680.6 v2.2 M399.6,774.45 h2.2 M614.6,774.45 h-2.2 M533.23,895.5 v-2.2 M533.23,680.6 v2.2 M399.6,761.4 h2.2 M614.6,761.4 h-2.2 M546.29,895.5 v-2.2 M546.29,680.6 v2.2 M399.6,748.35 h2.2 M614.6,748.35 h-2.2 M559.35,895.5 v-4 M559.35,680.6 v4 M399.6,735.3 h4 M614.6,735.3 h-4 M572.41,895.5 v-2.2 M572.41,680.6 v2.2 M399.6,722.25 h2.2 M614.6,722.25 h-2.2 M585.48,895.5 v-2.2 M585.48,680.6 v2.2 M399.6,709.2 h2.2 M614.6,709.2 h-2.2 M598.54,895.5 v-2.2 M598.54,680.6 v2.2 M399.6,696.15 h2.2 M614.6,696.15 h-2.2 M611.6,895.5 v-4 M611.6,680.6 v4 M399.6,683.1 h4 M614.6,683.1 h-4" stroke="#111" stroke-width="0.9" fill="none"/>
<text x="402.6" y="914.5" style="font-family:'Liberation Serif',serif;font-size:17px;fill:#111" text-anchor="middle">&#8722;4</text>
<text x="395.5" y="897.9" style="font-family:'Liberation Serif',serif;font-size:17px;fill:#111" text-anchor="end">&#8722;4</text>
<text x="454.85" y="914.5" style="font-family:'Liberation Serif',serif;font-size:17px;fill:#111" text-anchor="middle">&#8722;2</text>
<text x="395.5" y="845.7" style="font-family:'Liberation Serif',serif;font-size:17px;fill:#111" text-anchor="end">&#8722;2</text>
<text x="507.1" y="914.5" style="font-family:'Liberation Serif',serif;font-size:17px;fill:#111" text-anchor="middle">0</text>
<text x="395.5" y="793.5" style="font-family:'Liberation Serif',serif;font-size:17px;fill:#111" text-anchor="end">0</text>
<text x="559.35" y="914.5" style="font-family:'Liberation Serif',serif;font-size:17px;fill:#111" text-anchor="middle">2</text>
<text x="395.5" y="741.3" style="font-family:'Liberation Serif',serif;font-size:17px;fill:#111" text-anchor="end">2</text>
<text x="611.6" y="914.5" style="font-family:'Liberation Serif',serif;font-size:17px;fill:#111" text-anchor="middle">4</text>
<text x="395.5" y="689.1" style="font-family:'Liberation Serif',serif;font-size:17px;fill:#111" text-anchor="end">4</text>
<text x="488.5" y="940" style="font-family:'Liberation Serif',serif;font-size:18px;fill:#111"><tspan font-style="italic">y</tspan><tspan dy="3.5" font-size="13">1</tspan><tspan dy="-3.5" dx="0.8">/</tspan><tspan font-style="italic">y</tspan><tspan dy="3.5" font-size="13">10</tspan></text>
<text transform="translate(369.2,807) rotate(-90)" style="font-family:'Liberation Serif',serif;font-size:17.5px;fill:#111"><tspan font-style="italic">y</tspan><tspan dy="3" font-size="12.5">2</tspan><tspan dy="-3" dx="0.8">/</tspan><tspan font-style="italic">y</tspan><tspan dy="3" font-size="12.5">20</tspan></text>
<rect x="622" y="893.95" width="9.2" height="0.75" fill="#2e5496"/>
<rect x="622" y="889.49" width="9.2" height="4.76" fill="#32569a"/>
<rect x="622" y="885.03" width="9.2" height="4.76" fill="#385ca4"/>
<rect x="622" y="880.57" width="9.2" height="4.76" fill="#4060aa"/>
<rect x="622" y="876.11" width="9.2" height="4.76" fill="#4666ac"/>
<rect x="622" y="871.65" width="9.2" height="4.76" fill="#4e6aad"/>
<rect x="622" y="867.19" width="9.2" height="4.76" fill="#5870ab"/>
<rect x="622" y="862.73" width="9.2" height="4.76" fill="#6174a8"/>
<rect x="622" y="858.27" width="9.2" height="4.76" fill="#6a78a2"/>
<rect x="622" y="853.81" width="9.2" height="4.76" fill="#747b9c"/>
<rect x="622" y="849.35" width="9.2" height="4.76" fill="#7f7d96"/>
<rect x="622" y="844.89" width="9.2" height="4.76" fill="#898090"/>
<rect x="622" y="840.43" width="9.2" height="4.76" fill="#92828a"/>
<rect x="622" y="835.97" width="9.2" height="4.76" fill="#9d8685"/>
<rect x="622" y="831.51" width="9.2" height="4.76" fill="#aa8c7f"/>
<rect x="622" y="827.05" width="9.2" height="4.76" fill="#b69179"/>
<rect x="622" y="822.59" width="9.2" height="4.76" fill="#c39773"/>
<rect x="622" y="818.13" width="9.2" height="4.76" fill="#ce9c6c"/>
<rect x="622" y="813.67" width="9.2" height="4.76" fill="#d89e64"/>
<rect x="622" y="809.21" width="9.2" height="4.76" fill="#e0a15d"/>
<rect x="622" y="804.75" width="9.2" height="4.76" fill="#e5a358"/>
<rect x="622" y="800.29" width="9.2" height="4.76" fill="#e9a456"/>
<rect x="622" y="795.83" width="9.2" height="4.76" fill="#eaa658"/>
<rect x="622" y="791.36" width="9.2" height="4.76" fill="#eba659"/>
<rect x="622" y="786.9" width="9.2" height="4.76" fill="#eca85b"/>
<rect x="622" y="782.44" width="9.2" height="4.76" fill="#eeaa5f"/>
<rect x="622" y="777.98" width="9.2" height="4.76" fill="#efb065"/>
<rect x="622" y="773.52" width="9.2" height="4.76" fill="#f1b46b"/>
<rect x="622" y="769.06" width="9.2" height="4.76" fill="#f2ba71"/>
<rect x="622" y="764.6" width="9.2" height="4.76" fill="#f4be77"/>
<rect x="622" y="760.14" width="9.2" height="4.76" fill="#f5c37d"/>
<rect x="622" y="755.68" width="9.2" height="4.76" fill="#f6c883"/>
<rect x="622" y="751.22" width="9.2" height="4.76" fill="#f7cd89"/>
<rect x="622" y="746.76" width="9.2" height="4.76" fill="#f8d18f"/>
<rect x="622" y="742.3" width="9.2" height="4.76" fill="#f9d595"/>
<rect x="622" y="737.84" width="9.2" height="4.76" fill="#fad89b"/>
<rect x="622" y="733.38" width="9.2" height="4.76" fill="#fbdca1"/>
<rect x="622" y="728.92" width="9.2" height="4.76" fill="#fbe0a8"/>
<rect x="622" y="724.46" width="9.2" height="4.76" fill="#fce4ae"/>
<rect x="622" y="720" width="9.2" height="4.76" fill="#fce8b6"/>
<rect x="622" y="715.54" width="9.2" height="4.76" fill="#fdecbc"/>
<rect x="622" y="714.2" width="9.2" height="1.64" fill="#fdeec0"/>
<line x1="622" y1="893.95" x2="631.2" y2="893.95" stroke="#000" stroke-width="0.6" stroke-opacity="0.45"/>
<line x1="622" y1="889.49" x2="631.2" y2="889.49" stroke="#000" stroke-width="0.6" stroke-opacity="0.45"/>
<line x1="622" y1="885.03" x2="631.2" y2="885.03" stroke="#000" stroke-width="0.6" stroke-opacity="0.45"/>
<line x1="622" y1="880.57" x2="631.2" y2="880.57" stroke="#000" stroke-width="0.6" stroke-opacity="0.45"/>
<line x1="622" y1="876.11" x2="631.2" y2="876.11" stroke="#000" stroke-width="0.6" stroke-opacity="0.45"/>
<line x1="622" y1="871.65" x2="631.2" y2="871.65" stroke="#000" stroke-width="0.6" stroke-opacity="0.45"/>
<line x1="622" y1="867.19" x2="631.2" y2="867.19" stroke="#000" stroke-width="0.6" stroke-opacity="0.45"/>
<line x1="622" y1="862.73" x2="631.2" y2="862.73" stroke="#000" stroke-width="0.6" stroke-opacity="0.45"/>
<line x1="622" y1="858.27" x2="631.2" y2="858.27" stroke="#000" stroke-width="0.6" stroke-opacity="0.45"/>
<line x1="622" y1="853.81" x2="631.2" y2="853.81" stroke="#000" stroke-width="0.6" stroke-opacity="0.45"/>
<line x1="622" y1="849.35" x2="631.2" y2="849.35" stroke="#000" stroke-width="0.6" stroke-opacity="0.45"/>
<line x1="622" y1="844.89" x2="631.2" y2="844.89" stroke="#000" stroke-width="0.6" stroke-opacity="0.45"/>
<line x1="622" y1="840.43" x2="631.2" y2="840.43" stroke="#000" stroke-width="0.6" stroke-opacity="0.45"/>
<line x1="622" y1="835.97" x2="631.2" y2="835.97" stroke="#000" stroke-width="0.6" stroke-opacity="0.45"/>
<line x1="622" y1="831.51" x2="631.2" y2="831.51" stroke="#000" stroke-width="0.6" stroke-opacity="0.45"/>
<line x1="622" y1="827.05" x2="631.2" y2="827.05" stroke="#000" stroke-width="0.6" stroke-opacity="0.45"/>
<line x1="622" y1="822.59" x2="631.2" y2="822.59" stroke="#000" stroke-width="0.6" stroke-opacity="0.45"/>
<line x1="622" y1="818.13" x2="631.2" y2="818.13" stroke="#000" stroke-width="0.6" stroke-opacity="0.45"/>
<line x1="622" y1="813.67" x2="631.2" y2="813.67" stroke="#000" stroke-width="0.6" stroke-opacity="0.45"/>
<line x1="622" y1="809.21" x2="631.2" y2="809.21" stroke="#000" stroke-width="0.6" stroke-opacity="0.45"/>
<line x1="622" y1="804.75" x2="631.2" y2="804.75" stroke="#000" stroke-width="0.6" stroke-opacity="0.45"/>
<line x1="622" y1="800.29" x2="631.2" y2="800.29" stroke="#000" stroke-width="0.6" stroke-opacity="0.45"/>
<line x1="622" y1="795.83" x2="631.2" y2="795.83" stroke="#000" stroke-width="0.6" stroke-opacity="0.45"/>
<line x1="622" y1="791.36" x2="631.2" y2="791.36" stroke="#000" stroke-width="0.6" stroke-opacity="0.45"/>
<line x1="622" y1="786.9" x2="631.2" y2="786.9" stroke="#000" stroke-width="0.6" stroke-opacity="0.45"/>
<line x1="622" y1="782.44" x2="631.2" y2="782.44" stroke="#000" stroke-width="0.6" stroke-opacity="0.45"/>
<line x1="622" y1="777.98" x2="631.2" y2="777.98" stroke="#000" stroke-width="0.6" stroke-opacity="0.45"/>
<line x1="622" y1="773.52" x2="631.2" y2="773.52" stroke="#000" stroke-width="0.6" stroke-opacity="0.45"/>
<line x1="622" y1="769.06" x2="631.2" y2="769.06" stroke="#000" stroke-width="0.6" stroke-opacity="0.45"/>
<line x1="622" y1="764.6" x2="631.2" y2="764.6" stroke="#000" stroke-width="0.6" stroke-opacity="0.45"/>
<line x1="622" y1="760.14" x2="631.2" y2="760.14" stroke="#000" stroke-width="0.6" stroke-opacity="0.45"/>
<line x1="622" y1="755.68" x2="631.2" y2="755.68" stroke="#000" stroke-width="0.6" stroke-opacity="0.45"/>
<line x1="622" y1="751.22" x2="631.2" y2="751.22" stroke="#000" stroke-width="0.6" stroke-opacity="0.45"/>
<line x1="622" y1="746.76" x2="631.2" y2="746.76" stroke="#000" stroke-width="0.6" stroke-opacity="0.45"/>
<line x1="622" y1="742.3" x2="631.2" y2="742.3" stroke="#000" stroke-width="0.6" stroke-opacity="0.45"/>
<line x1="622" y1="737.84" x2="631.2" y2="737.84" stroke="#000" stroke-width="0.6" stroke-opacity="0.45"/>
<line x1="622" y1="733.38" x2="631.2" y2="733.38" stroke="#000" stroke-width="0.6" stroke-opacity="0.45"/>
<line x1="622" y1="728.92" x2="631.2" y2="728.92" stroke="#000" stroke-width="0.6" stroke-opacity="0.45"/>
<line x1="622" y1="724.46" x2="631.2" y2="724.46" stroke="#000" stroke-width="0.6" stroke-opacity="0.45"/>
<line x1="622" y1="720" x2="631.2" y2="720" stroke="#000" stroke-width="0.6" stroke-opacity="0.45"/>
<line x1="622" y1="715.54" x2="631.2" y2="715.54" stroke="#000" stroke-width="0.6" stroke-opacity="0.45"/>
<rect x="622" y="714.2" width="9.2" height="180.2" fill="none" stroke="#bbb" stroke-width="0.4"/>
<line x1="631.2" y1="876.11" x2="634.5" y2="876.11" stroke="#111" stroke-width="0.8"/>
<text x="635" y="881.61" style="font-family:'Liberation Serif',serif;font-size:17px;fill:#111" text-anchor="start">&#8722;2</text>
<line x1="631.2" y1="858.27" x2="634.5" y2="858.27" stroke="#111" stroke-width="0.8"/>
<text x="635" y="863.77" style="font-family:'Liberation Serif',serif;font-size:17px;fill:#111" text-anchor="start">0</text>
<line x1="631.2" y1="840.43" x2="634.5" y2="840.43" stroke="#111" stroke-width="0.8"/>
<text x="635" y="845.93" style="font-family:'Liberation Serif',serif;font-size:17px;fill:#111" text-anchor="start">2</text>
<line x1="631.2" y1="822.59" x2="634.5" y2="822.59" stroke="#111" stroke-width="0.8"/>
<text x="635" y="828.09" style="font-family:'Liberation Serif',serif;font-size:17px;fill:#111" text-anchor="start">4</text>
<line x1="631.2" y1="804.75" x2="634.5" y2="804.75" stroke="#111" stroke-width="0.8"/>
<text x="635" y="810.25" style="font-family:'Liberation Serif',serif;font-size:17px;fill:#111" text-anchor="start">6</text>
<line x1="631.2" y1="786.9" x2="634.5" y2="786.9" stroke="#111" stroke-width="0.8"/>
<text x="635" y="792.4" style="font-family:'Liberation Serif',serif;font-size:17px;fill:#111" text-anchor="start">8</text>
<line x1="631.2" y1="769.06" x2="634.5" y2="769.06" stroke="#111" stroke-width="0.8"/>
<text x="635" y="774.56" style="font-family:'Liberation Serif',serif;font-size:17px;fill:#111" text-anchor="start">10</text>
<line x1="631.2" y1="751.22" x2="634.5" y2="751.22" stroke="#111" stroke-width="0.8"/>
<text x="635" y="756.72" style="font-family:'Liberation Serif',serif;font-size:17px;fill:#111" text-anchor="start">12</text>
<line x1="631.2" y1="733.38" x2="634.5" y2="733.38" stroke="#111" stroke-width="0.8"/>
<text x="635" y="738.88" style="font-family:'Liberation Serif',serif;font-size:17px;fill:#111" text-anchor="start">14</text>
<text x="619.2" y="704.6" style="font-family:'Liberation Serif',serif;font-size:18.5px;fill:#111"><tspan font-style="italic">E</tspan><tspan dx="1.6">/</tspan><tspan font-style="italic" dx="1.2">&#969;</tspan><tspan dy="4" font-size="13.5">1</tspan></text>
</svg>
</body></html>
